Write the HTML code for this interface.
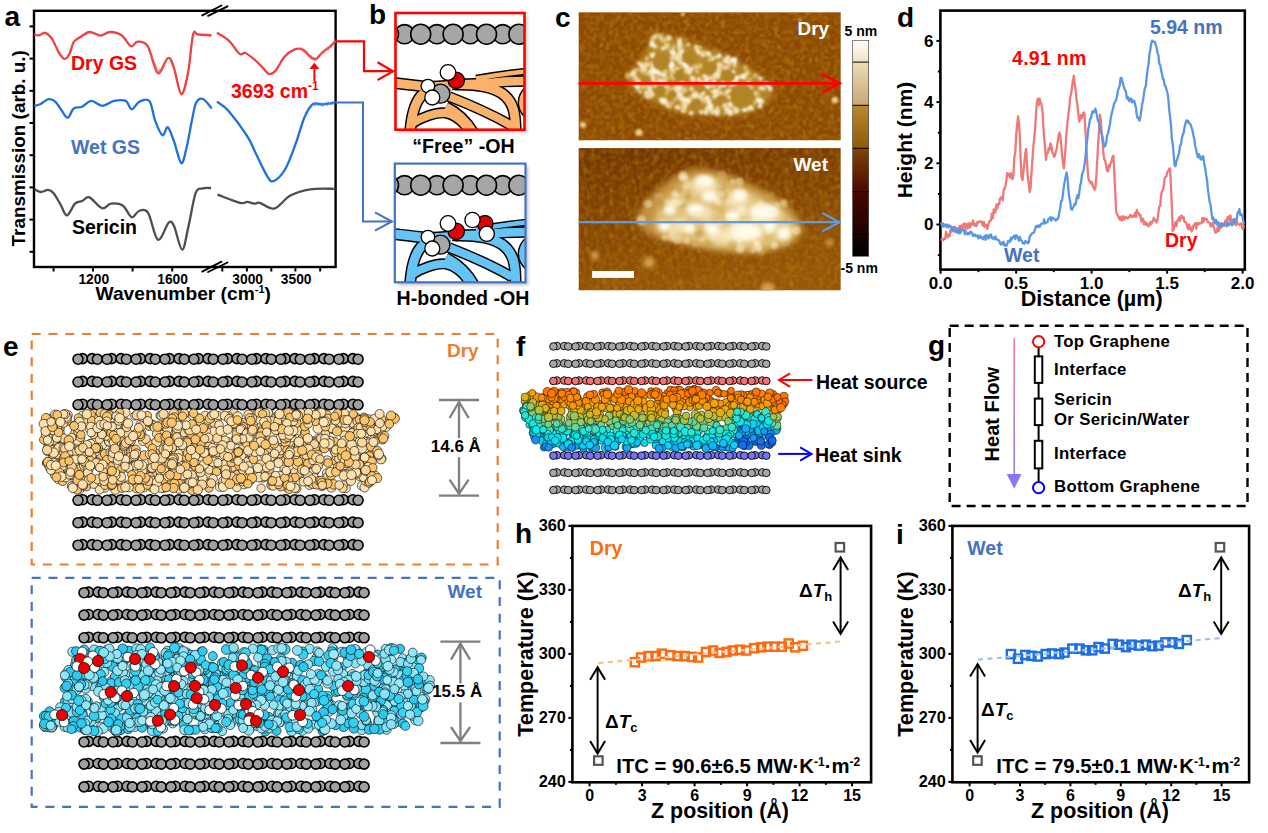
<!DOCTYPE html>
<html><head><meta charset="utf-8"><style>
html,body{margin:0;padding:0;background:#fff;}
svg{display:block;font-family:"Liberation Sans", sans-serif;}
</style></head><body>
<svg width="1268" height="833" viewBox="0 0 1268 833">
<rect width="1268" height="833" fill="#fff"/>
<rect x="34" y="10.8" width="301.6" height="256.2" fill="none" stroke="#000" stroke-width="2.4"/>
<line x1="29.5" y1="26.4" x2="34" y2="26.4" stroke="#000" stroke-width="2"/>
<line x1="29.5" y1="58.6" x2="34" y2="58.6" stroke="#000" stroke-width="2"/>
<line x1="29.5" y1="90.8" x2="34" y2="90.8" stroke="#000" stroke-width="2"/>
<line x1="29.5" y1="123" x2="34" y2="123" stroke="#000" stroke-width="2"/>
<line x1="29.5" y1="155.2" x2="34" y2="155.2" stroke="#000" stroke-width="2"/>
<line x1="29.5" y1="187.4" x2="34" y2="187.4" stroke="#000" stroke-width="2"/>
<line x1="29.5" y1="219.6" x2="34" y2="219.6" stroke="#000" stroke-width="2"/>
<line x1="29.5" y1="251.8" x2="34" y2="251.8" stroke="#000" stroke-width="2"/>
<line x1="53.6" y1="267" x2="53.6" y2="271.5" stroke="#000" stroke-width="2"/>
<line x1="93" y1="267" x2="93" y2="271.5" stroke="#000" stroke-width="2"/>
<line x1="132.6" y1="267" x2="132.6" y2="271.5" stroke="#000" stroke-width="2"/>
<line x1="172.2" y1="267" x2="172.2" y2="271.5" stroke="#000" stroke-width="2"/>
<line x1="222.3" y1="267" x2="222.3" y2="271.5" stroke="#000" stroke-width="2"/>
<line x1="246.9" y1="267" x2="246.9" y2="271.5" stroke="#000" stroke-width="2"/>
<line x1="271.3" y1="267" x2="271.3" y2="271.5" stroke="#000" stroke-width="2"/>
<line x1="295.4" y1="267" x2="295.4" y2="271.5" stroke="#000" stroke-width="2"/>
<line x1="320.2" y1="267" x2="320.2" y2="271.5" stroke="#000" stroke-width="2"/>
<line x1="202.2" y1="15.4" x2="221.5" y2="5.5" stroke="#000" stroke-width="1.9" stroke-linecap="round"/>
<line x1="208.1" y1="15.8" x2="227.5" y2="6.3" stroke="#000" stroke-width="1.9" stroke-linecap="round"/>
<line x1="202.2" y1="271.6" x2="221.5" y2="261.7" stroke="#000" stroke-width="1.9" stroke-linecap="round"/>
<line x1="208.1" y1="272" x2="227.5" y2="262.5" stroke="#000" stroke-width="1.9" stroke-linecap="round"/>
<text x="93.8" y="284" font-size="13.8" fill="#000" text-anchor="middle" font-weight="bold" >1200</text>
<text x="172.6" y="284" font-size="13.8" fill="#000" text-anchor="middle" font-weight="bold" >1600</text>
<text x="247.7" y="284" font-size="13.8" fill="#000" text-anchor="middle" font-weight="bold" >3000</text>
<text x="296.2" y="284" font-size="13.8" fill="#000" text-anchor="middle" font-weight="bold" >3500</text>
<text x="95.5" y="300.2" font-size="19.2" font-weight="bold" fill="#000">Wavenumber (cm<tspan font-size="11" dy="-7.5">-1</tspan><tspan dy="7.5">)</tspan></text>
<text transform="translate(24.8,148.3) rotate(-90)" x="0" y="0" font-size="18.9" font-weight="bold" text-anchor="middle" fill="#000">Transmission (arb. u.)</text>
<path d="M34.2,34.5C35,34.6 37.4,35.6 39.2,35.3C41,35 43,32.2 45.1,32.8C47.2,33.4 49.6,35.5 51.9,38.7C54.1,41.9 56.5,48.7 58.6,52.1C60.7,55.5 62.7,58.6 64.5,58.9C66.3,59.2 68,56.6 69.5,53.8C71,51 71.9,44.8 73.7,42C75.5,39.2 77.7,38.7 80.4,37C83.1,35.3 86.3,32.2 89.7,32C93.1,31.8 97.2,35.6 100.6,35.6C104,35.6 106.4,32 109.9,32C113.4,31.9 118.1,32.9 121.6,35.3C125.1,37.7 128.2,45.1 130.9,46.2C133.6,47.3 134.8,41.7 137.6,41.7C140.4,41.7 144.3,41 147.7,46.2C151.1,51.4 154.4,71.1 157.8,73.1C161.2,75.1 165.2,59 167.9,58C170.6,57 171.6,61.3 173.8,67.3C176,73.3 178.9,93.4 181.3,94.2C183.7,95 186.1,82.2 188.1,72.3C190.1,62.3 191.4,40.8 193.1,34.5C194.8,28.2 195,34.4 198.1,34.5C201.2,34.6 209.3,35.2 211.6,35.3" fill="none" stroke="#EE4040" stroke-width="2.3" stroke-linejoin="round"/>
<path d="M216.9,32.8C218.8,34.1 224.8,36.9 228.6,40.4C232.4,43.9 236.8,51.7 239.6,53.8C242.4,55.9 242.8,51.9 245.4,53C248.1,54.1 252.7,58.1 255.5,60.5C258.3,62.9 260.1,65 262.3,67.3C264.6,69.5 266.8,73.5 269,74C271.2,74.5 273.2,73.4 275.7,70.6C278.2,67.8 281,60.7 284.1,57.2C287.2,53.7 291.1,50.9 294.2,49.6C297.3,48.3 299.8,48.3 302.6,49.6C305.4,50.9 308.8,55.7 311,57.2C313.2,58.8 314.1,59.8 316.1,58.9C318.1,58 320.6,54.1 322.8,52.1C325,50.1 327.4,48.9 329.5,47.1C331.6,45.3 334.4,42.2 335.4,41.2" fill="none" stroke="#EE4040" stroke-width="2.3" stroke-linejoin="round"/>
<path d="M34.2,105.9C35.2,105.6 37.7,105.4 40.1,104.3C42.5,103.2 46,99.6 48.5,99.2C51,98.8 53,99.7 55.2,101.7C57.5,103.7 59.9,108.3 62,111C64.1,113.7 65.8,118.1 67.8,117.7C69.8,117.3 71.3,110.3 73.7,108.5C76.1,106.7 79.1,108.1 82.1,106.8C85,105.5 88,101.1 91.4,100.9C94.8,100.8 98.5,105.9 102.3,105.9C106.1,105.9 110.2,101.7 114.1,100.9C118,100.1 122.9,99.5 125.8,100.9C128.7,102.3 129.4,109.2 131.7,109.3C133.9,109.4 136.4,103.1 139.3,101.7C142.2,100.3 146.7,97.7 149.4,100.9C152.1,104.1 153.1,115.4 155.3,121.1C157.5,126.8 160.3,134.3 162.4,135.3C164.5,136.3 165.9,126.2 167.8,127.2C169.8,128.2 171.8,135.6 174.1,141.6C176.3,147.6 179.2,162.3 181.3,163.2C183.4,164.1 184.9,154.2 186.7,147C188.5,139.8 190.4,127.3 192,120C193.6,112.7 194.2,106.5 196,103C197.8,99.5 200.4,98.1 203,99C205.6,99.9 210.3,106.9 211.8,108.5" fill="none" stroke="#1E6FE0" stroke-width="2.3" stroke-linejoin="round"/>
<path d="M216.9,101.7C218.8,103.2 223.6,105.2 228.6,111C233.6,116.8 242.6,129 247.2,136.2C251.8,143.4 252.9,147.6 256.2,154.2C259.5,160.8 264.1,171.3 267,175.8C269.9,180.3 270.3,182.2 273.3,181.2C276.3,180.1 281.2,175.8 285,169.5C288.8,163.2 292.6,152 295.8,143.4C299,134.8 301.5,124.2 304.3,117.7C307.1,111.2 309.6,106.5 312.7,104.3C315.8,102.1 319,104.6 322.8,104.3C326.6,104 333.3,102.9 335.4,102.6" fill="none" stroke="#1E6FE0" stroke-width="2.3" stroke-linejoin="round"/>
<path d="M34.5,189.3C35.5,189.8 38.5,191.9 40.8,192C43,192.1 45.9,189.8 48,189.9C50.1,190.1 51.3,190.5 53.4,192.9C55.5,195.3 58.4,200.8 60.6,204.6C62.9,208.3 64.5,215.6 66.9,215.4C69.3,215.2 72.5,206.1 75,203.7C77.5,201.3 79.8,202.1 82.2,201C84.6,199.9 86.1,196.2 89.4,197.4C92.7,198.6 98.4,207.1 102,208.2C105.6,209.2 107.5,204.1 111,203.7C114.5,203.2 119.2,203.2 122.7,205.5C126.2,207.8 129,216.3 131.7,217.2C134.4,218.1 136.3,211.8 139,211C141.7,210.2 144.8,207.9 148,212.7C151.2,217.5 154.5,238.2 157.9,239.8C161.3,241.5 166,224.9 168.7,222.6C171.4,220.3 171.8,221.7 174.1,226.2C176.3,230.7 179.8,249.7 182.2,249.7C184.6,249.7 186.2,235.7 188.5,226.2C190.8,216.7 193.3,199.2 195.7,192.9C198.1,186.6 200.3,189.2 202.9,188.4C205.5,187.6 209.7,188.1 211,188" fill="none" stroke="#4D4D4D" stroke-width="2.3" stroke-linejoin="round"/>
<path d="M217.5,194.7C221.2,196 235.1,201.6 240,202.8C244.9,204 244.8,201.8 247.2,201.9C249.6,202.1 252.3,203.5 254.4,203.7C256.5,203.8 256.5,202 259.8,202.8C263.1,203.6 269.1,209.8 274.2,208.6C279.3,207.4 284.4,198.8 290.4,195.6C296.4,192.4 302.8,190.4 310.3,189.3C317.8,188.2 331.3,188.9 335.5,188.8" fill="none" stroke="#4D4D4D" stroke-width="2.3" stroke-linejoin="round"/>
<path d="M300,48.3 L300.5,49.8 M300.6,48.9 L301.1,50.1 M301.2,50.2 L301.7,47.4 M301.8,47.2 L302.3,51.3 M302.4,48.4 L302.9,48.3 M303,52.4 L303.5,49.8 M303.6,52.2 L304.1,50.3 M304.2,51.7 L304.7,49.3 M304.7,52.2 L305.2,53.4 M305.3,52.2 L305.8,53.3 M305.9,53.5 L306.4,50.4 M306.5,54.4 L307,53.6 M307.1,52.7 L307.6,51.3 M307.7,56.1 L308.2,54.1 M308.3,55.9 L308.8,56.7 M308.9,56.4 L309.4,57.4 M309.5,55.3 L310,57.3 M310.1,56.1 L310.6,58.5 M310.7,58.8 L311.2,54.9 M311.3,55.5 L311.8,55.9 M311.9,59.8 L312.4,57.2 M312.5,58.3 L313,56.7 M313.1,57.9 L313.6,57.3 M313.6,57.3 L314.1,58.5 M314.2,58.7 L314.7,60.3 M314.8,59.4 L315.3,60.6 M315.4,60.5 L315.9,61.1 M316,59.7 L316.5,57.2 M316.6,60.2 L317.1,60.7 M317.2,59.8 L317.7,58.1 M317.8,58.2 L318.3,55.7 M318.4,58.2 L318.9,56.9 M319,54.9 L319.5,53.8 M319.6,57.1 L320.1,57.8 M320.2,52.7 L320.7,56.3 M320.8,53.7 L321.3,52.4 M321.4,52.5 L321.9,54.9 M321.9,54.8 L322.4,50.7 M322.5,52.9 L323,50.1 M323.1,52.9 L323.6,51 M323.7,53.3 L324.2,53.8 M324.3,51 L324.8,53.5 M324.9,49.6 L325.4,48.4 M325.5,50.6 L326,47.7 M326.1,48.1 L326.6,49.2 M326.7,49.7 L327.2,47.5 M327.3,46.5 L327.8,50.6 M327.9,47.4 L328.4,50.6 M328.5,49.8 L329,47.3 M329.1,47.2 L329.6,47.5 M329.7,47.7 L330.2,47.4 M330.3,46.6 L330.8,46.9 M330.8,48 L331.3,45.8 M331.4,44.8 L331.9,46.3 M332,43.3 L332.5,43.6 M332.6,46.4 L333.1,44.1 M333.2,43.6 L333.7,40.9 M333.8,42.4 L334.3,43.2 M334.4,39.8 L334.9,42.8 M335,42.3 L335.5,39.4 " stroke="#EE6060" stroke-width="0.7" opacity="0.8"/>
<path d="M306,115.6 L306.5,114.8 M306.5,115.1 L307,113.5 M307,114.5 L307.5,114.6 M307.5,110.2 L308,110.4 M308,112.7 L308.5,114.2 M308.5,109.8 L309,110.8 M308.9,110.7 L309.4,109.4 M309.4,108.8 L309.9,108.6 M309.9,108.1 L310.4,109.2 M310.4,106.9 L310.9,107.3 M310.9,108.5 L311.4,104.8 M311.4,106.7 L311.9,107.5 M311.9,104.6 L312.4,104.2 M312.4,106.3 L312.9,103.5 M312.9,102.7 L313.4,104 M313.4,105.3 L313.9,102.3 M313.9,103.4 L314.4,103.5 M314.4,106 L314.9,104 M314.8,106.1 L315.3,102.6 M315.3,103.5 L315.8,105.1 M315.8,106.2 L316.3,104.1 M316.3,102.9 L316.8,102.4 M316.8,104.4 L317.3,102.8 M317.3,105.8 L317.8,106 M317.8,102.7 L318.3,103.2 M318.3,105.8 L318.8,105 M318.8,105.8 L319.3,103.5 M319.3,102.4 L319.8,103.3 M319.8,105.8 L320.3,103.2 M320.3,103.5 L320.8,103.9 M320.7,103.9 L321.2,103.8 M321.2,106.4 L321.7,102.6 M321.7,101.8 L322.2,106.5 M322.2,106.2 L322.7,106.7 M322.7,104 L323.2,106.6 M323.2,106.4 L323.7,102.9 M323.7,105.4 L324.2,105.9 M324.2,104.9 L324.7,104.2 M324.7,103 L325.2,103.3 M325.2,102.6 L325.7,101.8 M325.7,104.4 L326.2,102.8 M326.2,105.4 L326.7,101.6 M326.6,105.8 L327.1,104.7 M327.1,105.8 L327.6,105.7 M327.6,105.6 L328.1,104 M328.1,101.1 L328.6,104.8 M328.6,101.9 L329.1,102.5 M329.1,104.3 L329.6,103.6 M329.6,103 L330.1,105.6 M330.1,103.9 L330.6,102.5 M330.6,102 L331.1,105.1 M331.1,103.1 L331.6,104.6 M331.6,102.4 L332.1,101.6 M332.1,103.2 L332.6,104.6 M332.5,101.3 L333,104.4 M333,105 L333.5,104.4 M333.5,104.5 L334,100.4 M334,103.4 L334.5,104.6 M334.5,100.5 L335,101.6 M335,101.5 L335.5,102.8 " stroke="#4A8AE8" stroke-width="0.7" opacity="0.8"/>
<path d="M150,51.9 L150.5,52.2 M150.2,54.2 L150.7,50.3 M150.3,51 L150.8,51.4 M150.5,51.8 L151,51.5 M150.7,56.5 L151.2,55.9 M150.8,52.5 L151.3,54.6 M151,54.1 L151.5,54.1 M151.2,54.7 L151.7,56.2 M151.4,56.4 L151.9,55.2 M151.5,54.8 L152,55.5 M151.7,55 L152.2,57.1 M151.9,58.4 L152.4,56.7 M152,55.6 L152.5,56.1 M152.2,57.6 L152.7,58.7 M152.4,60.1 L152.9,58 M152.5,60.6 L153,59.7 M152.7,59.2 L153.2,58.9 M152.9,60 L153.4,61 M153.1,60.1 L153.6,61.4 M153.2,60.7 L153.7,59.6 M153.4,61.5 L153.9,62.3 M153.6,59.7 L154.1,61.4 M153.7,61.9 L154.2,64.2 M153.9,64.9 L154.4,62.1 M154.1,65.1 L154.6,64.6 M154.2,62.4 L154.7,63.4 M154.4,62.2 L154.9,65.6 M154.6,65.3 L155.1,66.5 M154.7,66.4 L155.2,65.8 M154.9,66.6 L155.4,65.7 M155.1,63.9 L155.6,66.3 M155.3,63.8 L155.8,64.5 M155.4,68.1 L155.9,64.5 M155.6,65.2 L156.1,65.2 M155.8,69.6 L156.3,66.1 M155.9,65.7 L156.4,69.8 M156.1,66.7 L156.6,70.3 M156.3,69.9 L156.8,70.7 M156.4,71.7 L156.9,69.9 M156.6,71.4 L157.1,67.6 M156.8,71.7 L157.3,70.4 M156.9,71.9 L157.4,68.9 M157.1,72.5 L157.6,73.5 M157.3,69.5 L157.8,70.9 M157.5,72.5 L158,73.8 M157.6,71.4 L158.1,71 M157.8,71.8 L158.3,73.7 M158,74.1 L158.5,72.3 M158.1,71.9 L158.6,72.1 M158.3,71.6 L158.8,71.9 M158.5,70 L159,72.1 M158.6,74.2 L159.1,71.4 M158.8,72.8 L159.3,69.9 M159,72.3 L159.5,72.6 M159.2,71.9 L159.7,71.2 M159.3,70.7 L159.8,71.5 M159.5,72.6 L160,68.8 M159.7,68.3 L160.2,71.6 M159.8,72.1 L160.3,70.2 M160,69.5 L160.5,70.9 " stroke="#EE6060" stroke-width="0.7" opacity="0.8"/>
<text x="71" y="69.8" font-size="19.5" fill="#FF0000" text-anchor="start" font-weight="bold" >Dry GS</text>
<text x="71" y="154.2" font-size="19.5" fill="#4472C4" text-anchor="start" font-weight="bold" >Wet GS</text>
<text x="72" y="234.4" font-size="19.5" fill="#000" text-anchor="start" font-weight="bold" >Sericin</text>
<text x="231" y="97.5" font-size="19.5" font-weight="bold" fill="#FF0000">3693 cm<tspan font-size="12" dy="-8">-1</tspan></text>
<line x1="314.4" y1="81" x2="314.4" y2="67" stroke="#FF0000" stroke-width="2"/>
<path d="M309.5,69 L314.4,62.5 L319.3,69 Z" fill="#FF0000"/>
<path d="M336,41.3 H364 V71.2 H393" fill="none" stroke="#FF0000" stroke-width="2.2"/>
<path d="M377.5,62.3 L393,71.2 L377.5,80.1" fill="none" stroke="#FF0000" stroke-width="2.2"/>
<path d="M336,102.6 H363 V221.5 H392" fill="none" stroke="#4472C4" stroke-width="2"/>
<path d="M375,212.3 L392,221.5 L375,230.7" fill="none" stroke="#4472C4" stroke-width="2"/>
<text x="4.5" y="26" font-size="28" fill="#000" text-anchor="start" font-weight="bold" >a</text>
<defs><filter id="blur2" x="-10%" y="-10%" width="120%" height="120%"><feGaussianBlur stdDeviation="1.5"/></filter></defs>
<defs><clipPath id="cbr"><rect x="395.5" y="13" width="129" height="116.7"/></clipPath></defs>
<rect x="398.5" y="16" width="129" height="116.7" fill="#999" opacity="0.55" filter="url(#blur2)"/>
<rect x="395.5" y="13" width="129" height="116.7" fill="#fff"/>
<g clip-path="url(#cbr)">
<circle cx="404.5" cy="34.2" r="9.6" fill="#A6A6A6" stroke="#000" stroke-width="1.6"/>
<circle cx="436.9" cy="34.2" r="9.6" fill="#A6A6A6" stroke="#000" stroke-width="1.6"/>
<circle cx="470.2" cy="34.2" r="9.6" fill="#A6A6A6" stroke="#000" stroke-width="1.6"/>
<circle cx="502.7" cy="34.2" r="9.6" fill="#A6A6A6" stroke="#000" stroke-width="1.6"/>
<circle cx="388.5" cy="34.2" r="10" fill="#A6A6A6" stroke="#000" stroke-width="1.6"/>
<circle cx="420.7" cy="34.2" r="10" fill="#A6A6A6" stroke="#000" stroke-width="1.6"/>
<circle cx="453.1" cy="34.2" r="10" fill="#A6A6A6" stroke="#000" stroke-width="1.6"/>
<circle cx="486.5" cy="34.2" r="10" fill="#A6A6A6" stroke="#000" stroke-width="1.6"/>
<circle cx="518.9" cy="34.2" r="10" fill="#A6A6A6" stroke="#000" stroke-width="1.6"/>
<path d="M390,82.5 C400,83.5 412,85 424,86.5 C432,87.5 440,86.5 450,85.5" transform="translate(0,0)" fill="none" stroke="#000" stroke-width="12" stroke-linecap="butt"/>
<path d="M476,78.5 C490,76 505,73.5 530,71" transform="translate(0,0)" fill="none" stroke="#000" stroke-width="7.5" stroke-linecap="butt"/>
<path d="M452,84.5 C470,84 488,83.5 500,82 C510,81 520,81 530,81" transform="translate(0,0)" fill="none" stroke="#000" stroke-width="11.5" stroke-linecap="butt"/>
<path d="M455,84.5 C475,84 493,87 503,94 C513,102 516,112 515.5,135" transform="translate(0,0)" fill="none" stroke="#000" stroke-width="12" stroke-linecap="butt"/>
<path d="M449,96.5 C468,104 490,113 512,126" transform="translate(0,0)" fill="none" stroke="#000" stroke-width="11" stroke-linecap="butt"/>
<path d="M446,106.5 C457,112 467,120 475,135" transform="translate(0,0)" fill="none" stroke="#000" stroke-width="11" stroke-linecap="butt"/>
<path d="M410,135 C411,118 414,104 421,96 C424,93 427,92 430,92" transform="translate(0,0)" fill="none" stroke="#000" stroke-width="12" stroke-linecap="butt"/>
<path d="M411,124 C422,117 436,112 446,113 C456,115 465,123 472,135" transform="translate(0,0)" fill="none" stroke="#000" stroke-width="11" stroke-linecap="butt"/>
<path d="M531,89 C521,96 520,108 531,116" transform="translate(0,0)" fill="none" stroke="#000" stroke-width="11" stroke-linecap="butt"/>
<path d="M390,82.5 C400,83.5 412,85 424,86.5 C432,87.5 440,86.5 450,85.5" transform="translate(0,0)" fill="none" stroke="#F9B26B" stroke-width="9.1" stroke-linecap="butt"/>
<path d="M476,78.5 C490,76 505,73.5 530,71" transform="translate(0,0)" fill="none" stroke="#F9B26B" stroke-width="4.6" stroke-linecap="butt"/>
<path d="M452,84.5 C470,84 488,83.5 500,82 C510,81 520,81 530,81" transform="translate(0,0)" fill="none" stroke="#F9B26B" stroke-width="8.6" stroke-linecap="butt"/>
<path d="M455,84.5 C475,84 493,87 503,94 C513,102 516,112 515.5,135" transform="translate(0,0)" fill="none" stroke="#F9B26B" stroke-width="9.1" stroke-linecap="butt"/>
<path d="M449,96.5 C468,104 490,113 512,126" transform="translate(0,0)" fill="none" stroke="#F9B26B" stroke-width="8.1" stroke-linecap="butt"/>
<path d="M446,106.5 C457,112 467,120 475,135" transform="translate(0,0)" fill="none" stroke="#F9B26B" stroke-width="8.1" stroke-linecap="butt"/>
<path d="M410,135 C411,118 414,104 421,96 C424,93 427,92 430,92" transform="translate(0,0)" fill="none" stroke="#F9B26B" stroke-width="9.1" stroke-linecap="butt"/>
<path d="M411,124 C422,117 436,112 446,113 C456,115 465,123 472,135" transform="translate(0,0)" fill="none" stroke="#F9B26B" stroke-width="8.1" stroke-linecap="butt"/>
<path d="M531,89 C521,96 520,108 531,116" transform="translate(0,0)" fill="none" stroke="#F9B26B" stroke-width="8.1" stroke-linecap="butt"/>
<circle cx="440.4" cy="93.7" r="9.5" fill="#A6A6A6" stroke="#000" stroke-width="1.3"/>
<circle cx="427.9" cy="86.1" r="6.8" fill="#fff" stroke="#000" stroke-width="1.3"/>
<circle cx="432.3" cy="97.5" r="7.5" fill="#fff" stroke="#000" stroke-width="1.3"/>
<circle cx="456.2" cy="80.3" r="8.2" fill="#E00000" stroke="#000" stroke-width="1.3"/>
<circle cx="448" cy="72.5" r="7.8" fill="#fff" stroke="#000" stroke-width="1.3"/>
</g>
<rect x="395.5" y="13" width="129" height="116.7" fill="none" stroke="#FF0000" stroke-width="2.6"/>
<defs><clipPath id="cbb"><rect x="394.8" y="163.6" width="130.7" height="118.7"/></clipPath></defs>
<rect x="397.8" y="166.6" width="130.7" height="118.7" fill="#999" opacity="0.55" filter="url(#blur2)"/>
<rect x="394.8" y="163.6" width="130.7" height="118.7" fill="#fff"/>
<g clip-path="url(#cbb)">
<circle cx="404.5" cy="185.2" r="9.6" fill="#A6A6A6" stroke="#000" stroke-width="1.6"/>
<circle cx="436.9" cy="185.2" r="9.6" fill="#A6A6A6" stroke="#000" stroke-width="1.6"/>
<circle cx="470.2" cy="185.2" r="9.6" fill="#A6A6A6" stroke="#000" stroke-width="1.6"/>
<circle cx="502.7" cy="185.2" r="9.6" fill="#A6A6A6" stroke="#000" stroke-width="1.6"/>
<circle cx="388.5" cy="185.2" r="10" fill="#A6A6A6" stroke="#000" stroke-width="1.6"/>
<circle cx="420.7" cy="185.2" r="10" fill="#A6A6A6" stroke="#000" stroke-width="1.6"/>
<circle cx="453.1" cy="185.2" r="10" fill="#A6A6A6" stroke="#000" stroke-width="1.6"/>
<circle cx="486.5" cy="185.2" r="10" fill="#A6A6A6" stroke="#000" stroke-width="1.6"/>
<circle cx="518.9" cy="185.2" r="10" fill="#A6A6A6" stroke="#000" stroke-width="1.6"/>
<path d="M390,82.5 C400,83.5 412,85 424,86.5 C432,87.5 440,86.5 450,85.5" transform="translate(0,151)" fill="none" stroke="#000" stroke-width="12" stroke-linecap="butt"/>
<path d="M476,78.5 C490,76 505,73.5 530,71" transform="translate(0,151)" fill="none" stroke="#000" stroke-width="7.5" stroke-linecap="butt"/>
<path d="M452,84.5 C470,84 488,83.5 500,82 C510,81 520,81 530,81" transform="translate(0,151)" fill="none" stroke="#000" stroke-width="11.5" stroke-linecap="butt"/>
<path d="M455,84.5 C475,84 493,87 503,94 C513,102 516,112 515.5,135" transform="translate(0,151)" fill="none" stroke="#000" stroke-width="12" stroke-linecap="butt"/>
<path d="M449,96.5 C468,104 490,113 512,126" transform="translate(0,151)" fill="none" stroke="#000" stroke-width="11" stroke-linecap="butt"/>
<path d="M446,106.5 C457,112 467,120 475,135" transform="translate(0,151)" fill="none" stroke="#000" stroke-width="11" stroke-linecap="butt"/>
<path d="M410,135 C411,118 414,104 421,96 C424,93 427,92 430,92" transform="translate(0,151)" fill="none" stroke="#000" stroke-width="12" stroke-linecap="butt"/>
<path d="M411,124 C422,117 436,112 446,113 C456,115 465,123 472,135" transform="translate(0,151)" fill="none" stroke="#000" stroke-width="11" stroke-linecap="butt"/>
<path d="M531,89 C521,96 520,108 531,116" transform="translate(0,151)" fill="none" stroke="#000" stroke-width="11" stroke-linecap="butt"/>
<path d="M390,82.5 C400,83.5 412,85 424,86.5 C432,87.5 440,86.5 450,85.5" transform="translate(0,151)" fill="none" stroke="#66C4F5" stroke-width="9.1" stroke-linecap="butt"/>
<path d="M476,78.5 C490,76 505,73.5 530,71" transform="translate(0,151)" fill="none" stroke="#66C4F5" stroke-width="4.6" stroke-linecap="butt"/>
<path d="M452,84.5 C470,84 488,83.5 500,82 C510,81 520,81 530,81" transform="translate(0,151)" fill="none" stroke="#66C4F5" stroke-width="8.6" stroke-linecap="butt"/>
<path d="M455,84.5 C475,84 493,87 503,94 C513,102 516,112 515.5,135" transform="translate(0,151)" fill="none" stroke="#66C4F5" stroke-width="9.1" stroke-linecap="butt"/>
<path d="M449,96.5 C468,104 490,113 512,126" transform="translate(0,151)" fill="none" stroke="#66C4F5" stroke-width="8.1" stroke-linecap="butt"/>
<path d="M446,106.5 C457,112 467,120 475,135" transform="translate(0,151)" fill="none" stroke="#66C4F5" stroke-width="8.1" stroke-linecap="butt"/>
<path d="M410,135 C411,118 414,104 421,96 C424,93 427,92 430,92" transform="translate(0,151)" fill="none" stroke="#66C4F5" stroke-width="9.1" stroke-linecap="butt"/>
<path d="M411,124 C422,117 436,112 446,113 C456,115 465,123 472,135" transform="translate(0,151)" fill="none" stroke="#66C4F5" stroke-width="8.1" stroke-linecap="butt"/>
<path d="M531,89 C521,96 520,108 531,116" transform="translate(0,151)" fill="none" stroke="#66C4F5" stroke-width="8.1" stroke-linecap="butt"/>
<circle cx="440.4" cy="244.7" r="9.5" fill="#A6A6A6" stroke="#000" stroke-width="1.3"/>
<circle cx="427.9" cy="237.1" r="6.8" fill="#fff" stroke="#000" stroke-width="1.3"/>
<circle cx="432.3" cy="248.5" r="7.5" fill="#fff" stroke="#000" stroke-width="1.3"/>
<circle cx="456.2" cy="231.3" r="8.2" fill="#E00000" stroke="#000" stroke-width="1.3"/>
<circle cx="448" cy="223.5" r="7.8" fill="#fff" stroke="#000" stroke-width="1.3"/>
<circle cx="485" cy="223.5" r="8" fill="#E00000" stroke="#000" stroke-width="1.3"/>
<circle cx="472.5" cy="220" r="7.6" fill="#fff" stroke="#000" stroke-width="1.3"/>
<circle cx="486.8" cy="233.8" r="7.6" fill="#fff" stroke="#000" stroke-width="1.3"/>
</g>
<rect x="394.8" y="163.6" width="130.7" height="118.7" fill="none" stroke="#4472C4" stroke-width="2.2"/>
<text x="463.4" y="153.3" font-size="19.6" fill="#000" text-anchor="middle" font-weight="bold" >“Free” -OH</text>
<text x="463" y="305.2" font-size="19.6" fill="#000" text-anchor="middle" font-weight="bold" >H-bonded -OH</text>
<text x="369" y="24.3" font-size="28" fill="#000" text-anchor="start" font-weight="bold" >b</text>
<defs>
<clipPath id="afm1"><rect x="578.5" y="12.2" width="262.3" height="128.2"/></clipPath>
<clipPath id="afm2"><rect x="578.5" y="148.1" width="262.3" height="142.3"/></clipPath>
<filter id="grain" x="0" y="0" width="100%" height="100%"><feTurbulence type="fractalNoise" baseFrequency="0.32" numOctaves="1" seed="4"/><feGaussianBlur stdDeviation="0.9"/><feColorMatrix type="matrix" values="0 0 0 0 0.66  0 0 0 0 0.40  0 0 0 0 0.04  4.0 0 0 0 -1.9"/></filter>
<filter id="grain2" x="0" y="0" width="100%" height="100%"><feTurbulence type="fractalNoise" baseFrequency="0.2" numOctaves="1" seed="9"/><feGaussianBlur stdDeviation="1.2"/><feColorMatrix type="matrix" values="0 0 0 0 0.40  0 0 0 0 0.17  0 0 0 0 0  4.0 0 0 0 -1.8"/></filter>
<filter id="streak" x="0" y="0" width="100%" height="100%"><feTurbulence type="fractalNoise" baseFrequency="0.3 0.012" numOctaves="1" seed="2"/><feGaussianBlur stdDeviation="0.6"/><feColorMatrix type="matrix" values="0 0 0 0 0.72  0 0 0 0 0.45  0 0 0 0 0.08  2.5 0 0 0 -1.2"/></filter>
<filter id="bl3" x="-30%" y="-30%" width="160%" height="160%"><feGaussianBlur stdDeviation="3"/></filter>
<filter id="bl15" x="-30%" y="-30%" width="160%" height="160%"><feGaussianBlur stdDeviation="1.3"/></filter>
<filter id="bl2" x="-30%" y="-30%" width="160%" height="160%"><feGaussianBlur stdDeviation="2.2"/></filter>
<filter id="bl1" x="-30%" y="-30%" width="160%" height="160%"><feGaussianBlur stdDeviation="0.8"/></filter>
<linearGradient id="wetbg" x1="0" y1="0" x2="0.3" y2="1"><stop offset="0" stop-color="#713300"/><stop offset="1" stop-color="#965408"/></linearGradient>
<linearGradient id="cbar" x1="0" y1="0" x2="0" y2="1">
<stop offset="0" stop-color="#FFFFFF"/><stop offset="0.1" stop-color="#EFE3C3"/>
<stop offset="0.1" stop-color="#EADCB8"/><stop offset="0.3" stop-color="#C8A870"/>
<stop offset="0.3" stop-color="#B8892E"/><stop offset="0.5" stop-color="#8E5A08"/>
<stop offset="0.5" stop-color="#804408"/><stop offset="0.7" stop-color="#4E0800"/>
<stop offset="0.7" stop-color="#480600"/><stop offset="0.9" stop-color="#1E0200"/>
<stop offset="0.9" stop-color="#1A0100"/><stop offset="1" stop-color="#000"/>
</linearGradient>
</defs>
<g clip-path="url(#afm1)">
<rect x="578.5" y="12.2" width="262.3" height="128.2" fill="#8E4A04"/>
<rect x="578.5" y="12.2" width="262.3" height="128.2" filter="url(#grain2)" opacity="0.55"/>
<rect x="578.5" y="12.2" width="262.3" height="128.2" filter="url(#grain)" opacity="0.4"/>
<path d="M652.6,33.5C656.6,34.3 669.6,36.6 676.7,38.5C683.8,40.4 688.3,42.4 695.2,44.8C702.1,47.2 710.8,50 717.9,52.7C725,55.4 730.9,57.4 737.8,61.2C744.7,65 753.2,70.7 759.1,75.4C765,80.1 772.6,84.6 773.3,89.6C774,94.6 769.2,101 763.3,105.2C757.4,109.5 746.8,113.4 737.8,115.1C728.8,116.8 718.9,115.6 709.4,115.1C699.9,114.6 690.5,114.7 681,112.3C671.5,109.9 660.2,104.5 652.6,100.9C645,97.4 639.9,95 635.6,91C631.3,87 626.5,81.5 627,76.8C627.5,72.1 634.6,67.8 638.4,62.6C642.2,57.4 647.4,50.5 649.8,45.6C652.2,40.8 648.1,34.7 652.6,33.5C657.1,32.3 669.6,36.6 676.7,38.5C683.8,40.4 692.1,43.8 695.2,44.8" fill="#B8882A" filter="url(#bl3)"/>
<clipPath id="dryclip"><path d="M652.6,33.5C656.6,34.3 669.6,36.6 676.7,38.5C683.8,40.4 688.3,42.4 695.2,44.8C702.1,47.2 710.8,50 717.9,52.7C725,55.4 730.9,57.4 737.8,61.2C744.7,65 753.2,70.7 759.1,75.4C765,80.1 772.6,84.6 773.3,89.6C774,94.6 769.2,101 763.3,105.2C757.4,109.5 746.8,113.4 737.8,115.1C728.8,116.8 718.9,115.6 709.4,115.1C699.9,114.6 690.5,114.7 681,112.3C671.5,109.9 660.2,104.5 652.6,100.9C645,97.4 639.9,95 635.6,91C631.3,87 626.5,81.5 627,76.8C627.5,72.1 634.6,67.8 638.4,62.6C642.2,57.4 647.4,50.5 649.8,45.6C652.2,40.8 648.1,34.7 652.6,33.5C657.1,32.3 669.6,36.6 676.7,38.5C683.8,40.4 692.1,43.8 695.2,44.8"/></clipPath>
<g filter="url(#bl15)">
<circle cx="692.9" cy="79.6" r="3" fill="#FFFFFF" opacity="0.7"/>
<circle cx="701.2" cy="81.9" r="2.2" fill="#FFF4D6" opacity="0.7"/>
<circle cx="652.7" cy="75.5" r="2.5" fill="#FFFBEA" opacity="0.7"/>
<circle cx="723.1" cy="84.3" r="3" fill="#FFFBEA" opacity="0.7"/>
<circle cx="672.3" cy="51.5" r="3" fill="#FFFFFF" opacity="0.7"/>
<circle cx="668.4" cy="38" r="2.7" fill="#FFF4D6" opacity="0.7"/>
<circle cx="636" cy="85.5" r="2.3" fill="#E8CC88" opacity="0.7"/>
<circle cx="653.6" cy="94.2" r="1.9" fill="#F2DCA0" opacity="0.7"/>
<circle cx="644.6" cy="86.7" r="2.8" fill="#E8CC88" opacity="0.7"/>
<circle cx="642.5" cy="67.8" r="2.2" fill="#FFFBEA" opacity="0.7"/>
<circle cx="670.6" cy="107.2" r="1.6" fill="#E8CC88" opacity="0.7"/>
<circle cx="669.4" cy="38.2" r="2.7" fill="#F2DCA0" opacity="0.7"/>
<circle cx="638.5" cy="81.5" r="2.5" fill="#FFFFFF" opacity="0.7"/>
<circle cx="661.5" cy="83.1" r="2.7" fill="#FFFBEA" opacity="0.7"/>
<circle cx="711.2" cy="105.7" r="2.2" fill="#FFF4D6" opacity="0.7"/>
<circle cx="652.4" cy="45.1" r="1.6" fill="#F2DCA0" opacity="0.7"/>
<circle cx="761.3" cy="101.5" r="2.9" fill="#FFFBEA" opacity="0.7"/>
<circle cx="662.4" cy="48.1" r="1.8" fill="#FFFFFF" opacity="0.7"/>
<circle cx="735.9" cy="111.9" r="2.4" fill="#E8CC88" opacity="0.7"/>
<circle cx="663.5" cy="102" r="3" fill="#FFFBEA" opacity="0.7"/>
<circle cx="714.5" cy="56.9" r="2" fill="#E8CC88" opacity="0.7"/>
<circle cx="651.3" cy="93.2" r="2.4" fill="#FFFBEA" opacity="0.7"/>
<circle cx="708.9" cy="104.5" r="2.4" fill="#FFF4D6" opacity="0.7"/>
<circle cx="651.4" cy="63.3" r="2.5" fill="#E8CC88" opacity="0.7"/>
<circle cx="679.3" cy="107.7" r="2.3" fill="#F2DCA0" opacity="0.7"/>
<circle cx="730.1" cy="113.8" r="2.1" fill="#FFF4D6" opacity="0.7"/>
<circle cx="697.3" cy="94.1" r="1.9" fill="#FFFFFF" opacity="0.7"/>
<circle cx="636.3" cy="78.4" r="2.3" fill="#FFF4D6" opacity="0.7"/>
<circle cx="735.6" cy="108.5" r="2.4" fill="#FFF4D6" opacity="0.7"/>
<circle cx="744" cy="109.8" r="2.4" fill="#FFFFFF" opacity="0.7"/>
<circle cx="677.8" cy="90.2" r="1.8" fill="#FFFBEA" opacity="0.7"/>
<circle cx="760.1" cy="106" r="2.7" fill="#E8CC88" opacity="0.7"/>
<circle cx="687.6" cy="99.2" r="1.8" fill="#E8CC88" opacity="0.7"/>
<circle cx="718.7" cy="64.5" r="2.3" fill="#FFFFFF" opacity="0.7"/>
<circle cx="712.4" cy="83.8" r="2.5" fill="#FFFBEA" opacity="0.7"/>
<circle cx="637" cy="86.3" r="2.2" fill="#FFFBEA" opacity="0.7"/>
<circle cx="734.2" cy="65" r="1.9" fill="#FFFBEA" opacity="0.7"/>
<circle cx="735.3" cy="81.4" r="2.6" fill="#FFFFFF" opacity="0.7"/>
<circle cx="697.1" cy="51.6" r="1.8" fill="#E8CC88" opacity="0.7"/>
<circle cx="717.2" cy="110.2" r="2.5" fill="#FFFFFF" opacity="0.7"/>
<circle cx="670.2" cy="89.6" r="1.8" fill="#F2DCA0" opacity="0.7"/>
<circle cx="655.4" cy="46.4" r="2.9" fill="#E8CC88" opacity="0.7"/>
<circle cx="760.9" cy="88.1" r="2.5" fill="#FFFBEA" opacity="0.7"/>
<circle cx="674" cy="88.6" r="2.1" fill="#F2DCA0" opacity="0.7"/>
<circle cx="654.8" cy="68.6" r="1.7" fill="#F2DCA0" opacity="0.7"/>
<circle cx="745.9" cy="109.7" r="2.4" fill="#FFFFFF" opacity="0.7"/>
<circle cx="712.5" cy="58.9" r="2.1" fill="#FFFFFF" opacity="0.7"/>
<circle cx="645.4" cy="74.2" r="1.9" fill="#E8CC88" opacity="0.7"/>
<circle cx="731.7" cy="112.8" r="2.9" fill="#E8CC88" opacity="0.7"/>
<circle cx="666.5" cy="46.4" r="3" fill="#FFFBEA" opacity="0.7"/>
<circle cx="718.9" cy="74" r="2.2" fill="#F2DCA0" opacity="0.7"/>
<circle cx="672.3" cy="103.3" r="2" fill="#E8CC88" opacity="0.7"/>
<circle cx="719.4" cy="70" r="2" fill="#F2DCA0" opacity="0.7"/>
<circle cx="719.5" cy="87.7" r="1.7" fill="#FFFFFF" opacity="0.7"/>
<circle cx="696.3" cy="47.2" r="2.1" fill="#FFFFFF" opacity="0.7"/>
<circle cx="684" cy="99.3" r="2.1" fill="#FFFBEA" opacity="0.7"/>
<circle cx="644.5" cy="70.6" r="1.7" fill="#E8CC88" opacity="0.7"/>
<circle cx="718.8" cy="109.3" r="1.7" fill="#E8CC88" opacity="0.7"/>
<circle cx="756.9" cy="99.7" r="2.1" fill="#F2DCA0" opacity="0.7"/>
<circle cx="721.2" cy="93" r="2.2" fill="#FFF4D6" opacity="0.7"/>
<circle cx="705.5" cy="99.2" r="2.5" fill="#F2DCA0" opacity="0.7"/>
<circle cx="637.4" cy="69.5" r="1.6" fill="#F2DCA0" opacity="0.7"/>
<circle cx="707.5" cy="97.3" r="2.3" fill="#FFF4D6" opacity="0.7"/>
<circle cx="675.3" cy="99" r="2.3" fill="#E8CC88" opacity="0.7"/>
<circle cx="702.5" cy="93.5" r="2.3" fill="#FFFBEA" opacity="0.7"/>
<circle cx="658.2" cy="76.8" r="2.1" fill="#E8CC88" opacity="0.7"/>
<circle cx="671.8" cy="64.4" r="3" fill="#FFFBEA" opacity="0.7"/>
<circle cx="751.8" cy="108.5" r="2.6" fill="#F2DCA0" opacity="0.7"/>
<circle cx="685.1" cy="100.1" r="2.9" fill="#F2DCA0" opacity="0.7"/>
<circle cx="665.4" cy="72.2" r="2.9" fill="#F2DCA0" opacity="0.7"/>
<circle cx="644" cy="68.9" r="2.8" fill="#FFF4D6" opacity="0.7"/>
<circle cx="747.4" cy="108.5" r="2.5" fill="#E8CC88" opacity="0.7"/>
<circle cx="653.7" cy="84.5" r="1.7" fill="#FFF4D6" opacity="0.7"/>
<circle cx="728.1" cy="59.4" r="2.3" fill="#E8CC88" opacity="0.7"/>
<circle cx="678.3" cy="84.7" r="2.7" fill="#F2DCA0" opacity="0.7"/>
<circle cx="662.6" cy="48.8" r="1.7" fill="#FFFBEA" opacity="0.7"/>
<circle cx="681.4" cy="67.1" r="1.9" fill="#E8CC88" opacity="0.7"/>
<circle cx="655.6" cy="85.7" r="2" fill="#FFFFFF" opacity="0.7"/>
<circle cx="663.9" cy="40.2" r="2.5" fill="#F2DCA0" opacity="0.7"/>
<circle cx="685.4" cy="90.2" r="2.2" fill="#F2DCA0" opacity="0.7"/>
<circle cx="727.4" cy="109.5" r="2.4" fill="#FFFBEA" opacity="0.7"/>
<circle cx="700.9" cy="96.4" r="1.7" fill="#FFF4D6" opacity="0.7"/>
<circle cx="653.4" cy="38" r="2.8" fill="#F2DCA0" opacity="0.7"/>
<circle cx="694.3" cy="97" r="1.6" fill="#FFF4D6" opacity="0.7"/>
<circle cx="674" cy="71.7" r="2.7" fill="#F2DCA0" opacity="0.7"/>
<circle cx="730.2" cy="103.8" r="2.5" fill="#FFFBEA" opacity="0.7"/>
<circle cx="652.2" cy="70.6" r="3" fill="#FFFFFF" opacity="0.7"/>
<circle cx="735.9" cy="66.5" r="1.7" fill="#E8CC88" opacity="0.7"/>
<circle cx="654.3" cy="46" r="1.7" fill="#FFF4D6" opacity="0.7"/>
<circle cx="759" cy="100.1" r="2.9" fill="#FFFBEA" opacity="0.7"/>
<circle cx="730.7" cy="105.2" r="2.5" fill="#FFF4D6" opacity="0.7"/>
<circle cx="719.4" cy="66.4" r="2.4" fill="#FFFBEA" opacity="0.7"/>
<circle cx="714.9" cy="74.9" r="2.8" fill="#FFFFFF" opacity="0.7"/>
<circle cx="729.2" cy="97.2" r="2.2" fill="#FFFBEA" opacity="0.7"/>
<circle cx="720.8" cy="85" r="1.8" fill="#FFFBEA" opacity="0.7"/>
<circle cx="724.9" cy="60.7" r="2.2" fill="#FFF4D6" opacity="0.7"/>
<circle cx="717.3" cy="94.8" r="2.1" fill="#FFFFFF" opacity="0.7"/>
<circle cx="714.6" cy="96.5" r="2.5" fill="#FFFBEA" opacity="0.7"/>
<circle cx="649" cy="72.1" r="2.2" fill="#FFFBEA" opacity="0.7"/>
<circle cx="650.4" cy="74.1" r="2.8" fill="#F2DCA0" opacity="0.7"/>
<circle cx="704" cy="82.8" r="2.5" fill="#E8CC88" opacity="0.7"/>
<circle cx="679.8" cy="56.3" r="2.6" fill="#FFFBEA" opacity="0.7"/>
<circle cx="661.8" cy="35.6" r="2.2" fill="#E8CC88" opacity="0.7"/>
<circle cx="648.5" cy="96.1" r="1.8" fill="#FFF4D6" opacity="0.7"/>
<circle cx="683.5" cy="108.3" r="1.7" fill="#F2DCA0" opacity="0.7"/>
<circle cx="689.4" cy="72.6" r="2.4" fill="#FFFBEA" opacity="0.7"/>
<circle cx="703.5" cy="111.7" r="1.8" fill="#F2DCA0" opacity="0.7"/>
<circle cx="733.4" cy="71.8" r="2.3" fill="#FFFBEA" opacity="0.7"/>
<circle cx="718.6" cy="70.7" r="2.9" fill="#FFFFFF" opacity="0.7"/>
<circle cx="655.5" cy="36.4" r="1.9" fill="#FFFFFF" opacity="0.7"/>
<circle cx="691.4" cy="88.8" r="2.3" fill="#FFFFFF" opacity="0.7"/>
<circle cx="741.7" cy="77.1" r="2.3" fill="#FFFFFF" opacity="0.7"/>
<circle cx="678.9" cy="55.1" r="1.7" fill="#FFF4D6" opacity="0.7"/>
<circle cx="713.8" cy="85.8" r="2.7" fill="#F2DCA0" opacity="0.7"/>
<circle cx="638" cy="89.5" r="1.9" fill="#F2DCA0" opacity="0.7"/>
<circle cx="707.6" cy="85.6" r="2.8" fill="#F2DCA0" opacity="0.7"/>
<circle cx="673.8" cy="78.6" r="2.1" fill="#E8CC88" opacity="0.7"/>
<circle cx="736.9" cy="110.3" r="2.6" fill="#FFFFFF" opacity="0.7"/>
<circle cx="727.8" cy="57.4" r="2.4" fill="#FFFFFF" opacity="0.7"/>
<circle cx="667.4" cy="44.1" r="2.1" fill="#E8CC88" opacity="0.7"/>
<circle cx="678.7" cy="93.7" r="1.8" fill="#FFFFFF" opacity="0.7"/>
<circle cx="680" cy="42" r="2.1" fill="#FFFFFF" opacity="0.7"/>
<circle cx="672.6" cy="66" r="1.9" fill="#F2DCA0" opacity="0.7"/>
<circle cx="679.8" cy="62.9" r="2.1" fill="#FFFFFF" opacity="0.7"/>
<circle cx="684.3" cy="64.9" r="2.4" fill="#F2DCA0" opacity="0.7"/>
<circle cx="654.2" cy="79.9" r="2.9" fill="#F2DCA0" opacity="0.7"/>
<circle cx="744.6" cy="77.9" r="2.1" fill="#FFF4D6" opacity="0.7"/>
<circle cx="750.5" cy="79.8" r="2.2" fill="#E8CC88" opacity="0.7"/>
<circle cx="651.5" cy="96.5" r="1.7" fill="#FFF4D6" opacity="0.7"/>
<circle cx="628.3" cy="75.8" r="3" fill="#E8CC88" opacity="0.7"/>
<circle cx="706.6" cy="80.2" r="2.2" fill="#FFFFFF" opacity="0.7"/>
<circle cx="770" cy="87.4" r="1.8" fill="#FFF4D6" opacity="0.7"/>
<circle cx="707" cy="99" r="2.7" fill="#FFFBEA" opacity="0.7"/>
<circle cx="735.6" cy="108.4" r="2.6" fill="#E8CC88" opacity="0.7"/>
<circle cx="637.7" cy="85.9" r="2.8" fill="#FFFBEA" opacity="0.7"/>
<circle cx="646.6" cy="95.4" r="3" fill="#F2DCA0" opacity="0.7"/>
<circle cx="703.2" cy="97" r="2.4" fill="#E8CC88" opacity="0.7"/>
<circle cx="770.2" cy="89.2" r="2.3" fill="#FFFFFF" opacity="0.7"/>
<circle cx="699" cy="77.7" r="1.8" fill="#F2DCA0" opacity="0.7"/>
<circle cx="750.1" cy="107.5" r="2.7" fill="#FFFBEA" opacity="0.7"/>
<circle cx="768.7" cy="86.4" r="1.9" fill="#FFF4D6" opacity="0.7"/>
<circle cx="703.6" cy="92.4" r="1.9" fill="#FFF4D6" opacity="0.7"/>
<circle cx="745.3" cy="67.8" r="2.8" fill="#E8CC88" opacity="0.7"/>
<circle cx="688.1" cy="44.4" r="2.1" fill="#FFF4D6" opacity="0.7"/>
<circle cx="681.3" cy="46.3" r="2.7" fill="#E8CC88" opacity="0.7"/>
<circle cx="642.2" cy="87.1" r="1.8" fill="#F2DCA0" opacity="0.7"/>
<circle cx="634.4" cy="71" r="2.6" fill="#F2DCA0" opacity="0.7"/>
<circle cx="712.6" cy="109.3" r="1.8" fill="#F2DCA0" opacity="0.7"/>
<circle cx="652.7" cy="55.9" r="2.5" fill="#F2DCA0" opacity="0.7"/>
<circle cx="650.9" cy="96.4" r="1.8" fill="#F2DCA0" opacity="0.7"/>
<circle cx="671.8" cy="78.6" r="1.6" fill="#E8CC88" opacity="0.7"/>
<circle cx="747.6" cy="72.8" r="2.8" fill="#F2DCA0" opacity="0.7"/>
<circle cx="707.1" cy="113.3" r="2" fill="#E8CC88" opacity="0.7"/>
<circle cx="697.4" cy="50.8" r="1.8" fill="#FFFFFF" opacity="0.7"/>
<circle cx="704.1" cy="75.8" r="1.7" fill="#FFFBEA" opacity="0.7"/>
<circle cx="680.7" cy="99.7" r="2" fill="#F2DCA0" opacity="0.7"/>
<circle cx="732" cy="83.5" r="2.9" fill="#FFF4D6" opacity="0.7"/>
<circle cx="673.3" cy="54.1" r="2.8" fill="#FFF4D6" opacity="0.7"/>
<circle cx="755.4" cy="75.9" r="2.8" fill="#E8CC88" opacity="0.7"/>
<circle cx="665" cy="77.4" r="2.8" fill="#E8CC88" opacity="0.7"/>
<circle cx="647.6" cy="97.5" r="1.7" fill="#FFF4D6" opacity="0.7"/>
<circle cx="697" cy="71.8" r="2.3" fill="#E8CC88" opacity="0.7"/>
<circle cx="706.5" cy="76.7" r="2.7" fill="#F2DCA0" opacity="0.7"/>
<circle cx="671.7" cy="58.4" r="2" fill="#FFFFFF" opacity="0.7"/>
<circle cx="695.1" cy="92.8" r="2.9" fill="#F2DCA0" opacity="0.7"/>
<circle cx="679" cy="90.4" r="2.5" fill="#E8CC88" opacity="0.7"/>
<circle cx="640.9" cy="65.5" r="1.9" fill="#FFFFFF" opacity="0.7"/>
<circle cx="717.4" cy="56.7" r="2.6" fill="#F2DCA0" opacity="0.7"/>
<circle cx="683.8" cy="88.7" r="2.6" fill="#E8CC88" opacity="0.7"/>
<circle cx="663.5" cy="49" r="2" fill="#F2DCA0" opacity="0.7"/>
<circle cx="734.7" cy="60" r="2.8" fill="#FFFBEA" opacity="0.7"/>
<circle cx="733.6" cy="60.2" r="2.9" fill="#FFFBEA" opacity="0.7"/>
<circle cx="726.7" cy="92.2" r="2.4" fill="#FFFBEA" opacity="0.7"/>
<circle cx="652" cy="66.2" r="2" fill="#FFFBEA" opacity="0.7"/>
<circle cx="685.1" cy="91.5" r="1.7" fill="#E8CC88" opacity="0.7"/>
<circle cx="724" cy="83.7" r="2.9" fill="#FFF4D6" opacity="0.7"/>
<circle cx="676.3" cy="87.3" r="3" fill="#F2DCA0" opacity="0.7"/>
<circle cx="640.9" cy="64.1" r="2.1" fill="#FFF4D6" opacity="0.7"/>
<circle cx="701.4" cy="99" r="1.7" fill="#FFFBEA" opacity="0.7"/>
<circle cx="748.8" cy="84" r="1.8" fill="#FFFFFF" opacity="0.7"/>
<circle cx="648.8" cy="97.2" r="2.4" fill="#E8CC88" opacity="0.7"/>
<circle cx="760.4" cy="78.6" r="2.4" fill="#FFFFFF" opacity="0.7"/>
<circle cx="646.3" cy="92.6" r="2.3" fill="#FFF4D6" opacity="0.7"/>
<circle cx="711.5" cy="91.3" r="1.7" fill="#F2DCA0" opacity="0.7"/>
<circle cx="706.5" cy="79.7" r="2.5" fill="#FFF4D6" opacity="0.7"/>
<circle cx="709.1" cy="54.5" r="2.8" fill="#FFFBEA" opacity="0.7"/>
<circle cx="747.6" cy="83.1" r="2.2" fill="#FFFFFF" opacity="0.7"/>
<circle cx="661.1" cy="80.8" r="1.9" fill="#FFFFFF" opacity="0.7"/>
<circle cx="723.8" cy="58.2" r="1.6" fill="#E8CC88" opacity="0.7"/>
<circle cx="725.7" cy="94.7" r="1.7" fill="#F2DCA0" opacity="0.7"/>
<circle cx="682.2" cy="82.3" r="2" fill="#FFF4D6" opacity="0.7"/>
<circle cx="654.9" cy="71.8" r="2.6" fill="#FFF4D6" opacity="0.7"/>
<circle cx="646.4" cy="64.8" r="3" fill="#FFF4D6" opacity="0.7"/>
<circle cx="703" cy="54.4" r="2.8" fill="#FFFBEA" opacity="0.7"/>
<circle cx="710.2" cy="60.2" r="2.5" fill="#E8CC88" opacity="0.7"/>
<circle cx="695.5" cy="67" r="3" fill="#E8CC88" opacity="0.7"/>
<circle cx="718.6" cy="90.6" r="2.5" fill="#E8CC88" opacity="0.7"/>
<circle cx="686.4" cy="68.9" r="2" fill="#FFF4D6" opacity="0.7"/>
<circle cx="709.9" cy="108.9" r="1.7" fill="#E8CC88" opacity="0.7"/>
<circle cx="703.9" cy="76.6" r="1.8" fill="#FFFBEA" opacity="0.7"/>
<circle cx="733.8" cy="108.5" r="1.8" fill="#F2DCA0" opacity="0.7"/>
<circle cx="734.8" cy="82.8" r="2.8" fill="#FFFBEA" opacity="0.7"/>
<circle cx="643.7" cy="70" r="2.2" fill="#FFF4D6" opacity="0.7"/>
<circle cx="700.4" cy="65.7" r="2.8" fill="#E8CC88" opacity="0.7"/>
<circle cx="703.9" cy="52.3" r="2.3" fill="#E8CC88" opacity="0.7"/>
<circle cx="670.9" cy="65.6" r="2.7" fill="#FFFBEA" opacity="0.7"/>
<circle cx="660.4" cy="37.8" r="1.6" fill="#FFFBEA" opacity="0.7"/>
<circle cx="724.9" cy="105.7" r="2.9" fill="#FFF4D6" opacity="0.7"/>
<circle cx="688.2" cy="100.4" r="3" fill="#FFF4D6" opacity="0.7"/>
<circle cx="710" cy="108.8" r="2.2" fill="#F2DCA0" opacity="0.7"/>
<circle cx="759.3" cy="101.3" r="1.9" fill="#FFFFFF" opacity="0.7"/>
<circle cx="671.2" cy="74.4" r="1.6" fill="#FFF4D6" opacity="0.7"/>
<circle cx="695.9" cy="49.6" r="2" fill="#E8CC88" opacity="0.7"/>
<circle cx="695.9" cy="46.6" r="2.1" fill="#F2DCA0" opacity="0.7"/>
<circle cx="655.3" cy="85.8" r="2.3" fill="#F2DCA0" opacity="0.7"/>
<circle cx="760" cy="105.9" r="2.2" fill="#FFF4D6" opacity="0.7"/>
<circle cx="729.4" cy="111.7" r="2.9" fill="#FFFFFF" opacity="0.7"/>
<circle cx="680.9" cy="88.3" r="1.8" fill="#FFF4D6" opacity="0.7"/>
<circle cx="764" cy="88.7" r="1.9" fill="#FFFFFF" opacity="0.7"/>
<circle cx="666.5" cy="86.4" r="2.3" fill="#F2DCA0" opacity="0.7"/>
<circle cx="691.1" cy="76.9" r="1.9" fill="#E8CC88" opacity="0.7"/>
<circle cx="662.6" cy="100.3" r="2" fill="#E8CC88" opacity="0.7"/>
<circle cx="666.9" cy="78.6" r="2.4" fill="#E8CC88" opacity="0.7"/>
<circle cx="694.2" cy="95.8" r="2.8" fill="#FFF4D6" opacity="0.7"/>
<circle cx="682.7" cy="111" r="2" fill="#FFFBEA" opacity="0.7"/>
<circle cx="700" cy="47.3" r="2" fill="#F2DCA0" opacity="0.7"/>
<circle cx="708.4" cy="86.8" r="2.6" fill="#FFF4D6" opacity="0.7"/>
<circle cx="678.9" cy="88" r="2.5" fill="#FFF4D6" opacity="0.7"/>
<circle cx="742.4" cy="75.9" r="2.4" fill="#FFFBEA" opacity="0.7"/>
<circle cx="691.1" cy="97.7" r="2.6" fill="#E8CC88" opacity="0.7"/>
<circle cx="660.4" cy="73.6" r="1.9" fill="#FFF4D6" opacity="0.7"/>
<circle cx="658.2" cy="81.3" r="1.7" fill="#E8CC88" opacity="0.7"/>
<circle cx="714.5" cy="92.8" r="3" fill="#F2DCA0" opacity="0.7"/>
<circle cx="710.9" cy="106.2" r="2.5" fill="#FFFBEA" opacity="0.7"/>
<circle cx="652" cy="44.9" r="2.9" fill="#FFFFFF" opacity="0.7"/>
<circle cx="690.2" cy="69.5" r="3" fill="#FFFFFF" opacity="0.7"/>
<circle cx="664.4" cy="99.9" r="2.7" fill="#FFF4D6" opacity="0.7"/>
<circle cx="710.3" cy="78.2" r="2.1" fill="#FFF4D6" opacity="0.7"/>
<circle cx="646.9" cy="58.4" r="2.1" fill="#F2DCA0" opacity="0.7"/>
<circle cx="718.2" cy="76.7" r="2.4" fill="#FFFBEA" opacity="0.7"/>
<circle cx="664.7" cy="82" r="2.3" fill="#FFFBEA" opacity="0.7"/>
<circle cx="649" cy="90.7" r="1.7" fill="#FFFBEA" opacity="0.7"/>
<circle cx="679.7" cy="50.4" r="2.1" fill="#FFFBEA" opacity="0.7"/>
<circle cx="698.4" cy="96.7" r="2.2" fill="#FFF4D6" opacity="0.7"/>
<circle cx="693.3" cy="95.3" r="1.8" fill="#FFF4D6" opacity="0.7"/>
<circle cx="707.8" cy="52.5" r="1.8" fill="#FFFFFF" opacity="0.7"/>
<circle cx="679.6" cy="60.6" r="2.9" fill="#F2DCA0" opacity="0.7"/>
<circle cx="676.5" cy="91" r="2.1" fill="#FFF4D6" opacity="0.7"/>
<circle cx="683.9" cy="103.7" r="1.8" fill="#F2DCA0" opacity="0.7"/>
<circle cx="682.2" cy="98.4" r="2.9" fill="#FFF4D6" opacity="0.7"/>
<circle cx="652.5" cy="78.7" r="1.9" fill="#FFF4D6" opacity="0.7"/>
<circle cx="657.2" cy="71.8" r="2.8" fill="#FFFFFF" opacity="0.7"/>
<circle cx="671.3" cy="70" r="2.1" fill="#FFFBEA" opacity="0.7"/>
<circle cx="728.7" cy="62.8" r="2.9" fill="#FFF4D6" opacity="0.7"/>
<circle cx="652.3" cy="54.3" r="2.9" fill="#FFFBEA" opacity="0.7"/>
<circle cx="683.9" cy="110.5" r="3" fill="#F2DCA0" opacity="0.7"/>
<circle cx="679.2" cy="45" r="2.5" fill="#FFFBEA" opacity="0.7"/>
<circle cx="673.3" cy="64.7" r="2" fill="#FFF4D6" opacity="0.7"/>
<circle cx="671.8" cy="68" r="2.4" fill="#F2DCA0" opacity="0.7"/>
<circle cx="667.1" cy="92.6" r="2.3" fill="#E8CC88" opacity="0.7"/>
<circle cx="685.8" cy="64.9" r="2.7" fill="#FFFFFF" opacity="0.7"/>
<circle cx="657.4" cy="35.5" r="2.7" fill="#E8CC88" opacity="0.7"/>
<circle cx="709.9" cy="100.7" r="2" fill="#FFFBEA" opacity="0.7"/>
<circle cx="725.6" cy="110.1" r="1.7" fill="#FFF4D6" opacity="0.7"/>
<circle cx="725" cy="113.2" r="1.6" fill="#F2DCA0" opacity="0.7"/>
<circle cx="667" cy="45.5" r="3" fill="#E8CC88" opacity="0.7"/>
<circle cx="685.4" cy="72.4" r="1.9" fill="#F2DCA0" opacity="0.7"/>
<circle cx="650" cy="88.5" r="2.5" fill="#FFFBEA" opacity="0.7"/>
<circle cx="661" cy="39.9" r="2" fill="#E8CC88" opacity="0.7"/>
<circle cx="676.3" cy="67.9" r="2.2" fill="#E8CC88" opacity="0.7"/>
<circle cx="633.2" cy="74.1" r="3" fill="#FFFFFF" opacity="0.7"/>
<circle cx="673.8" cy="53.5" r="2.3" fill="#FFF4D6" opacity="0.7"/>
<circle cx="652.9" cy="71.9" r="1.8" fill="#FFFFFF" opacity="0.7"/>
<circle cx="717.3" cy="113.1" r="3" fill="#FFFBEA" opacity="0.7"/>
<circle cx="719.1" cy="84.8" r="2.2" fill="#E8CC88" opacity="0.7"/>
<circle cx="686.6" cy="67.3" r="2.2" fill="#FFFBEA" opacity="0.7"/>
<circle cx="666.4" cy="102.5" r="2" fill="#FFFBEA" opacity="0.7"/>
<circle cx="671.3" cy="62.6" r="1.8" fill="#FFF4D6" opacity="0.7"/>
<circle cx="707.2" cy="85.1" r="2.9" fill="#FFFBEA" opacity="0.7"/>
<circle cx="709.1" cy="102.6" r="1.9" fill="#FFFFFF" opacity="0.7"/>
<circle cx="677" cy="107.3" r="2.5" fill="#FFFBEA" opacity="0.7"/>
<circle cx="729.3" cy="90.4" r="2.3" fill="#FFF4D6" opacity="0.7"/>
<circle cx="648.9" cy="84.8" r="2.1" fill="#FFF4D6" opacity="0.7"/>
<circle cx="698.6" cy="79.9" r="2" fill="#FFFBEA" opacity="0.7"/>
<circle cx="680.4" cy="56.3" r="2.1" fill="#E8CC88" opacity="0.7"/>
<circle cx="737.3" cy="77.4" r="2.4" fill="#FFFFFF" opacity="0.7"/>
<circle cx="673.7" cy="47.1" r="2" fill="#F2DCA0" opacity="0.7"/>
<circle cx="640.3" cy="91.9" r="1.8" fill="#FFF4D6" opacity="0.7"/>
<circle cx="641.9" cy="70.4" r="2.8" fill="#E8CC88" opacity="0.7"/>
<circle cx="663.1" cy="75.1" r="2.5" fill="#FFFFFF" opacity="0.7"/>
<circle cx="732.4" cy="59.8" r="2.4" fill="#FFFFFF" opacity="0.7"/>
<circle cx="731" cy="85" r="2" fill="#FFFFFF" opacity="0.7"/>
<circle cx="643.8" cy="64" r="1.9" fill="#E8CC88" opacity="0.7"/>
<circle cx="712.8" cy="112" r="2.8" fill="#FFF4D6" opacity="0.7"/>
<circle cx="728.1" cy="67.6" r="2.3" fill="#E8CC88" opacity="0.7"/>
<circle cx="719.7" cy="65.7" r="3" fill="#F2DCA0" opacity="0.7"/>
<circle cx="681" cy="58.3" r="2.7" fill="#F2DCA0" opacity="0.7"/>
<circle cx="651.3" cy="41.1" r="1.9" fill="#E8CC88" opacity="0.7"/>
<circle cx="718.8" cy="55.3" r="2.2" fill="#F2DCA0" opacity="0.7"/>
<circle cx="659.1" cy="73" r="2" fill="#FFFBEA" opacity="0.7"/>
<circle cx="679.9" cy="54.1" r="2.5" fill="#FFFBEA" opacity="0.7"/>
<circle cx="697.6" cy="67.2" r="2.1" fill="#E8CC88" opacity="0.7"/>
<circle cx="633.6" cy="78.8" r="1.8" fill="#E8CC88" opacity="0.7"/>
<circle cx="723.5" cy="85" r="2.5" fill="#FFFBEA" opacity="0.7"/>
<circle cx="678.8" cy="96.1" r="2.5" fill="#FFFFFF" opacity="0.7"/>
<circle cx="671.5" cy="75.7" r="2" fill="#E8CC88" opacity="0.7"/>
<circle cx="704.1" cy="100.9" r="2.8" fill="#E8CC88" opacity="0.7"/>
<circle cx="684.9" cy="100.3" r="2.2" fill="#FFFBEA" opacity="0.7"/>
<circle cx="683.3" cy="63.4" r="2" fill="#FFFFFF" opacity="0.7"/>
<circle cx="679.7" cy="86.2" r="1.7" fill="#FFF4D6" opacity="0.7"/>
<circle cx="678.1" cy="55.7" r="3" fill="#F2DCA0" opacity="0.7"/>
<circle cx="736.5" cy="78.4" r="2.4" fill="#FFFBEA" opacity="0.7"/>
<circle cx="677.6" cy="68.6" r="1.7" fill="#FFFBEA" opacity="0.7"/>
<circle cx="705.6" cy="112.9" r="1.9" fill="#FFFFFF" opacity="0.7"/>
<circle cx="720.2" cy="64.1" r="2.7" fill="#F2DCA0" opacity="0.7"/>
<circle cx="717.4" cy="107.4" r="1.9" fill="#E8CC88" opacity="0.7"/>
<circle cx="700.7" cy="80.3" r="1.7" fill="#F2DCA0" opacity="0.7"/>
<circle cx="724.8" cy="67.6" r="2.4" fill="#FFFBEA" opacity="0.7"/>
<circle cx="682.7" cy="51.6" r="2.3" fill="#FFFFFF" opacity="0.7"/>
<circle cx="715.1" cy="80.7" r="1.8" fill="#F2DCA0" opacity="0.7"/>
<circle cx="719.1" cy="70" r="2.8" fill="#E8CC88" opacity="0.7"/>
<circle cx="714" cy="82.5" r="2.3" fill="#FFF4D6" opacity="0.7"/>
<circle cx="685.3" cy="105.7" r="2.5" fill="#FFFFFF" opacity="0.7"/>
<circle cx="698.7" cy="51.9" r="2.7" fill="#FFF4D6" opacity="0.7"/>
<circle cx="751" cy="87.2" r="2.6" fill="#F2DCA0" opacity="0.7"/>
<circle cx="744.7" cy="75.5" r="2.7" fill="#FFF4D6" opacity="0.7"/>
<circle cx="755.5" cy="92.5" r="1.8" fill="#FFFFFF" opacity="0.7"/>
<circle cx="662.6" cy="100.6" r="2" fill="#FFF4D6" opacity="0.7"/>
<circle cx="693.1" cy="77.6" r="1.7" fill="#FFFBEA" opacity="0.7"/>
<circle cx="666.9" cy="86.7" r="2.9" fill="#F2DCA0" opacity="0.7"/>
<circle cx="636" cy="79.2" r="2.3" fill="#E8CC88" opacity="0.7"/>
<circle cx="661.3" cy="100" r="2.5" fill="#FFFFFF" opacity="0.7"/>
<circle cx="707.4" cy="109" r="2.9" fill="#FFFBEA" opacity="0.7"/>
<circle cx="679.9" cy="40.5" r="3" fill="#FFF4D6" opacity="0.7"/>
<circle cx="754.7" cy="102.9" r="1.8" fill="#F2DCA0" opacity="0.7"/>
<circle cx="683.3" cy="104.2" r="2.8" fill="#F2DCA0" opacity="0.7"/>
<circle cx="717.6" cy="108.7" r="2" fill="#E8CC88" opacity="0.7"/>
<circle cx="656" cy="85.5" r="2.6" fill="#F2DCA0" opacity="0.7"/>
<circle cx="756.5" cy="93.9" r="3" fill="#E8CC88" opacity="0.7"/>
<circle cx="675.9" cy="58.8" r="2.5" fill="#FFFBEA" opacity="0.7"/>
<circle cx="719.5" cy="55.7" r="2.2" fill="#FFFFFF" opacity="0.7"/>
<circle cx="715.5" cy="91.1" r="2.7" fill="#FFFBEA" opacity="0.7"/>
<circle cx="652.1" cy="42.9" r="2.4" fill="#FFFFFF" opacity="0.7"/>
<circle cx="766.2" cy="83.9" r="2.5" fill="#FFFFFF" opacity="0.7"/>
<circle cx="678.6" cy="48.7" r="1.9" fill="#F2DCA0" opacity="0.7"/>
<circle cx="735.4" cy="62.6" r="1.7" fill="#FFF4D6" opacity="0.7"/>
<circle cx="671.5" cy="66.7" r="2.3" fill="#FFF4D6" opacity="0.7"/>
<circle cx="646.9" cy="85.7" r="1.9" fill="#E8CC88" opacity="0.7"/>
<circle cx="688.7" cy="101.7" r="2.7" fill="#FFF4D6" opacity="0.7"/>
<circle cx="686.3" cy="70.8" r="2.3" fill="#F2DCA0" opacity="0.7"/>
<circle cx="701" cy="112" r="2.3" fill="#FFF4D6" opacity="0.7"/>
<circle cx="677" cy="91.8" r="1.6" fill="#F2DCA0" opacity="0.7"/>
<circle cx="660.3" cy="81.2" r="2.6" fill="#FFFBEA" opacity="0.7"/>
<circle cx="667.7" cy="106.2" r="2.1" fill="#FFFBEA" opacity="0.7"/>
<circle cx="668" cy="104.6" r="2.9" fill="#F2DCA0" opacity="0.7"/>
<circle cx="736.5" cy="83.1" r="2.3" fill="#E8CC88" opacity="0.7"/>
<circle cx="691.1" cy="113.1" r="2.5" fill="#FFFFFF" opacity="0.7"/>
<circle cx="713.6" cy="78.4" r="2.7" fill="#F2DCA0" opacity="0.7"/>
<circle cx="638.3" cy="62.9" r="1.8" fill="#FFF4D6" opacity="0.7"/>
<circle cx="681.2" cy="93.5" r="2.3" fill="#FFFFFF" opacity="0.7"/>
<circle cx="725.4" cy="61.2" r="1.7" fill="#FFFBEA" opacity="0.7"/>
</g>
<circle cx="661.1" cy="61.2" r="7.8" fill="#B08528" opacity="0.9" filter="url(#bl15)"/>
<circle cx="689.5" cy="56.9" r="7" fill="#B08528" opacity="0.9" filter="url(#bl15)"/>
<circle cx="709.4" cy="68.3" r="6.4" fill="#B08528" opacity="0.9" filter="url(#bl15)"/>
<circle cx="742" cy="96.7" r="11" fill="#B08528" opacity="0.9" filter="url(#bl15)"/>
<circle cx="727.8" cy="76.8" r="6" fill="#B08528" opacity="0.9" filter="url(#bl15)"/>
<circle cx="659.7" cy="91" r="5" fill="#B08528" opacity="0.9" filter="url(#bl15)"/>
<circle cx="679.6" cy="75.4" r="5" fill="#B08528" opacity="0.9" filter="url(#bl15)"/>
<circle cx="695.2" cy="105.2" r="5" fill="#B08528" opacity="0.9" filter="url(#bl15)"/>
<circle cx="645" cy="80" r="3.5" fill="#B08528" opacity="0.9" filter="url(#bl15)"/>
<circle cx="700" cy="88" r="4" fill="#B08528" opacity="0.9" filter="url(#bl15)"/>
<circle cx="720" cy="100" r="3.5" fill="#B08528" opacity="0.9" filter="url(#bl15)"/>
<circle cx="755" cy="82" r="3.5" fill="#B08528" opacity="0.9" filter="url(#bl15)"/>
<circle cx="672" cy="95" r="3.5" fill="#B08528" opacity="0.9" filter="url(#bl15)"/>
<circle cx="715" cy="52" r="3" fill="#B08528" opacity="0.9" filter="url(#bl15)"/>
<circle cx="740" cy="70" r="3.5" fill="#B08528" opacity="0.9" filter="url(#bl15)"/>
<circle cx="765" cy="95" r="3" fill="#B08528" opacity="0.9" filter="url(#bl15)"/>
<circle cx="685" cy="40" r="3" fill="#B08528" opacity="0.9" filter="url(#bl15)"/>
<circle cx="650" cy="50" r="3" fill="#B08528" opacity="0.9" filter="url(#bl15)"/>
<circle cx="638.8" cy="132.5" r="3.5" fill="#E8CC88" filter="url(#bl1)"/>
<circle cx="583" cy="124.9" r="3" fill="#E8CC88" filter="url(#bl1)"/>
<circle cx="834.7" cy="99.9" r="3.2" fill="#E8CC88" filter="url(#bl1)"/>
<circle cx="683" cy="14" r="2" fill="#E8CC88" filter="url(#bl1)"/>
<circle cx="800" cy="20" r="1.5" fill="#E8CC88" filter="url(#bl1)"/>
</g>
<g clip-path="url(#afm2)">
<rect x="578.5" y="148.1" width="262.3" height="142.3" fill="url(#wetbg)"/>
<rect x="578.5" y="148.1" width="262.3" height="142.3" filter="url(#grain2)" opacity="0.5"/>
<rect x="578.5" y="148.1" width="262.3" height="142.3" filter="url(#grain)" opacity="0.3"/>
<rect x="540" y="120" width="340" height="200" filter="url(#streak)" opacity="0.16" transform="rotate(-10 710 220)"/>
<path d="M637.2,218.9C640.2,214.4 646.8,199.8 655.3,191.7C663.8,183.5 677.4,173.3 688,170C698.6,166.7 708.2,169.4 718.8,171.8C729.4,174.2 740.9,179.7 751.5,184.5C762.1,189.3 773.8,193.9 782.3,200.8C790.8,207.8 800.8,218.9 802.3,226.2C803.8,233.4 799.3,239.8 791.4,244.3C783.5,248.8 767.2,252.2 755.1,253.4C743,254.6 730.9,253.1 718.8,251.6C706.7,250.1 693.8,247 682.6,244.3C671.4,241.6 659.3,239.5 651.7,235.3C644.1,231.1 636.6,226.2 637.2,218.9C637.8,211.6 646.8,199.8 655.3,191.7C663.8,183.5 682.5,173.6 688,170" fill="#C49140" filter="url(#bl3)"/>
<path d="M660,205C665,200.8 680,184.2 690,180C700,175.8 710,178 720,180C730,182 740,187.3 750,192C760,196.7 772.5,202 780,208C787.5,214 794.2,222.3 795,228C795.8,233.7 791.7,238.5 785,242C778.3,245.5 766.2,248.2 755,249C743.8,249.8 730,248.5 718,247C706,245.5 693.2,242.8 683,240C672.8,237.2 660.8,235.8 657,230C653.2,224.2 654.5,213.3 660,205C665.5,196.7 680,184.2 690,180C700,175.8 715,180 720,180" fill="#E0C27C" filter="url(#bl3)"/>
<circle cx="660.2" cy="227.8" r="2.7" fill="#D8B060" opacity="0.55" filter="url(#bl15)"/>
<circle cx="769.8" cy="211.5" r="3.5" fill="#F6E6B8" opacity="0.55" filter="url(#bl15)"/>
<circle cx="713.5" cy="207.2" r="3.7" fill="#D8B060" opacity="0.55" filter="url(#bl15)"/>
<circle cx="783.6" cy="203" r="3.7" fill="#F6E6B8" opacity="0.55" filter="url(#bl15)"/>
<circle cx="752.2" cy="212.7" r="3.7" fill="#C89A48" opacity="0.55" filter="url(#bl15)"/>
<circle cx="756.2" cy="224.4" r="2.7" fill="#F6E6B8" opacity="0.55" filter="url(#bl15)"/>
<circle cx="701.8" cy="238" r="2.8" fill="#F6E6B8" opacity="0.55" filter="url(#bl15)"/>
<circle cx="694.2" cy="226.7" r="3.7" fill="#D8B060" opacity="0.55" filter="url(#bl15)"/>
<circle cx="733" cy="181.7" r="2.7" fill="#F6E6B8" opacity="0.55" filter="url(#bl15)"/>
<circle cx="718.2" cy="185.9" r="4.9" fill="#C89A48" opacity="0.55" filter="url(#bl15)"/>
<circle cx="756.6" cy="242.2" r="3.2" fill="#FFF2D0" opacity="0.55" filter="url(#bl15)"/>
<circle cx="776.8" cy="204.9" r="2.9" fill="#F6E6B8" opacity="0.55" filter="url(#bl15)"/>
<circle cx="725.1" cy="195.7" r="3.4" fill="#C89A48" opacity="0.55" filter="url(#bl15)"/>
<circle cx="720.6" cy="186.2" r="2.9" fill="#FFF2D0" opacity="0.55" filter="url(#bl15)"/>
<circle cx="721.6" cy="175.9" r="4.8" fill="#D8B060" opacity="0.55" filter="url(#bl15)"/>
<circle cx="695.1" cy="244.4" r="3.2" fill="#D8B060" opacity="0.55" filter="url(#bl15)"/>
<circle cx="682.7" cy="204.7" r="3.4" fill="#C89A48" opacity="0.55" filter="url(#bl15)"/>
<circle cx="668" cy="202.5" r="2.9" fill="#F6E6B8" opacity="0.55" filter="url(#bl15)"/>
<circle cx="672.3" cy="232.9" r="3.3" fill="#F6E6B8" opacity="0.55" filter="url(#bl15)"/>
<circle cx="767.4" cy="201.2" r="4.6" fill="#C89A48" opacity="0.55" filter="url(#bl15)"/>
<circle cx="730.2" cy="203.4" r="2.7" fill="#F6E6B8" opacity="0.55" filter="url(#bl15)"/>
<circle cx="686.2" cy="177.8" r="2.7" fill="#F6E6B8" opacity="0.55" filter="url(#bl15)"/>
<circle cx="762.3" cy="213.2" r="2.9" fill="#C89A48" opacity="0.55" filter="url(#bl15)"/>
<circle cx="753.3" cy="250.4" r="2.7" fill="#F6E6B8" opacity="0.55" filter="url(#bl15)"/>
<circle cx="687.9" cy="196.7" r="3.4" fill="#C89A48" opacity="0.55" filter="url(#bl15)"/>
<circle cx="761.5" cy="251.2" r="4" fill="#D8B060" opacity="0.55" filter="url(#bl15)"/>
<circle cx="694" cy="205.3" r="2.8" fill="#D8B060" opacity="0.55" filter="url(#bl15)"/>
<circle cx="736.9" cy="210.8" r="3.7" fill="#D8B060" opacity="0.55" filter="url(#bl15)"/>
<circle cx="701" cy="178.9" r="4.3" fill="#D8B060" opacity="0.55" filter="url(#bl15)"/>
<circle cx="755.1" cy="212.2" r="2.7" fill="#C89A48" opacity="0.55" filter="url(#bl15)"/>
<circle cx="730.2" cy="236.9" r="3.6" fill="#F6E6B8" opacity="0.55" filter="url(#bl15)"/>
<circle cx="671.6" cy="206.6" r="2.8" fill="#F6E6B8" opacity="0.55" filter="url(#bl15)"/>
<circle cx="753.3" cy="220.1" r="2.6" fill="#FFF2D0" opacity="0.55" filter="url(#bl15)"/>
<circle cx="772.7" cy="213.3" r="4.9" fill="#D8B060" opacity="0.55" filter="url(#bl15)"/>
<circle cx="720.2" cy="196.6" r="3.5" fill="#D8B060" opacity="0.55" filter="url(#bl15)"/>
<circle cx="641.1" cy="220.3" r="4.8" fill="#FFF2D0" opacity="0.55" filter="url(#bl15)"/>
<circle cx="675.8" cy="194.3" r="3.9" fill="#FFF2D0" opacity="0.55" filter="url(#bl15)"/>
<circle cx="769.1" cy="230.7" r="3.3" fill="#FFF2D0" opacity="0.55" filter="url(#bl15)"/>
<circle cx="740" cy="248.5" r="4.5" fill="#FFF2D0" opacity="0.55" filter="url(#bl15)"/>
<circle cx="717.6" cy="201" r="4" fill="#FFF2D0" opacity="0.55" filter="url(#bl15)"/>
<circle cx="672.8" cy="202.6" r="3.5" fill="#FFF2D0" opacity="0.55" filter="url(#bl15)"/>
<circle cx="771.3" cy="219.6" r="3.4" fill="#C89A48" opacity="0.55" filter="url(#bl15)"/>
<circle cx="671.3" cy="237.5" r="3.8" fill="#F6E6B8" opacity="0.55" filter="url(#bl15)"/>
<circle cx="683" cy="175.6" r="4.3" fill="#FFF2D0" opacity="0.55" filter="url(#bl15)"/>
<circle cx="739.9" cy="237.6" r="5" fill="#FFF2D0" opacity="0.55" filter="url(#bl15)"/>
<circle cx="768.7" cy="211.3" r="3.2" fill="#C89A48" opacity="0.55" filter="url(#bl15)"/>
<circle cx="679.1" cy="190.2" r="3.1" fill="#C89A48" opacity="0.55" filter="url(#bl15)"/>
<circle cx="680" cy="236.7" r="4" fill="#D8B060" opacity="0.55" filter="url(#bl15)"/>
<circle cx="698.9" cy="234" r="4.5" fill="#C89A48" opacity="0.55" filter="url(#bl15)"/>
<circle cx="730.7" cy="205.1" r="2.6" fill="#D8B060" opacity="0.55" filter="url(#bl15)"/>
<circle cx="682.3" cy="177.8" r="3.6" fill="#FFF2D0" opacity="0.55" filter="url(#bl15)"/>
<circle cx="737.1" cy="240.9" r="4.1" fill="#FFF2D0" opacity="0.55" filter="url(#bl15)"/>
<circle cx="766.5" cy="238.5" r="2.7" fill="#D8B060" opacity="0.55" filter="url(#bl15)"/>
<circle cx="744.6" cy="200" r="4.6" fill="#D8B060" opacity="0.55" filter="url(#bl15)"/>
<circle cx="756" cy="219.2" r="3.3" fill="#FFF2D0" opacity="0.55" filter="url(#bl15)"/>
<circle cx="759" cy="249.3" r="2.7" fill="#F6E6B8" opacity="0.55" filter="url(#bl15)"/>
<circle cx="786.6" cy="220" r="3.6" fill="#D8B060" opacity="0.55" filter="url(#bl15)"/>
<circle cx="680.8" cy="201.9" r="3.6" fill="#F6E6B8" opacity="0.55" filter="url(#bl15)"/>
<circle cx="686.9" cy="184.5" r="4.4" fill="#F6E6B8" opacity="0.55" filter="url(#bl15)"/>
<circle cx="667.3" cy="222.4" r="3.2" fill="#D8B060" opacity="0.55" filter="url(#bl15)"/>
<circle cx="757.8" cy="209.3" r="3.9" fill="#F6E6B8" opacity="0.55" filter="url(#bl15)"/>
<circle cx="661.2" cy="196.8" r="3.5" fill="#D8B060" opacity="0.55" filter="url(#bl15)"/>
<circle cx="661.6" cy="206.1" r="4.2" fill="#C89A48" opacity="0.55" filter="url(#bl15)"/>
<circle cx="733.7" cy="220.3" r="3.5" fill="#C89A48" opacity="0.55" filter="url(#bl15)"/>
<circle cx="732.5" cy="243.5" r="4.8" fill="#C89A48" opacity="0.55" filter="url(#bl15)"/>
<circle cx="779" cy="230.2" r="4.4" fill="#D8B060" opacity="0.55" filter="url(#bl15)"/>
<circle cx="689.4" cy="225.8" r="3.7" fill="#D8B060" opacity="0.55" filter="url(#bl15)"/>
<circle cx="741.6" cy="211.5" r="4.5" fill="#FFF2D0" opacity="0.55" filter="url(#bl15)"/>
<circle cx="769.1" cy="216.6" r="3.5" fill="#D8B060" opacity="0.55" filter="url(#bl15)"/>
<circle cx="772" cy="223.1" r="2.8" fill="#C89A48" opacity="0.55" filter="url(#bl15)"/>
<circle cx="721.1" cy="194.3" r="3.4" fill="#F6E6B8" opacity="0.55" filter="url(#bl15)"/>
<circle cx="739.4" cy="181.7" r="4.2" fill="#F6E6B8" opacity="0.55" filter="url(#bl15)"/>
<circle cx="772.4" cy="206.8" r="4.9" fill="#C89A48" opacity="0.55" filter="url(#bl15)"/>
<circle cx="730.3" cy="217.5" r="4.7" fill="#FFF2D0" opacity="0.55" filter="url(#bl15)"/>
<circle cx="736.2" cy="223.8" r="5" fill="#FFF2D0" opacity="0.55" filter="url(#bl15)"/>
<circle cx="657" cy="196.2" r="2.8" fill="#D8B060" opacity="0.55" filter="url(#bl15)"/>
<circle cx="743.4" cy="209.1" r="3.9" fill="#FFF2D0" opacity="0.55" filter="url(#bl15)"/>
<circle cx="760.5" cy="205.2" r="4.4" fill="#F6E6B8" opacity="0.55" filter="url(#bl15)"/>
<circle cx="757.5" cy="246.2" r="4.2" fill="#FFF2D0" opacity="0.55" filter="url(#bl15)"/>
<circle cx="721.6" cy="209.7" r="3.7" fill="#D8B060" opacity="0.55" filter="url(#bl15)"/>
<circle cx="688.3" cy="223.1" r="4.5" fill="#C89A48" opacity="0.55" filter="url(#bl15)"/>
<circle cx="758.6" cy="217.9" r="3.2" fill="#FFF2D0" opacity="0.55" filter="url(#bl15)"/>
<circle cx="686.3" cy="240.5" r="3.6" fill="#F6E6B8" opacity="0.55" filter="url(#bl15)"/>
<circle cx="719.9" cy="223.6" r="3.4" fill="#F6E6B8" opacity="0.55" filter="url(#bl15)"/>
<circle cx="697.8" cy="219.2" r="3.6" fill="#C89A48" opacity="0.55" filter="url(#bl15)"/>
<circle cx="731.7" cy="186.7" r="3.8" fill="#D8B060" opacity="0.55" filter="url(#bl15)"/>
<circle cx="765.1" cy="211.3" r="2.6" fill="#FFF2D0" opacity="0.55" filter="url(#bl15)"/>
<circle cx="674.8" cy="222.2" r="3.1" fill="#D8B060" opacity="0.55" filter="url(#bl15)"/>
<circle cx="710.9" cy="238" r="3.3" fill="#F6E6B8" opacity="0.55" filter="url(#bl15)"/>
<circle cx="796.3" cy="230.4" r="4.3" fill="#FFF2D0" opacity="0.55" filter="url(#bl15)"/>
<circle cx="770" cy="197" r="4.6" fill="#C89A48" opacity="0.55" filter="url(#bl15)"/>
<circle cx="677.5" cy="239.4" r="4.7" fill="#F6E6B8" opacity="0.55" filter="url(#bl15)"/>
<circle cx="722.6" cy="186.6" r="4.8" fill="#C89A48" opacity="0.55" filter="url(#bl15)"/>
<circle cx="784.9" cy="204.9" r="2.9" fill="#D8B060" opacity="0.55" filter="url(#bl15)"/>
<circle cx="745.3" cy="233.8" r="4.5" fill="#FFF2D0" opacity="0.55" filter="url(#bl15)"/>
<circle cx="648" cy="203.6" r="4.2" fill="#F6E6B8" opacity="0.55" filter="url(#bl15)"/>
<circle cx="685.6" cy="233.1" r="3.3" fill="#D8B060" opacity="0.55" filter="url(#bl15)"/>
<circle cx="676.1" cy="202.5" r="4.2" fill="#FFF2D0" opacity="0.55" filter="url(#bl15)"/>
<circle cx="689.2" cy="192.7" r="2.6" fill="#D8B060" opacity="0.55" filter="url(#bl15)"/>
<circle cx="752.5" cy="227" r="3" fill="#F6E6B8" opacity="0.55" filter="url(#bl15)"/>
<circle cx="769.2" cy="223.7" r="4.7" fill="#C89A48" opacity="0.55" filter="url(#bl15)"/>
<circle cx="664.9" cy="237.6" r="3.1" fill="#F6E6B8" opacity="0.55" filter="url(#bl15)"/>
<circle cx="709.6" cy="243.2" r="4.6" fill="#C89A48" opacity="0.55" filter="url(#bl15)"/>
<circle cx="785.4" cy="241.3" r="4.9" fill="#D8B060" opacity="0.55" filter="url(#bl15)"/>
<circle cx="738.7" cy="208.4" r="3.1" fill="#FFF2D0" opacity="0.55" filter="url(#bl15)"/>
<circle cx="737.7" cy="183.3" r="3.1" fill="#D8B060" opacity="0.55" filter="url(#bl15)"/>
<circle cx="708.1" cy="225.4" r="4.8" fill="#FFF2D0" opacity="0.55" filter="url(#bl15)"/>
<circle cx="750" cy="216.2" r="3.2" fill="#C89A48" opacity="0.55" filter="url(#bl15)"/>
<circle cx="691.7" cy="216.9" r="4.2" fill="#C89A48" opacity="0.55" filter="url(#bl15)"/>
<circle cx="774.4" cy="245.6" r="3.5" fill="#FFF2D0" opacity="0.55" filter="url(#bl15)"/>
<circle cx="659" cy="201.7" r="4.6" fill="#C89A48" opacity="0.55" filter="url(#bl15)"/>
<circle cx="694.1" cy="228.7" r="4.7" fill="#D8B060" opacity="0.55" filter="url(#bl15)"/>
<circle cx="752.7" cy="226.4" r="3.3" fill="#C89A48" opacity="0.55" filter="url(#bl15)"/>
<ellipse cx="705" cy="186" rx="14" ry="9" fill="#FAEBC4" opacity="0.8" filter="url(#bl3)"/>
<ellipse cx="738" cy="200" rx="12" ry="8" fill="#FAEBC4" opacity="0.8" filter="url(#bl3)"/>
<ellipse cx="762" cy="214" rx="18" ry="10" fill="#FAEBC4" opacity="0.8" filter="url(#bl3)"/>
<ellipse cx="745" cy="232" rx="20" ry="10" fill="#FAEBC4" opacity="0.8" filter="url(#bl3)"/>
<ellipse cx="700" cy="213" rx="13" ry="8" fill="#FAEBC4" opacity="0.8" filter="url(#bl3)"/>
<ellipse cx="680" cy="226" rx="11" ry="8" fill="#FAEBC4" opacity="0.8" filter="url(#bl3)"/>
<ellipse cx="722" cy="236" rx="13" ry="8" fill="#FAEBC4" opacity="0.8" filter="url(#bl3)"/>
<ellipse cx="783" cy="232" rx="9" ry="7" fill="#FAEBC4" opacity="0.8" filter="url(#bl3)"/>
<ellipse cx="704.3" cy="180.8" rx="9" ry="5.5" fill="#FFFBEA" filter="url(#bl2)"/>
<ellipse cx="709.8" cy="196.3" rx="8" ry="5.5" fill="#FFFBEA" filter="url(#bl2)"/>
<ellipse cx="739.7" cy="195.3" rx="7" ry="6" fill="#FFFBEA" filter="url(#bl2)"/>
<ellipse cx="695.3" cy="209" rx="8" ry="5" fill="#FFFBEA" filter="url(#bl2)"/>
<ellipse cx="764.2" cy="211.7" rx="14" ry="7" fill="#FFFBEA" filter="url(#bl2)"/>
<ellipse cx="746" cy="231.6" rx="15" ry="8" fill="#FFFBEA" filter="url(#bl2)"/>
<ellipse cx="712.5" cy="228.9" rx="7" ry="6" fill="#FFFBEA" filter="url(#bl2)"/>
<ellipse cx="733.3" cy="215.3" rx="7" ry="6" fill="#FFFBEA" filter="url(#bl2)"/>
<ellipse cx="784" cy="233.4" rx="6" ry="6" fill="#FFFBEA" filter="url(#bl2)"/>
<ellipse cx="669.9" cy="209.9" rx="6" ry="5" fill="#FFFBEA" filter="url(#bl2)"/>
<ellipse cx="664.4" cy="226.2" rx="6" ry="5" fill="#FFFBEA" filter="url(#bl2)"/>
<ellipse cx="690" cy="228" rx="6" ry="5" fill="#FFFBEA" filter="url(#bl2)"/>
<ellipse cx="770" cy="226" rx="7" ry="6" fill="#FFFBEA" filter="url(#bl2)"/>
<circle cx="649" cy="262.5" r="5.5" fill="#D0A050" filter="url(#bl2)"/>
<circle cx="767.8" cy="289" r="7" fill="#D0A050" filter="url(#bl2)"/>
<circle cx="829.5" cy="242.5" r="3.5" fill="#D0A050" filter="url(#bl2)"/>
<circle cx="594.6" cy="255.5" r="4" fill="#D0A050" filter="url(#bl2)"/>
</g>
<line x1="578.5" y1="83.3" x2="838" y2="83.3" stroke="#FF0000" stroke-width="2.8"/>
<path d="M822.4,74.2 L839.5,83.3 L822.4,92.5" fill="none" stroke="#FF0000" stroke-width="2.8"/>
<line x1="578.5" y1="222.2" x2="838" y2="222.2" stroke="#5B9BE5" stroke-width="2.2"/>
<path d="M822.4,213 L839.5,222.2 L822.4,231.3" fill="none" stroke="#5B9BE5" stroke-width="2.2"/>
<text x="797.5" y="35.1" font-size="19" fill="#fff" text-anchor="start" font-weight="bold" >Dry</text>
<text x="793.5" y="171.1" font-size="19" fill="#fff" text-anchor="start" font-weight="bold" >Wet</text>
<rect x="592.1" y="271" width="41.9" height="6.9" fill="#fff"/>
<rect x="852.7" y="40.5" width="16" height="215.7" fill="url(#cbar)" stroke="#333" stroke-width="0.6"/>
<line x1="852.7" y1="62.1" x2="868.7" y2="62.1" stroke="#000" stroke-width="1"/>
<line x1="852.7" y1="105.3" x2="868.7" y2="105.3" stroke="#000" stroke-width="1"/>
<line x1="852.7" y1="148.3" x2="868.7" y2="148.3" stroke="#000" stroke-width="1"/>
<line x1="852.7" y1="191.5" x2="868.7" y2="191.5" stroke="#000" stroke-width="1"/>
<line x1="852.7" y1="234.1" x2="868.7" y2="234.1" stroke="#000" stroke-width="1"/>
<text x="844.5" y="36" font-size="14" fill="#000" text-anchor="start" font-weight="bold" >5 nm</text>
<text x="840.5" y="273" font-size="14" fill="#000" text-anchor="start" font-weight="bold" >-5 nm</text>
<text x="555" y="26.6" font-size="28" fill="#000" text-anchor="start" font-weight="bold" >c</text>
<rect x="940.4" y="10.6" width="304.4" height="259" fill="none" stroke="#000" stroke-width="2.6"/>
<line x1="937.9" y1="255.1" x2="940.4" y2="255.1" stroke="#000" stroke-width="2"/>
<line x1="936.4" y1="224.5" x2="940.4" y2="224.5" stroke="#000" stroke-width="2"/>
<text x="933.4" y="230.4" font-size="17" fill="#000" text-anchor="end" font-weight="bold" >0</text>
<line x1="937.9" y1="193.9" x2="940.4" y2="193.9" stroke="#000" stroke-width="2"/>
<line x1="936.4" y1="163.3" x2="940.4" y2="163.3" stroke="#000" stroke-width="2"/>
<text x="933.4" y="169.2" font-size="17" fill="#000" text-anchor="end" font-weight="bold" >2</text>
<line x1="937.9" y1="132.7" x2="940.4" y2="132.7" stroke="#000" stroke-width="2"/>
<line x1="936.4" y1="102.1" x2="940.4" y2="102.1" stroke="#000" stroke-width="2"/>
<text x="933.4" y="108" font-size="17" fill="#000" text-anchor="end" font-weight="bold" >4</text>
<line x1="937.9" y1="71.5" x2="940.4" y2="71.5" stroke="#000" stroke-width="2"/>
<line x1="936.4" y1="40.9" x2="940.4" y2="40.9" stroke="#000" stroke-width="2"/>
<text x="933.4" y="46.8" font-size="17" fill="#000" text-anchor="end" font-weight="bold" >6</text>
<line x1="940.6" y1="269.6" x2="940.6" y2="273.6" stroke="#000" stroke-width="2"/>
<text x="940.6" y="289.1" font-size="17" fill="#000" text-anchor="middle" font-weight="bold" >0.0</text>
<line x1="978.4" y1="269.6" x2="978.4" y2="272.1" stroke="#000" stroke-width="2"/>
<line x1="1016.1" y1="269.6" x2="1016.1" y2="273.6" stroke="#000" stroke-width="2"/>
<text x="1016.1" y="289.1" font-size="17" fill="#000" text-anchor="middle" font-weight="bold" >0.5</text>
<line x1="1053.8" y1="269.6" x2="1053.8" y2="272.1" stroke="#000" stroke-width="2"/>
<line x1="1091.6" y1="269.6" x2="1091.6" y2="273.6" stroke="#000" stroke-width="2"/>
<text x="1091.6" y="289.1" font-size="17" fill="#000" text-anchor="middle" font-weight="bold" >1.0</text>
<line x1="1129.3" y1="269.6" x2="1129.3" y2="272.1" stroke="#000" stroke-width="2"/>
<line x1="1167.1" y1="269.6" x2="1167.1" y2="273.6" stroke="#000" stroke-width="2"/>
<text x="1167.1" y="289.1" font-size="17" fill="#000" text-anchor="middle" font-weight="bold" >1.5</text>
<line x1="1204.8" y1="269.6" x2="1204.8" y2="272.1" stroke="#000" stroke-width="2"/>
<line x1="1242.6" y1="269.6" x2="1242.6" y2="273.6" stroke="#000" stroke-width="2"/>
<text x="1242.6" y="289.1" font-size="17" fill="#000" text-anchor="middle" font-weight="bold" >2.0</text>
<text x="1091.7" y="305.6" font-size="21.6" fill="#000" text-anchor="middle" font-weight="bold" >Distance (µm)</text>
<text transform="translate(911.5,140) rotate(-90)" font-size="21" font-weight="bold" text-anchor="middle" fill="#000">Height (nm)</text>
<path d="M940.6,239.4 L941.5,239.7 L942.4,239.5 L943.3,240.1 L944.2,238.1 L945.1,238.8 L946,231.9 L946.9,234.5 L947.8,237.4 L948.7,234.7 L949.6,236 L950.5,229.8 L951.4,231.8 L952.3,229.7 L953.2,231.3 L954.1,231.2 L955,226.8 L955.9,228 L956.8,228.1 L957.7,232.3 L958.6,230.9 L959.5,226.2 L960.4,230.5 L961.3,225.4 L962.2,228.5 L963.1,224.6 L964,223.4 L964.9,229.3 L965.8,224.1 L966.7,223.7 L967.6,228.8 L968.5,227.5 L969.4,222.9 L970.3,227.3 L971.2,223.8 L972.1,224.3 L973,220.5 L973.9,225.3 L974.8,223.7 L975.7,226 L976.6,225.8 L977.5,221.8 L978.4,222.6 L979.3,221.5 L980.2,221.6 L981.1,221.3 L982,223.3 L982.9,225.8 L983.8,221.8 L984.7,226.9 L985.6,224.8 L986.5,224.9 L987.4,228.9 L988.3,224.7 L989.2,221.5 L990.1,220.7 L991,220.4 L991.9,213.7 L992.8,218.4 L993.7,209.5 L994.6,212.8 L995.5,211.8 L996.4,204.4 L997.3,208.5 L998.2,204 L999.1,204.1 L1000,198.6 L1000.9,197.4 L1001.8,196.9 L1002.7,200.3 L1003.6,190 L1004.5,189.3 L1005.4,185.7 L1006.3,181 L1007.2,173.1 L1008.1,173.6 L1009,175.3 L1009.9,177.5 L1010.8,173.2 L1011.7,178.2 L1012.6,179 L1013.5,173.6 L1014.4,156.6 L1015.3,152.1 L1016.2,134.9 L1017.1,125.6 L1018,116.5 L1018.9,121.4 L1019.8,136.9 L1020.7,160.7 L1021.6,177.7 L1022.5,180.2 L1023.4,172.2 L1024.3,163.1 L1025.2,154.3 L1026.1,148.9 L1027,164.4 L1027.9,178.2 L1028.8,183.8 L1029.7,192.1 L1030.6,187.3 L1031.5,172.6 L1032.4,160.1 L1033.3,147.4 L1034.2,138.5 L1035.1,128.6 L1036,114.5 L1036.9,102.7 L1037.8,98.8 L1038.7,105 L1039.6,98.6 L1040.5,102 L1041.4,104.4 L1042.3,108.4 L1043.2,124.4 L1044.1,137.7 L1045,147.1 L1045.9,159.9 L1046.8,153.7 L1047.7,153.1 L1048.6,148.1 L1049.5,150.2 L1050.4,143.3 L1051.3,145.7 L1052.2,152.1 L1053.1,153.5 L1054,156.8 L1054.9,155.5 L1055.8,151.8 L1056.7,148.9 L1057.6,142.4 L1058.5,136.3 L1059.4,132.5 L1060.3,135.3 L1061.2,144.3 L1062.1,156.1 L1063,163.2 L1063.9,168.2 L1064.8,157.9 L1065.7,145.3 L1066.6,132.1 L1067.5,121.9 L1068.4,114.2 L1069.3,107.3 L1070.2,97.3 L1071.1,94 L1072,87.5 L1072.9,80.6 L1073.8,75.6 L1074.7,84.1 L1075.6,89.2 L1076.5,99.5 L1077.4,104.4 L1078.3,113.8 L1079.2,121.6 L1080.1,119.5 L1081,115.1 L1081.9,118.2 L1082.8,114.5 L1083.7,112.4 L1084.6,114.3 L1085.5,133.4 L1086.4,146.5 L1087.3,164.8 L1088.2,177 L1089.1,181 L1090,181.2 L1090.9,183.7 L1091.8,182 L1092.7,185.5 L1093.6,187.7 L1094.5,189.8 L1095.4,187.8 L1096.3,177.3 L1097.2,161.6 L1098.1,144.4 L1099,130.6 L1099.9,114.6 L1100.8,120.4 L1101.7,132.7 L1102.6,142.2 L1103.5,154.8 L1104.4,159.7 L1105.3,160.6 L1106.2,166.3 L1107.1,170.7 L1108,171.3 L1108.9,164.8 L1109.8,166.7 L1110.7,162.8 L1111.6,160.9 L1112.5,156.7 L1113.4,155.7 L1114.3,173.3 L1115.2,191.2 L1116.1,210.7 L1117,214.2 L1117.9,215.5 L1118.8,217.7 L1119.7,219.5 L1120.6,216.6 L1121.5,220.3 L1122.4,220.1 L1123.3,216.1 L1124.2,219.5 L1125.1,218 L1126,217 L1126.9,217.8 L1127.8,218.6 L1128.7,217 L1129.6,216.4 L1130.5,214.7 L1131.4,217.1 L1132.3,215.9 L1133.2,216.9 L1134.1,216.1 L1135,212.9 L1135.9,217 L1136.8,209.9 L1137.7,212.6 L1138.6,213.2 L1139.5,215.6 L1140.4,214.9 L1141.3,221.5 L1142.2,219.6 L1143.1,218.6 L1144,224.2 L1144.9,221.9 L1145.8,224.9 L1146.7,223 L1147.6,224.3 L1148.5,226.5 L1149.4,225.1 L1150.3,221.8 L1151.2,224.2 L1152.1,222.5 L1153,220.1 L1153.9,218 L1154.8,220.8 L1155.7,220.1 L1156.6,222.5 L1157.5,219.9 L1158.4,212.8 L1159.3,206.4 L1160.2,205.8 L1161.1,194.9 L1162,191.2 L1162.9,190 L1163.8,185.8 L1164.7,177.9 L1165.6,176.9 L1166.5,176.3 L1167.4,171.7 L1168.3,171.2 L1169.2,168.8 L1170.1,168.4 L1171,186.8 L1171.9,207.6 L1172.8,231 L1173.7,229.4 L1174.6,225.8 L1175.5,222.1 L1176.4,226 L1177.3,221.3 L1178.2,219.4 L1179.1,217.4 L1180,220.9 L1180.9,216.1 L1181.8,215.7 L1182.7,218.4 L1183.6,217.2 L1184.5,222.1 L1185.4,222.2 L1186.3,222.5 L1187.2,227.3 L1188.1,229 L1189,224.5 L1189.9,229.6 L1190.8,227.3 L1191.7,231.4 L1192.6,229.7 L1193.5,225.2 L1194.4,224.7 L1195.3,223.3 L1196.2,228.7 L1197.1,223 L1198,224.7 L1198.9,223.1 L1199.8,223.7 L1200.7,222.8 L1201.6,223.1 L1202.5,218 L1203.4,222 L1204.3,218.1 L1205.2,219.4 L1206.1,218.9 L1207,219.5 L1207.9,222.1 L1208.8,222.5 L1209.7,222.7 L1210.6,226.4 L1211.5,226.2 L1212.4,223.1 L1213.3,225.5 L1214.2,227.9 L1215.1,232.1 L1216,232.8 L1216.9,231.2 L1217.8,226.6 L1218.7,231.1 L1219.6,227.6 L1220.5,227.6 L1221.4,227.5 L1222.3,226 L1223.2,223.9 L1224.1,226 L1225,221.2 L1225.9,220.2 L1226.8,222.5 L1227.7,216.8 L1228.6,216.5 L1229.5,220.2 L1230.4,215.4 L1231.3,221.5 L1232.2,221.1 L1233.1,219.9 L1234,219.5 L1234.9,223.7 L1235.8,225.2 L1236.7,220.3 L1237.6,223.4 L1238.5,224.5 L1239.4,224.8 L1240.3,224.2 L1241.2,223.5 L1242.1,227.3 L1243,229.5 L1243.9,224.8" fill="none" stroke="#F07878" stroke-width="2.3" stroke-linejoin="round"/>
<path d="M940.6,224.2 L941.5,223.5 L942.4,226.6 L943.3,223.6 L944.2,226.5 L945.1,225.8 L946,224.4 L946.9,227.2 L947.8,224.8 L948.7,227.3 L949.6,225.6 L950.5,226 L951.4,228.1 L952.3,230.6 L953.2,227 L954.1,227.8 L955,230.3 L955.9,232.4 L956.8,230.6 L957.7,229.8 L958.6,233.3 L959.5,228.4 L960.4,233.2 L961.3,230.3 L962.2,229.8 L963.1,229.9 L964,231.2 L964.9,234.3 L965.8,231.1 L966.7,233.6 L967.6,234.2 L968.5,232.9 L969.4,234.2 L970.3,231.7 L971.2,232 L972.1,233.1 L973,236 L973.9,234.9 L974.8,234.5 L975.7,236.3 L976.6,235.8 L977.5,235.2 L978.4,238.3 L979.3,238 L980.2,235.7 L981.1,237.5 L982,237.2 L982.9,239.2 L983.8,238.4 L984.7,235.9 L985.6,239.8 L986.5,235 L987.4,236.6 L988.3,238.5 L989.2,235.2 L990.1,237 L991,234.5 L991.9,238 L992.8,238.6 L993.7,237.5 L994.6,239.2 L995.5,236.5 L996.4,239.4 L997.3,239.5 L998.2,240.2 L999.1,240.3 L1000,243.2 L1000.9,244.5 L1001.8,242.6 L1002.7,244.4 L1003.6,241.8 L1004.5,245.4 L1005.4,244.5 L1006.3,245.9 L1007.2,244.4 L1008.1,240.8 L1009,240.8 L1009.9,241.9 L1010.8,237.7 L1011.7,239.6 L1012.6,237.4 L1013.5,236.5 L1014.4,235.6 L1015.3,239 L1016.2,235.1 L1017.1,236.3 L1018,237.6 L1018.9,240.8 L1019.8,236.9 L1020.7,239.5 L1021.6,240.5 L1022.5,242.9 L1023.4,243.1 L1024.3,243.8 L1025.2,241.1 L1026.1,242.3 L1027,241.7 L1027.9,243.3 L1028.8,242.4 L1029.7,236.5 L1030.6,235.3 L1031.5,234.2 L1032.4,232.9 L1033.3,233 L1034.2,232.2 L1035.1,229 L1036,226.2 L1036.9,227.2 L1037.8,225.6 L1038.7,225.4 L1039.6,227.1 L1040.5,225.1 L1041.4,223.6 L1042.3,223.6 L1043.2,223.4 L1044.1,219.4 L1045,223.6 L1045.9,222.5 L1046.8,222.5 L1047.7,221.5 L1048.6,218.7 L1049.5,218.7 L1050.4,217.3 L1051.3,220.6 L1052.2,217.7 L1053.1,218 L1054,219.1 L1054.9,219.2 L1055.8,220.5 L1056.7,219.2 L1057.6,219.2 L1058.5,217.2 L1059.4,211.7 L1060.3,207.9 L1061.2,200.8 L1062.1,200.3 L1063,193.6 L1063.9,185.8 L1064.8,181.1 L1065.7,176.4 L1066.6,172.6 L1067.5,178.4 L1068.4,189.6 L1069.3,197.6 L1070.2,201.8 L1071.1,209 L1072,209.7 L1072.9,207.5 L1073.8,206.5 L1074.7,203.7 L1075.6,204.5 L1076.5,198.5 L1077.4,195.3 L1078.3,198.2 L1079.2,193.2 L1080.1,185.9 L1081,182.9 L1081.9,174.9 L1082.8,172.5 L1083.7,169.8 L1084.6,164 L1085.5,156.6 L1086.4,146.2 L1087.3,138.8 L1088.2,129.7 L1089.1,125.1 L1090,119.1 L1090.9,118.4 L1091.8,113.9 L1092.7,111.2 L1093.6,112.5 L1094.5,111.5 L1095.4,108.7 L1096.3,112.2 L1097.2,116.8 L1098.1,120.8 L1099,122.5 L1099.9,128.6 L1100.8,131.7 L1101.7,133.7 L1102.6,137.6 L1103.5,142.9 L1104.4,146.7 L1105.3,145.6 L1106.2,142.6 L1107.1,135.2 L1108,133.4 L1108.9,129.2 L1109.8,125.3 L1110.7,118.4 L1111.6,114 L1112.5,110.5 L1113.4,106.7 L1114.3,103.1 L1115.2,101.9 L1116.1,100 L1117,96.2 L1117.9,90.7 L1118.8,88.2 L1119.7,85.5 L1120.6,78 L1121.5,77.8 L1122.4,81.9 L1123.3,84.7 L1124.2,88 L1125.1,90 L1126,91.8 L1126.9,98.7 L1127.8,96.9 L1128.7,100 L1129.6,101.3 L1130.5,98.5 L1131.4,98.9 L1132.3,102.4 L1133.2,101.6 L1134.1,100.6 L1135,103.9 L1135.9,107.5 L1136.8,115.2 L1137.7,118.2 L1138.6,118 L1139.5,120.7 L1140.4,116.8 L1141.3,110.3 L1142.2,103.9 L1143.1,100.2 L1144,93.2 L1144.9,87.8 L1145.8,86.2 L1146.7,77.2 L1147.6,69.3 L1148.5,64.4 L1149.4,54.4 L1150.3,49.7 L1151.2,43.9 L1152.1,40.7 L1153,41.3 L1153.9,41.8 L1154.8,41.8 L1155.7,44.9 L1156.6,47.4 L1157.5,52.5 L1158.4,55.2 L1159.3,63.8 L1160.2,65 L1161.1,69.9 L1162,74.2 L1162.9,79.2 L1163.8,79.6 L1164.7,85.5 L1165.6,86.4 L1166.5,89.7 L1167.4,92.8 L1168.3,98.3 L1169.2,109.7 L1170.1,117.2 L1171,125.2 L1171.9,138.7 L1172.8,144.2 L1173.7,154.9 L1174.6,165.3 L1175.5,166.3 L1176.4,161.4 L1177.3,158.9 L1178.2,155.5 L1179.1,153.2 L1180,145.8 L1180.9,144.7 L1181.8,138.8 L1182.7,134.7 L1183.6,133.2 L1184.5,127.5 L1185.4,123.6 L1186.3,120.4 L1187.2,122 L1188.1,120.7 L1189,123 L1189.9,123.7 L1190.8,125 L1191.7,128 L1192.6,131 L1193.5,135.7 L1194.4,139.7 L1195.3,146.5 L1196.2,149.4 L1197.1,154.7 L1198,157.4 L1198.9,154.2 L1199.8,156.6 L1200.7,159.4 L1201.6,159.5 L1202.5,156.2 L1203.4,156.8 L1204.3,164 L1205.2,167.9 L1206.1,174.9 L1207,179.9 L1207.9,189.3 L1208.8,195.9 L1209.7,202.6 L1210.6,204.4 L1211.5,213.5 L1212.4,219.2 L1213.3,217.5 L1214.2,222.3 L1215.1,223.4 L1216,219.8 L1216.9,224.5 L1217.8,222 L1218.7,223.1 L1219.6,226.5 L1220.5,226.2 L1221.4,223 L1222.3,224.6 L1223.2,225.1 L1224.1,224.1 L1225,223.3 L1225.9,224 L1226.8,226.2 L1227.7,222.3 L1228.6,225.3 L1229.5,224.7 L1230.4,222.3 L1231.3,224.1 L1232.2,225.3 L1233.1,223.1 L1234,219 L1234.9,222.5 L1235.8,219.8 L1236.7,219.2 L1237.6,212.7 L1238.5,212 L1239.4,209.1 L1240.3,214.9 L1241.2,214.2 L1242.1,215.5 L1243,219.2 L1243.9,224.1" fill="none" stroke="#5A96E6" stroke-width="2.3" stroke-linejoin="round"/>
<text x="1012" y="65.2" font-size="19.5" fill="#FF0000" text-anchor="start" font-weight="bold" letter-spacing="0.3">4.91 nm</text>
<text x="1150" y="34.2" font-size="19.5" fill="#4472C4" text-anchor="start" font-weight="bold" >5.94 nm</text>
<text x="1004" y="262.2" font-size="19.5" fill="#4472C4" text-anchor="start" font-weight="bold" >Wet</text>
<text x="1165" y="246.6" font-size="19.5" fill="#FF0000" text-anchor="start" font-weight="bold" >Dry</text>
<text x="897" y="26.9" font-size="28" fill="#000" text-anchor="start" font-weight="bold" >d</text>
<rect x="31.7" y="334" width="466" height="230.5" fill="none" stroke="#ED7D31" stroke-width="2.2" stroke-dasharray="9 7.8"/>
<rect x="31.7" y="577.8" width="468" height="229" fill="none" stroke="#4472C4" stroke-width="2.2" stroke-dasharray="9 7.8"/>
<g fill="#A0A0A0" stroke="#000" stroke-width="1.6"><circle cx="82.6" cy="358.6" r="5"/><circle cx="92.1" cy="358.6" r="5"/><circle cx="111.6" cy="358.6" r="5"/><circle cx="121.1" cy="358.6" r="5"/><circle cx="140.6" cy="358.6" r="5"/><circle cx="150.1" cy="358.6" r="5"/><circle cx="169.5" cy="358.6" r="5"/><circle cx="179" cy="358.6" r="5"/><circle cx="198.5" cy="358.6" r="5"/><circle cx="208" cy="358.6" r="5"/><circle cx="227.5" cy="358.6" r="5"/><circle cx="237" cy="358.6" r="5"/><circle cx="256.4" cy="358.6" r="5"/><circle cx="265.9" cy="358.6" r="5"/><circle cx="285.4" cy="358.6" r="5"/><circle cx="294.9" cy="358.6" r="5"/><circle cx="314.4" cy="358.6" r="5"/><circle cx="323.9" cy="358.6" r="5"/><circle cx="343.4" cy="358.6" r="5"/><circle cx="352.9" cy="358.6" r="5"/><circle cx="78" cy="359.2" r="5"/><circle cx="97.4" cy="359.2" r="5"/><circle cx="107" cy="359.2" r="5"/><circle cx="126.4" cy="359.2" r="5"/><circle cx="136" cy="359.2" r="5"/><circle cx="155.3" cy="359.2" r="5"/><circle cx="164.9" cy="359.2" r="5"/><circle cx="184.3" cy="359.2" r="5"/><circle cx="193.9" cy="359.2" r="5"/><circle cx="213.3" cy="359.2" r="5"/><circle cx="222.9" cy="359.2" r="5"/><circle cx="242.2" cy="359.2" r="5"/><circle cx="251.8" cy="359.2" r="5"/><circle cx="271.2" cy="359.2" r="5"/><circle cx="280.8" cy="359.2" r="5"/><circle cx="300.2" cy="359.2" r="5"/><circle cx="309.8" cy="359.2" r="5"/><circle cx="329.2" cy="359.2" r="5"/><circle cx="338.8" cy="359.2" r="5"/><circle cx="358.1" cy="359.2" r="5"/></g>
<g fill="#A0A0A0" stroke="#000" stroke-width="1.6"><circle cx="82.6" cy="381.4" r="5"/><circle cx="92.1" cy="381.4" r="5"/><circle cx="111.6" cy="381.4" r="5"/><circle cx="121.1" cy="381.4" r="5"/><circle cx="140.6" cy="381.4" r="5"/><circle cx="150.1" cy="381.4" r="5"/><circle cx="169.5" cy="381.4" r="5"/><circle cx="179" cy="381.4" r="5"/><circle cx="198.5" cy="381.4" r="5"/><circle cx="208" cy="381.4" r="5"/><circle cx="227.5" cy="381.4" r="5"/><circle cx="237" cy="381.4" r="5"/><circle cx="256.4" cy="381.4" r="5"/><circle cx="265.9" cy="381.4" r="5"/><circle cx="285.4" cy="381.4" r="5"/><circle cx="294.9" cy="381.4" r="5"/><circle cx="314.4" cy="381.4" r="5"/><circle cx="323.9" cy="381.4" r="5"/><circle cx="343.4" cy="381.4" r="5"/><circle cx="352.9" cy="381.4" r="5"/><circle cx="78" cy="382" r="5"/><circle cx="97.4" cy="382" r="5"/><circle cx="107" cy="382" r="5"/><circle cx="126.4" cy="382" r="5"/><circle cx="136" cy="382" r="5"/><circle cx="155.3" cy="382" r="5"/><circle cx="164.9" cy="382" r="5"/><circle cx="184.3" cy="382" r="5"/><circle cx="193.9" cy="382" r="5"/><circle cx="213.3" cy="382" r="5"/><circle cx="222.9" cy="382" r="5"/><circle cx="242.2" cy="382" r="5"/><circle cx="251.8" cy="382" r="5"/><circle cx="271.2" cy="382" r="5"/><circle cx="280.8" cy="382" r="5"/><circle cx="300.2" cy="382" r="5"/><circle cx="309.8" cy="382" r="5"/><circle cx="329.2" cy="382" r="5"/><circle cx="338.8" cy="382" r="5"/><circle cx="358.1" cy="382" r="5"/></g>
<g fill="#A0A0A0" stroke="#000" stroke-width="1.6"><circle cx="82.6" cy="404.2" r="5"/><circle cx="92.1" cy="404.2" r="5"/><circle cx="111.6" cy="404.2" r="5"/><circle cx="121.1" cy="404.2" r="5"/><circle cx="140.6" cy="404.2" r="5"/><circle cx="150.1" cy="404.2" r="5"/><circle cx="169.5" cy="404.2" r="5"/><circle cx="179" cy="404.2" r="5"/><circle cx="198.5" cy="404.2" r="5"/><circle cx="208" cy="404.2" r="5"/><circle cx="227.5" cy="404.2" r="5"/><circle cx="237" cy="404.2" r="5"/><circle cx="256.4" cy="404.2" r="5"/><circle cx="265.9" cy="404.2" r="5"/><circle cx="285.4" cy="404.2" r="5"/><circle cx="294.9" cy="404.2" r="5"/><circle cx="314.4" cy="404.2" r="5"/><circle cx="323.9" cy="404.2" r="5"/><circle cx="343.4" cy="404.2" r="5"/><circle cx="352.9" cy="404.2" r="5"/><circle cx="78" cy="404.8" r="5"/><circle cx="97.4" cy="404.8" r="5"/><circle cx="107" cy="404.8" r="5"/><circle cx="126.4" cy="404.8" r="5"/><circle cx="136" cy="404.8" r="5"/><circle cx="155.3" cy="404.8" r="5"/><circle cx="164.9" cy="404.8" r="5"/><circle cx="184.3" cy="404.8" r="5"/><circle cx="193.9" cy="404.8" r="5"/><circle cx="213.3" cy="404.8" r="5"/><circle cx="222.9" cy="404.8" r="5"/><circle cx="242.2" cy="404.8" r="5"/><circle cx="251.8" cy="404.8" r="5"/><circle cx="271.2" cy="404.8" r="5"/><circle cx="280.8" cy="404.8" r="5"/><circle cx="300.2" cy="404.8" r="5"/><circle cx="309.8" cy="404.8" r="5"/><circle cx="329.2" cy="404.8" r="5"/><circle cx="338.8" cy="404.8" r="5"/><circle cx="358.1" cy="404.8" r="5"/></g>
<g fill="#A0A0A0" stroke="#000" stroke-width="1.6"><circle cx="82.6" cy="499.7" r="5"/><circle cx="92.1" cy="499.7" r="5"/><circle cx="111.6" cy="499.7" r="5"/><circle cx="121.1" cy="499.7" r="5"/><circle cx="140.6" cy="499.7" r="5"/><circle cx="150.1" cy="499.7" r="5"/><circle cx="169.5" cy="499.7" r="5"/><circle cx="179" cy="499.7" r="5"/><circle cx="198.5" cy="499.7" r="5"/><circle cx="208" cy="499.7" r="5"/><circle cx="227.5" cy="499.7" r="5"/><circle cx="237" cy="499.7" r="5"/><circle cx="256.4" cy="499.7" r="5"/><circle cx="265.9" cy="499.7" r="5"/><circle cx="285.4" cy="499.7" r="5"/><circle cx="294.9" cy="499.7" r="5"/><circle cx="314.4" cy="499.7" r="5"/><circle cx="323.9" cy="499.7" r="5"/><circle cx="343.4" cy="499.7" r="5"/><circle cx="352.9" cy="499.7" r="5"/><circle cx="78" cy="500.3" r="5"/><circle cx="97.4" cy="500.3" r="5"/><circle cx="107" cy="500.3" r="5"/><circle cx="126.4" cy="500.3" r="5"/><circle cx="136" cy="500.3" r="5"/><circle cx="155.3" cy="500.3" r="5"/><circle cx="164.9" cy="500.3" r="5"/><circle cx="184.3" cy="500.3" r="5"/><circle cx="193.9" cy="500.3" r="5"/><circle cx="213.3" cy="500.3" r="5"/><circle cx="222.9" cy="500.3" r="5"/><circle cx="242.2" cy="500.3" r="5"/><circle cx="251.8" cy="500.3" r="5"/><circle cx="271.2" cy="500.3" r="5"/><circle cx="280.8" cy="500.3" r="5"/><circle cx="300.2" cy="500.3" r="5"/><circle cx="309.8" cy="500.3" r="5"/><circle cx="329.2" cy="500.3" r="5"/><circle cx="338.8" cy="500.3" r="5"/><circle cx="358.1" cy="500.3" r="5"/></g>
<g fill="#A0A0A0" stroke="#000" stroke-width="1.6"><circle cx="82.6" cy="522.1" r="5"/><circle cx="92.1" cy="522.1" r="5"/><circle cx="111.6" cy="522.1" r="5"/><circle cx="121.1" cy="522.1" r="5"/><circle cx="140.6" cy="522.1" r="5"/><circle cx="150.1" cy="522.1" r="5"/><circle cx="169.5" cy="522.1" r="5"/><circle cx="179" cy="522.1" r="5"/><circle cx="198.5" cy="522.1" r="5"/><circle cx="208" cy="522.1" r="5"/><circle cx="227.5" cy="522.1" r="5"/><circle cx="237" cy="522.1" r="5"/><circle cx="256.4" cy="522.1" r="5"/><circle cx="265.9" cy="522.1" r="5"/><circle cx="285.4" cy="522.1" r="5"/><circle cx="294.9" cy="522.1" r="5"/><circle cx="314.4" cy="522.1" r="5"/><circle cx="323.9" cy="522.1" r="5"/><circle cx="343.4" cy="522.1" r="5"/><circle cx="352.9" cy="522.1" r="5"/><circle cx="78" cy="522.7" r="5"/><circle cx="97.4" cy="522.7" r="5"/><circle cx="107" cy="522.7" r="5"/><circle cx="126.4" cy="522.7" r="5"/><circle cx="136" cy="522.7" r="5"/><circle cx="155.3" cy="522.7" r="5"/><circle cx="164.9" cy="522.7" r="5"/><circle cx="184.3" cy="522.7" r="5"/><circle cx="193.9" cy="522.7" r="5"/><circle cx="213.3" cy="522.7" r="5"/><circle cx="222.9" cy="522.7" r="5"/><circle cx="242.2" cy="522.7" r="5"/><circle cx="251.8" cy="522.7" r="5"/><circle cx="271.2" cy="522.7" r="5"/><circle cx="280.8" cy="522.7" r="5"/><circle cx="300.2" cy="522.7" r="5"/><circle cx="309.8" cy="522.7" r="5"/><circle cx="329.2" cy="522.7" r="5"/><circle cx="338.8" cy="522.7" r="5"/><circle cx="358.1" cy="522.7" r="5"/></g>
<g fill="#A0A0A0" stroke="#000" stroke-width="1.6"><circle cx="82.6" cy="544.6" r="5"/><circle cx="92.1" cy="544.6" r="5"/><circle cx="111.6" cy="544.6" r="5"/><circle cx="121.1" cy="544.6" r="5"/><circle cx="140.6" cy="544.6" r="5"/><circle cx="150.1" cy="544.6" r="5"/><circle cx="169.5" cy="544.6" r="5"/><circle cx="179" cy="544.6" r="5"/><circle cx="198.5" cy="544.6" r="5"/><circle cx="208" cy="544.6" r="5"/><circle cx="227.5" cy="544.6" r="5"/><circle cx="237" cy="544.6" r="5"/><circle cx="256.4" cy="544.6" r="5"/><circle cx="265.9" cy="544.6" r="5"/><circle cx="285.4" cy="544.6" r="5"/><circle cx="294.9" cy="544.6" r="5"/><circle cx="314.4" cy="544.6" r="5"/><circle cx="323.9" cy="544.6" r="5"/><circle cx="343.4" cy="544.6" r="5"/><circle cx="352.9" cy="544.6" r="5"/><circle cx="78" cy="545.2" r="5"/><circle cx="97.4" cy="545.2" r="5"/><circle cx="107" cy="545.2" r="5"/><circle cx="126.4" cy="545.2" r="5"/><circle cx="136" cy="545.2" r="5"/><circle cx="155.3" cy="545.2" r="5"/><circle cx="164.9" cy="545.2" r="5"/><circle cx="184.3" cy="545.2" r="5"/><circle cx="193.9" cy="545.2" r="5"/><circle cx="213.3" cy="545.2" r="5"/><circle cx="222.9" cy="545.2" r="5"/><circle cx="242.2" cy="545.2" r="5"/><circle cx="251.8" cy="545.2" r="5"/><circle cx="271.2" cy="545.2" r="5"/><circle cx="280.8" cy="545.2" r="5"/><circle cx="300.2" cy="545.2" r="5"/><circle cx="309.8" cy="545.2" r="5"/><circle cx="329.2" cy="545.2" r="5"/><circle cx="338.8" cy="545.2" r="5"/><circle cx="358.1" cy="545.2" r="5"/></g>
<g fill="#A0A0A0" stroke="#000" stroke-width="1.6"><circle cx="88.6" cy="592.1" r="5"/><circle cx="98.1" cy="592.1" r="5"/><circle cx="117.6" cy="592.1" r="5"/><circle cx="127.1" cy="592.1" r="5"/><circle cx="146.6" cy="592.1" r="5"/><circle cx="156.1" cy="592.1" r="5"/><circle cx="175.5" cy="592.1" r="5"/><circle cx="185" cy="592.1" r="5"/><circle cx="204.5" cy="592.1" r="5"/><circle cx="214" cy="592.1" r="5"/><circle cx="233.5" cy="592.1" r="5"/><circle cx="243" cy="592.1" r="5"/><circle cx="262.4" cy="592.1" r="5"/><circle cx="271.9" cy="592.1" r="5"/><circle cx="291.4" cy="592.1" r="5"/><circle cx="300.9" cy="592.1" r="5"/><circle cx="320.4" cy="592.1" r="5"/><circle cx="329.9" cy="592.1" r="5"/><circle cx="349.4" cy="592.1" r="5"/><circle cx="358.9" cy="592.1" r="5"/><circle cx="84" cy="592.7" r="5"/><circle cx="103.4" cy="592.7" r="5"/><circle cx="113" cy="592.7" r="5"/><circle cx="132.4" cy="592.7" r="5"/><circle cx="142" cy="592.7" r="5"/><circle cx="161.3" cy="592.7" r="5"/><circle cx="170.9" cy="592.7" r="5"/><circle cx="190.3" cy="592.7" r="5"/><circle cx="199.9" cy="592.7" r="5"/><circle cx="219.3" cy="592.7" r="5"/><circle cx="228.9" cy="592.7" r="5"/><circle cx="248.2" cy="592.7" r="5"/><circle cx="257.9" cy="592.7" r="5"/><circle cx="277.2" cy="592.7" r="5"/><circle cx="286.8" cy="592.7" r="5"/><circle cx="306.2" cy="592.7" r="5"/><circle cx="315.8" cy="592.7" r="5"/><circle cx="335.2" cy="592.7" r="5"/><circle cx="344.8" cy="592.7" r="5"/><circle cx="364.1" cy="592.7" r="5"/></g>
<g fill="#A0A0A0" stroke="#000" stroke-width="1.6"><circle cx="88.6" cy="614.5" r="5"/><circle cx="98.1" cy="614.5" r="5"/><circle cx="117.6" cy="614.5" r="5"/><circle cx="127.1" cy="614.5" r="5"/><circle cx="146.6" cy="614.5" r="5"/><circle cx="156.1" cy="614.5" r="5"/><circle cx="175.5" cy="614.5" r="5"/><circle cx="185" cy="614.5" r="5"/><circle cx="204.5" cy="614.5" r="5"/><circle cx="214" cy="614.5" r="5"/><circle cx="233.5" cy="614.5" r="5"/><circle cx="243" cy="614.5" r="5"/><circle cx="262.4" cy="614.5" r="5"/><circle cx="271.9" cy="614.5" r="5"/><circle cx="291.4" cy="614.5" r="5"/><circle cx="300.9" cy="614.5" r="5"/><circle cx="320.4" cy="614.5" r="5"/><circle cx="329.9" cy="614.5" r="5"/><circle cx="349.4" cy="614.5" r="5"/><circle cx="358.9" cy="614.5" r="5"/><circle cx="84" cy="615.1" r="5"/><circle cx="103.4" cy="615.1" r="5"/><circle cx="113" cy="615.1" r="5"/><circle cx="132.4" cy="615.1" r="5"/><circle cx="142" cy="615.1" r="5"/><circle cx="161.3" cy="615.1" r="5"/><circle cx="170.9" cy="615.1" r="5"/><circle cx="190.3" cy="615.1" r="5"/><circle cx="199.9" cy="615.1" r="5"/><circle cx="219.3" cy="615.1" r="5"/><circle cx="228.9" cy="615.1" r="5"/><circle cx="248.2" cy="615.1" r="5"/><circle cx="257.9" cy="615.1" r="5"/><circle cx="277.2" cy="615.1" r="5"/><circle cx="286.8" cy="615.1" r="5"/><circle cx="306.2" cy="615.1" r="5"/><circle cx="315.8" cy="615.1" r="5"/><circle cx="335.2" cy="615.1" r="5"/><circle cx="344.8" cy="615.1" r="5"/><circle cx="364.1" cy="615.1" r="5"/></g>
<g fill="#A0A0A0" stroke="#000" stroke-width="1.6"><circle cx="88.6" cy="637.2" r="5"/><circle cx="98.1" cy="637.2" r="5"/><circle cx="117.6" cy="637.2" r="5"/><circle cx="127.1" cy="637.2" r="5"/><circle cx="146.6" cy="637.2" r="5"/><circle cx="156.1" cy="637.2" r="5"/><circle cx="175.5" cy="637.2" r="5"/><circle cx="185" cy="637.2" r="5"/><circle cx="204.5" cy="637.2" r="5"/><circle cx="214" cy="637.2" r="5"/><circle cx="233.5" cy="637.2" r="5"/><circle cx="243" cy="637.2" r="5"/><circle cx="262.4" cy="637.2" r="5"/><circle cx="271.9" cy="637.2" r="5"/><circle cx="291.4" cy="637.2" r="5"/><circle cx="300.9" cy="637.2" r="5"/><circle cx="320.4" cy="637.2" r="5"/><circle cx="329.9" cy="637.2" r="5"/><circle cx="349.4" cy="637.2" r="5"/><circle cx="358.9" cy="637.2" r="5"/><circle cx="84" cy="637.8" r="5"/><circle cx="103.4" cy="637.8" r="5"/><circle cx="113" cy="637.8" r="5"/><circle cx="132.4" cy="637.8" r="5"/><circle cx="142" cy="637.8" r="5"/><circle cx="161.3" cy="637.8" r="5"/><circle cx="170.9" cy="637.8" r="5"/><circle cx="190.3" cy="637.8" r="5"/><circle cx="199.9" cy="637.8" r="5"/><circle cx="219.3" cy="637.8" r="5"/><circle cx="228.9" cy="637.8" r="5"/><circle cx="248.2" cy="637.8" r="5"/><circle cx="257.9" cy="637.8" r="5"/><circle cx="277.2" cy="637.8" r="5"/><circle cx="286.8" cy="637.8" r="5"/><circle cx="306.2" cy="637.8" r="5"/><circle cx="315.8" cy="637.8" r="5"/><circle cx="335.2" cy="637.8" r="5"/><circle cx="344.8" cy="637.8" r="5"/><circle cx="364.1" cy="637.8" r="5"/></g>
<g fill="#A0A0A0" stroke="#000" stroke-width="1.6"><circle cx="88.6" cy="741.4" r="5"/><circle cx="98.1" cy="741.4" r="5"/><circle cx="117.6" cy="741.4" r="5"/><circle cx="127.1" cy="741.4" r="5"/><circle cx="146.6" cy="741.4" r="5"/><circle cx="156.1" cy="741.4" r="5"/><circle cx="175.5" cy="741.4" r="5"/><circle cx="185" cy="741.4" r="5"/><circle cx="204.5" cy="741.4" r="5"/><circle cx="214" cy="741.4" r="5"/><circle cx="233.5" cy="741.4" r="5"/><circle cx="243" cy="741.4" r="5"/><circle cx="262.4" cy="741.4" r="5"/><circle cx="271.9" cy="741.4" r="5"/><circle cx="291.4" cy="741.4" r="5"/><circle cx="300.9" cy="741.4" r="5"/><circle cx="320.4" cy="741.4" r="5"/><circle cx="329.9" cy="741.4" r="5"/><circle cx="349.4" cy="741.4" r="5"/><circle cx="358.9" cy="741.4" r="5"/><circle cx="84" cy="742" r="5"/><circle cx="103.4" cy="742" r="5"/><circle cx="113" cy="742" r="5"/><circle cx="132.4" cy="742" r="5"/><circle cx="142" cy="742" r="5"/><circle cx="161.3" cy="742" r="5"/><circle cx="170.9" cy="742" r="5"/><circle cx="190.3" cy="742" r="5"/><circle cx="199.9" cy="742" r="5"/><circle cx="219.3" cy="742" r="5"/><circle cx="228.9" cy="742" r="5"/><circle cx="248.2" cy="742" r="5"/><circle cx="257.9" cy="742" r="5"/><circle cx="277.2" cy="742" r="5"/><circle cx="286.8" cy="742" r="5"/><circle cx="306.2" cy="742" r="5"/><circle cx="315.8" cy="742" r="5"/><circle cx="335.2" cy="742" r="5"/><circle cx="344.8" cy="742" r="5"/><circle cx="364.1" cy="742" r="5"/></g>
<g fill="#A0A0A0" stroke="#000" stroke-width="1.6"><circle cx="88.6" cy="763.5" r="5"/><circle cx="98.1" cy="763.5" r="5"/><circle cx="117.6" cy="763.5" r="5"/><circle cx="127.1" cy="763.5" r="5"/><circle cx="146.6" cy="763.5" r="5"/><circle cx="156.1" cy="763.5" r="5"/><circle cx="175.5" cy="763.5" r="5"/><circle cx="185" cy="763.5" r="5"/><circle cx="204.5" cy="763.5" r="5"/><circle cx="214" cy="763.5" r="5"/><circle cx="233.5" cy="763.5" r="5"/><circle cx="243" cy="763.5" r="5"/><circle cx="262.4" cy="763.5" r="5"/><circle cx="271.9" cy="763.5" r="5"/><circle cx="291.4" cy="763.5" r="5"/><circle cx="300.9" cy="763.5" r="5"/><circle cx="320.4" cy="763.5" r="5"/><circle cx="329.9" cy="763.5" r="5"/><circle cx="349.4" cy="763.5" r="5"/><circle cx="358.9" cy="763.5" r="5"/><circle cx="84" cy="764.1" r="5"/><circle cx="103.4" cy="764.1" r="5"/><circle cx="113" cy="764.1" r="5"/><circle cx="132.4" cy="764.1" r="5"/><circle cx="142" cy="764.1" r="5"/><circle cx="161.3" cy="764.1" r="5"/><circle cx="170.9" cy="764.1" r="5"/><circle cx="190.3" cy="764.1" r="5"/><circle cx="199.9" cy="764.1" r="5"/><circle cx="219.3" cy="764.1" r="5"/><circle cx="228.9" cy="764.1" r="5"/><circle cx="248.2" cy="764.1" r="5"/><circle cx="257.9" cy="764.1" r="5"/><circle cx="277.2" cy="764.1" r="5"/><circle cx="286.8" cy="764.1" r="5"/><circle cx="306.2" cy="764.1" r="5"/><circle cx="315.8" cy="764.1" r="5"/><circle cx="335.2" cy="764.1" r="5"/><circle cx="344.8" cy="764.1" r="5"/><circle cx="364.1" cy="764.1" r="5"/></g>
<g fill="#A0A0A0" stroke="#000" stroke-width="1.6"><circle cx="88.6" cy="786.3" r="5"/><circle cx="98.1" cy="786.3" r="5"/><circle cx="117.6" cy="786.3" r="5"/><circle cx="127.1" cy="786.3" r="5"/><circle cx="146.6" cy="786.3" r="5"/><circle cx="156.1" cy="786.3" r="5"/><circle cx="175.5" cy="786.3" r="5"/><circle cx="185" cy="786.3" r="5"/><circle cx="204.5" cy="786.3" r="5"/><circle cx="214" cy="786.3" r="5"/><circle cx="233.5" cy="786.3" r="5"/><circle cx="243" cy="786.3" r="5"/><circle cx="262.4" cy="786.3" r="5"/><circle cx="271.9" cy="786.3" r="5"/><circle cx="291.4" cy="786.3" r="5"/><circle cx="300.9" cy="786.3" r="5"/><circle cx="320.4" cy="786.3" r="5"/><circle cx="329.9" cy="786.3" r="5"/><circle cx="349.4" cy="786.3" r="5"/><circle cx="358.9" cy="786.3" r="5"/><circle cx="84" cy="786.9" r="5"/><circle cx="103.4" cy="786.9" r="5"/><circle cx="113" cy="786.9" r="5"/><circle cx="132.4" cy="786.9" r="5"/><circle cx="142" cy="786.9" r="5"/><circle cx="161.3" cy="786.9" r="5"/><circle cx="170.9" cy="786.9" r="5"/><circle cx="190.3" cy="786.9" r="5"/><circle cx="199.9" cy="786.9" r="5"/><circle cx="219.3" cy="786.9" r="5"/><circle cx="228.9" cy="786.9" r="5"/><circle cx="248.2" cy="786.9" r="5"/><circle cx="257.9" cy="786.9" r="5"/><circle cx="277.2" cy="786.9" r="5"/><circle cx="286.8" cy="786.9" r="5"/><circle cx="306.2" cy="786.9" r="5"/><circle cx="315.8" cy="786.9" r="5"/><circle cx="335.2" cy="786.9" r="5"/><circle cx="344.8" cy="786.9" r="5"/><circle cx="364.1" cy="786.9" r="5"/></g>
<g stroke="#000" stroke-width="0.6"><circle cx="104.1" cy="427.7" r="4.3" fill="#FEDFAA"/><circle cx="101.3" cy="486" r="4.2" fill="#FEE3B4"/><circle cx="199.7" cy="449.6" r="4.6" fill="#FEDFAA"/><circle cx="322" cy="484.4" r="4.8" fill="#FDD596"/><circle cx="190.8" cy="454.3" r="4.3" fill="#FDD596"/><circle cx="330.4" cy="423" r="4.8" fill="#FDD596"/><circle cx="178.3" cy="487.3" r="4.4" fill="#FBC46A"/><circle cx="321.7" cy="486.4" r="4.2" fill="#FDD596"/><circle cx="204.7" cy="438" r="4.5" fill="#FBC46A"/><circle cx="188.9" cy="458.3" r="4.3" fill="#FEE3B4"/><circle cx="283.6" cy="414.1" r="4.5" fill="#FDD596"/><circle cx="126.9" cy="434.9" r="4.8" fill="#FEDFAA"/><circle cx="259.9" cy="446.5" r="4.2" fill="#FEDFAA"/><circle cx="86.2" cy="471.4" r="4.8" fill="#FEDFAA"/><circle cx="141" cy="432.7" r="4.7" fill="#FEDFAA"/><circle cx="46.8" cy="427.7" r="4.5" fill="#FDD596"/><circle cx="364.3" cy="456.1" r="4.2" fill="#FBC36A"/><circle cx="64.8" cy="421.3" r="4.4" fill="#FEE3B4"/><circle cx="48" cy="443" r="4.3" fill="#FEDFAA"/><circle cx="370.6" cy="436.4" r="4.3" fill="#FEDFAA"/><circle cx="252.5" cy="453.3" r="4.3" fill="#FEE3B4"/><circle cx="377.4" cy="454.9" r="4.4" fill="#FEDFAA"/><circle cx="160.3" cy="415.3" r="4.4" fill="#FEDFAA"/><circle cx="76" cy="471.1" r="4.7" fill="#FEDFAA"/><circle cx="375.3" cy="475.5" r="4.4" fill="#FEDFAA"/><circle cx="380.4" cy="437.9" r="4.5" fill="#FBC36A"/><circle cx="161.2" cy="415.8" r="4.3" fill="#FEE3B4"/><circle cx="120.5" cy="480.9" r="4.7" fill="#FEDFAA"/><circle cx="140" cy="424.6" r="4.1" fill="#FEE3B4"/><circle cx="345.1" cy="473.8" r="4.4" fill="#FEE3B4"/><circle cx="287.2" cy="487.6" r="4.3" fill="#FDD596"/><circle cx="111.2" cy="472.9" r="4.2" fill="#FEDFAA"/><circle cx="166" cy="464.7" r="4.5" fill="#FBC46A"/><circle cx="198.1" cy="420.1" r="4.3" fill="#FEDFAA"/><circle cx="175.9" cy="470.3" r="4.5" fill="#FBC36A"/><circle cx="65.7" cy="467" r="4.3" fill="#FBC46A"/><circle cx="334.5" cy="442.1" r="4.8" fill="#FBC36A"/><circle cx="319.2" cy="442" r="4.4" fill="#FEDFAA"/><circle cx="205.1" cy="415.3" r="4.2" fill="#FEDFAA"/><circle cx="204.1" cy="466.7" r="4.6" fill="#FEDFAA"/><circle cx="216.2" cy="465.8" r="4.6" fill="#FEDFAA"/><circle cx="282.5" cy="424.5" r="4.2" fill="#FBC46A"/><circle cx="230.7" cy="450.8" r="4.6" fill="#FEE3B4"/><circle cx="260.1" cy="470.7" r="4.2" fill="#FEDFAA"/><circle cx="60.1" cy="417.4" r="4.4" fill="#FBC46A"/><circle cx="176.9" cy="433.5" r="4.2" fill="#FEDFAA"/><circle cx="204.6" cy="484.3" r="4.4" fill="#FBC46A"/><circle cx="110.6" cy="414.8" r="4.2" fill="#FDD596"/><circle cx="129.5" cy="451.8" r="4.2" fill="#FEDFAA"/><circle cx="291.5" cy="437.4" r="4.6" fill="#FEDFAA"/><circle cx="279.2" cy="453.7" r="4.5" fill="#FBC36A"/><circle cx="296.1" cy="446.6" r="4.1" fill="#FBC46A"/><circle cx="93.1" cy="458.6" r="4.6" fill="#FDD596"/><circle cx="242.2" cy="483" r="4.1" fill="#FEE3B4"/><circle cx="243.2" cy="423.1" r="4.5" fill="#FEDFAA"/><circle cx="149.1" cy="426.2" r="4.3" fill="#FBC36A"/><circle cx="194.2" cy="465.6" r="4.4" fill="#FBC36A"/><circle cx="163.4" cy="488.1" r="4.3" fill="#FDD596"/><circle cx="381.5" cy="458.7" r="4.6" fill="#FEDFAA"/><circle cx="334" cy="424.2" r="4.4" fill="#FEDFAA"/><circle cx="278.2" cy="448.1" r="4.2" fill="#FEDFAA"/><circle cx="369.5" cy="420.5" r="4.7" fill="#FEDFAA"/><circle cx="295.2" cy="472.1" r="4.7" fill="#FDD596"/><circle cx="162.1" cy="442.3" r="4.1" fill="#FBC36A"/><circle cx="232.6" cy="460.9" r="4.4" fill="#FEDFAA"/><circle cx="150.4" cy="476.9" r="4.2" fill="#FEE3B4"/><circle cx="116.1" cy="465.4" r="4.5" fill="#FEE3B4"/><circle cx="272.1" cy="436.6" r="4.3" fill="#FEE3B4"/><circle cx="359.8" cy="476.2" r="4.6" fill="#FDD596"/><circle cx="173.2" cy="480.4" r="4.4" fill="#FEE3B4"/><circle cx="307.5" cy="441.6" r="4.3" fill="#FBC46A"/><circle cx="241.9" cy="449.1" r="4.2" fill="#FEDFAA"/><circle cx="304.4" cy="457.3" r="4.7" fill="#FDD596"/><circle cx="164.5" cy="438.3" r="4.1" fill="#FEDFAA"/><circle cx="53.4" cy="468.9" r="4.1" fill="#FEE3B4"/><circle cx="162.9" cy="431.2" r="4.4" fill="#FBC36A"/><circle cx="223.3" cy="451.2" r="4.4" fill="#FBC46A"/><circle cx="304.4" cy="462.6" r="4.1" fill="#FBC36A"/><circle cx="100.9" cy="457.9" r="4.3" fill="#FBC36A"/><circle cx="308.7" cy="472.3" r="4.5" fill="#FEE3B4"/><circle cx="155.3" cy="452.8" r="4.3" fill="#FBC36A"/><circle cx="59.9" cy="429.2" r="4.3" fill="#FBC46A"/><circle cx="341.8" cy="419.4" r="4.4" fill="#FEDFAA"/><circle cx="179.8" cy="414.5" r="4.6" fill="#FBC46A"/><circle cx="47.6" cy="451.2" r="4.5" fill="#FEDFAA"/><circle cx="128.5" cy="443.2" r="4.7" fill="#FEE3B4"/><circle cx="338.8" cy="462.8" r="4.8" fill="#FEDFAA"/><circle cx="80.3" cy="438.6" r="4.2" fill="#FBC46A"/><circle cx="131.5" cy="451.5" r="4.8" fill="#FDD596"/><circle cx="321.6" cy="484.1" r="4.6" fill="#FBC46A"/><circle cx="384.4" cy="423.6" r="4.3" fill="#FBC36A"/><circle cx="171.6" cy="448.2" r="4.8" fill="#FBC46A"/><circle cx="309.3" cy="485.2" r="4.3" fill="#FEE3B4"/><circle cx="140.4" cy="483" r="4.5" fill="#FBC46A"/><circle cx="72.2" cy="472.3" r="4.6" fill="#FDD596"/><circle cx="310.1" cy="482.1" r="4.7" fill="#FBC36A"/><circle cx="75.2" cy="452" r="4.2" fill="#FDD596"/><circle cx="104.9" cy="487.9" r="4.4" fill="#FDD596"/><circle cx="47.2" cy="418.8" r="4.7" fill="#FEDFAA"/><circle cx="214.6" cy="460.2" r="4.4" fill="#FEDFAA"/><circle cx="315.8" cy="483.3" r="4.6" fill="#FDD596"/><circle cx="303" cy="438.9" r="4.5" fill="#FDD596"/><circle cx="149.2" cy="444" r="4.5" fill="#FBC36A"/><circle cx="136.6" cy="434.6" r="4.7" fill="#FBC46A"/><circle cx="255.8" cy="414.5" r="4.2" fill="#FBC36A"/><circle cx="367.8" cy="433.3" r="4.4" fill="#FEDFAA"/><circle cx="219.6" cy="448.8" r="4.7" fill="#FEE3B4"/><circle cx="133.3" cy="437.1" r="4.2" fill="#FEDFAA"/><circle cx="290.6" cy="487.3" r="4.6" fill="#FEDFAA"/><circle cx="47.1" cy="462.8" r="4.4" fill="#FEDFAA"/><circle cx="345.8" cy="488.2" r="4.5" fill="#FEDFAA"/><circle cx="79.1" cy="437.6" r="4.1" fill="#FBC36A"/><circle cx="253.4" cy="453.3" r="4.5" fill="#FDD596"/><circle cx="67.1" cy="421.4" r="4.1" fill="#FBC36A"/><circle cx="366.8" cy="419.3" r="4.3" fill="#FBC46A"/><circle cx="250.8" cy="480.3" r="4.2" fill="#FEE3B4"/><circle cx="257.4" cy="471.6" r="4.4" fill="#FEDFAA"/><circle cx="318.3" cy="446.2" r="4.3" fill="#FEDFAA"/><circle cx="178.3" cy="483.5" r="4.7" fill="#FBC36A"/><circle cx="309" cy="462" r="4.3" fill="#FEE3B4"/><circle cx="193" cy="452.5" r="4.6" fill="#FDD596"/><circle cx="380.9" cy="459.2" r="4.7" fill="#FEDFAA"/><circle cx="217.9" cy="448.5" r="4.4" fill="#FEE3B4"/><circle cx="382.4" cy="439.7" r="4.4" fill="#FBC46A"/><circle cx="279.5" cy="447.8" r="4.5" fill="#FBC36A"/><circle cx="301.1" cy="413.2" r="4.6" fill="#FDD596"/><circle cx="241" cy="424.6" r="4.1" fill="#FDD596"/><circle cx="212.3" cy="416.9" r="4.3" fill="#FBC46A"/><circle cx="325.4" cy="433.8" r="4.3" fill="#FDD596"/><circle cx="299.8" cy="430.9" r="4.6" fill="#FEDFAA"/><circle cx="191.8" cy="490.2" r="4.4" fill="#FBC36A"/><circle cx="362" cy="485.7" r="4.7" fill="#FEDFAA"/><circle cx="326.7" cy="473.1" r="4.4" fill="#FDD596"/><circle cx="152" cy="424.2" r="4.1" fill="#FBC36A"/><circle cx="194.3" cy="427.3" r="4.7" fill="#FEDFAA"/><circle cx="80.5" cy="468.1" r="4.5" fill="#FBC36A"/><circle cx="339.9" cy="423.8" r="4.7" fill="#FEDFAA"/><circle cx="306.3" cy="455.3" r="4.2" fill="#FEDFAA"/><circle cx="122" cy="451.5" r="4.8" fill="#FEDFAA"/><circle cx="213.2" cy="464.5" r="4.2" fill="#FDD596"/><circle cx="201.4" cy="443.6" r="4.3" fill="#FBC36A"/><circle cx="209" cy="488.1" r="4.2" fill="#FBC36A"/><circle cx="323.8" cy="445.4" r="4.1" fill="#FBC46A"/><circle cx="185.5" cy="421" r="4.5" fill="#FEDFAA"/><circle cx="206.8" cy="475.5" r="4.4" fill="#FEE3B4"/><circle cx="66" cy="446.4" r="4.7" fill="#FEE3B4"/><circle cx="56.5" cy="443.9" r="4.7" fill="#FBC46A"/><circle cx="184.7" cy="433" r="4.5" fill="#FEDFAA"/><circle cx="349.3" cy="471.8" r="4.2" fill="#FBC46A"/><circle cx="49.6" cy="419.4" r="4.6" fill="#FBC46A"/><circle cx="215.8" cy="429.3" r="4.2" fill="#FEDFAA"/><circle cx="222.8" cy="432.8" r="4.2" fill="#FEDFAA"/><circle cx="89" cy="428.6" r="4.2" fill="#FEDFAA"/><circle cx="167.8" cy="450.7" r="4.2" fill="#FDD596"/><circle cx="134.7" cy="464.6" r="4.5" fill="#FBC46A"/><circle cx="76" cy="467.7" r="4.6" fill="#FDD596"/><circle cx="225.5" cy="469" r="4.1" fill="#FEDFAA"/><circle cx="170.4" cy="429.2" r="4.5" fill="#FBC36A"/><circle cx="266.8" cy="448.3" r="4.2" fill="#FEE3B4"/><circle cx="190.2" cy="455.5" r="4.3" fill="#FBC36A"/><circle cx="354.4" cy="416.4" r="4.5" fill="#FEDFAA"/><circle cx="317.6" cy="421.1" r="4.5" fill="#FEDFAA"/><circle cx="163.5" cy="449.5" r="4.6" fill="#FDD596"/><circle cx="388.9" cy="423.4" r="4.3" fill="#FBC36A"/><circle cx="320" cy="421.4" r="4.3" fill="#FDD596"/><circle cx="119.1" cy="446.3" r="4.3" fill="#FBC36A"/><circle cx="321" cy="461" r="4.6" fill="#FEE3B4"/><circle cx="224" cy="471.1" r="4.2" fill="#FEE3B4"/><circle cx="354" cy="424" r="4.5" fill="#FEDFAA"/><circle cx="335" cy="460.6" r="4.4" fill="#FBC46A"/><circle cx="298.8" cy="442.3" r="4.7" fill="#FDD596"/><circle cx="74.9" cy="432.9" r="4.1" fill="#FDD596"/><circle cx="208.2" cy="454" r="4.2" fill="#FBC36A"/><circle cx="63.2" cy="423" r="4.8" fill="#FDD596"/><circle cx="160.2" cy="474.4" r="4.4" fill="#FEE3B4"/><circle cx="193" cy="447" r="4.3" fill="#FBC36A"/><circle cx="249.9" cy="473.1" r="4.6" fill="#FBC46A"/><circle cx="300.6" cy="474.6" r="4.3" fill="#FEE3B4"/><circle cx="165.5" cy="461.9" r="4.7" fill="#FDD596"/><circle cx="128.9" cy="439.2" r="4.1" fill="#FEDFAA"/><circle cx="84.9" cy="418.9" r="4.6" fill="#FEDFAA"/><circle cx="112.5" cy="426.2" r="4.5" fill="#FEDFAA"/><circle cx="208.1" cy="433.8" r="4.1" fill="#FDD596"/><circle cx="57.7" cy="437.9" r="4.4" fill="#FBC46A"/><circle cx="236.2" cy="438.1" r="4.5" fill="#FBC36A"/><circle cx="133.8" cy="476.1" r="4.6" fill="#FEE3B4"/><circle cx="126.2" cy="428.2" r="4.2" fill="#FEDFAA"/><circle cx="284" cy="469.2" r="4.1" fill="#FEDFAA"/><circle cx="53.2" cy="456.4" r="4.5" fill="#FDD596"/><circle cx="119.1" cy="416" r="4.3" fill="#FBC46A"/><circle cx="149.4" cy="468.3" r="4.2" fill="#FBC36A"/><circle cx="120.9" cy="470" r="4.7" fill="#FBC46A"/><circle cx="182.3" cy="420.4" r="4.5" fill="#FEDFAA"/><circle cx="117.3" cy="424.4" r="4.4" fill="#FEE3B4"/><circle cx="211.9" cy="415.8" r="4.7" fill="#FBC36A"/><circle cx="153.8" cy="425.7" r="4.8" fill="#FEE3B4"/><circle cx="292" cy="433" r="4.4" fill="#FDD596"/><circle cx="266.3" cy="451.1" r="4.4" fill="#FBC36A"/><circle cx="140.6" cy="465" r="4.3" fill="#FDD596"/><circle cx="207.5" cy="477.4" r="4.6" fill="#FEE3B4"/><circle cx="253.1" cy="423.3" r="4.6" fill="#FEDFAA"/><circle cx="261" cy="433.2" r="4.2" fill="#FEE3B4"/><circle cx="95.3" cy="417.5" r="4.4" fill="#FEDFAA"/><circle cx="134" cy="458.6" r="4.2" fill="#FEE3B4"/><circle cx="260" cy="419.5" r="4.6" fill="#FEE3B4"/><circle cx="58.4" cy="479.5" r="4.3" fill="#FEE3B4"/><circle cx="354.1" cy="454.5" r="4.2" fill="#FBC36A"/><circle cx="44" cy="439.8" r="4.5" fill="#FBC36A"/><circle cx="160.7" cy="429.5" r="4.3" fill="#FEE3B4"/><circle cx="373.3" cy="431.4" r="4.5" fill="#FBC46A"/><circle cx="195.3" cy="466.1" r="4.3" fill="#FBC36A"/><circle cx="220.6" cy="464.9" r="4.5" fill="#FBC46A"/><circle cx="304.4" cy="479.2" r="4.3" fill="#FBC36A"/><circle cx="214.5" cy="425" r="4.7" fill="#FDD596"/><circle cx="284.4" cy="438.5" r="4.6" fill="#FDD596"/><circle cx="226.1" cy="474.4" r="4.8" fill="#FDD596"/><circle cx="186.5" cy="462.9" r="4.1" fill="#FEE3B4"/><circle cx="102.8" cy="416.6" r="4.2" fill="#FBC36A"/><circle cx="201.2" cy="478.5" r="4.2" fill="#FBC46A"/><circle cx="244.4" cy="456.2" r="4.3" fill="#FEE3B4"/><circle cx="353.9" cy="431.5" r="4.4" fill="#FEDFAA"/><circle cx="46" cy="418.2" r="4.7" fill="#FBC46A"/><circle cx="118.6" cy="448.2" r="4.8" fill="#FBC46A"/><circle cx="289.1" cy="489.5" r="4.2" fill="#FBC46A"/><circle cx="314.9" cy="419.9" r="4.7" fill="#FEDFAA"/><circle cx="99.6" cy="489.6" r="4.5" fill="#FEE3B4"/><circle cx="236.8" cy="474.7" r="4.2" fill="#FBC36A"/><circle cx="175.7" cy="453.4" r="4.1" fill="#FDD596"/><circle cx="253.2" cy="459.2" r="4.6" fill="#FBC36A"/><circle cx="247.2" cy="466.4" r="4.4" fill="#FBC46A"/><circle cx="60" cy="432.9" r="4.3" fill="#FDD596"/><circle cx="210.5" cy="431.3" r="4.6" fill="#FEDFAA"/><circle cx="245.9" cy="441.3" r="4.7" fill="#FEDFAA"/><circle cx="312.3" cy="440.9" r="4.2" fill="#FDD596"/><circle cx="197.7" cy="422.1" r="4.5" fill="#FEE3B4"/><circle cx="78.1" cy="431.5" r="4.3" fill="#FEDFAA"/><circle cx="245.3" cy="462" r="4.7" fill="#FEDFAA"/><circle cx="135.9" cy="463.6" r="4.4" fill="#FBC36A"/><circle cx="306.4" cy="442.1" r="4.3" fill="#FEDFAA"/><circle cx="313.3" cy="451.9" r="4.5" fill="#FBC36A"/><circle cx="314.7" cy="451.2" r="4.2" fill="#FEE3B4"/><circle cx="173.1" cy="434.7" r="4.5" fill="#FBC36A"/><circle cx="172.1" cy="458.2" r="4.1" fill="#FEDFAA"/><circle cx="55.4" cy="449.7" r="4.2" fill="#FEE3B4"/><circle cx="246.5" cy="443.5" r="4.4" fill="#FBC46A"/><circle cx="331.4" cy="488" r="4.1" fill="#FEDFAA"/><circle cx="131" cy="441.3" r="4.3" fill="#FBC46A"/><circle cx="343.2" cy="485.2" r="4.3" fill="#FEDFAA"/><circle cx="200.7" cy="464.6" r="4.7" fill="#FEE3B4"/><circle cx="79.3" cy="447.7" r="4.7" fill="#FBC46A"/><circle cx="268.6" cy="427.1" r="4.2" fill="#FBC36A"/><circle cx="151.4" cy="478.4" r="4.3" fill="#FDD596"/><circle cx="97.3" cy="464.3" r="4.5" fill="#FBC46A"/><circle cx="369" cy="443.1" r="4.3" fill="#FEDFAA"/><circle cx="103.5" cy="430.7" r="4.2" fill="#FEDFAA"/><circle cx="345.3" cy="427.9" r="4.6" fill="#FEDFAA"/><circle cx="217.7" cy="418.3" r="4.3" fill="#FEDFAA"/><circle cx="192.2" cy="425.2" r="4.2" fill="#FEDFAA"/><circle cx="334.3" cy="450.5" r="4.5" fill="#FEDFAA"/><circle cx="206.4" cy="480.6" r="4.5" fill="#FBC46A"/><circle cx="303.4" cy="481.7" r="4.4" fill="#FEDFAA"/><circle cx="82.7" cy="415.1" r="4.1" fill="#FEE3B4"/><circle cx="334.6" cy="424.5" r="4.3" fill="#FEDFAA"/><circle cx="102.5" cy="444.6" r="4.4" fill="#FEE3B4"/><circle cx="127.1" cy="424.3" r="4.6" fill="#FDD596"/><circle cx="108.8" cy="441.9" r="4.3" fill="#FBC36A"/><circle cx="113.2" cy="486.7" r="4.4" fill="#FEDFAA"/><circle cx="366.8" cy="424.4" r="4.7" fill="#FBC36A"/><circle cx="167.1" cy="438.3" r="4.2" fill="#FEDFAA"/><circle cx="357.1" cy="418.1" r="4.3" fill="#FEE3B4"/><circle cx="93.9" cy="418.4" r="4.4" fill="#FEDFAA"/><circle cx="151.5" cy="487.2" r="4.4" fill="#FEDFAA"/><circle cx="364.6" cy="487.4" r="4.6" fill="#FEE3B4"/><circle cx="371.4" cy="454.4" r="4.7" fill="#FEDFAA"/><circle cx="198.7" cy="435.2" r="4.5" fill="#FDD596"/><circle cx="188.1" cy="429.9" r="4.3" fill="#FEDFAA"/><circle cx="314.4" cy="471.4" r="4.6" fill="#FDD596"/><circle cx="286.3" cy="483.1" r="4.2" fill="#FEDFAA"/><circle cx="165.6" cy="481.2" r="4.6" fill="#FBC46A"/><circle cx="181.7" cy="456.8" r="4.7" fill="#FEDFAA"/><circle cx="183.7" cy="470.2" r="4.3" fill="#FBC36A"/><circle cx="363.8" cy="417.7" r="4.7" fill="#FEDFAA"/><circle cx="228.1" cy="441.7" r="4.3" fill="#FBC36A"/><circle cx="136.4" cy="476.9" r="4.8" fill="#FEDFAA"/><circle cx="302.4" cy="438.1" r="4.2" fill="#FEDFAA"/><circle cx="342.7" cy="488.2" r="4.3" fill="#FDD596"/><circle cx="185.5" cy="456.4" r="4.7" fill="#FBC36A"/><circle cx="150.2" cy="482.1" r="4.4" fill="#FEE3B4"/><circle cx="207.6" cy="428.6" r="4.2" fill="#FBC36A"/><circle cx="307.9" cy="470.5" r="4.2" fill="#FEE3B4"/><circle cx="45.8" cy="430.2" r="4.7" fill="#FEDFAA"/><circle cx="124.9" cy="428.5" r="4.1" fill="#FBC46A"/><circle cx="200.9" cy="436.1" r="4.5" fill="#FBC46A"/><circle cx="101.5" cy="482" r="4.4" fill="#FEE3B4"/><circle cx="232.6" cy="465.8" r="4.7" fill="#FEDFAA"/><circle cx="166.3" cy="487.1" r="4.4" fill="#FBC46A"/><circle cx="99.4" cy="439.3" r="4.2" fill="#FEDFAA"/><circle cx="51.8" cy="468.6" r="4.4" fill="#FBC36A"/><circle cx="317.8" cy="438.7" r="4.2" fill="#FEE3B4"/><circle cx="289.9" cy="412.7" r="4.3" fill="#FEDFAA"/><circle cx="204.9" cy="483.7" r="4.7" fill="#FDD596"/><circle cx="354.2" cy="431.3" r="4.5" fill="#FBC36A"/><circle cx="173.7" cy="413.5" r="4.7" fill="#FDD596"/><circle cx="366.1" cy="481.3" r="4.6" fill="#FEDFAA"/><circle cx="171.4" cy="467.1" r="4.4" fill="#FBC36A"/><circle cx="268.8" cy="413.7" r="4.4" fill="#FBC46A"/><circle cx="330.1" cy="440.6" r="4.2" fill="#FEDFAA"/><circle cx="197.9" cy="451.5" r="4.2" fill="#FEDFAA"/><circle cx="218.2" cy="415.6" r="4.2" fill="#FDD596"/><circle cx="168.4" cy="431.2" r="4.4" fill="#FDD596"/><circle cx="320.8" cy="446.6" r="4.2" fill="#FBC46A"/><circle cx="79.4" cy="443.7" r="4.7" fill="#FBC36A"/><circle cx="190.8" cy="437.6" r="4.3" fill="#FBC36A"/><circle cx="248.6" cy="471.1" r="4.7" fill="#FEE3B4"/><circle cx="290.6" cy="433" r="4.8" fill="#FEE3B4"/><circle cx="340.1" cy="448" r="4.4" fill="#FBC46A"/><circle cx="170.6" cy="441.3" r="4.7" fill="#FEDFAA"/><circle cx="178.6" cy="475.3" r="4.1" fill="#FDD596"/><circle cx="232.3" cy="466.8" r="4.6" fill="#FDD596"/><circle cx="261.1" cy="488.1" r="4.2" fill="#FEDFAA"/><circle cx="289.8" cy="423.1" r="4.6" fill="#FEDFAA"/><circle cx="374.6" cy="453.9" r="4.7" fill="#FDD596"/><circle cx="319.7" cy="440.9" r="4.7" fill="#FBC46A"/><circle cx="104.8" cy="485.2" r="4.2" fill="#FDD596"/><circle cx="347.4" cy="474.2" r="4.4" fill="#FDD596"/><circle cx="154.5" cy="427.6" r="4.2" fill="#FEDFAA"/><circle cx="82.4" cy="456.1" r="4.5" fill="#FDD596"/><circle cx="186.2" cy="477.3" r="4.4" fill="#FDD596"/><circle cx="100.6" cy="412.9" r="4.6" fill="#FBC36A"/><circle cx="178.9" cy="424.2" r="4.2" fill="#FEDFAA"/><circle cx="121.1" cy="441.4" r="4.7" fill="#FBC36A"/><circle cx="93.5" cy="483.8" r="4.6" fill="#FEDFAA"/><circle cx="304.5" cy="433.5" r="4.1" fill="#FEDFAA"/><circle cx="305.6" cy="469.6" r="4.3" fill="#FDD596"/><circle cx="105.6" cy="477.3" r="4.3" fill="#FBC46A"/><circle cx="361.2" cy="442.1" r="4.8" fill="#FEDFAA"/><circle cx="160.7" cy="488.3" r="4.1" fill="#FEE3B4"/><circle cx="104.7" cy="414.2" r="4.6" fill="#FDD596"/><circle cx="67.9" cy="415" r="4.4" fill="#FEE3B4"/><circle cx="197.9" cy="418.3" r="4.5" fill="#FEDFAA"/><circle cx="273" cy="454.3" r="4.3" fill="#FBC46A"/><circle cx="363.6" cy="477.1" r="4.6" fill="#FEE3B4"/><circle cx="165.7" cy="472.3" r="4.3" fill="#FEE3B4"/><circle cx="312.8" cy="484.1" r="4.5" fill="#FBC36A"/><circle cx="174.9" cy="486.3" r="4.4" fill="#FBC46A"/><circle cx="97.7" cy="479.2" r="4.7" fill="#FDD596"/><circle cx="230.1" cy="451.4" r="4.6" fill="#FBC46A"/><circle cx="280.7" cy="486.4" r="4.6" fill="#FBC36A"/><circle cx="51.5" cy="430.4" r="4.4" fill="#FDD596"/><circle cx="178.8" cy="453.6" r="4.2" fill="#FEDFAA"/><circle cx="381.1" cy="432.1" r="4.3" fill="#FEDFAA"/><circle cx="160.6" cy="434.5" r="4.6" fill="#FEE3B4"/><circle cx="196.5" cy="484.6" r="4.7" fill="#FEE3B4"/><circle cx="105" cy="454" r="4.6" fill="#FBC36A"/><circle cx="248.7" cy="452.2" r="4.4" fill="#FEE3B4"/><circle cx="109.9" cy="479.8" r="4.5" fill="#FDD596"/><circle cx="84.8" cy="479.7" r="4.3" fill="#FEDFAA"/><circle cx="286.3" cy="459.3" r="4.6" fill="#FEE3B4"/><circle cx="168.2" cy="472.4" r="4.4" fill="#FBC36A"/><circle cx="322.8" cy="424.8" r="4.8" fill="#FEDFAA"/><circle cx="357" cy="473.6" r="4.5" fill="#FBC36A"/><circle cx="156" cy="474.6" r="4.3" fill="#FEE3B4"/><circle cx="327.1" cy="460.5" r="4.7" fill="#FEE3B4"/><circle cx="90.7" cy="414.6" r="4.6" fill="#FBC36A"/><circle cx="209.8" cy="443.4" r="4.7" fill="#FEDFAA"/><circle cx="375.2" cy="441.4" r="4.3" fill="#FEDFAA"/><circle cx="87" cy="459.2" r="4.2" fill="#FEDFAA"/><circle cx="109.1" cy="441.5" r="4.6" fill="#FEDFAA"/><circle cx="199.1" cy="423.1" r="4.7" fill="#FEE3B4"/><circle cx="370.9" cy="446.6" r="4.5" fill="#FBC46A"/><circle cx="178.7" cy="468.1" r="4.6" fill="#FDD596"/><circle cx="71.7" cy="486.1" r="4.2" fill="#FEDFAA"/><circle cx="248.1" cy="465.7" r="4.2" fill="#FEDFAA"/><circle cx="54.4" cy="456.1" r="4.7" fill="#FEE3B4"/><circle cx="316.8" cy="442" r="4.3" fill="#FEDFAA"/><circle cx="319.1" cy="413.4" r="4.6" fill="#FEE3B4"/><circle cx="58.2" cy="454.2" r="4.7" fill="#FBC36A"/><circle cx="187.9" cy="453.1" r="4.7" fill="#FBC46A"/><circle cx="215" cy="436.3" r="4.7" fill="#FEDFAA"/><circle cx="278.6" cy="414.7" r="4.4" fill="#FBC46A"/><circle cx="317.8" cy="460.9" r="4.7" fill="#FEDFAA"/><circle cx="127.5" cy="433" r="4.6" fill="#FDD596"/><circle cx="62.6" cy="481.4" r="4.1" fill="#FBC46A"/><circle cx="243.3" cy="427.1" r="4.5" fill="#FBC46A"/><circle cx="227.1" cy="469.6" r="4.1" fill="#FEDFAA"/><circle cx="369.2" cy="482.7" r="4.6" fill="#FDD596"/><circle cx="135.5" cy="484.3" r="4.5" fill="#FDD596"/><circle cx="115.8" cy="442.3" r="4.4" fill="#FEDFAA"/><circle cx="296.3" cy="459.2" r="4.1" fill="#FEDFAA"/><circle cx="174.2" cy="417.4" r="4.7" fill="#FBC36A"/><circle cx="285.9" cy="448.8" r="4.2" fill="#FEDFAA"/><circle cx="173.1" cy="425.6" r="4.7" fill="#FBC46A"/><circle cx="143.9" cy="487.4" r="4.5" fill="#FDD596"/><circle cx="352.1" cy="433.1" r="4.5" fill="#FEE3B4"/><circle cx="289.8" cy="478" r="4.8" fill="#FDD596"/><circle cx="78.3" cy="418" r="4.2" fill="#FBC46A"/><circle cx="243.3" cy="453.8" r="4.2" fill="#FEE3B4"/><circle cx="47.8" cy="448.1" r="4.5" fill="#FDD596"/><circle cx="359.9" cy="439.9" r="4.6" fill="#FEDFAA"/><circle cx="332.3" cy="423.9" r="4.7" fill="#FEE3B4"/><circle cx="83.9" cy="481.6" r="4.6" fill="#FEDFAA"/><circle cx="101.9" cy="424.1" r="4.7" fill="#FDD596"/><circle cx="295.3" cy="460" r="4.2" fill="#FEDFAA"/><circle cx="323.9" cy="484.7" r="4.7" fill="#FBC46A"/><circle cx="144.9" cy="475.3" r="4.7" fill="#FBC46A"/><circle cx="305.3" cy="431.9" r="4.2" fill="#FBC36A"/><circle cx="326" cy="442.8" r="4.5" fill="#FEE3B4"/><circle cx="326.8" cy="415.4" r="4.8" fill="#FBC36A"/><circle cx="213.4" cy="431.5" r="4.4" fill="#FEE3B4"/><circle cx="84.2" cy="465.3" r="4.8" fill="#FEE3B4"/><circle cx="267.8" cy="412.7" r="4.7" fill="#FEE3B4"/><circle cx="360.5" cy="419.8" r="4.1" fill="#FEDFAA"/><circle cx="207.1" cy="474.4" r="4.8" fill="#FDD596"/><circle cx="253.9" cy="442.3" r="4.6" fill="#FEDFAA"/><circle cx="364.1" cy="458.6" r="4.3" fill="#FBC36A"/><circle cx="355" cy="436.1" r="4.5" fill="#FDD596"/><circle cx="59.8" cy="446.5" r="4.1" fill="#FDD596"/><circle cx="112.3" cy="438.5" r="4.2" fill="#FDD596"/><circle cx="178.9" cy="489" r="4.4" fill="#FEE3B4"/><circle cx="366.4" cy="463.4" r="4.2" fill="#FDD596"/><circle cx="316.6" cy="441.6" r="4.6" fill="#FEE3B4"/><circle cx="316.2" cy="442.6" r="4.2" fill="#FEDFAA"/><circle cx="197.6" cy="422.6" r="4.2" fill="#FEDFAA"/><circle cx="349.2" cy="438.6" r="4.6" fill="#FEDFAA"/><circle cx="134.5" cy="486" r="4.3" fill="#FEDFAA"/><circle cx="266.9" cy="447.6" r="4.7" fill="#FDD596"/><circle cx="130.5" cy="457.1" r="4.6" fill="#FDD596"/><circle cx="178.2" cy="458.1" r="4.6" fill="#FEDFAA"/><circle cx="384" cy="422.6" r="4.4" fill="#FEDFAA"/><circle cx="110.2" cy="466.8" r="4.7" fill="#FBC36A"/><circle cx="206" cy="430.9" r="4.5" fill="#FEDFAA"/><circle cx="62.7" cy="475.5" r="4.7" fill="#FDD596"/><circle cx="185.6" cy="440.5" r="4.2" fill="#FBC36A"/><circle cx="62.8" cy="460.6" r="4.3" fill="#FBC36A"/><circle cx="293.3" cy="424.1" r="4.6" fill="#FBC36A"/><circle cx="148.1" cy="421.7" r="4.5" fill="#FBC36A"/><circle cx="263.8" cy="414.7" r="4.2" fill="#FEE3B4"/><circle cx="133.1" cy="480" r="4.1" fill="#FBC46A"/><circle cx="172.3" cy="447.7" r="4.1" fill="#FDD596"/><circle cx="167.4" cy="429.4" r="4.7" fill="#FEDFAA"/><circle cx="271.1" cy="485.4" r="4.3" fill="#FBC36A"/><circle cx="233.8" cy="413.2" r="4.5" fill="#FDD596"/><circle cx="253.7" cy="447.2" r="4.2" fill="#FBC46A"/><circle cx="118.8" cy="479.9" r="4.1" fill="#FEDFAA"/><circle cx="120.6" cy="452.7" r="4.3" fill="#FBC46A"/><circle cx="327" cy="477.1" r="4.1" fill="#FDD596"/><circle cx="51.7" cy="450.3" r="4.8" fill="#FBC46A"/><circle cx="333.5" cy="484.4" r="4.8" fill="#FBC36A"/><circle cx="382.1" cy="436.5" r="4.4" fill="#FBC46A"/><circle cx="280.7" cy="450.1" r="4.7" fill="#FEE3B4"/><circle cx="71.5" cy="475.9" r="4.1" fill="#FEDFAA"/><circle cx="282.7" cy="432.6" r="4.8" fill="#FDD596"/><circle cx="192.6" cy="452.6" r="4.4" fill="#FBC36A"/><circle cx="136.7" cy="488.3" r="4.6" fill="#FBC36A"/><circle cx="316.7" cy="484.5" r="4.6" fill="#FBC36A"/><circle cx="64.1" cy="452.4" r="4.6" fill="#FEDFAA"/><circle cx="79.7" cy="450.2" r="4.7" fill="#FDD596"/><circle cx="189.6" cy="430.1" r="4.7" fill="#FDD596"/><circle cx="225" cy="464" r="4.3" fill="#FEDFAA"/><circle cx="312.7" cy="472.6" r="4.7" fill="#FEE3B4"/><circle cx="160.3" cy="433.3" r="4.3" fill="#FDD596"/><circle cx="91.8" cy="455.7" r="4.2" fill="#FDD596"/><circle cx="239.9" cy="461.8" r="4.5" fill="#FEDFAA"/><circle cx="184.8" cy="414.8" r="4.4" fill="#FBC46A"/><circle cx="229.3" cy="428.1" r="4.2" fill="#FBC36A"/><circle cx="224.8" cy="440.5" r="4.5" fill="#FEDFAA"/><circle cx="204.2" cy="427.2" r="4.4" fill="#FEE3B4"/><circle cx="386.3" cy="427" r="4.4" fill="#FEDFAA"/><circle cx="350.9" cy="480.8" r="4.7" fill="#FEDFAA"/><circle cx="185.4" cy="466.6" r="4.6" fill="#FBC36A"/><circle cx="219" cy="424.9" r="4.3" fill="#FEDFAA"/><circle cx="332.7" cy="429.6" r="4.2" fill="#FBC36A"/><circle cx="292.6" cy="480.2" r="4.1" fill="#FDD596"/><circle cx="186.3" cy="420.9" r="4.5" fill="#FEE3B4"/><circle cx="344.2" cy="435.2" r="4.3" fill="#FEDFAA"/><circle cx="317.8" cy="428.5" r="4.8" fill="#FEE3B4"/><circle cx="152.3" cy="460.7" r="4.6" fill="#FBC36A"/><circle cx="227.8" cy="477.1" r="4.5" fill="#FEE3B4"/><circle cx="299.4" cy="446.1" r="4.1" fill="#FDD596"/><circle cx="274.7" cy="477.6" r="4.7" fill="#FDD596"/><circle cx="110.7" cy="438.1" r="4.1" fill="#FBC36A"/><circle cx="369.4" cy="455.9" r="4.2" fill="#FBC36A"/><circle cx="68.3" cy="453.3" r="4.7" fill="#FEE3B4"/><circle cx="71" cy="459.8" r="4.7" fill="#FEDFAA"/><circle cx="97.9" cy="448" r="4.7" fill="#FBC36A"/><circle cx="119.5" cy="475.4" r="4.5" fill="#FDD596"/><circle cx="201.8" cy="456.9" r="4.7" fill="#FEDFAA"/><circle cx="248.5" cy="414.6" r="4.7" fill="#FDD596"/><circle cx="219.8" cy="486.8" r="4.6" fill="#FEE3B4"/><circle cx="202.8" cy="478.1" r="4.4" fill="#FEE3B4"/><circle cx="324.3" cy="483.5" r="4.7" fill="#FDD596"/><circle cx="150.2" cy="476.7" r="4.3" fill="#FBC36A"/><circle cx="108.9" cy="415.3" r="4.6" fill="#FBC46A"/><circle cx="328.1" cy="462.9" r="4.3" fill="#FBC36A"/><circle cx="202" cy="484.8" r="4.8" fill="#FDD596"/><circle cx="371.6" cy="476.2" r="4.8" fill="#FBC36A"/><circle cx="314.2" cy="477.3" r="4.3" fill="#FDD596"/><circle cx="183.7" cy="488.1" r="4.3" fill="#FEE3B4"/><circle cx="168.2" cy="439.8" r="4.2" fill="#FBC36A"/><circle cx="144" cy="455.4" r="4.7" fill="#FBC46A"/><circle cx="304.7" cy="426.5" r="4.4" fill="#FBC46A"/><circle cx="90.5" cy="443.4" r="4.2" fill="#FEE3B4"/><circle cx="89.2" cy="463" r="4.6" fill="#FBC46A"/><circle cx="288.1" cy="457" r="4.1" fill="#FEDFAA"/><circle cx="167.3" cy="474" r="4.1" fill="#FBC46A"/><circle cx="237.7" cy="454.9" r="4.5" fill="#FBC36A"/><circle cx="231.5" cy="462.1" r="4.7" fill="#FBC46A"/><circle cx="134.1" cy="456.4" r="4.5" fill="#FBC36A"/><circle cx="130" cy="467" r="4.3" fill="#FEDFAA"/><circle cx="106.4" cy="435.6" r="4.6" fill="#FEDFAA"/><circle cx="140.8" cy="469.9" r="4.3" fill="#FEE3B4"/><circle cx="266" cy="443.2" r="4.5" fill="#FEDFAA"/><circle cx="232.8" cy="458.2" r="4.2" fill="#FDD596"/><circle cx="225.5" cy="469.4" r="4.3" fill="#FEDFAA"/><circle cx="200.1" cy="421.3" r="4.2" fill="#FEDFAA"/><circle cx="308.3" cy="476" r="4.6" fill="#FEE3B4"/><circle cx="209.2" cy="446.2" r="4.4" fill="#FDD596"/><circle cx="394.4" cy="417.6" r="4.3" fill="#FDD596"/><circle cx="377.3" cy="451" r="4.6" fill="#FBC46A"/><circle cx="285" cy="437.2" r="4.4" fill="#FBC46A"/><circle cx="58.2" cy="447.6" r="4.2" fill="#FEDFAA"/><circle cx="159.5" cy="439.1" r="4.4" fill="#FDD596"/><circle cx="260.9" cy="464.4" r="4.6" fill="#FDD596"/><circle cx="278.4" cy="462.9" r="4.7" fill="#FEDFAA"/><circle cx="318.1" cy="447.5" r="4.1" fill="#FEDFAA"/><circle cx="54.4" cy="439.8" r="4.5" fill="#FEE3B4"/><circle cx="382.4" cy="426.5" r="4.5" fill="#FEE3B4"/><circle cx="192" cy="475" r="4.4" fill="#FDD596"/><circle cx="364.5" cy="462.7" r="4.7" fill="#FBC46A"/><circle cx="259.4" cy="412.7" r="4.6" fill="#FDD596"/><circle cx="128" cy="467.6" r="4.7" fill="#FEE3B4"/><circle cx="394.6" cy="418.6" r="4.8" fill="#FBC46A"/><circle cx="90.1" cy="460.7" r="4.6" fill="#FBC36A"/><circle cx="161.9" cy="458.2" r="4.8" fill="#FDD596"/><circle cx="63.4" cy="447.9" r="4.4" fill="#FEDFAA"/><circle cx="217.1" cy="438.2" r="4.7" fill="#FDD596"/><circle cx="327.4" cy="483.6" r="4.6" fill="#FBC46A"/><circle cx="78.1" cy="427.8" r="4.8" fill="#FEDFAA"/><circle cx="236.9" cy="487.2" r="4.5" fill="#FEDFAA"/><circle cx="124.4" cy="446" r="4.4" fill="#FEE3B4"/><circle cx="286.5" cy="435.6" r="4.8" fill="#FBC46A"/><circle cx="183.2" cy="443.3" r="4.4" fill="#FEE3B4"/><circle cx="74.7" cy="425.3" r="4.4" fill="#FBC46A"/><circle cx="142.9" cy="441.3" r="4.4" fill="#FDD596"/><circle cx="127.4" cy="485.3" r="4.4" fill="#FBC46A"/><circle cx="121.1" cy="476.9" r="4.6" fill="#FEDFAA"/><circle cx="202.7" cy="452.6" r="4.3" fill="#FEDFAA"/><circle cx="285.8" cy="472.3" r="4.4" fill="#FDD596"/><circle cx="345.8" cy="463.4" r="4.2" fill="#FDD596"/><circle cx="231.1" cy="456.1" r="4.7" fill="#FDD596"/><circle cx="360.9" cy="465.2" r="4.1" fill="#FBC46A"/><circle cx="77.2" cy="440.9" r="4.2" fill="#FEDFAA"/><circle cx="209.1" cy="469.7" r="4.3" fill="#FEDFAA"/><circle cx="298.6" cy="449" r="4.2" fill="#FDD596"/><circle cx="285.7" cy="442.4" r="4.7" fill="#FBC36A"/><circle cx="336.3" cy="456.3" r="4.3" fill="#FEDFAA"/><circle cx="269.9" cy="424.4" r="4.7" fill="#FEDFAA"/><circle cx="332" cy="428.3" r="4.4" fill="#FEE3B4"/><circle cx="218.3" cy="452" r="4.8" fill="#FBC36A"/><circle cx="86" cy="464.1" r="4.8" fill="#FDD596"/><circle cx="91.5" cy="420.6" r="4.1" fill="#FBC46A"/><circle cx="293.1" cy="420.1" r="4.2" fill="#FBC46A"/><circle cx="115.4" cy="489.8" r="4.6" fill="#FEDFAA"/><circle cx="296.9" cy="414.2" r="4.5" fill="#FDD596"/><circle cx="245.3" cy="476.6" r="4.5" fill="#FEE3B4"/><circle cx="315.3" cy="448.8" r="4.2" fill="#FBC36A"/><circle cx="339.2" cy="414.8" r="4.6" fill="#FBC46A"/><circle cx="295.1" cy="477.5" r="4.2" fill="#FBC36A"/><circle cx="365.6" cy="432.9" r="4.2" fill="#FEE3B4"/><circle cx="287.4" cy="450.3" r="4.7" fill="#FBC36A"/><circle cx="314.4" cy="444.1" r="4.4" fill="#FDD596"/><circle cx="90.9" cy="426.6" r="4.4" fill="#FEE3B4"/><circle cx="201.3" cy="467.6" r="4.4" fill="#FEDFAA"/><circle cx="187.4" cy="441.3" r="4.5" fill="#FDD596"/><circle cx="125.5" cy="412.6" r="4.5" fill="#FEDFAA"/><circle cx="228.6" cy="445.9" r="4.2" fill="#FBC36A"/><circle cx="54.6" cy="474.9" r="4.1" fill="#FDD596"/><circle cx="263.1" cy="428.9" r="4.7" fill="#FEDFAA"/><circle cx="161.6" cy="435" r="4.7" fill="#FEE3B4"/><circle cx="88.6" cy="469.1" r="4.7" fill="#FEE3B4"/><circle cx="110.9" cy="432.9" r="4.1" fill="#FBC36A"/><circle cx="56" cy="421.3" r="4.5" fill="#FEDFAA"/><circle cx="110.4" cy="452.1" r="4.5" fill="#FEDFAA"/><circle cx="69.2" cy="461.8" r="4.8" fill="#FEE3B4"/><circle cx="156.7" cy="433.9" r="4.3" fill="#FDD596"/><circle cx="343.8" cy="475.6" r="4.8" fill="#FEDFAA"/><circle cx="45.6" cy="424.3" r="4.5" fill="#FEDFAA"/><circle cx="90.8" cy="443.7" r="4.4" fill="#FEE3B4"/><circle cx="269.6" cy="439.2" r="4.6" fill="#FDD596"/><circle cx="319.1" cy="480.8" r="4.4" fill="#FDD596"/><circle cx="197.6" cy="452.9" r="4.4" fill="#FBC46A"/><circle cx="43.8" cy="423.9" r="4.7" fill="#FEDFAA"/><circle cx="160.6" cy="473.9" r="4.4" fill="#FBC46A"/><circle cx="208.4" cy="437.7" r="4.6" fill="#FEDFAA"/><circle cx="353.2" cy="414" r="4.2" fill="#FBC46A"/><circle cx="368.6" cy="419.2" r="4.4" fill="#FDD596"/><circle cx="222.7" cy="484.2" r="4.5" fill="#FBC46A"/><circle cx="135.2" cy="473.5" r="4.6" fill="#FEE3B4"/><circle cx="74.6" cy="462.3" r="4.1" fill="#FEE3B4"/><circle cx="112.7" cy="451.8" r="4.7" fill="#FBC36A"/><circle cx="70.6" cy="475.1" r="4.4" fill="#FEE3B4"/><circle cx="307.9" cy="463.6" r="4.5" fill="#FBC36A"/><circle cx="177.3" cy="428.4" r="4.7" fill="#FEDFAA"/><circle cx="140" cy="488.6" r="4.6" fill="#FDD596"/><circle cx="166.2" cy="449.3" r="4.4" fill="#FEDFAA"/><circle cx="371.5" cy="427" r="4.7" fill="#FBC36A"/><circle cx="265" cy="413.5" r="4.6" fill="#FEE3B4"/><circle cx="360.2" cy="440.9" r="4.2" fill="#FDD596"/><circle cx="57.2" cy="425.9" r="4.7" fill="#FDD596"/><circle cx="71.7" cy="437.6" r="4.3" fill="#FEDFAA"/><circle cx="189.6" cy="457" r="4.3" fill="#FBC46A"/><circle cx="65.9" cy="477.1" r="4.8" fill="#FEDFAA"/><circle cx="106.7" cy="459.7" r="4.3" fill="#FBC36A"/><circle cx="184.3" cy="413.6" r="4.4" fill="#FDD596"/><circle cx="145.7" cy="439" r="4.5" fill="#FDD596"/><circle cx="79.6" cy="489.9" r="4.2" fill="#FEE3B4"/><circle cx="147.5" cy="485.2" r="4.2" fill="#FBC46A"/><circle cx="328.1" cy="445.9" r="4.2" fill="#FEDFAA"/><circle cx="133.3" cy="450" r="4.4" fill="#FDD596"/><circle cx="66.7" cy="418.3" r="4.7" fill="#FEE3B4"/><circle cx="45.6" cy="434.5" r="4.1" fill="#FEDFAA"/><circle cx="268.9" cy="448.1" r="4.4" fill="#FEDFAA"/><circle cx="357.4" cy="421.5" r="4.5" fill="#FDD596"/><circle cx="206.3" cy="451.1" r="4.7" fill="#FBC46A"/><circle cx="277.8" cy="479.9" r="4.6" fill="#FEE3B4"/><circle cx="341.2" cy="454.3" r="4.2" fill="#FBC36A"/><circle cx="173.7" cy="458.2" r="4.7" fill="#FBC36A"/><circle cx="244" cy="484.6" r="4.2" fill="#FEE3B4"/><circle cx="213.3" cy="461.9" r="4.8" fill="#FEDFAA"/><circle cx="359.4" cy="464.4" r="4.3" fill="#FDD596"/><circle cx="151.7" cy="480.3" r="4.2" fill="#FDD596"/><circle cx="331.1" cy="475.4" r="4.4" fill="#FBC36A"/><circle cx="296.7" cy="465.2" r="4.2" fill="#FEDFAA"/><circle cx="136" cy="465.5" r="4.7" fill="#FEDFAA"/><circle cx="71.8" cy="485.7" r="4.2" fill="#FEDFAA"/><circle cx="172.5" cy="481.2" r="4.8" fill="#FDD596"/><circle cx="205.7" cy="452.4" r="4.1" fill="#FBC46A"/><circle cx="296.4" cy="422.8" r="4.7" fill="#FBC46A"/><circle cx="125.4" cy="421.8" r="4.1" fill="#FBC46A"/><circle cx="360" cy="426.3" r="4.4" fill="#FEDFAA"/><circle cx="62.8" cy="466.4" r="4.2" fill="#FEE3B4"/><circle cx="379.6" cy="421.6" r="4.7" fill="#FEE3B4"/><circle cx="191.9" cy="424.2" r="4.5" fill="#FBC36A"/><circle cx="204" cy="464.6" r="4.6" fill="#FEE3B4"/><circle cx="234.1" cy="424.5" r="4.1" fill="#FBC36A"/><circle cx="195.5" cy="456" r="4.3" fill="#FEE3B4"/><circle cx="96.3" cy="448.4" r="4.7" fill="#FBC36A"/><circle cx="107" cy="416.7" r="4.7" fill="#FBC36A"/><circle cx="279.8" cy="475.7" r="4.4" fill="#FEDFAA"/><circle cx="242.2" cy="481.5" r="4.3" fill="#FEDFAA"/><circle cx="147.3" cy="415.6" r="4.3" fill="#FBC46A"/><circle cx="126.6" cy="427.3" r="4.4" fill="#FDD596"/><circle cx="160.1" cy="425" r="4.1" fill="#FEE3B4"/><circle cx="348" cy="454.6" r="4.6" fill="#FDD596"/><circle cx="174.5" cy="483.7" r="4.6" fill="#FBC36A"/><circle cx="350.7" cy="452.9" r="4.1" fill="#FBC46A"/><circle cx="344" cy="441" r="4.7" fill="#FEDFAA"/><circle cx="170.3" cy="438.7" r="4.2" fill="#FBC46A"/><circle cx="271.8" cy="420.8" r="4.1" fill="#FEDFAA"/><circle cx="101.3" cy="433.4" r="4.2" fill="#FEDFAA"/><circle cx="175.9" cy="422.4" r="4.4" fill="#FEDFAA"/><circle cx="148.4" cy="480.8" r="4.7" fill="#FEDFAA"/><circle cx="190.3" cy="447.7" r="4.2" fill="#FBC36A"/><circle cx="330.5" cy="472.2" r="4.7" fill="#FEDFAA"/><circle cx="391" cy="415.7" r="4.7" fill="#FBC36A"/><circle cx="243.3" cy="476.7" r="4.5" fill="#FDD596"/><circle cx="313" cy="460.5" r="4.1" fill="#FEDFAA"/><circle cx="53.3" cy="425.7" r="4.4" fill="#FBC36A"/><circle cx="139.1" cy="432.4" r="4.8" fill="#FDD596"/><circle cx="142.4" cy="471.3" r="4.6" fill="#FEE3B4"/><circle cx="66.3" cy="416.5" r="4.8" fill="#FEDFAA"/><circle cx="253.8" cy="428.4" r="4.6" fill="#FBC36A"/><circle cx="156.9" cy="482.4" r="4.7" fill="#FEDFAA"/><circle cx="361" cy="419.9" r="4.1" fill="#FBC36A"/><circle cx="113.6" cy="442.5" r="4.3" fill="#FEDFAA"/><circle cx="188.1" cy="484.7" r="4.8" fill="#FEDFAA"/><circle cx="152" cy="468.6" r="4.3" fill="#FBC46A"/><circle cx="378.5" cy="455.8" r="4.3" fill="#FEDFAA"/><circle cx="267.6" cy="467.9" r="4.4" fill="#FDD596"/><circle cx="225.8" cy="477.3" r="4.2" fill="#FEDFAA"/><circle cx="376.6" cy="429.5" r="4.2" fill="#FEDFAA"/><circle cx="243.1" cy="470" r="4.6" fill="#FDD596"/><circle cx="172.6" cy="459.6" r="4.6" fill="#FEE3B4"/><circle cx="252.2" cy="418.5" r="4.6" fill="#FDD596"/><circle cx="288.1" cy="412.8" r="4.8" fill="#FBC46A"/><circle cx="284.9" cy="438.3" r="4.7" fill="#FBC46A"/><circle cx="241.7" cy="455.7" r="4.3" fill="#FEE3B4"/><circle cx="339.1" cy="458.8" r="4.5" fill="#FEDFAA"/><circle cx="71.2" cy="466.3" r="4.7" fill="#FEE3B4"/><circle cx="125.4" cy="459.4" r="4.3" fill="#FEE3B4"/><circle cx="274.8" cy="483.6" r="4.1" fill="#FBC46A"/><circle cx="277.7" cy="421.3" r="4.1" fill="#FDD596"/><circle cx="266" cy="427.9" r="4.8" fill="#FBC46A"/><circle cx="118.2" cy="453.4" r="4.6" fill="#FBC36A"/><circle cx="257.5" cy="442.1" r="4.6" fill="#FEDFAA"/><circle cx="359.4" cy="419.7" r="4.2" fill="#FBC36A"/><circle cx="209.9" cy="418.6" r="4.6" fill="#FBC46A"/><circle cx="86.3" cy="486.9" r="4.1" fill="#FBC36A"/><circle cx="181.8" cy="444.9" r="4.3" fill="#FEE3B4"/><circle cx="334.8" cy="452.4" r="4.2" fill="#FBC36A"/><circle cx="230.7" cy="455.7" r="4.4" fill="#FBC46A"/><circle cx="360.1" cy="441.3" r="4.8" fill="#FEDFAA"/><circle cx="93.4" cy="434.5" r="4.3" fill="#FBC36A"/><circle cx="267.8" cy="452.9" r="4.7" fill="#FDD596"/><circle cx="128.1" cy="423.4" r="4.7" fill="#FEDFAA"/><circle cx="175.3" cy="438.2" r="4.2" fill="#FBC36A"/><circle cx="183" cy="475.6" r="4.3" fill="#FEDFAA"/><circle cx="293.5" cy="421.4" r="4.3" fill="#FEDFAA"/><circle cx="135.6" cy="434.6" r="4.7" fill="#FBC46A"/><circle cx="111.6" cy="484.9" r="4.7" fill="#FBC46A"/><circle cx="48.9" cy="441.7" r="4.6" fill="#FEDFAA"/><circle cx="236.8" cy="480.5" r="4.7" fill="#FEDFAA"/><circle cx="102.3" cy="434.5" r="4.3" fill="#FDD596"/><circle cx="69.3" cy="474.5" r="4.5" fill="#FDD596"/><circle cx="226.2" cy="482.7" r="4.5" fill="#FEDFAA"/><circle cx="167.9" cy="447.7" r="4.8" fill="#FEDFAA"/><circle cx="344.7" cy="413.4" r="4.2" fill="#FEDFAA"/><circle cx="118.2" cy="456.9" r="4.3" fill="#FBC46A"/><circle cx="325.4" cy="426.6" r="4.4" fill="#FBC36A"/><circle cx="104.3" cy="481" r="4.6" fill="#FDD596"/><circle cx="203" cy="428.2" r="4.6" fill="#FBC46A"/><circle cx="106.5" cy="424" r="4.5" fill="#FEDFAA"/><circle cx="249.6" cy="418" r="4.3" fill="#FDD596"/><circle cx="87.7" cy="472.9" r="4.4" fill="#FEDFAA"/><circle cx="263.8" cy="453.9" r="4.8" fill="#FBC36A"/><circle cx="53.2" cy="462.7" r="4.6" fill="#FDD596"/><circle cx="384.6" cy="435.9" r="4.3" fill="#FDD596"/><circle cx="321.5" cy="412.6" r="4.4" fill="#FEDFAA"/><circle cx="172.2" cy="418.4" r="4.3" fill="#FBC46A"/><circle cx="315.3" cy="421.4" r="4.3" fill="#FBC46A"/><circle cx="303.2" cy="442.8" r="4.2" fill="#FEE3B4"/><circle cx="233" cy="478.3" r="4.3" fill="#FBC36A"/><circle cx="337" cy="431.5" r="4.6" fill="#FBC36A"/><circle cx="275.6" cy="475.7" r="4.3" fill="#FEE3B4"/><circle cx="358.3" cy="430" r="4.1" fill="#FEDFAA"/><circle cx="310.1" cy="418.5" r="4.6" fill="#FEDFAA"/><circle cx="321.2" cy="480.9" r="4.7" fill="#FBC46A"/><circle cx="241.8" cy="428.5" r="4.3" fill="#FEDFAA"/><circle cx="59.2" cy="472.5" r="4.7" fill="#FBC36A"/><circle cx="303.5" cy="470.6" r="4.2" fill="#FBC36A"/><circle cx="46.6" cy="463.2" r="4.2" fill="#FDD596"/><circle cx="317.6" cy="454.8" r="4.4" fill="#FDD596"/><circle cx="287.8" cy="455.1" r="4.6" fill="#FEDFAA"/><circle cx="356" cy="472.2" r="4.7" fill="#FEE3B4"/><circle cx="70.5" cy="468.3" r="4.4" fill="#FEE3B4"/><circle cx="318.1" cy="466.2" r="4.4" fill="#FEDFAA"/><circle cx="77.8" cy="488.8" r="4.3" fill="#FDD596"/><circle cx="269.5" cy="469.1" r="4.4" fill="#FBC36A"/><circle cx="228.8" cy="449.9" r="4.3" fill="#FEDFAA"/><circle cx="338.1" cy="467" r="4.7" fill="#FBC36A"/><circle cx="347.9" cy="449.8" r="4.3" fill="#FBC36A"/><circle cx="212.5" cy="447.5" r="4.2" fill="#FEE3B4"/><circle cx="204.7" cy="438.7" r="4.2" fill="#FDD596"/><circle cx="241.1" cy="439.2" r="4.4" fill="#FEE3B4"/><circle cx="64" cy="458.7" r="4.6" fill="#FBC36A"/><circle cx="288.7" cy="479.9" r="4.2" fill="#FBC46A"/><circle cx="76.3" cy="484.7" r="4.7" fill="#FEE3B4"/><circle cx="163.5" cy="414.1" r="4.7" fill="#FDD596"/><circle cx="101.9" cy="434.4" r="4.3" fill="#FEDFAA"/><circle cx="104.9" cy="466.8" r="4.1" fill="#FBC46A"/><circle cx="276.8" cy="449.1" r="4.7" fill="#FEDFAA"/><circle cx="63.8" cy="438.4" r="4.6" fill="#FDD596"/><circle cx="186" cy="425.2" r="4.3" fill="#FEE3B4"/><circle cx="257.9" cy="468" r="4.7" fill="#FEE3B4"/><circle cx="91.2" cy="432.6" r="4.1" fill="#FEE3B4"/><circle cx="367.2" cy="459.8" r="4.7" fill="#FBC36A"/><circle cx="246" cy="432.1" r="4.1" fill="#FBC36A"/><circle cx="338.1" cy="448.2" r="4.7" fill="#FBC46A"/><circle cx="135.8" cy="449.4" r="4.5" fill="#FBC36A"/><circle cx="230.8" cy="445.6" r="4.3" fill="#FEE3B4"/><circle cx="228.5" cy="415.9" r="4.2" fill="#FBC46A"/><circle cx="142.2" cy="465.4" r="4.6" fill="#FEDFAA"/><circle cx="351.6" cy="444.5" r="4.8" fill="#FEDFAA"/><circle cx="165.8" cy="423.9" r="4.4" fill="#FBC36A"/><circle cx="366.8" cy="422.8" r="4.8" fill="#FDD596"/><circle cx="177.9" cy="425.6" r="4.6" fill="#FEDFAA"/><circle cx="292.1" cy="450.8" r="4.2" fill="#FBC46A"/><circle cx="47.4" cy="462.1" r="4.2" fill="#FBC36A"/><circle cx="140.2" cy="436" r="4.8" fill="#FBC46A"/><circle cx="216.5" cy="471.7" r="4.1" fill="#FBC36A"/><circle cx="369.4" cy="481.8" r="4.1" fill="#FBC36A"/><circle cx="369.6" cy="430.2" r="4.1" fill="#FEDFAA"/><circle cx="152.2" cy="467.8" r="4.6" fill="#FEDFAA"/><circle cx="328.2" cy="418.4" r="4.2" fill="#FDD596"/><circle cx="321.7" cy="482.8" r="4.4" fill="#FBC36A"/><circle cx="128.5" cy="467.9" r="4.4" fill="#FEE3B4"/><circle cx="227.2" cy="456.3" r="4.1" fill="#FDD596"/><circle cx="381.5" cy="419.1" r="4.4" fill="#FBC36A"/><circle cx="49.8" cy="467.1" r="4.8" fill="#FBC46A"/><circle cx="308.2" cy="423.8" r="4.3" fill="#FEDFAA"/><circle cx="211.9" cy="415.5" r="4.3" fill="#FEE3B4"/><circle cx="335.7" cy="449.8" r="4.2" fill="#FEDFAA"/><circle cx="247.9" cy="475.7" r="4.6" fill="#FEDFAA"/><circle cx="213.3" cy="451.2" r="4.5" fill="#FEDFAA"/><circle cx="273.1" cy="486" r="4.2" fill="#FEDFAA"/><circle cx="328.4" cy="442.9" r="4.3" fill="#FDD596"/><circle cx="77.2" cy="489.8" r="4.4" fill="#FBC36A"/><circle cx="160.1" cy="470.1" r="4.7" fill="#FEDFAA"/><circle cx="112.8" cy="457.2" r="4.8" fill="#FDD596"/><circle cx="70.9" cy="460.8" r="4.8" fill="#FEE3B4"/><circle cx="167.5" cy="422.5" r="4.6" fill="#FBC46A"/><circle cx="75.1" cy="459.5" r="4.5" fill="#FEE3B4"/><circle cx="263" cy="477.9" r="4.3" fill="#FBC36A"/><circle cx="72.8" cy="487.9" r="4.7" fill="#FEE3B4"/><circle cx="364.5" cy="418.7" r="4.6" fill="#FBC46A"/><circle cx="165.2" cy="467.1" r="4.4" fill="#FEDFAA"/><circle cx="305.5" cy="449.8" r="4.3" fill="#FEE3B4"/><circle cx="120.4" cy="432.8" r="4.4" fill="#FEDFAA"/><circle cx="53.4" cy="430.2" r="4.7" fill="#FEDFAA"/><circle cx="356" cy="456.4" r="4.4" fill="#FEDFAA"/><circle cx="98.7" cy="466.5" r="4.5" fill="#FBC46A"/><circle cx="235.4" cy="422.5" r="4.8" fill="#FEE3B4"/><circle cx="324.5" cy="448.1" r="4.7" fill="#FBC46A"/><circle cx="125.1" cy="466.3" r="4.1" fill="#FEDFAA"/><circle cx="84.2" cy="461.4" r="4.6" fill="#FBC46A"/><circle cx="258.8" cy="477.2" r="4.8" fill="#FEDFAA"/><circle cx="282.7" cy="432" r="4.8" fill="#FEDFAA"/><circle cx="56.8" cy="437.9" r="4.4" fill="#FEDFAA"/><circle cx="239.3" cy="465.4" r="4.6" fill="#FBC36A"/><circle cx="341.8" cy="456.5" r="4.1" fill="#FBC36A"/><circle cx="238.7" cy="451.9" r="4.5" fill="#FEDFAA"/><circle cx="83.4" cy="485.6" r="4.4" fill="#FBC36A"/><circle cx="47.9" cy="462" r="4.7" fill="#FBC36A"/><circle cx="362.1" cy="448.5" r="4.8" fill="#FEDFAA"/><circle cx="302.8" cy="446.7" r="4.1" fill="#FBC36A"/><circle cx="73.7" cy="469.2" r="4.3" fill="#FBC46A"/><circle cx="308.4" cy="449.1" r="4.8" fill="#FEDFAA"/><circle cx="378.7" cy="454" r="4.8" fill="#FEE3B4"/><circle cx="174.6" cy="471.1" r="4.2" fill="#FEDFAA"/><circle cx="79.5" cy="421.9" r="4.7" fill="#FEDFAA"/><circle cx="164.2" cy="470.5" r="4.5" fill="#FEE3B4"/><circle cx="311.8" cy="454.5" r="4.5" fill="#FBC46A"/><circle cx="236.3" cy="434.1" r="4.2" fill="#FBC36A"/><circle cx="195.4" cy="439.4" r="4.5" fill="#FBC36A"/><circle cx="362.1" cy="442.4" r="4.7" fill="#FDD596"/><circle cx="65" cy="414" r="4.6" fill="#FEDFAA"/><circle cx="377.2" cy="478.1" r="4.6" fill="#FBC36A"/><circle cx="115.9" cy="475.5" r="4.2" fill="#FEE3B4"/><circle cx="88.9" cy="479.7" r="4.6" fill="#FEDFAA"/><circle cx="348.3" cy="458.6" r="4.5" fill="#FEE3B4"/><circle cx="234" cy="423.9" r="4.1" fill="#FBC46A"/><circle cx="232" cy="476.4" r="4.2" fill="#FDD596"/><circle cx="277.3" cy="427.9" r="4.2" fill="#FEE3B4"/><circle cx="335.9" cy="471.9" r="4.4" fill="#FBC36A"/><circle cx="322.2" cy="440.6" r="4.3" fill="#FBC36A"/><circle cx="311.8" cy="412.5" r="4.3" fill="#FEDFAA"/><circle cx="241.4" cy="479.4" r="4.3" fill="#FEE3B4"/><circle cx="320.9" cy="438.6" r="4.4" fill="#FDD596"/><circle cx="138.6" cy="464.7" r="4.6" fill="#FEDFAA"/><circle cx="374.3" cy="419.1" r="4.7" fill="#FEE3B4"/><circle cx="214.2" cy="414.3" r="4.5" fill="#FEDFAA"/><circle cx="97.6" cy="462.4" r="4.4" fill="#FBC46A"/><circle cx="188.8" cy="482.5" r="4.6" fill="#FDD596"/><circle cx="287.6" cy="437.4" r="4.2" fill="#FBC46A"/><circle cx="265.3" cy="444.4" r="4.2" fill="#FEDFAA"/><circle cx="373.4" cy="442" r="4.5" fill="#FEDFAA"/><circle cx="223.5" cy="480.8" r="4.7" fill="#FEDFAA"/><circle cx="262.7" cy="414.1" r="4.2" fill="#FBC46A"/><circle cx="187.2" cy="442.4" r="4.4" fill="#FBC46A"/><circle cx="249.5" cy="471" r="4.1" fill="#FEE3B4"/><circle cx="282.9" cy="435.4" r="4.3" fill="#FEDFAA"/><circle cx="272.7" cy="456.1" r="4.6" fill="#FBC46A"/><circle cx="165.4" cy="453.9" r="4.2" fill="#FEDFAA"/><circle cx="128.9" cy="487.5" r="4.4" fill="#FEE3B4"/><circle cx="82" cy="459.2" r="4.3" fill="#FEE3B4"/><circle cx="299.2" cy="446.8" r="4.5" fill="#FBC36A"/><circle cx="298" cy="461.6" r="4.7" fill="#FBC46A"/><circle cx="63.6" cy="414.2" r="4.2" fill="#FEDFAA"/><circle cx="87.1" cy="445" r="4.5" fill="#FEDFAA"/><circle cx="371.6" cy="461.7" r="4.7" fill="#FBC46A"/><circle cx="103" cy="471.2" r="4.2" fill="#FDD596"/><circle cx="325.7" cy="421.7" r="4.8" fill="#FEE3B4"/><circle cx="266.7" cy="467.5" r="4.4" fill="#FEE3B4"/><circle cx="115.1" cy="472.7" r="4.5" fill="#FEDFAA"/><circle cx="355.1" cy="456.7" r="4.4" fill="#FEDFAA"/><circle cx="341.2" cy="422.7" r="4.3" fill="#FEE3B4"/><circle cx="190.2" cy="482.6" r="4.7" fill="#FDD596"/><circle cx="191.1" cy="450" r="4.6" fill="#FEDFAA"/><circle cx="64.7" cy="448.6" r="4.1" fill="#FDD596"/><circle cx="224.9" cy="415.8" r="4.6" fill="#FEDFAA"/><circle cx="55" cy="414.3" r="4.3" fill="#FEE3B4"/><circle cx="97.6" cy="428" r="4.7" fill="#FEE3B4"/><circle cx="278.5" cy="482.3" r="4.6" fill="#FDD596"/><circle cx="222.4" cy="445.4" r="4.7" fill="#FEDFAA"/><circle cx="335.5" cy="420.7" r="4.2" fill="#FDD596"/><circle cx="295.5" cy="417" r="4.3" fill="#FEDFAA"/><circle cx="99.1" cy="420.8" r="4.4" fill="#FEDFAA"/><circle cx="162.4" cy="439.1" r="4.2" fill="#FEDFAA"/><circle cx="266.7" cy="420.8" r="4.5" fill="#FDD596"/><circle cx="173.4" cy="488" r="4.7" fill="#FBC36A"/><circle cx="255" cy="451.9" r="4.6" fill="#FEDFAA"/><circle cx="125.2" cy="444.3" r="4.8" fill="#FEDFAA"/><circle cx="58.6" cy="432.4" r="4.3" fill="#FBC46A"/><circle cx="65.2" cy="456.2" r="4.5" fill="#FBC46A"/><circle cx="119.5" cy="412.7" r="4.3" fill="#FBC36A"/><circle cx="223.2" cy="486.7" r="4.8" fill="#FEE3B4"/><circle cx="155.2" cy="465.9" r="4.1" fill="#FDD596"/><circle cx="173.1" cy="465.5" r="4.7" fill="#FBC36A"/><circle cx="68.8" cy="440.3" r="4.7" fill="#FBC46A"/><circle cx="217.9" cy="462.8" r="4.1" fill="#FEE3B4"/><circle cx="261.4" cy="432" r="4.3" fill="#FBC36A"/><circle cx="237.6" cy="440.2" r="4.6" fill="#FBC46A"/><circle cx="225.5" cy="479.9" r="4.2" fill="#FDD596"/><circle cx="325" cy="438.6" r="4.4" fill="#FEE3B4"/><circle cx="100.7" cy="424.8" r="4.5" fill="#FEE3B4"/><circle cx="136.4" cy="453.1" r="4.2" fill="#FDD596"/><circle cx="144.8" cy="479.4" r="4.6" fill="#FDD596"/><circle cx="271.2" cy="457.1" r="4.1" fill="#FEDFAA"/><circle cx="279.5" cy="414.1" r="4.7" fill="#FEDFAA"/><circle cx="187.4" cy="474.3" r="4.4" fill="#FEDFAA"/><circle cx="156.6" cy="442" r="4.8" fill="#FEDFAA"/><circle cx="116.3" cy="416.3" r="4.4" fill="#FEDFAA"/><circle cx="253.7" cy="431.9" r="4.2" fill="#FEDFAA"/><circle cx="112.8" cy="453.2" r="4.3" fill="#FEDFAA"/><circle cx="358.6" cy="427.7" r="4.8" fill="#FBC36A"/><circle cx="329.3" cy="443.6" r="4.8" fill="#FEE3B4"/><circle cx="263.8" cy="421.7" r="4.2" fill="#FEE3B4"/><circle cx="265" cy="476.5" r="4.3" fill="#FEDFAA"/><circle cx="237.3" cy="479.1" r="4.7" fill="#FBC36A"/><circle cx="270.2" cy="437.4" r="4.3" fill="#FBC46A"/><circle cx="360.8" cy="427.6" r="4.6" fill="#FEDFAA"/><circle cx="365.4" cy="470.7" r="4.7" fill="#FEE3B4"/><circle cx="272.8" cy="433.9" r="4.5" fill="#FEDFAA"/><circle cx="197.8" cy="489.7" r="4.7" fill="#FDD596"/><circle cx="289.5" cy="434.9" r="4.5" fill="#FEE3B4"/><circle cx="192.6" cy="482.4" r="4.4" fill="#FEE3B4"/><circle cx="366.6" cy="425.8" r="4.6" fill="#FBC46A"/><circle cx="168.3" cy="476.2" r="4.7" fill="#FEDFAA"/><circle cx="238.1" cy="461.2" r="4.2" fill="#FEDFAA"/><circle cx="126" cy="442.9" r="4.6" fill="#FDD596"/><circle cx="106.6" cy="421.3" r="4.4" fill="#FEE3B4"/><circle cx="113.4" cy="435.1" r="4.2" fill="#FBC36A"/><circle cx="247.6" cy="478.4" r="4.4" fill="#FBC46A"/><circle cx="248.2" cy="450.5" r="4.7" fill="#FEDFAA"/><circle cx="177.1" cy="475.7" r="4.1" fill="#FBC46A"/><circle cx="240.3" cy="429.5" r="4.1" fill="#FEE3B4"/><circle cx="260.1" cy="436.2" r="4.3" fill="#FBC46A"/><circle cx="63.6" cy="462.5" r="4.4" fill="#FBC46A"/><circle cx="260.3" cy="451.3" r="4.3" fill="#FEE3B4"/><circle cx="167" cy="438.7" r="4.4" fill="#FBC46A"/><circle cx="145.6" cy="477.8" r="4.4" fill="#FBC46A"/><circle cx="240.9" cy="478.3" r="4.7" fill="#FBC46A"/><circle cx="290" cy="417.2" r="4.1" fill="#FBC36A"/><circle cx="316.3" cy="457.3" r="4.6" fill="#FEDFAA"/><circle cx="166.2" cy="487.3" r="4.4" fill="#FBC46A"/><circle cx="246.7" cy="433.3" r="4.5" fill="#FEDFAA"/><circle cx="86.9" cy="414.2" r="4.7" fill="#FEDFAA"/><circle cx="273" cy="441" r="4.7" fill="#FEE3B4"/><circle cx="51" cy="470.2" r="4.3" fill="#FEE3B4"/><circle cx="302.2" cy="469.7" r="4.8" fill="#FBC46A"/><circle cx="368.1" cy="466.8" r="4.4" fill="#FEE3B4"/><circle cx="141.4" cy="426.2" r="4.4" fill="#FEE3B4"/><circle cx="182.1" cy="444.9" r="4.7" fill="#FEE3B4"/><circle cx="57.2" cy="414.9" r="4.4" fill="#FBC46A"/><circle cx="306.9" cy="419.7" r="4.3" fill="#FDD596"/><circle cx="315.8" cy="414.7" r="4.4" fill="#FEDFAA"/><circle cx="199.5" cy="418.4" r="4.4" fill="#FBC46A"/><circle cx="116" cy="438.7" r="4.4" fill="#FBC36A"/><circle cx="357.6" cy="433.6" r="4.1" fill="#FDD596"/><circle cx="298.3" cy="415.7" r="4.5" fill="#FBC36A"/><circle cx="271.6" cy="481.1" r="4.5" fill="#FBC36A"/><circle cx="260.7" cy="441.7" r="4.6" fill="#FEDFAA"/><circle cx="308.5" cy="412.6" r="4.2" fill="#FEDFAA"/><circle cx="364.7" cy="457.5" r="4.4" fill="#FEE3B4"/><circle cx="207.7" cy="459.9" r="4.7" fill="#FBC46A"/><circle cx="290.8" cy="450.5" r="4.5" fill="#FBC36A"/><circle cx="200.6" cy="472.5" r="4.4" fill="#FEDFAA"/><circle cx="96" cy="462.8" r="4.5" fill="#FDD596"/><circle cx="298.5" cy="447.4" r="4.2" fill="#FEDFAA"/><circle cx="370.2" cy="425.5" r="4.2" fill="#FBC46A"/><circle cx="117.6" cy="460.1" r="4.4" fill="#FEE3B4"/><circle cx="204.2" cy="452.7" r="4.7" fill="#FEE3B4"/><circle cx="226.1" cy="474.3" r="4.6" fill="#FDD596"/><circle cx="152.7" cy="454.7" r="4.8" fill="#FBC46A"/><circle cx="345.5" cy="423.3" r="4.5" fill="#FEE3B4"/><circle cx="224" cy="455.3" r="4.3" fill="#FEDFAA"/><circle cx="307.8" cy="438.3" r="4.7" fill="#FEDFAA"/><circle cx="95.7" cy="448.1" r="4.6" fill="#FBC46A"/><circle cx="344.8" cy="461.1" r="4.7" fill="#FEDFAA"/><circle cx="340.1" cy="466.1" r="4.1" fill="#FBC36A"/><circle cx="80.5" cy="437.2" r="4.3" fill="#FEDFAA"/><circle cx="131.8" cy="474.7" r="4.2" fill="#FBC36A"/><circle cx="344.6" cy="420" r="4.5" fill="#FBC36A"/><circle cx="111.9" cy="471" r="4.5" fill="#FBC46A"/><circle cx="182.5" cy="416.2" r="4.3" fill="#FBC36A"/><circle cx="102.6" cy="464.5" r="4.6" fill="#FEE3B4"/><circle cx="213.2" cy="478.7" r="4.3" fill="#FEE3B4"/><circle cx="274.6" cy="453.6" r="4.3" fill="#FEDFAA"/><circle cx="140" cy="434.3" r="4.4" fill="#FBC36A"/><circle cx="118.7" cy="420.8" r="4.5" fill="#FEDFAA"/><circle cx="161.2" cy="468.7" r="4.1" fill="#FBC46A"/><circle cx="311.4" cy="479.1" r="4.3" fill="#FEDFAA"/><circle cx="158.9" cy="437.8" r="4.3" fill="#FBC36A"/><circle cx="293.3" cy="430.6" r="4.7" fill="#FEE3B4"/><circle cx="220.5" cy="449" r="4.4" fill="#FDD596"/><circle cx="229.8" cy="483.8" r="4.8" fill="#FBC46A"/><circle cx="295.8" cy="454.3" r="4.4" fill="#FEE3B4"/><circle cx="121.7" cy="488.2" r="4.3" fill="#FBC36A"/><circle cx="80.9" cy="434.7" r="4.2" fill="#FBC46A"/><circle cx="165.1" cy="436.9" r="4.3" fill="#FBC36A"/><circle cx="169.3" cy="463.5" r="4.5" fill="#FBC36A"/><circle cx="134.5" cy="454.5" r="4.4" fill="#FEDFAA"/><circle cx="114.8" cy="448.7" r="4.6" fill="#FDD596"/><circle cx="278.6" cy="484.5" r="4.2" fill="#FBC46A"/><circle cx="354.4" cy="450.8" r="4.4" fill="#FEDFAA"/><circle cx="134.9" cy="415.9" r="4.2" fill="#FEDFAA"/><circle cx="365" cy="422" r="4.6" fill="#FBC46A"/><circle cx="47.6" cy="440.1" r="4.3" fill="#FEE3B4"/><circle cx="91.2" cy="477.9" r="4.4" fill="#FBC36A"/><circle cx="71.8" cy="466.5" r="4.5" fill="#FDD596"/><circle cx="200.1" cy="449.6" r="4.7" fill="#FBC46A"/><circle cx="77.7" cy="480.2" r="4.7" fill="#FBC46A"/><circle cx="248.9" cy="437.6" r="4.3" fill="#FEE3B4"/><circle cx="372.8" cy="467.7" r="4.1" fill="#FBC36A"/><circle cx="370.1" cy="421.9" r="4.3" fill="#FBC36A"/><circle cx="371" cy="431.4" r="4.2" fill="#FEDFAA"/><circle cx="379.8" cy="423.2" r="4.4" fill="#FEDFAA"/><circle cx="69" cy="461" r="4.1" fill="#FBC36A"/><circle cx="149.6" cy="454.2" r="4.3" fill="#FEE3B4"/><circle cx="60.4" cy="421.9" r="4.6" fill="#FEE3B4"/><circle cx="278.5" cy="481.5" r="4.6" fill="#FEDFAA"/><circle cx="136.4" cy="433.5" r="4.6" fill="#FBC46A"/><circle cx="252" cy="431.2" r="4.7" fill="#FEE3B4"/><circle cx="229.3" cy="419.1" r="4.7" fill="#FDD596"/><circle cx="341.9" cy="450" r="4.7" fill="#FBC36A"/><circle cx="266.6" cy="425.7" r="4.6" fill="#FBC46A"/><circle cx="291.2" cy="453.5" r="4.1" fill="#FEDFAA"/><circle cx="323.7" cy="422.1" r="4.7" fill="#FEE3B4"/><circle cx="82.9" cy="447.7" r="4.4" fill="#FDD596"/><circle cx="119.6" cy="418.1" r="4.8" fill="#FEE3B4"/><circle cx="231.3" cy="421.2" r="4.5" fill="#FEDFAA"/><circle cx="341.7" cy="443.3" r="4.5" fill="#FEDFAA"/><circle cx="132.8" cy="479.5" r="4.7" fill="#FBC46A"/><circle cx="112.2" cy="426.6" r="4.1" fill="#FEE3B4"/><circle cx="238.2" cy="452.2" r="4.3" fill="#FBC36A"/><circle cx="82.6" cy="484.5" r="4.7" fill="#FEDFAA"/><circle cx="51" cy="465" r="4.6" fill="#FEDFAA"/><circle cx="237.8" cy="416.5" r="4.7" fill="#FEE3B4"/><circle cx="129.2" cy="440.3" r="4.4" fill="#FDD596"/><circle cx="184.4" cy="487.7" r="4.7" fill="#FEDFAA"/><circle cx="297" cy="451.7" r="4.8" fill="#FDD596"/><circle cx="112" cy="484.7" r="4.4" fill="#FBC36A"/><circle cx="308" cy="481.1" r="4.4" fill="#FEE3B4"/><circle cx="157.5" cy="426.7" r="4.7" fill="#FBC46A"/><circle cx="147.8" cy="421.1" r="4.6" fill="#FEDFAA"/><circle cx="365.6" cy="470.1" r="4.7" fill="#FDD596"/><circle cx="274.1" cy="443.6" r="4.6" fill="#FBC36A"/><circle cx="237.4" cy="420" r="4.3" fill="#FBC46A"/><circle cx="252.6" cy="429.8" r="4.5" fill="#FDD596"/><circle cx="242.7" cy="438.8" r="4.1" fill="#FEDFAA"/><circle cx="351.4" cy="474.8" r="4.8" fill="#FEDFAA"/><circle cx="138.8" cy="427.8" r="4.4" fill="#FDD596"/><circle cx="361.2" cy="433.7" r="4.5" fill="#FEDFAA"/><circle cx="118.9" cy="456.3" r="4.6" fill="#FEDFAA"/><circle cx="372" cy="480.1" r="4.5" fill="#FEE3B4"/><circle cx="171.7" cy="422.7" r="4.7" fill="#FBC46A"/><circle cx="159.3" cy="478.3" r="4.3" fill="#FEDFAA"/><circle cx="199.5" cy="468.8" r="4.1" fill="#FDD596"/><circle cx="133.2" cy="436.1" r="4.7" fill="#FEDFAA"/><circle cx="220.5" cy="430.8" r="4.6" fill="#FEE3B4"/><circle cx="302.2" cy="450.4" r="4.7" fill="#FBC46A"/><circle cx="296.5" cy="488.5" r="4.5" fill="#FBC36A"/><circle cx="170" cy="475" r="4.4" fill="#FBC36A"/><circle cx="296.2" cy="414.8" r="4.3" fill="#FEDFAA"/><circle cx="250.7" cy="420.8" r="4.5" fill="#FBC46A"/><circle cx="166.6" cy="435.1" r="4.1" fill="#FBC46A"/><circle cx="154.5" cy="489.2" r="4.5" fill="#FEE3B4"/><circle cx="125.4" cy="487.2" r="4.6" fill="#FEDFAA"/><circle cx="112.7" cy="479.9" r="4.4" fill="#FDD596"/><circle cx="137" cy="414.9" r="4.8" fill="#FDD596"/><circle cx="288.7" cy="462" r="4.7" fill="#FBC36A"/><circle cx="355.7" cy="464.5" r="4.5" fill="#FDD596"/><circle cx="286.9" cy="423.3" r="4.3" fill="#FEDFAA"/><circle cx="265.6" cy="444.5" r="4.7" fill="#FBC46A"/><circle cx="211.3" cy="483.2" r="4.4" fill="#FDD596"/><circle cx="389.3" cy="423.9" r="4.3" fill="#FBC46A"/><circle cx="284.8" cy="477.9" r="4.3" fill="#FBC46A"/><circle cx="289.8" cy="452.6" r="4.8" fill="#FEE3B4"/><circle cx="266.6" cy="432.1" r="4.2" fill="#FEDFAA"/><circle cx="348.9" cy="462.3" r="4.5" fill="#FBC36A"/><circle cx="337.6" cy="413.1" r="4.1" fill="#FBC46A"/><circle cx="103.2" cy="476.7" r="4.3" fill="#FDD596"/><circle cx="104.3" cy="424.2" r="4.5" fill="#FEDFAA"/><circle cx="193.5" cy="413.2" r="4.3" fill="#FBC46A"/><circle cx="228" cy="456.9" r="4.5" fill="#FDD596"/><circle cx="289.1" cy="454.6" r="4.2" fill="#FEDFAA"/><circle cx="70.5" cy="472.1" r="4.2" fill="#FEE3B4"/><circle cx="53.6" cy="452.7" r="4.8" fill="#FEDFAA"/><circle cx="169" cy="441.6" r="4.3" fill="#FBC46A"/><circle cx="107.3" cy="425.8" r="4.1" fill="#FEDFAA"/><circle cx="81.4" cy="426.4" r="4.5" fill="#FEDFAA"/><circle cx="334.7" cy="416.3" r="4.2" fill="#FBC36A"/><circle cx="141.4" cy="415.1" r="4.4" fill="#FEE3B4"/><circle cx="339.2" cy="485.1" r="4.3" fill="#FEDFAA"/><circle cx="252" cy="478.1" r="4.8" fill="#FBC36A"/><circle cx="61.2" cy="476.6" r="4.8" fill="#FEE3B4"/><circle cx="319.9" cy="459" r="4.2" fill="#FDD596"/><circle cx="254.1" cy="445.7" r="4.5" fill="#FBC46A"/><circle cx="99.7" cy="467.5" r="4.1" fill="#FEDFAA"/><circle cx="227.7" cy="429.4" r="4.6" fill="#FEDFAA"/><circle cx="349.8" cy="436.2" r="4.7" fill="#FBC36A"/><circle cx="247.8" cy="483.8" r="4.1" fill="#FBC46A"/><circle cx="196.1" cy="429.4" r="4.4" fill="#FEDFAA"/><circle cx="294.9" cy="488" r="4.5" fill="#FEE3B4"/><circle cx="287.4" cy="485" r="4.2" fill="#FBC36A"/><circle cx="304.7" cy="470.6" r="4.5" fill="#FEE3B4"/><circle cx="286.3" cy="470.6" r="4.2" fill="#FEE3B4"/><circle cx="180.3" cy="469.4" r="4.3" fill="#FEDFAA"/><circle cx="272.4" cy="480.9" r="4.3" fill="#FBC46A"/><circle cx="345.9" cy="455.5" r="4.8" fill="#FBC46A"/><circle cx="324.4" cy="443.4" r="4.7" fill="#FEDFAA"/><circle cx="316.3" cy="468.9" r="4.5" fill="#FEDFAA"/><circle cx="383.3" cy="438.4" r="4.6" fill="#FBC36A"/><circle cx="79.3" cy="474.9" r="4.5" fill="#FBC36A"/><circle cx="194" cy="462.4" r="4.2" fill="#FBC36A"/><circle cx="47.1" cy="450" r="4.7" fill="#FDD596"/><circle cx="275.9" cy="429.8" r="4.7" fill="#FEE3B4"/><circle cx="45.7" cy="431.3" r="4.7" fill="#FEDFAA"/><circle cx="236.5" cy="439.1" r="4.4" fill="#FEDFAA"/><circle cx="152.4" cy="448.2" r="4.2" fill="#FBC46A"/><circle cx="176.9" cy="436.9" r="4.2" fill="#FDD596"/><circle cx="178.8" cy="442.4" r="4.4" fill="#FEDFAA"/><circle cx="290.5" cy="486.3" r="4.5" fill="#FEE3B4"/><circle cx="364.5" cy="420.3" r="4.6" fill="#FBC36A"/><circle cx="140.5" cy="476" r="4.6" fill="#FBC46A"/><circle cx="281.9" cy="429.2" r="4.6" fill="#FBC36A"/><circle cx="74.1" cy="426" r="4.4" fill="#FBC46A"/><circle cx="266.6" cy="458.8" r="4.6" fill="#FEDFAA"/><circle cx="322.3" cy="485.3" r="4.2" fill="#FDD596"/><circle cx="298.9" cy="441.8" r="4.8" fill="#FEDFAA"/><circle cx="56.5" cy="477.2" r="4.4" fill="#FBC36A"/><circle cx="273.3" cy="440.3" r="4.5" fill="#FEE3B4"/><circle cx="152.3" cy="453.9" r="4.3" fill="#FBC46A"/><circle cx="274.5" cy="426.7" r="4.3" fill="#FDD596"/><circle cx="90.1" cy="465.6" r="4.6" fill="#FEDFAA"/><circle cx="55.8" cy="465.6" r="4.6" fill="#FEE3B4"/><circle cx="173.1" cy="462.3" r="4.5" fill="#FDD596"/><circle cx="52.4" cy="427" r="4.6" fill="#FBC36A"/><circle cx="89.3" cy="452" r="4.1" fill="#FEDFAA"/><circle cx="138.4" cy="479.5" r="4.2" fill="#FDD596"/><circle cx="347.5" cy="420.2" r="4.6" fill="#FEDFAA"/><circle cx="379.6" cy="413.9" r="4.5" fill="#FEE3B4"/><circle cx="288.7" cy="430.6" r="4.7" fill="#FEDFAA"/><circle cx="243.8" cy="466.6" r="4.5" fill="#FEDFAA"/><circle cx="69.3" cy="446.3" r="4.7" fill="#FEE3B4"/><circle cx="307.5" cy="418.7" r="4.7" fill="#FBC46A"/><circle cx="172" cy="464.2" r="4.7" fill="#FDD596"/><circle cx="51.1" cy="421.8" r="4.2" fill="#FEDFAA"/><circle cx="154.5" cy="457.8" r="4.7" fill="#FEE3B4"/><circle cx="270.1" cy="465.4" r="4.5" fill="#FEDFAA"/></g>
<g stroke="#000" stroke-width="0.6"><circle cx="238.1" cy="661.6" r="4.7" fill="#2CC8EE"/><circle cx="99.8" cy="668.9" r="4.5" fill="#8FE6FA"/><circle cx="238.9" cy="697.3" r="4.9" fill="#8FE6FA"/><circle cx="82.5" cy="712.9" r="4.5" fill="#2CC8EE"/><circle cx="269.4" cy="687" r="4.7" fill="#86E2F8"/><circle cx="376.7" cy="655.9" r="4.8" fill="#36D3F5"/><circle cx="121" cy="677.4" r="4.9" fill="#8FE6FA"/><circle cx="44.3" cy="716.1" r="4.9" fill="#36D3F5"/><circle cx="169.2" cy="654.5" r="4.9" fill="#86E2F8"/><circle cx="96.8" cy="717.9" r="4.7" fill="#33D0F3"/><circle cx="252.6" cy="669.4" r="4.6" fill="#33D0F3"/><circle cx="381.8" cy="675.9" r="4.6" fill="#36D3F5"/><circle cx="211.1" cy="704.9" r="4.9" fill="#86E2F8"/><circle cx="73.2" cy="721.3" r="5" fill="#36D3F5"/><circle cx="362.4" cy="676.3" r="4.7" fill="#33D0F3"/><circle cx="328.5" cy="701.5" r="4.4" fill="#86E2F8"/><circle cx="169" cy="689.6" r="4.6" fill="#2CC8EE"/><circle cx="247" cy="719.3" r="4.5" fill="#9AEAFB"/><circle cx="416.8" cy="703.9" r="4.8" fill="#8FE6FA"/><circle cx="317.7" cy="700.8" r="4.9" fill="#36D3F5"/><circle cx="258.6" cy="688.8" r="5" fill="#2CC8EE"/><circle cx="123.9" cy="660" r="4.5" fill="#8FE6FA"/><circle cx="232.7" cy="651" r="4.8" fill="#86E2F8"/><circle cx="403.6" cy="702.9" r="4.6" fill="#8FE6FA"/><circle cx="395.4" cy="669.4" r="4.5" fill="#8FE6FA"/><circle cx="389.8" cy="708.9" r="5" fill="#8FE6FA"/><circle cx="128.7" cy="650.7" r="4.6" fill="#2CC8EE"/><circle cx="257.8" cy="715.3" r="4.6" fill="#9AEAFB"/><circle cx="180.2" cy="676.1" r="4.4" fill="#86E2F8"/><circle cx="166" cy="656.5" r="4.5" fill="#2CC8EE"/><circle cx="366.8" cy="723.4" r="4.7" fill="#8FE6FA"/><circle cx="173" cy="713.6" r="4.7" fill="#2CC8EE"/><circle cx="343.6" cy="726.6" r="5" fill="#2CC8EE"/><circle cx="245.1" cy="679" r="4.9" fill="#2CC8EE"/><circle cx="262.3" cy="700.7" r="4.9" fill="#9AEAFB"/><circle cx="125.4" cy="687.3" r="4.5" fill="#8FE6FA"/><circle cx="176.3" cy="713.8" r="5" fill="#86E2F8"/><circle cx="173.8" cy="689.3" r="4.6" fill="#36D3F5"/><circle cx="258.3" cy="688.5" r="4.5" fill="#33D0F3"/><circle cx="180.6" cy="711.4" r="4.7" fill="#8FE6FA"/><circle cx="387.7" cy="687.1" r="4.8" fill="#8FE6FA"/><circle cx="209" cy="711.1" r="4.6" fill="#9AEAFB"/><circle cx="278.4" cy="713.7" r="4.9" fill="#36D3F5"/><circle cx="208.5" cy="697.3" r="4.7" fill="#8FE6FA"/><circle cx="272.5" cy="677.7" r="4.5" fill="#9AEAFB"/><circle cx="129.3" cy="699.9" r="4.5" fill="#8FE6FA"/><circle cx="75.3" cy="664.9" r="4.9" fill="#2CC8EE"/><circle cx="120.5" cy="730" r="4.8" fill="#2CC8EE"/><circle cx="279.5" cy="699.2" r="4.6" fill="#33D0F3"/><circle cx="353.5" cy="684.7" r="4.6" fill="#8FE6FA"/><circle cx="348.7" cy="659.8" r="4.9" fill="#2CC8EE"/><circle cx="278.5" cy="670.4" r="4.6" fill="#8FE6FA"/><circle cx="225.5" cy="690.2" r="4.5" fill="#86E2F8"/><circle cx="379.7" cy="694.8" r="4.6" fill="#86E2F8"/><circle cx="415.4" cy="695.2" r="4.4" fill="#8FE6FA"/><circle cx="413.5" cy="674.9" r="4.9" fill="#8FE6FA"/><circle cx="100.3" cy="676.1" r="4.6" fill="#8FE6FA"/><circle cx="387.8" cy="656.9" r="4.6" fill="#2CC8EE"/><circle cx="264.6" cy="689" r="5" fill="#9AEAFB"/><circle cx="111.6" cy="726.6" r="4.9" fill="#86E2F8"/><circle cx="87.6" cy="701.2" r="4.6" fill="#33D0F3"/><circle cx="150" cy="723.2" r="4.8" fill="#33D0F3"/><circle cx="397.9" cy="713.2" r="4.6" fill="#36D3F5"/><circle cx="116.8" cy="730.1" r="4.7" fill="#8FE6FA"/><circle cx="111.5" cy="681" r="4.6" fill="#86E2F8"/><circle cx="381.5" cy="683.2" r="4.5" fill="#36D3F5"/><circle cx="173.8" cy="687" r="4.4" fill="#36D3F5"/><circle cx="252.1" cy="726.1" r="4.8" fill="#9AEAFB"/><circle cx="215.4" cy="674.3" r="4.7" fill="#8FE6FA"/><circle cx="113.8" cy="659" r="4.6" fill="#33D0F3"/><circle cx="318.8" cy="723.8" r="4.7" fill="#2CC8EE"/><circle cx="225.2" cy="708.5" r="4.5" fill="#9AEAFB"/><circle cx="279.5" cy="713.4" r="4.4" fill="#8FE6FA"/><circle cx="344.2" cy="717.8" r="4.8" fill="#8FE6FA"/><circle cx="268.8" cy="717.2" r="4.8" fill="#33D0F3"/><circle cx="139.1" cy="661.7" r="4.7" fill="#8FE6FA"/><circle cx="359.2" cy="681.2" r="4.8" fill="#86E2F8"/><circle cx="340" cy="708.6" r="4.5" fill="#8FE6FA"/><circle cx="427.2" cy="689.3" r="4.9" fill="#36D3F5"/><circle cx="302.4" cy="730.7" r="4.6" fill="#8FE6FA"/><circle cx="74.2" cy="727.7" r="4.8" fill="#8FE6FA"/><circle cx="118.3" cy="662.7" r="4.8" fill="#9AEAFB"/><circle cx="117.7" cy="653.7" r="4.5" fill="#36D3F5"/><circle cx="389.6" cy="684" r="4.8" fill="#86E2F8"/><circle cx="289.5" cy="709.5" r="4.4" fill="#36D3F5"/><circle cx="295.6" cy="691.3" r="4.8" fill="#8FE6FA"/><circle cx="239.6" cy="674.2" r="4.6" fill="#33D0F3"/><circle cx="374" cy="688.5" r="4.6" fill="#33D0F3"/><circle cx="292.1" cy="662.6" r="4.5" fill="#2CC8EE"/><circle cx="365.4" cy="700.1" r="4.7" fill="#33D0F3"/><circle cx="373.1" cy="687.8" r="5" fill="#8FE6FA"/><circle cx="104.7" cy="664.5" r="4.7" fill="#8FE6FA"/><circle cx="50.6" cy="724.1" r="4.8" fill="#8FE6FA"/><circle cx="112.9" cy="666.6" r="5" fill="#2CC8EE"/><circle cx="85.5" cy="700.7" r="4.7" fill="#2CC8EE"/><circle cx="83.7" cy="725.1" r="4.9" fill="#9AEAFB"/><circle cx="317" cy="657.5" r="4.8" fill="#86E2F8"/><circle cx="314.3" cy="660.9" r="4.7" fill="#36D3F5"/><circle cx="100.3" cy="729.3" r="4.6" fill="#33D0F3"/><circle cx="75.7" cy="679.9" r="4.9" fill="#9AEAFB"/><circle cx="230.9" cy="715.4" r="4.6" fill="#8FE6FA"/><circle cx="207.1" cy="673.2" r="4.6" fill="#86E2F8"/><circle cx="171.7" cy="678.8" r="4.7" fill="#86E2F8"/><circle cx="364.2" cy="681.2" r="4.9" fill="#9AEAFB"/><circle cx="391.4" cy="712.3" r="4.6" fill="#86E2F8"/><circle cx="156.5" cy="673.3" r="4.6" fill="#2CC8EE"/><circle cx="179" cy="648" r="4.5" fill="#9AEAFB"/><circle cx="352.9" cy="676.2" r="4.5" fill="#8FE6FA"/><circle cx="364.9" cy="705.9" r="4.8" fill="#36D3F5"/><circle cx="347.8" cy="694.5" r="4.7" fill="#33D0F3"/><circle cx="131.5" cy="698.7" r="4.5" fill="#86E2F8"/><circle cx="128.2" cy="728.7" r="4.9" fill="#2CC8EE"/><circle cx="269.5" cy="676.3" r="4.8" fill="#86E2F8"/><circle cx="104.2" cy="671.9" r="4.6" fill="#9AEAFB"/><circle cx="80.4" cy="727.4" r="4.6" fill="#36D3F5"/><circle cx="140.4" cy="690.6" r="4.9" fill="#8FE6FA"/><circle cx="361.7" cy="729.7" r="4.9" fill="#8FE6FA"/><circle cx="293.2" cy="677.3" r="4.5" fill="#86E2F8"/><circle cx="282.4" cy="717.3" r="4.6" fill="#33D0F3"/><circle cx="394.5" cy="688.1" r="4.9" fill="#36D3F5"/><circle cx="332.2" cy="705.8" r="4.8" fill="#8FE6FA"/><circle cx="345.1" cy="713.6" r="4.9" fill="#2CC8EE"/><circle cx="188.6" cy="687.5" r="4.5" fill="#86E2F8"/><circle cx="71.5" cy="711.2" r="4.9" fill="#8FE6FA"/><circle cx="364.2" cy="657.8" r="4.5" fill="#2CC8EE"/><circle cx="328.7" cy="704" r="4.6" fill="#9AEAFB"/><circle cx="295.5" cy="720.8" r="4.6" fill="#33D0F3"/><circle cx="119.4" cy="674.6" r="4.7" fill="#33D0F3"/><circle cx="207.6" cy="666.5" r="4.4" fill="#86E2F8"/><circle cx="136.5" cy="664" r="4.4" fill="#9AEAFB"/><circle cx="205.2" cy="669.8" r="4.9" fill="#2CC8EE"/><circle cx="265.3" cy="731.4" r="4.6" fill="#33D0F3"/><circle cx="348.1" cy="686.5" r="4.7" fill="#9AEAFB"/><circle cx="280.5" cy="722.3" r="4.4" fill="#33D0F3"/><circle cx="222.1" cy="663.1" r="4.9" fill="#8FE6FA"/><circle cx="397.1" cy="679" r="4.4" fill="#9AEAFB"/><circle cx="246.7" cy="679.5" r="4.8" fill="#2CC8EE"/><circle cx="426" cy="687" r="4.5" fill="#86E2F8"/><circle cx="49.3" cy="727.4" r="4.5" fill="#86E2F8"/><circle cx="393.6" cy="683.8" r="4.7" fill="#9AEAFB"/><circle cx="204.3" cy="711.2" r="5" fill="#2CC8EE"/><circle cx="162.2" cy="712.1" r="4.9" fill="#36D3F5"/><circle cx="165.4" cy="684" r="4.6" fill="#8FE6FA"/><circle cx="415.6" cy="659.6" r="4.5" fill="#36D3F5"/><circle cx="165.8" cy="662.1" r="4.9" fill="#36D3F5"/><circle cx="161.3" cy="672.8" r="4.8" fill="#8FE6FA"/><circle cx="178.5" cy="657.2" r="5" fill="#2CC8EE"/><circle cx="355.4" cy="678.1" r="4.5" fill="#33D0F3"/><circle cx="360.1" cy="713.7" r="4.4" fill="#8FE6FA"/><circle cx="182.7" cy="710.3" r="4.4" fill="#8FE6FA"/><circle cx="65.2" cy="701.5" r="4.8" fill="#33D0F3"/><circle cx="154" cy="690.8" r="4.8" fill="#86E2F8"/><circle cx="405.2" cy="686.9" r="4.6" fill="#8FE6FA"/><circle cx="411.8" cy="668.5" r="4.4" fill="#36D3F5"/><circle cx="322.6" cy="731" r="4.6" fill="#33D0F3"/><circle cx="280.1" cy="705.5" r="4.7" fill="#9AEAFB"/><circle cx="204.8" cy="729.3" r="4.5" fill="#9AEAFB"/><circle cx="91.9" cy="729.7" r="4.5" fill="#36D3F5"/><circle cx="409.4" cy="680.2" r="4.8" fill="#86E2F8"/><circle cx="365.8" cy="689.2" r="5" fill="#36D3F5"/><circle cx="244.5" cy="691.2" r="4.7" fill="#2CC8EE"/><circle cx="179.6" cy="703.1" r="4.5" fill="#36D3F5"/><circle cx="282.6" cy="678.4" r="4.6" fill="#86E2F8"/><circle cx="415.8" cy="703.3" r="4.6" fill="#8FE6FA"/><circle cx="281.3" cy="691.3" r="4.6" fill="#8FE6FA"/><circle cx="106.9" cy="715.8" r="4.6" fill="#9AEAFB"/><circle cx="82.7" cy="715.2" r="4.8" fill="#36D3F5"/><circle cx="285.8" cy="702.1" r="4.8" fill="#33D0F3"/><circle cx="333.2" cy="657.5" r="4.6" fill="#8FE6FA"/><circle cx="385.6" cy="719" r="4.8" fill="#86E2F8"/><circle cx="215.3" cy="716.8" r="4.6" fill="#36D3F5"/><circle cx="223.2" cy="706.8" r="4.7" fill="#33D0F3"/><circle cx="333.6" cy="649.9" r="4.8" fill="#8FE6FA"/><circle cx="196.5" cy="714.4" r="4.9" fill="#33D0F3"/><circle cx="291.8" cy="728.3" r="4.6" fill="#2CC8EE"/><circle cx="73.6" cy="674.4" r="4.6" fill="#33D0F3"/><circle cx="394.8" cy="710.8" r="4.9" fill="#36D3F5"/><circle cx="378.4" cy="721.1" r="4.7" fill="#33D0F3"/><circle cx="227.9" cy="705.7" r="4.9" fill="#33D0F3"/><circle cx="308.4" cy="682.6" r="4.5" fill="#9AEAFB"/><circle cx="237.2" cy="655.6" r="4.8" fill="#86E2F8"/><circle cx="191.2" cy="694.8" r="4.6" fill="#86E2F8"/><circle cx="332.4" cy="648.2" r="4.5" fill="#8FE6FA"/><circle cx="304.5" cy="704.2" r="5" fill="#9AEAFB"/><circle cx="172.9" cy="662.1" r="4.5" fill="#8FE6FA"/><circle cx="306.7" cy="695.5" r="4.7" fill="#33D0F3"/><circle cx="181.9" cy="650.5" r="4.6" fill="#8FE6FA"/><circle cx="213.9" cy="721.1" r="4.8" fill="#8FE6FA"/><circle cx="140.1" cy="725.1" r="4.9" fill="#2CC8EE"/><circle cx="368.3" cy="665.6" r="4.8" fill="#86E2F8"/><circle cx="288.6" cy="702" r="5" fill="#8FE6FA"/><circle cx="206.5" cy="681.7" r="4.7" fill="#36D3F5"/><circle cx="184.1" cy="716.7" r="4.8" fill="#9AEAFB"/><circle cx="404.3" cy="694.5" r="4.7" fill="#8FE6FA"/><circle cx="167.8" cy="689.4" r="4.9" fill="#8FE6FA"/><circle cx="191.2" cy="655.7" r="4.6" fill="#8FE6FA"/><circle cx="393.9" cy="675.4" r="4.9" fill="#8FE6FA"/><circle cx="328.2" cy="709.4" r="4.5" fill="#33D0F3"/><circle cx="167.3" cy="651" r="4.7" fill="#86E2F8"/><circle cx="356.4" cy="686.4" r="4.8" fill="#86E2F8"/><circle cx="327.5" cy="696.2" r="4.9" fill="#86E2F8"/><circle cx="361.9" cy="654.8" r="4.8" fill="#8FE6FA"/><circle cx="170.4" cy="668.5" r="4.7" fill="#9AEAFB"/><circle cx="187.1" cy="719.4" r="4.8" fill="#8FE6FA"/><circle cx="300.6" cy="665" r="4.8" fill="#2CC8EE"/><circle cx="313.7" cy="702.7" r="4.9" fill="#8FE6FA"/><circle cx="45.1" cy="727.1" r="4.6" fill="#36D3F5"/><circle cx="318.2" cy="688.9" r="4.4" fill="#36D3F5"/><circle cx="71.9" cy="702" r="4.6" fill="#9AEAFB"/><circle cx="362" cy="725" r="4.8" fill="#86E2F8"/><circle cx="196.8" cy="670.2" r="4.8" fill="#8FE6FA"/><circle cx="93" cy="707.6" r="4.5" fill="#9AEAFB"/><circle cx="184.4" cy="698.1" r="4.6" fill="#33D0F3"/><circle cx="93.1" cy="686" r="4.8" fill="#86E2F8"/><circle cx="395.3" cy="701.7" r="4.4" fill="#33D0F3"/><circle cx="271.7" cy="720.7" r="5" fill="#8FE6FA"/><circle cx="287.6" cy="669.5" r="4.7" fill="#36D3F5"/><circle cx="224.7" cy="673.6" r="4.9" fill="#2CC8EE"/><circle cx="60.3" cy="707.4" r="4.7" fill="#9AEAFB"/><circle cx="421.4" cy="657.8" r="4.8" fill="#2CC8EE"/><circle cx="208.5" cy="689.6" r="4.6" fill="#33D0F3"/><circle cx="288.1" cy="676.3" r="4.5" fill="#86E2F8"/><circle cx="166.9" cy="680.2" r="4.9" fill="#8FE6FA"/><circle cx="396.4" cy="721.7" r="4.9" fill="#8FE6FA"/><circle cx="415.4" cy="720" r="4.8" fill="#9AEAFB"/><circle cx="281.2" cy="658.7" r="4.9" fill="#36D3F5"/><circle cx="379.7" cy="718.7" r="4.5" fill="#9AEAFB"/><circle cx="323" cy="677.1" r="4.7" fill="#2CC8EE"/><circle cx="263.3" cy="716" r="4.6" fill="#33D0F3"/><circle cx="364.4" cy="654.6" r="4.9" fill="#8FE6FA"/><circle cx="269.1" cy="661.3" r="4.7" fill="#2CC8EE"/><circle cx="366.3" cy="721.2" r="4.5" fill="#2CC8EE"/><circle cx="377.9" cy="654.9" r="4.9" fill="#36D3F5"/><circle cx="177.1" cy="658.9" r="4.6" fill="#86E2F8"/><circle cx="309.6" cy="648.9" r="4.7" fill="#8FE6FA"/><circle cx="348" cy="717.7" r="4.4" fill="#2CC8EE"/><circle cx="366.1" cy="681.4" r="4.6" fill="#9AEAFB"/><circle cx="200" cy="706.4" r="5" fill="#9AEAFB"/><circle cx="269.9" cy="661.6" r="4.9" fill="#2CC8EE"/><circle cx="260.3" cy="649.1" r="4.7" fill="#36D3F5"/><circle cx="228.1" cy="719" r="4.9" fill="#9AEAFB"/><circle cx="44.1" cy="725.6" r="4.8" fill="#8FE6FA"/><circle cx="264.9" cy="728.5" r="4.6" fill="#8FE6FA"/><circle cx="85.8" cy="699.1" r="4.8" fill="#8FE6FA"/><circle cx="233.8" cy="691.9" r="4.5" fill="#33D0F3"/><circle cx="405.1" cy="697.7" r="4.8" fill="#2CC8EE"/><circle cx="192" cy="669.7" r="5" fill="#8FE6FA"/><circle cx="386.2" cy="678.5" r="4.7" fill="#8FE6FA"/><circle cx="190.2" cy="711.5" r="4.6" fill="#9AEAFB"/><circle cx="87.6" cy="681.4" r="4.7" fill="#2CC8EE"/><circle cx="127" cy="684.7" r="4.4" fill="#33D0F3"/><circle cx="214.8" cy="683.9" r="4.6" fill="#8FE6FA"/><circle cx="124.5" cy="659.3" r="4.9" fill="#2CC8EE"/><circle cx="132.2" cy="698" r="4.6" fill="#8FE6FA"/><circle cx="206.8" cy="724.5" r="4.8" fill="#2CC8EE"/><circle cx="356.6" cy="688.8" r="4.7" fill="#8FE6FA"/><circle cx="335.6" cy="725.2" r="4.5" fill="#2CC8EE"/><circle cx="270.5" cy="725.3" r="4.4" fill="#9AEAFB"/><circle cx="221.3" cy="711.7" r="4.7" fill="#9AEAFB"/><circle cx="184" cy="724.9" r="4.8" fill="#2CC8EE"/><circle cx="144.6" cy="702" r="5" fill="#36D3F5"/><circle cx="172.7" cy="723.4" r="4.5" fill="#9AEAFB"/><circle cx="135" cy="727" r="4.4" fill="#8FE6FA"/><circle cx="52.8" cy="725.2" r="4.9" fill="#8FE6FA"/><circle cx="402.6" cy="658.4" r="4.6" fill="#8FE6FA"/><circle cx="148.5" cy="655.8" r="4.8" fill="#36D3F5"/><circle cx="148.2" cy="706.3" r="4.6" fill="#8FE6FA"/><circle cx="378.8" cy="719.3" r="4.5" fill="#2CC8EE"/><circle cx="326.9" cy="698.3" r="4.5" fill="#2CC8EE"/><circle cx="366.8" cy="652.4" r="5" fill="#9AEAFB"/><circle cx="399" cy="670.6" r="4.6" fill="#8FE6FA"/><circle cx="123.1" cy="661.8" r="4.9" fill="#36D3F5"/><circle cx="235.4" cy="713.7" r="4.6" fill="#36D3F5"/><circle cx="312.2" cy="709.3" r="4.5" fill="#86E2F8"/><circle cx="412.6" cy="687.1" r="4.7" fill="#8FE6FA"/><circle cx="363.3" cy="697.5" r="4.4" fill="#2CC8EE"/><circle cx="263.6" cy="649.8" r="4.5" fill="#2CC8EE"/><circle cx="245.9" cy="687.5" r="4.6" fill="#33D0F3"/><circle cx="257.3" cy="696.9" r="4.4" fill="#33D0F3"/><circle cx="320.7" cy="726.2" r="5" fill="#33D0F3"/><circle cx="272.5" cy="650.1" r="4.6" fill="#8FE6FA"/><circle cx="241.7" cy="723.4" r="4.8" fill="#2CC8EE"/><circle cx="264.5" cy="715.1" r="4.6" fill="#2CC8EE"/><circle cx="393.7" cy="723.7" r="4.8" fill="#86E2F8"/><circle cx="287.7" cy="708.5" r="4.9" fill="#2CC8EE"/><circle cx="246.1" cy="726.5" r="4.8" fill="#9AEAFB"/><circle cx="326.6" cy="708.8" r="5" fill="#8FE6FA"/><circle cx="412.7" cy="684.2" r="5" fill="#36D3F5"/><circle cx="361.6" cy="703.1" r="4.9" fill="#2CC8EE"/><circle cx="362.3" cy="700.4" r="4.4" fill="#36D3F5"/><circle cx="78.2" cy="656.2" r="4.8" fill="#2CC8EE"/><circle cx="386.8" cy="705" r="4.9" fill="#9AEAFB"/><circle cx="258.4" cy="689.4" r="5" fill="#2CC8EE"/><circle cx="186.6" cy="652.5" r="4.7" fill="#8FE6FA"/><circle cx="220.6" cy="682" r="4.7" fill="#9AEAFB"/><circle cx="168.4" cy="688.4" r="4.5" fill="#2CC8EE"/><circle cx="100.9" cy="726.6" r="4.4" fill="#9AEAFB"/><circle cx="94.2" cy="708" r="4.6" fill="#9AEAFB"/><circle cx="103.8" cy="697.7" r="4.4" fill="#36D3F5"/><circle cx="404.6" cy="663.4" r="4.8" fill="#36D3F5"/><circle cx="69.3" cy="681.4" r="4.9" fill="#86E2F8"/><circle cx="348.8" cy="657.9" r="5" fill="#8FE6FA"/><circle cx="175.5" cy="672.9" r="4.6" fill="#33D0F3"/><circle cx="222.2" cy="687.6" r="4.6" fill="#86E2F8"/><circle cx="126.5" cy="657.9" r="4.9" fill="#2CC8EE"/><circle cx="391.4" cy="697.9" r="4.5" fill="#36D3F5"/><circle cx="341.6" cy="667.5" r="4.8" fill="#36D3F5"/><circle cx="65.7" cy="674" r="4.6" fill="#8FE6FA"/><circle cx="212" cy="688.7" r="4.9" fill="#33D0F3"/><circle cx="170.9" cy="682" r="4.5" fill="#9AEAFB"/><circle cx="331.9" cy="651.6" r="4.9" fill="#2CC8EE"/><circle cx="409.7" cy="701" r="4.6" fill="#9AEAFB"/><circle cx="84" cy="669" r="4.8" fill="#8FE6FA"/><circle cx="115.2" cy="676.5" r="4.8" fill="#33D0F3"/><circle cx="345.4" cy="714.3" r="4.5" fill="#8FE6FA"/><circle cx="91" cy="721.2" r="4.9" fill="#8FE6FA"/><circle cx="48" cy="718" r="4.5" fill="#86E2F8"/><circle cx="400.4" cy="662" r="4.6" fill="#86E2F8"/><circle cx="234.3" cy="656.1" r="4.4" fill="#9AEAFB"/><circle cx="319.5" cy="678.2" r="4.9" fill="#2CC8EE"/><circle cx="116.6" cy="731.9" r="4.7" fill="#33D0F3"/><circle cx="120" cy="705.8" r="4.9" fill="#8FE6FA"/><circle cx="406.4" cy="675.5" r="5" fill="#8FE6FA"/><circle cx="296.8" cy="672.2" r="4.6" fill="#8FE6FA"/><circle cx="339.2" cy="705.6" r="4.9" fill="#8FE6FA"/><circle cx="121.6" cy="725.3" r="4.7" fill="#2CC8EE"/><circle cx="286" cy="674.2" r="4.8" fill="#9AEAFB"/><circle cx="401.7" cy="714.1" r="5" fill="#8FE6FA"/><circle cx="182.7" cy="684.5" r="4.6" fill="#2CC8EE"/><circle cx="356.5" cy="650.1" r="4.5" fill="#8FE6FA"/><circle cx="197.8" cy="708.1" r="4.7" fill="#86E2F8"/><circle cx="264.3" cy="725.2" r="4.4" fill="#2CC8EE"/><circle cx="388.9" cy="716.6" r="4.6" fill="#33D0F3"/><circle cx="262.6" cy="663.5" r="5" fill="#86E2F8"/><circle cx="88.1" cy="660.4" r="5" fill="#8FE6FA"/><circle cx="386" cy="689.5" r="4.7" fill="#8FE6FA"/><circle cx="328.9" cy="711.8" r="4.5" fill="#8FE6FA"/><circle cx="385.3" cy="728.7" r="4.9" fill="#36D3F5"/><circle cx="184.5" cy="729.9" r="4.8" fill="#8FE6FA"/><circle cx="142.8" cy="716" r="4.9" fill="#33D0F3"/><circle cx="263.1" cy="652.2" r="4.6" fill="#9AEAFB"/><circle cx="103.2" cy="728.4" r="4.9" fill="#9AEAFB"/><circle cx="79" cy="680.4" r="4.6" fill="#36D3F5"/><circle cx="326.3" cy="666.4" r="5" fill="#8FE6FA"/><circle cx="393.7" cy="698.7" r="5" fill="#9AEAFB"/><circle cx="118.4" cy="658.8" r="4.5" fill="#36D3F5"/><circle cx="296.8" cy="676.3" r="4.5" fill="#8FE6FA"/><circle cx="216.7" cy="688.4" r="4.6" fill="#86E2F8"/><circle cx="333.8" cy="655.3" r="4.5" fill="#9AEAFB"/><circle cx="338.9" cy="684" r="4.7" fill="#33D0F3"/><circle cx="53.7" cy="719.9" r="4.5" fill="#33D0F3"/><circle cx="101.8" cy="715.1" r="4.6" fill="#9AEAFB"/><circle cx="177.7" cy="670.7" r="4.6" fill="#8FE6FA"/><circle cx="237.1" cy="657.2" r="4.5" fill="#36D3F5"/><circle cx="376.2" cy="726.6" r="4.5" fill="#8FE6FA"/><circle cx="372" cy="698.6" r="5" fill="#9AEAFB"/><circle cx="152.2" cy="726.7" r="5" fill="#2CC8EE"/><circle cx="128.1" cy="687" r="4.7" fill="#8FE6FA"/><circle cx="155.9" cy="675.7" r="4.5" fill="#8FE6FA"/><circle cx="183.8" cy="685.7" r="4.4" fill="#8FE6FA"/><circle cx="348.7" cy="676.6" r="4.5" fill="#8FE6FA"/><circle cx="346.3" cy="707.8" r="4.9" fill="#36D3F5"/><circle cx="327.7" cy="704.9" r="4.6" fill="#36D3F5"/><circle cx="178.2" cy="715.8" r="4.7" fill="#36D3F5"/><circle cx="50.8" cy="716.5" r="4.6" fill="#33D0F3"/><circle cx="354.1" cy="690.8" r="4.6" fill="#33D0F3"/><circle cx="187.3" cy="656.8" r="4.7" fill="#36D3F5"/><circle cx="257.6" cy="725.7" r="4.9" fill="#8FE6FA"/><circle cx="335.9" cy="691.8" r="4.8" fill="#33D0F3"/><circle cx="211.7" cy="666.6" r="4.7" fill="#2CC8EE"/><circle cx="63.4" cy="716.7" r="4.4" fill="#8FE6FA"/><circle cx="135.5" cy="676.9" r="4.9" fill="#8FE6FA"/><circle cx="74.6" cy="680.4" r="4.8" fill="#2CC8EE"/><circle cx="278.6" cy="648.5" r="4.8" fill="#8FE6FA"/><circle cx="391.5" cy="659.7" r="4.4" fill="#9AEAFB"/><circle cx="243" cy="681" r="5" fill="#2CC8EE"/><circle cx="69.7" cy="686.7" r="4.9" fill="#2CC8EE"/><circle cx="317.3" cy="681" r="4.8" fill="#8FE6FA"/><circle cx="302.4" cy="651.4" r="4.5" fill="#2CC8EE"/><circle cx="255.8" cy="681.6" r="4.8" fill="#86E2F8"/><circle cx="254.3" cy="706.4" r="4.5" fill="#36D3F5"/><circle cx="305.5" cy="686.8" r="4.7" fill="#2CC8EE"/><circle cx="101.2" cy="707.3" r="4.8" fill="#8FE6FA"/><circle cx="352.5" cy="674.4" r="4.9" fill="#9AEAFB"/><circle cx="267" cy="665.5" r="4.4" fill="#86E2F8"/><circle cx="264.7" cy="705.1" r="4.7" fill="#9AEAFB"/><circle cx="267" cy="658.6" r="4.8" fill="#2CC8EE"/><circle cx="254.8" cy="670.5" r="4.7" fill="#33D0F3"/><circle cx="136.5" cy="648.5" r="4.7" fill="#86E2F8"/><circle cx="118.1" cy="705.1" r="4.9" fill="#36D3F5"/><circle cx="190.1" cy="654.6" r="4.5" fill="#33D0F3"/><circle cx="394.9" cy="701.2" r="4.8" fill="#8FE6FA"/><circle cx="381.9" cy="716.6" r="4.9" fill="#33D0F3"/><circle cx="67.6" cy="700" r="4.5" fill="#8FE6FA"/><circle cx="410.5" cy="706.3" r="5" fill="#86E2F8"/><circle cx="342.9" cy="708.9" r="5" fill="#9AEAFB"/><circle cx="347.1" cy="652.7" r="4.8" fill="#9AEAFB"/><circle cx="88.4" cy="667.6" r="4.8" fill="#86E2F8"/><circle cx="87.5" cy="720.5" r="4.4" fill="#8FE6FA"/><circle cx="261" cy="692.2" r="4.8" fill="#33D0F3"/><circle cx="85.6" cy="688.6" r="4.7" fill="#8FE6FA"/><circle cx="308.2" cy="664.3" r="4.5" fill="#8FE6FA"/><circle cx="299.3" cy="721.9" r="4.7" fill="#36D3F5"/><circle cx="265" cy="663.9" r="4.7" fill="#33D0F3"/><circle cx="212.5" cy="717.9" r="5" fill="#86E2F8"/><circle cx="367.4" cy="704.1" r="4.6" fill="#9AEAFB"/><circle cx="328.6" cy="655.5" r="4.8" fill="#33D0F3"/><circle cx="342.3" cy="706.5" r="4.5" fill="#8FE6FA"/><circle cx="73.8" cy="721" r="4.9" fill="#2CC8EE"/><circle cx="402.6" cy="704.1" r="4.9" fill="#36D3F5"/><circle cx="268.7" cy="690.5" r="4.9" fill="#33D0F3"/><circle cx="194.5" cy="656" r="4.6" fill="#2CC8EE"/><circle cx="394.1" cy="694" r="4.5" fill="#9AEAFB"/><circle cx="273.2" cy="670.2" r="4.7" fill="#86E2F8"/><circle cx="181.2" cy="707.1" r="4.7" fill="#2CC8EE"/><circle cx="226.4" cy="670.9" r="4.5" fill="#36D3F5"/><circle cx="144.4" cy="676.3" r="5" fill="#8FE6FA"/><circle cx="238.8" cy="685.8" r="4.9" fill="#36D3F5"/><circle cx="187.6" cy="696.2" r="4.4" fill="#8FE6FA"/><circle cx="246.4" cy="706.3" r="4.7" fill="#2CC8EE"/><circle cx="129.5" cy="725.1" r="5" fill="#86E2F8"/><circle cx="402.5" cy="672.4" r="4.9" fill="#33D0F3"/><circle cx="49.6" cy="711.6" r="4.8" fill="#2CC8EE"/><circle cx="312.5" cy="724.6" r="4.5" fill="#86E2F8"/><circle cx="369.1" cy="729.5" r="4.8" fill="#2CC8EE"/><circle cx="243.8" cy="691" r="4.5" fill="#9AEAFB"/><circle cx="156.2" cy="676.1" r="4.7" fill="#8FE6FA"/><circle cx="383.1" cy="709.9" r="4.6" fill="#2CC8EE"/><circle cx="273" cy="673.1" r="4.9" fill="#8FE6FA"/><circle cx="241.9" cy="694.4" r="4.6" fill="#8FE6FA"/><circle cx="239.6" cy="719.3" r="4.6" fill="#36D3F5"/><circle cx="222.8" cy="667.4" r="4.6" fill="#86E2F8"/><circle cx="129.9" cy="703.6" r="4.6" fill="#86E2F8"/><circle cx="193.2" cy="677.9" r="4.6" fill="#36D3F5"/><circle cx="305.6" cy="687.2" r="4.7" fill="#36D3F5"/><circle cx="192.8" cy="693.8" r="4.6" fill="#2CC8EE"/><circle cx="261.4" cy="650" r="4.8" fill="#33D0F3"/><circle cx="347.5" cy="653.7" r="4.5" fill="#36D3F5"/><circle cx="377.4" cy="712.3" r="4.8" fill="#8FE6FA"/><circle cx="222.1" cy="731.2" r="4.5" fill="#8FE6FA"/><circle cx="232" cy="671.3" r="4.5" fill="#2CC8EE"/><circle cx="84.1" cy="649.6" r="4.6" fill="#36D3F5"/><circle cx="217.4" cy="728.1" r="4.8" fill="#2CC8EE"/><circle cx="120.2" cy="658.9" r="4.6" fill="#33D0F3"/><circle cx="281.4" cy="674.8" r="4.5" fill="#9AEAFB"/><circle cx="319" cy="661.4" r="4.8" fill="#33D0F3"/><circle cx="402.6" cy="679.8" r="4.8" fill="#8FE6FA"/><circle cx="94.4" cy="649.8" r="4.9" fill="#86E2F8"/><circle cx="148.9" cy="659.2" r="4.6" fill="#33D0F3"/><circle cx="403" cy="701.8" r="4.8" fill="#8FE6FA"/><circle cx="383.6" cy="721.3" r="4.6" fill="#33D0F3"/><circle cx="113.5" cy="709.6" r="4.9" fill="#8FE6FA"/><circle cx="384.9" cy="692.3" r="4.5" fill="#9AEAFB"/><circle cx="190.5" cy="666" r="4.8" fill="#2CC8EE"/><circle cx="83.6" cy="660.8" r="4.5" fill="#33D0F3"/><circle cx="243.3" cy="687.1" r="4.9" fill="#36D3F5"/><circle cx="273.7" cy="705" r="4.4" fill="#8FE6FA"/><circle cx="303.1" cy="654.4" r="4.8" fill="#36D3F5"/><circle cx="132.3" cy="672.6" r="4.8" fill="#9AEAFB"/><circle cx="374" cy="656.2" r="4.8" fill="#8FE6FA"/><circle cx="269.9" cy="728.5" r="4.5" fill="#8FE6FA"/><circle cx="52" cy="727.4" r="4.6" fill="#2CC8EE"/><circle cx="97.6" cy="731.5" r="4.8" fill="#8FE6FA"/><circle cx="402.7" cy="723.5" r="4.5" fill="#2CC8EE"/><circle cx="286.1" cy="662" r="4.7" fill="#9AEAFB"/><circle cx="169.9" cy="720.4" r="4.7" fill="#36D3F5"/><circle cx="113.9" cy="706.8" r="4.5" fill="#36D3F5"/><circle cx="157.2" cy="701.8" r="4.6" fill="#8FE6FA"/><circle cx="134.4" cy="680.7" r="4.7" fill="#33D0F3"/><circle cx="114.8" cy="730.1" r="4.8" fill="#2CC8EE"/><circle cx="289.5" cy="702.8" r="5" fill="#36D3F5"/><circle cx="284.7" cy="700.7" r="4.9" fill="#2CC8EE"/><circle cx="117.6" cy="708.5" r="4.4" fill="#86E2F8"/><circle cx="248.7" cy="690.9" r="4.6" fill="#8FE6FA"/><circle cx="151.1" cy="694.1" r="4.9" fill="#8FE6FA"/><circle cx="355.5" cy="663.3" r="4.7" fill="#86E2F8"/><circle cx="198.5" cy="667.1" r="4.6" fill="#33D0F3"/><circle cx="383.2" cy="663.7" r="4.8" fill="#33D0F3"/><circle cx="108.2" cy="691" r="4.8" fill="#8FE6FA"/><circle cx="68.6" cy="669.9" r="4.6" fill="#86E2F8"/><circle cx="155.6" cy="655.8" r="4.4" fill="#36D3F5"/><circle cx="191.2" cy="729.8" r="4.7" fill="#9AEAFB"/><circle cx="45.9" cy="715.9" r="4.6" fill="#33D0F3"/><circle cx="183.3" cy="681.2" r="4.8" fill="#8FE6FA"/><circle cx="336.5" cy="671.1" r="5" fill="#9AEAFB"/><circle cx="343.8" cy="686" r="4.8" fill="#33D0F3"/><circle cx="147.5" cy="708.4" r="4.5" fill="#8FE6FA"/><circle cx="169.3" cy="701.9" r="4.6" fill="#2CC8EE"/><circle cx="297.6" cy="705.8" r="4.5" fill="#36D3F5"/><circle cx="226.4" cy="649.5" r="4.9" fill="#36D3F5"/><circle cx="81.6" cy="705.4" r="4.6" fill="#86E2F8"/><circle cx="243.6" cy="652.4" r="4.7" fill="#8FE6FA"/><circle cx="137.3" cy="672.9" r="4.9" fill="#9AEAFB"/><circle cx="127.3" cy="715.5" r="4.5" fill="#86E2F8"/><circle cx="215.3" cy="698.1" r="4.9" fill="#9AEAFB"/><circle cx="189.9" cy="661.4" r="4.9" fill="#8FE6FA"/><circle cx="204" cy="667.2" r="4.8" fill="#8FE6FA"/><circle cx="223.7" cy="662.1" r="4.7" fill="#2CC8EE"/><circle cx="422.3" cy="679.6" r="4.7" fill="#2CC8EE"/><circle cx="182.5" cy="707.9" r="4.8" fill="#36D3F5"/><circle cx="115" cy="713.2" r="4.8" fill="#86E2F8"/><circle cx="118.7" cy="685.5" r="4.7" fill="#9AEAFB"/><circle cx="347.2" cy="696.4" r="4.6" fill="#8FE6FA"/><circle cx="385.6" cy="648.7" r="4.4" fill="#8FE6FA"/><circle cx="64.7" cy="687.9" r="4.6" fill="#2CC8EE"/><circle cx="147.5" cy="699.1" r="4.4" fill="#86E2F8"/><circle cx="374.7" cy="685.8" r="4.9" fill="#36D3F5"/><circle cx="81.2" cy="707.6" r="4.6" fill="#2CC8EE"/><circle cx="195.1" cy="695" r="4.9" fill="#9AEAFB"/><circle cx="311.6" cy="702.8" r="4.6" fill="#8FE6FA"/><circle cx="173.7" cy="667.6" r="4.6" fill="#33D0F3"/><circle cx="110.5" cy="709.6" r="4.5" fill="#36D3F5"/><circle cx="181.2" cy="684.1" r="4.6" fill="#9AEAFB"/><circle cx="146.6" cy="700.1" r="4.5" fill="#33D0F3"/><circle cx="69.9" cy="675" r="4.8" fill="#9AEAFB"/><circle cx="151.3" cy="696" r="4.8" fill="#8FE6FA"/><circle cx="372.5" cy="671" r="4.9" fill="#8FE6FA"/><circle cx="152.2" cy="730.8" r="4.8" fill="#86E2F8"/><circle cx="332.6" cy="709.3" r="4.6" fill="#2CC8EE"/><circle cx="317.4" cy="651.3" r="4.5" fill="#86E2F8"/><circle cx="260.7" cy="684.7" r="4.4" fill="#86E2F8"/><circle cx="159.4" cy="672.8" r="4.8" fill="#9AEAFB"/><circle cx="353.6" cy="676.8" r="5" fill="#36D3F5"/><circle cx="89.2" cy="674.5" r="4.8" fill="#36D3F5"/><circle cx="208.1" cy="698.3" r="4.5" fill="#86E2F8"/><circle cx="410.9" cy="658.1" r="4.8" fill="#8FE6FA"/><circle cx="288.7" cy="720" r="4.7" fill="#8FE6FA"/><circle cx="139.2" cy="711.6" r="4.4" fill="#8FE6FA"/><circle cx="105.6" cy="703.5" r="4.4" fill="#36D3F5"/><circle cx="341.5" cy="715.2" r="4.6" fill="#8FE6FA"/><circle cx="318.8" cy="725.1" r="4.4" fill="#8FE6FA"/><circle cx="309.4" cy="711.2" r="5" fill="#9AEAFB"/><circle cx="152.4" cy="724.4" r="4.5" fill="#8FE6FA"/><circle cx="291.8" cy="730.9" r="5" fill="#8FE6FA"/><circle cx="412.7" cy="667.3" r="4.8" fill="#9AEAFB"/><circle cx="322.7" cy="695.9" r="4.8" fill="#33D0F3"/><circle cx="361.3" cy="704.2" r="4.9" fill="#2CC8EE"/><circle cx="304.9" cy="687.3" r="4.6" fill="#36D3F5"/><circle cx="341.7" cy="652.1" r="4.9" fill="#8FE6FA"/><circle cx="302.3" cy="704.6" r="4.9" fill="#8FE6FA"/><circle cx="383.2" cy="666.7" r="4.5" fill="#2CC8EE"/><circle cx="264.9" cy="666.9" r="4.8" fill="#2CC8EE"/><circle cx="400.2" cy="674.1" r="4.8" fill="#86E2F8"/><circle cx="343.1" cy="673.9" r="4.5" fill="#8FE6FA"/><circle cx="258.6" cy="675.3" r="4.7" fill="#33D0F3"/><circle cx="175.8" cy="679.1" r="4.7" fill="#33D0F3"/><circle cx="347.2" cy="694.7" r="4.9" fill="#33D0F3"/><circle cx="355" cy="649.4" r="4.9" fill="#8FE6FA"/><circle cx="225.8" cy="679.5" r="4.4" fill="#86E2F8"/><circle cx="181.2" cy="696.1" r="4.6" fill="#8FE6FA"/><circle cx="285.5" cy="714.6" r="4.8" fill="#9AEAFB"/><circle cx="271.3" cy="689.3" r="4.7" fill="#2CC8EE"/><circle cx="366.1" cy="673.9" r="4.7" fill="#2CC8EE"/><circle cx="202.9" cy="724.3" r="4.9" fill="#9AEAFB"/><circle cx="382.5" cy="711.7" r="4.7" fill="#9AEAFB"/><circle cx="149.7" cy="702" r="4.8" fill="#36D3F5"/><circle cx="252.9" cy="718" r="4.5" fill="#33D0F3"/><circle cx="97.3" cy="662.5" r="4.5" fill="#2CC8EE"/><circle cx="420.5" cy="696.8" r="4.8" fill="#9AEAFB"/><circle cx="111.2" cy="683" r="4.4" fill="#36D3F5"/><circle cx="301.5" cy="690.3" r="4.6" fill="#2CC8EE"/><circle cx="363.5" cy="681.7" r="4.9" fill="#86E2F8"/><circle cx="391.1" cy="648.1" r="4.7" fill="#2CC8EE"/><circle cx="248.8" cy="693.6" r="4.8" fill="#33D0F3"/><circle cx="149.2" cy="709.1" r="4.9" fill="#33D0F3"/><circle cx="201.2" cy="674.2" r="4.7" fill="#8FE6FA"/><circle cx="421.1" cy="660" r="4.4" fill="#8FE6FA"/><circle cx="201.5" cy="696.1" r="4.9" fill="#8FE6FA"/><circle cx="348.5" cy="723.5" r="4.4" fill="#33D0F3"/><circle cx="428" cy="685.6" r="4.6" fill="#36D3F5"/><circle cx="351.5" cy="706" r="4.8" fill="#33D0F3"/><circle cx="298.2" cy="670.5" r="4.8" fill="#8FE6FA"/><circle cx="214.6" cy="717.3" r="4.6" fill="#8FE6FA"/><circle cx="228.3" cy="713.9" r="4.5" fill="#86E2F8"/><circle cx="395" cy="670.1" r="5" fill="#36D3F5"/><circle cx="89" cy="667.1" r="4.9" fill="#36D3F5"/><circle cx="401.6" cy="705.7" r="4.8" fill="#36D3F5"/><circle cx="396.8" cy="680.7" r="4.8" fill="#33D0F3"/><circle cx="356.4" cy="695.5" r="4.7" fill="#86E2F8"/><circle cx="71" cy="712.4" r="4.6" fill="#86E2F8"/><circle cx="133.3" cy="666.5" r="4.5" fill="#36D3F5"/><circle cx="184.3" cy="702.7" r="4.6" fill="#2CC8EE"/><circle cx="387.8" cy="674.4" r="4.5" fill="#33D0F3"/><circle cx="137.2" cy="668.1" r="4.4" fill="#33D0F3"/><circle cx="84.9" cy="723.9" r="5" fill="#86E2F8"/><circle cx="331.4" cy="723.6" r="4.9" fill="#86E2F8"/><circle cx="413.1" cy="715.5" r="4.8" fill="#86E2F8"/><circle cx="333.6" cy="654.3" r="4.9" fill="#9AEAFB"/><circle cx="419" cy="668.3" r="4.7" fill="#33D0F3"/><circle cx="247.4" cy="680.3" r="4.6" fill="#2CC8EE"/><circle cx="144.4" cy="700.6" r="4.7" fill="#9AEAFB"/><circle cx="318.5" cy="674.5" r="5" fill="#86E2F8"/><circle cx="206.4" cy="719.6" r="4.7" fill="#9AEAFB"/><circle cx="233.7" cy="647.7" r="4.7" fill="#86E2F8"/><circle cx="209.2" cy="722.4" r="4.6" fill="#9AEAFB"/><circle cx="226.8" cy="669.3" r="4.9" fill="#36D3F5"/><circle cx="297.6" cy="707.7" r="4.4" fill="#36D3F5"/><circle cx="165.8" cy="656.5" r="4.8" fill="#33D0F3"/><circle cx="124.9" cy="656.7" r="4.6" fill="#8FE6FA"/><circle cx="402.9" cy="712.6" r="4.7" fill="#36D3F5"/><circle cx="246.8" cy="720.2" r="4.8" fill="#36D3F5"/><circle cx="302.5" cy="680.3" r="4.7" fill="#33D0F3"/><circle cx="184.3" cy="657.1" r="4.6" fill="#8FE6FA"/><circle cx="98.5" cy="658.3" r="4.9" fill="#2CC8EE"/><circle cx="131.9" cy="703.9" r="4.5" fill="#8FE6FA"/><circle cx="158.7" cy="664.2" r="4.7" fill="#36D3F5"/><circle cx="102.2" cy="685.1" r="4.8" fill="#86E2F8"/><circle cx="100.4" cy="686.5" r="4.7" fill="#33D0F3"/><circle cx="77.1" cy="711.8" r="4.9" fill="#36D3F5"/><circle cx="338.2" cy="691.1" r="4.7" fill="#2CC8EE"/><circle cx="389.7" cy="695.6" r="4.9" fill="#36D3F5"/><circle cx="266.4" cy="680.6" r="4.9" fill="#33D0F3"/><circle cx="198.9" cy="676.6" r="4.9" fill="#33D0F3"/><circle cx="214.9" cy="717" r="4.5" fill="#36D3F5"/><circle cx="344.8" cy="652.6" r="4.9" fill="#2CC8EE"/><circle cx="193.6" cy="667.1" r="4.5" fill="#8FE6FA"/><circle cx="269.2" cy="685.8" r="4.9" fill="#33D0F3"/><circle cx="408" cy="705.9" r="4.6" fill="#9AEAFB"/><circle cx="383.4" cy="696.1" r="5" fill="#2CC8EE"/><circle cx="234.5" cy="703.3" r="4.7" fill="#36D3F5"/><circle cx="232.7" cy="657.6" r="4.4" fill="#86E2F8"/><circle cx="110.9" cy="719" r="4.9" fill="#33D0F3"/><circle cx="285.1" cy="649.3" r="5" fill="#36D3F5"/><circle cx="116.8" cy="698" r="4.6" fill="#2CC8EE"/><circle cx="384.3" cy="678" r="4.8" fill="#33D0F3"/><circle cx="324.4" cy="730" r="4.6" fill="#2CC8EE"/><circle cx="230.8" cy="723.6" r="4.6" fill="#8FE6FA"/><circle cx="230.2" cy="725.1" r="4.5" fill="#8FE6FA"/><circle cx="426.3" cy="679.9" r="4.9" fill="#33D0F3"/><circle cx="323.5" cy="712.5" r="5" fill="#2CC8EE"/><circle cx="415.4" cy="688.4" r="4.5" fill="#86E2F8"/><circle cx="425.1" cy="699.3" r="4.8" fill="#8FE6FA"/><circle cx="214.8" cy="701.9" r="4.7" fill="#36D3F5"/><circle cx="183.5" cy="651.4" r="4.8" fill="#8FE6FA"/><circle cx="165.5" cy="653.1" r="4.6" fill="#86E2F8"/><circle cx="48.8" cy="716.5" r="4.8" fill="#36D3F5"/><circle cx="295.2" cy="685.9" r="4.7" fill="#9AEAFB"/><circle cx="213.3" cy="686.7" r="4.5" fill="#8FE6FA"/><circle cx="122.9" cy="704.5" r="4.7" fill="#8FE6FA"/><circle cx="333.3" cy="685.6" r="4.7" fill="#36D3F5"/><circle cx="175.6" cy="702.8" r="4.5" fill="#8FE6FA"/><circle cx="169.2" cy="654.6" r="4.9" fill="#8FE6FA"/><circle cx="129.3" cy="714" r="4.8" fill="#8FE6FA"/><circle cx="381" cy="679.9" r="4.5" fill="#2CC8EE"/><circle cx="299.9" cy="703.6" r="4.9" fill="#86E2F8"/><circle cx="288.2" cy="689.2" r="4.8" fill="#9AEAFB"/><circle cx="338.2" cy="678.4" r="4.5" fill="#86E2F8"/><circle cx="364.8" cy="675.3" r="4.9" fill="#86E2F8"/><circle cx="290.2" cy="706.9" r="4.6" fill="#8FE6FA"/><circle cx="245.7" cy="669.8" r="4.7" fill="#33D0F3"/><circle cx="377.6" cy="663.9" r="4.8" fill="#8FE6FA"/><circle cx="371.3" cy="702.3" r="4.8" fill="#86E2F8"/><circle cx="197" cy="711.7" r="4.4" fill="#33D0F3"/><circle cx="84.8" cy="653.3" r="4.4" fill="#36D3F5"/><circle cx="368.9" cy="679" r="4.6" fill="#86E2F8"/><circle cx="296" cy="722" r="4.9" fill="#8FE6FA"/><circle cx="201.6" cy="651.6" r="4.7" fill="#2CC8EE"/><circle cx="291.9" cy="683.8" r="4.9" fill="#8FE6FA"/><circle cx="298.5" cy="728.9" r="4.7" fill="#36D3F5"/><circle cx="327.7" cy="683.2" r="4.9" fill="#9AEAFB"/><circle cx="337.7" cy="668" r="4.8" fill="#8FE6FA"/><circle cx="143.9" cy="717.2" r="4.7" fill="#86E2F8"/><circle cx="122.7" cy="648.7" r="4.8" fill="#2CC8EE"/><circle cx="262.2" cy="724.9" r="4.7" fill="#2CC8EE"/><circle cx="307.3" cy="723.4" r="4.6" fill="#86E2F8"/><circle cx="186.8" cy="694" r="4.5" fill="#8FE6FA"/><circle cx="84.6" cy="729.7" r="4.5" fill="#33D0F3"/><circle cx="242.4" cy="705.5" r="4.7" fill="#36D3F5"/><circle cx="386.6" cy="729.7" r="4.6" fill="#9AEAFB"/><circle cx="107.3" cy="649.9" r="4.9" fill="#8FE6FA"/><circle cx="369.6" cy="701.7" r="4.8" fill="#33D0F3"/><circle cx="73.4" cy="726" r="4.5" fill="#2CC8EE"/><circle cx="140.7" cy="649.4" r="4.9" fill="#8FE6FA"/><circle cx="178.7" cy="672.3" r="4.6" fill="#36D3F5"/><circle cx="400.2" cy="675.2" r="4.6" fill="#8FE6FA"/><circle cx="101.9" cy="683.4" r="4.8" fill="#36D3F5"/><circle cx="59.5" cy="721.5" r="4.7" fill="#9AEAFB"/><circle cx="373.8" cy="669.7" r="5" fill="#8FE6FA"/><circle cx="233.9" cy="667.9" r="4.9" fill="#33D0F3"/><circle cx="391.2" cy="715.4" r="4.7" fill="#9AEAFB"/><circle cx="121.4" cy="718.4" r="4.7" fill="#36D3F5"/><circle cx="348.1" cy="680.3" r="5" fill="#8FE6FA"/><circle cx="242.4" cy="689.8" r="4.8" fill="#36D3F5"/><circle cx="124.9" cy="674.1" r="4.8" fill="#8FE6FA"/><circle cx="64.7" cy="727.1" r="4.4" fill="#8FE6FA"/><circle cx="215.6" cy="709.7" r="4.6" fill="#9AEAFB"/><circle cx="195.5" cy="729.7" r="4.6" fill="#33D0F3"/><circle cx="326.1" cy="719.7" r="4.5" fill="#8FE6FA"/><circle cx="157.5" cy="721" r="4.7" fill="#33D0F3"/><circle cx="308.2" cy="728.5" r="4.6" fill="#86E2F8"/><circle cx="413.8" cy="699.7" r="4.4" fill="#2CC8EE"/><circle cx="408" cy="663.6" r="4.5" fill="#86E2F8"/><circle cx="242.8" cy="662.3" r="4.5" fill="#86E2F8"/><circle cx="200.6" cy="659.5" r="4.9" fill="#36D3F5"/><circle cx="429.5" cy="680.3" r="4.8" fill="#8FE6FA"/><circle cx="411" cy="658.6" r="4.9" fill="#86E2F8"/><circle cx="355.5" cy="696.5" r="4.6" fill="#86E2F8"/><circle cx="248.1" cy="680.3" r="4.9" fill="#2CC8EE"/><circle cx="188.9" cy="703.3" r="5" fill="#8FE6FA"/><circle cx="379.1" cy="720.6" r="4.9" fill="#86E2F8"/><circle cx="142" cy="727.7" r="4.5" fill="#36D3F5"/><circle cx="113.8" cy="699.8" r="4.7" fill="#36D3F5"/><circle cx="188.8" cy="730.3" r="4.7" fill="#36D3F5"/><circle cx="109.4" cy="699.8" r="4.4" fill="#33D0F3"/><circle cx="169.5" cy="699.1" r="4.7" fill="#8FE6FA"/><circle cx="65.9" cy="677.3" r="4.9" fill="#36D3F5"/><circle cx="353.8" cy="728.6" r="4.6" fill="#2CC8EE"/><circle cx="255.8" cy="714.3" r="4.7" fill="#33D0F3"/><circle cx="175.1" cy="687.4" r="5" fill="#2CC8EE"/><circle cx="303.5" cy="666.9" r="4.7" fill="#2CC8EE"/><circle cx="249.7" cy="696.2" r="5" fill="#33D0F3"/><circle cx="230.5" cy="702.7" r="4.5" fill="#2CC8EE"/><circle cx="218.2" cy="694.9" r="4.7" fill="#2CC8EE"/><circle cx="379.5" cy="729.3" r="4.9" fill="#2CC8EE"/><circle cx="110.7" cy="702.4" r="4.8" fill="#36D3F5"/><circle cx="155.9" cy="711" r="4.8" fill="#8FE6FA"/><circle cx="344.1" cy="681.9" r="4.6" fill="#8FE6FA"/><circle cx="160.1" cy="697.3" r="4.4" fill="#36D3F5"/><circle cx="289.9" cy="727.1" r="4.8" fill="#36D3F5"/><circle cx="218.1" cy="698.8" r="4.7" fill="#33D0F3"/><circle cx="206.7" cy="723.7" r="4.8" fill="#9AEAFB"/><circle cx="192" cy="668.8" r="4.6" fill="#9AEAFB"/><circle cx="94" cy="730.9" r="4.9" fill="#33D0F3"/><circle cx="194.1" cy="713.5" r="4.7" fill="#8FE6FA"/><circle cx="203.2" cy="680.4" r="4.5" fill="#9AEAFB"/><circle cx="158.6" cy="724.3" r="4.5" fill="#36D3F5"/><circle cx="380.9" cy="701" r="4.5" fill="#2CC8EE"/><circle cx="366.1" cy="720.2" r="4.4" fill="#86E2F8"/><circle cx="149.1" cy="692.3" r="4.6" fill="#9AEAFB"/><circle cx="191.4" cy="665.3" r="4.7" fill="#8FE6FA"/><circle cx="295.5" cy="697.4" r="4.9" fill="#33D0F3"/><circle cx="261.5" cy="728.5" r="4.6" fill="#8FE6FA"/><circle cx="143.1" cy="675.3" r="4.7" fill="#86E2F8"/><circle cx="85.3" cy="729.9" r="4.5" fill="#9AEAFB"/><circle cx="146.4" cy="663.9" r="4.7" fill="#8FE6FA"/><circle cx="310" cy="680.2" r="4.8" fill="#36D3F5"/><circle cx="76.8" cy="706.7" r="4.6" fill="#9AEAFB"/><circle cx="126.8" cy="717.6" r="4.5" fill="#86E2F8"/><circle cx="114.2" cy="694.7" r="4.4" fill="#33D0F3"/><circle cx="246.8" cy="719.4" r="4.4" fill="#33D0F3"/><circle cx="361" cy="699.8" r="4.5" fill="#8FE6FA"/><circle cx="356.6" cy="681.2" r="4.5" fill="#86E2F8"/><circle cx="79.6" cy="657.1" r="4.6" fill="#8FE6FA"/><circle cx="347.5" cy="662.7" r="4.7" fill="#86E2F8"/><circle cx="285.4" cy="680.2" r="4.8" fill="#2CC8EE"/><circle cx="187.4" cy="718.9" r="4.7" fill="#8FE6FA"/><circle cx="137.7" cy="704.1" r="4.8" fill="#33D0F3"/><circle cx="105.8" cy="688.1" r="5" fill="#86E2F8"/><circle cx="86.6" cy="729.9" r="4.9" fill="#86E2F8"/><circle cx="183.5" cy="656.4" r="4.6" fill="#8FE6FA"/><circle cx="286.5" cy="717.5" r="4.7" fill="#33D0F3"/><circle cx="161.3" cy="716.1" r="4.5" fill="#8FE6FA"/><circle cx="173.3" cy="700.3" r="4.8" fill="#9AEAFB"/><circle cx="71.9" cy="698.9" r="4.6" fill="#8FE6FA"/><circle cx="170.3" cy="668.5" r="4.6" fill="#2CC8EE"/><circle cx="82.5" cy="660.3" r="4.7" fill="#33D0F3"/><circle cx="377.6" cy="662.8" r="4.7" fill="#8FE6FA"/><circle cx="227.3" cy="692.2" r="4.9" fill="#36D3F5"/><circle cx="159.7" cy="692.9" r="4.7" fill="#9AEAFB"/><circle cx="376.7" cy="706.1" r="4.5" fill="#36D3F5"/><circle cx="279.4" cy="681.5" r="4.6" fill="#2CC8EE"/><circle cx="393.5" cy="719.8" r="4.5" fill="#33D0F3"/><circle cx="372.7" cy="695.2" r="4.6" fill="#8FE6FA"/><circle cx="77.1" cy="689.6" r="4.9" fill="#86E2F8"/><circle cx="137" cy="718" r="4.6" fill="#36D3F5"/><circle cx="66" cy="707.7" r="4.5" fill="#36D3F5"/><circle cx="253.1" cy="693.9" r="4.5" fill="#36D3F5"/><circle cx="171.4" cy="720.2" r="4.6" fill="#33D0F3"/><circle cx="273.6" cy="683.9" r="4.6" fill="#2CC8EE"/><circle cx="70.3" cy="672.1" r="4.7" fill="#2CC8EE"/><circle cx="333.3" cy="671.4" r="4.8" fill="#8FE6FA"/><circle cx="248.8" cy="730.2" r="5" fill="#8FE6FA"/><circle cx="253" cy="711.4" r="4.7" fill="#33D0F3"/><circle cx="100.7" cy="674.3" r="4.6" fill="#36D3F5"/><circle cx="96.2" cy="706.1" r="4.4" fill="#8FE6FA"/><circle cx="228.7" cy="667.5" r="4.6" fill="#9AEAFB"/><circle cx="420.9" cy="706.9" r="5" fill="#33D0F3"/><circle cx="375.8" cy="706.8" r="4.9" fill="#86E2F8"/><circle cx="212.8" cy="682.6" r="4.5" fill="#2CC8EE"/><circle cx="157.9" cy="662.1" r="4.8" fill="#9AEAFB"/><circle cx="248.1" cy="677.6" r="4.9" fill="#33D0F3"/><circle cx="71.7" cy="695" r="4.8" fill="#2CC8EE"/><circle cx="372.2" cy="706.1" r="4.9" fill="#86E2F8"/><circle cx="247.3" cy="663.8" r="4.5" fill="#86E2F8"/><circle cx="133.4" cy="686.2" r="4.7" fill="#8FE6FA"/><circle cx="68.1" cy="683.7" r="4.6" fill="#8FE6FA"/><circle cx="304.9" cy="684.9" r="4.7" fill="#9AEAFB"/><circle cx="275.8" cy="681.5" r="5" fill="#86E2F8"/><circle cx="418.3" cy="720.8" r="4.8" fill="#86E2F8"/><circle cx="163.1" cy="722.5" r="5" fill="#8FE6FA"/><circle cx="393.2" cy="682.2" r="4.9" fill="#8FE6FA"/><circle cx="66.6" cy="685.9" r="4.8" fill="#2CC8EE"/><circle cx="200.3" cy="716.4" r="4.8" fill="#36D3F5"/><circle cx="408.9" cy="678.9" r="4.6" fill="#36D3F5"/><circle cx="109.6" cy="651.2" r="4.6" fill="#8FE6FA"/><circle cx="130.2" cy="710" r="5" fill="#2CC8EE"/><circle cx="393.7" cy="672" r="4.5" fill="#8FE6FA"/><circle cx="167.4" cy="663.1" r="4.6" fill="#9AEAFB"/><circle cx="261" cy="700.3" r="4.9" fill="#9AEAFB"/><circle cx="76.1" cy="660" r="4.6" fill="#36D3F5"/><circle cx="252.9" cy="648.7" r="4.7" fill="#8FE6FA"/><circle cx="150.1" cy="647.4" r="4.5" fill="#36D3F5"/><circle cx="239.8" cy="670.7" r="4.7" fill="#86E2F8"/><circle cx="250.9" cy="719.6" r="4.7" fill="#36D3F5"/><circle cx="272" cy="686.8" r="4.7" fill="#8FE6FA"/><circle cx="301.9" cy="705.8" r="4.5" fill="#9AEAFB"/><circle cx="240.8" cy="714.1" r="4.6" fill="#2CC8EE"/><circle cx="386.2" cy="727.2" r="4.5" fill="#86E2F8"/><circle cx="51.5" cy="727" r="4.9" fill="#8FE6FA"/><circle cx="200.2" cy="675.5" r="4.7" fill="#36D3F5"/><circle cx="268.2" cy="692.1" r="4.6" fill="#2CC8EE"/><circle cx="151" cy="705.6" r="4.6" fill="#9AEAFB"/><circle cx="91.6" cy="656" r="4.6" fill="#9AEAFB"/><circle cx="404.1" cy="679.7" r="4.7" fill="#33D0F3"/><circle cx="358.1" cy="703.3" r="4.6" fill="#36D3F5"/><circle cx="200.5" cy="716" r="4.5" fill="#86E2F8"/><circle cx="340.1" cy="684" r="4.8" fill="#9AEAFB"/><circle cx="361.6" cy="660.7" r="4.6" fill="#9AEAFB"/><circle cx="407" cy="675.8" r="5" fill="#2CC8EE"/><circle cx="359" cy="653.9" r="4.6" fill="#36D3F5"/><circle cx="119.3" cy="689.2" r="4.9" fill="#9AEAFB"/><circle cx="179.8" cy="703.7" r="4.5" fill="#36D3F5"/><circle cx="157.2" cy="680.5" r="4.5" fill="#8FE6FA"/><circle cx="265.2" cy="726.5" r="4.6" fill="#8FE6FA"/><circle cx="271" cy="680.6" r="4.7" fill="#8FE6FA"/><circle cx="423.8" cy="701.3" r="4.7" fill="#33D0F3"/><circle cx="135.2" cy="722.5" r="4.4" fill="#9AEAFB"/><circle cx="297" cy="700.1" r="4.9" fill="#9AEAFB"/><circle cx="376.3" cy="682.4" r="4.6" fill="#9AEAFB"/><circle cx="297" cy="726.7" r="4.9" fill="#86E2F8"/><circle cx="108.1" cy="700.4" r="4.5" fill="#9AEAFB"/><circle cx="122.8" cy="679" r="4.8" fill="#9AEAFB"/><circle cx="413.7" cy="673" r="4.7" fill="#8FE6FA"/><circle cx="201.1" cy="676.8" r="4.4" fill="#2CC8EE"/><circle cx="147.9" cy="689" r="4.9" fill="#8FE6FA"/><circle cx="109.2" cy="648.8" r="4.8" fill="#8FE6FA"/><circle cx="191" cy="694.6" r="4.9" fill="#33D0F3"/><circle cx="165.1" cy="713.4" r="4.4" fill="#36D3F5"/><circle cx="136.5" cy="655.3" r="4.8" fill="#86E2F8"/><circle cx="72.3" cy="651.7" r="4.6" fill="#9AEAFB"/><circle cx="87.4" cy="684" r="4.5" fill="#9AEAFB"/><circle cx="92.7" cy="678.9" r="4.5" fill="#8FE6FA"/><circle cx="233.5" cy="675" r="4.9" fill="#33D0F3"/><circle cx="138.1" cy="686.4" r="5" fill="#36D3F5"/><circle cx="93.5" cy="677.4" r="5" fill="#8FE6FA"/><circle cx="287.2" cy="703.5" r="4.5" fill="#9AEAFB"/><circle cx="241.1" cy="668.5" r="5" fill="#8FE6FA"/><circle cx="262" cy="689.5" r="4.8" fill="#33D0F3"/><circle cx="180.5" cy="671.4" r="4.5" fill="#86E2F8"/><circle cx="429.9" cy="685.8" r="4.7" fill="#8FE6FA"/><circle cx="417.1" cy="712" r="4.8" fill="#36D3F5"/><circle cx="383.4" cy="714.4" r="4.7" fill="#2CC8EE"/><circle cx="353" cy="693.3" r="4.7" fill="#33D0F3"/><circle cx="302.5" cy="696.3" r="4.5" fill="#33D0F3"/><circle cx="381.3" cy="663.7" r="4.7" fill="#8FE6FA"/><circle cx="412.7" cy="652.6" r="4.5" fill="#8FE6FA"/><circle cx="353.9" cy="708.3" r="4.5" fill="#8FE6FA"/><circle cx="399.2" cy="683.3" r="4.6" fill="#9AEAFB"/><circle cx="407.8" cy="693.8" r="4.6" fill="#86E2F8"/><circle cx="394.5" cy="689.1" r="4.6" fill="#86E2F8"/><circle cx="283.3" cy="666.8" r="4.9" fill="#8FE6FA"/><circle cx="67.2" cy="696.2" r="4.6" fill="#86E2F8"/><circle cx="178.6" cy="664.9" r="4.9" fill="#8FE6FA"/><circle cx="368.7" cy="675.2" r="4.7" fill="#36D3F5"/><circle cx="178.4" cy="692.6" r="4.5" fill="#36D3F5"/><circle cx="106.8" cy="662.6" r="5" fill="#86E2F8"/><circle cx="245.2" cy="660" r="4.6" fill="#8FE6FA"/><circle cx="191.9" cy="659.4" r="4.7" fill="#33D0F3"/><circle cx="307.5" cy="681.5" r="4.5" fill="#86E2F8"/><circle cx="203.3" cy="679.8" r="4.9" fill="#2CC8EE"/><circle cx="353" cy="704" r="4.9" fill="#36D3F5"/><circle cx="343.5" cy="716.2" r="4.5" fill="#8FE6FA"/><circle cx="147.9" cy="692.8" r="4.9" fill="#8FE6FA"/><circle cx="212.8" cy="656.1" r="4.5" fill="#36D3F5"/><circle cx="407.9" cy="682.1" r="4.9" fill="#2CC8EE"/><circle cx="117.4" cy="658" r="5" fill="#86E2F8"/><circle cx="79.8" cy="710.3" r="4.5" fill="#33D0F3"/><circle cx="353.5" cy="722.7" r="4.9" fill="#33D0F3"/><circle cx="216.1" cy="674.2" r="4.4" fill="#8FE6FA"/><circle cx="381.5" cy="658.5" r="4.6" fill="#86E2F8"/><circle cx="227.9" cy="718.8" r="4.4" fill="#8FE6FA"/><circle cx="270" cy="669.2" r="4.6" fill="#36D3F5"/><circle cx="276.5" cy="730.9" r="4.5" fill="#2CC8EE"/><circle cx="99.9" cy="651" r="4.9" fill="#2CC8EE"/><circle cx="84.3" cy="685" r="4.7" fill="#8FE6FA"/><circle cx="104.7" cy="659" r="4.8" fill="#36D3F5"/><circle cx="143.8" cy="696.6" r="4.7" fill="#8FE6FA"/><circle cx="223" cy="680" r="4.7" fill="#9AEAFB"/><circle cx="385.8" cy="663.9" r="4.9" fill="#8FE6FA"/><circle cx="309.8" cy="689.1" r="4.9" fill="#8FE6FA"/><circle cx="294.7" cy="712.8" r="4.5" fill="#8FE6FA"/><circle cx="125.4" cy="705.2" r="4.4" fill="#8FE6FA"/><circle cx="350.5" cy="656.2" r="4.5" fill="#33D0F3"/><circle cx="135.1" cy="708.5" r="4.5" fill="#8FE6FA"/><circle cx="350.9" cy="649.8" r="4.8" fill="#2CC8EE"/><circle cx="256.9" cy="723.2" r="4.6" fill="#33D0F3"/><circle cx="256.5" cy="704.9" r="4.5" fill="#8FE6FA"/><circle cx="184.4" cy="666.1" r="4.8" fill="#33D0F3"/><circle cx="250.9" cy="706.4" r="4.8" fill="#8FE6FA"/><circle cx="166.1" cy="692.2" r="4.6" fill="#86E2F8"/><circle cx="314.6" cy="679.6" r="4.7" fill="#9AEAFB"/><circle cx="149.9" cy="681.2" r="4.9" fill="#2CC8EE"/><circle cx="217" cy="715.6" r="5" fill="#9AEAFB"/><circle cx="213.7" cy="728" r="4.8" fill="#8FE6FA"/><circle cx="198.8" cy="670.2" r="5" fill="#9AEAFB"/><circle cx="324" cy="700.4" r="5" fill="#33D0F3"/><circle cx="349.1" cy="693.6" r="4.6" fill="#33D0F3"/><circle cx="176.3" cy="665.4" r="4.6" fill="#36D3F5"/><circle cx="226.2" cy="721.8" r="4.7" fill="#36D3F5"/><circle cx="150.7" cy="717.1" r="4.7" fill="#9AEAFB"/><circle cx="400" cy="648.8" r="4.6" fill="#2CC8EE"/><circle cx="156.3" cy="684.7" r="5" fill="#9AEAFB"/><circle cx="67.6" cy="727.6" r="4.5" fill="#86E2F8"/><circle cx="160.7" cy="669.6" r="4.6" fill="#9AEAFB"/><circle cx="252.6" cy="690.3" r="4.5" fill="#36D3F5"/><circle cx="269.9" cy="685.6" r="4.9" fill="#86E2F8"/><circle cx="168.2" cy="656.1" r="4.8" fill="#2CC8EE"/><circle cx="211.1" cy="728" r="4.5" fill="#33D0F3"/><circle cx="130" cy="726.6" r="5" fill="#86E2F8"/><circle cx="342.6" cy="710.7" r="4.6" fill="#2CC8EE"/><circle cx="58.8" cy="712" r="4.7" fill="#9AEAFB"/><circle cx="123.1" cy="672.6" r="4.4" fill="#9AEAFB"/><circle cx="226.4" cy="682.6" r="4.6" fill="#8FE6FA"/><circle cx="143.3" cy="711.8" r="4.6" fill="#86E2F8"/><circle cx="195.2" cy="655.2" r="4.9" fill="#86E2F8"/><circle cx="118.2" cy="724" r="4.5" fill="#2CC8EE"/><circle cx="138.4" cy="707.9" r="4.5" fill="#86E2F8"/><circle cx="168.4" cy="681.6" r="4.6" fill="#2CC8EE"/><circle cx="44.6" cy="723.8" r="4.9" fill="#2CC8EE"/><circle cx="209.7" cy="723.9" r="4.8" fill="#8FE6FA"/><circle cx="81.2" cy="700.4" r="4.8" fill="#8FE6FA"/><circle cx="64.8" cy="675.3" r="4.5" fill="#8FE6FA"/><circle cx="373.5" cy="671.9" r="5" fill="#2CC8EE"/><circle cx="275.5" cy="676.5" r="4.7" fill="#8FE6FA"/><circle cx="242.6" cy="720.3" r="4.4" fill="#86E2F8"/><circle cx="193.5" cy="712.1" r="4.4" fill="#9AEAFB"/><circle cx="217.2" cy="686.7" r="4.5" fill="#36D3F5"/><circle cx="259.4" cy="722.7" r="4.6" fill="#2CC8EE"/><circle cx="119" cy="682.4" r="4.6" fill="#33D0F3"/><circle cx="116.9" cy="654" r="4.5" fill="#8FE6FA"/><circle cx="324.9" cy="729.3" r="5" fill="#9AEAFB"/><circle cx="135.4" cy="671.3" r="4.8" fill="#36D3F5"/><circle cx="190.1" cy="659.3" r="4.6" fill="#33D0F3"/><circle cx="50.7" cy="725.4" r="4.5" fill="#8FE6FA"/><circle cx="244.1" cy="674.1" r="4.8" fill="#33D0F3"/><circle cx="351.7" cy="713" r="4.9" fill="#8FE6FA"/><circle cx="193.7" cy="709.1" r="4.8" fill="#36D3F5"/><circle cx="244.7" cy="664.4" r="4.6" fill="#8FE6FA"/><circle cx="79.3" cy="687.1" r="4.6" fill="#8FE6FA"/><circle cx="379.2" cy="691.8" r="4.6" fill="#2CC8EE"/><circle cx="214.6" cy="708.6" r="4.8" fill="#33D0F3"/><circle cx="258.1" cy="657.5" r="4.5" fill="#8FE6FA"/><circle cx="205.6" cy="708.1" r="5" fill="#8FE6FA"/><circle cx="423.1" cy="706" r="5" fill="#36D3F5"/><circle cx="81.2" cy="684.2" r="4.5" fill="#2CC8EE"/><circle cx="124.9" cy="680.3" r="4.6" fill="#8FE6FA"/><circle cx="393.7" cy="648.6" r="4.5" fill="#9AEAFB"/><circle cx="135.6" cy="680.5" r="4.7" fill="#33D0F3"/><circle cx="281.6" cy="661" r="4.6" fill="#8FE6FA"/><circle cx="321.2" cy="675.2" r="4.6" fill="#2CC8EE"/><circle cx="330.8" cy="663.1" r="4.8" fill="#33D0F3"/><circle cx="160.9" cy="687.1" r="4.8" fill="#8FE6FA"/><circle cx="139.9" cy="721.5" r="5" fill="#86E2F8"/><circle cx="245.5" cy="652.6" r="4.8" fill="#36D3F5"/><circle cx="279.4" cy="722.7" r="4.4" fill="#9AEAFB"/><circle cx="389.6" cy="669.7" r="4.6" fill="#8FE6FA"/><circle cx="362.5" cy="702.3" r="4.9" fill="#36D3F5"/><circle cx="428.5" cy="687.9" r="4.9" fill="#9AEAFB"/><circle cx="240.6" cy="681.7" r="4.7" fill="#8FE6FA"/><circle cx="164.6" cy="690.6" r="4.9" fill="#8FE6FA"/><circle cx="109.6" cy="656.4" r="4.7" fill="#8FE6FA"/><circle cx="385.4" cy="659.5" r="4.9" fill="#86E2F8"/><circle cx="163.1" cy="728.7" r="4.4" fill="#86E2F8"/><circle cx="245.1" cy="668.5" r="4.8" fill="#36D3F5"/><circle cx="117.7" cy="670.5" r="5" fill="#8FE6FA"/><circle cx="170.1" cy="708.5" r="5" fill="#9AEAFB"/><circle cx="292.9" cy="692.4" r="4.9" fill="#8FE6FA"/><circle cx="98.6" cy="691.4" r="5" fill="#8FE6FA"/><circle cx="214.9" cy="677.5" r="4.9" fill="#2CC8EE"/><circle cx="422.4" cy="699.4" r="4.7" fill="#9AEAFB"/><circle cx="252.3" cy="675.4" r="5" fill="#86E2F8"/><circle cx="153.1" cy="689.4" r="4.5" fill="#8FE6FA"/><circle cx="384.4" cy="653.9" r="4.4" fill="#86E2F8"/><circle cx="170.1" cy="668.2" r="4.8" fill="#2CC8EE"/><circle cx="367.4" cy="703.7" r="4.4" fill="#36D3F5"/><circle cx="291.4" cy="694.2" r="5" fill="#33D0F3"/><circle cx="389.3" cy="650" r="4.8" fill="#8FE6FA"/><circle cx="142.1" cy="720.6" r="4.5" fill="#9AEAFB"/><circle cx="387.3" cy="680.1" r="4.4" fill="#9AEAFB"/><circle cx="172.4" cy="661.8" r="4.6" fill="#8FE6FA"/><circle cx="237.7" cy="679.7" r="4.9" fill="#8FE6FA"/><circle cx="110.6" cy="694.5" r="5" fill="#36D3F5"/><circle cx="145.4" cy="680.2" r="4.7" fill="#36D3F5"/><circle cx="316.4" cy="716.2" r="4.6" fill="#2CC8EE"/><circle cx="296.1" cy="709.5" r="4.7" fill="#2CC8EE"/><circle cx="367.8" cy="706.3" r="4.6" fill="#9AEAFB"/><circle cx="144.5" cy="694.7" r="5" fill="#8FE6FA"/><circle cx="278.5" cy="689.8" r="4.7" fill="#9AEAFB"/><circle cx="311" cy="674.2" r="4.6" fill="#9AEAFB"/><circle cx="400.3" cy="697.1" r="4.7" fill="#9AEAFB"/><circle cx="211.7" cy="689.8" r="4.8" fill="#8FE6FA"/><circle cx="288.2" cy="689.5" r="4.7" fill="#2CC8EE"/><circle cx="338" cy="670" r="4.7" fill="#8FE6FA"/><circle cx="203.3" cy="726.9" r="4.5" fill="#8FE6FA"/><circle cx="140" cy="708.7" r="4.8" fill="#33D0F3"/><circle cx="158" cy="731.2" r="4.6" fill="#36D3F5"/><circle cx="228.8" cy="664.9" r="4.9" fill="#33D0F3"/><circle cx="295.7" cy="704" r="4.6" fill="#9AEAFB"/><circle cx="202.6" cy="651.3" r="4.6" fill="#2CC8EE"/><circle cx="148.3" cy="670.8" r="5" fill="#86E2F8"/><circle cx="167.5" cy="663.5" r="4.6" fill="#8FE6FA"/><circle cx="407.2" cy="671.3" r="4.6" fill="#33D0F3"/><circle cx="374.3" cy="728.9" r="4.8" fill="#2CC8EE"/><circle cx="254.2" cy="682.3" r="4.5" fill="#2CC8EE"/><circle cx="84.9" cy="674.4" r="4.7" fill="#36D3F5"/><circle cx="391.1" cy="717.9" r="4.8" fill="#9AEAFB"/><circle cx="243.1" cy="728" r="4.5" fill="#8FE6FA"/><circle cx="327.5" cy="680.5" r="4.7" fill="#8FE6FA"/><circle cx="129.6" cy="723.1" r="4.7" fill="#8FE6FA"/><circle cx="374.7" cy="680.7" r="4.8" fill="#8FE6FA"/><circle cx="297.3" cy="650.4" r="4.9" fill="#86E2F8"/><circle cx="259.4" cy="676.9" r="4.5" fill="#8FE6FA"/><circle cx="277.1" cy="721.3" r="4.6" fill="#9AEAFB"/><circle cx="108.6" cy="722" r="4.9" fill="#2CC8EE"/><circle cx="180.5" cy="660.7" r="4.7" fill="#9AEAFB"/><circle cx="242.9" cy="714.7" r="4.5" fill="#2CC8EE"/><circle cx="377.6" cy="663.3" r="4.6" fill="#33D0F3"/><circle cx="416.5" cy="691.1" r="4.5" fill="#8FE6FA"/><circle cx="393.9" cy="650.6" r="4.6" fill="#36D3F5"/><circle cx="410" cy="714.5" r="4.6" fill="#8FE6FA"/><circle cx="141.8" cy="654.2" r="4.8" fill="#8FE6FA"/><circle cx="356.2" cy="676.3" r="4.9" fill="#8FE6FA"/><circle cx="282.7" cy="671.3" r="4.8" fill="#2CC8EE"/><circle cx="200.9" cy="699" r="4.8" fill="#36D3F5"/><circle cx="215.5" cy="728.1" r="4.5" fill="#33D0F3"/><circle cx="174.5" cy="647.7" r="4.9" fill="#36D3F5"/><circle cx="418.8" cy="684.5" r="4.5" fill="#2CC8EE"/><circle cx="356.2" cy="708.9" r="4.5" fill="#9AEAFB"/><circle cx="423.4" cy="676.4" r="4.5" fill="#8FE6FA"/><circle cx="342.3" cy="706" r="4.5" fill="#9AEAFB"/><circle cx="272.5" cy="725.2" r="4.8" fill="#86E2F8"/><circle cx="78.7" cy="700.6" r="5" fill="#33D0F3"/><circle cx="209.4" cy="703.5" r="4.7" fill="#8FE6FA"/><circle cx="205.6" cy="665" r="4.4" fill="#36D3F5"/><circle cx="214.4" cy="679.6" r="4.6" fill="#33D0F3"/><circle cx="162.3" cy="720.4" r="4.5" fill="#8FE6FA"/><circle cx="213.2" cy="667.6" r="4.7" fill="#36D3F5"/><circle cx="274.7" cy="661.8" r="4.4" fill="#2CC8EE"/><circle cx="336.4" cy="665.7" r="4.7" fill="#8FE6FA"/><circle cx="163.8" cy="705.4" r="4.7" fill="#9AEAFB"/><circle cx="319.1" cy="652.8" r="4.4" fill="#8FE6FA"/><circle cx="405.4" cy="725.9" r="4.5" fill="#36D3F5"/><circle cx="79.1" cy="686.7" r="4.6" fill="#8FE6FA"/><circle cx="284.2" cy="680.6" r="4.8" fill="#8FE6FA"/><circle cx="222.3" cy="703.2" r="4.4" fill="#36D3F5"/><circle cx="86.1" cy="705.2" r="4.5" fill="#8FE6FA"/><circle cx="340.7" cy="719.9" r="4.9" fill="#8FE6FA"/><circle cx="177.3" cy="667.5" r="4.5" fill="#8FE6FA"/><circle cx="223.2" cy="693.5" r="5" fill="#8FE6FA"/><circle cx="126.2" cy="683.6" r="4.7" fill="#33D0F3"/><circle cx="192.8" cy="673.6" r="4.8" fill="#2CC8EE"/><circle cx="122.6" cy="666.1" r="4.6" fill="#9AEAFB"/><circle cx="155.2" cy="702.5" r="4.8" fill="#86E2F8"/><circle cx="281.7" cy="648.3" r="4.8" fill="#8FE6FA"/><circle cx="94.1" cy="715.9" r="4.9" fill="#33D0F3"/><circle cx="208.8" cy="696.9" r="4.8" fill="#86E2F8"/><circle cx="154.4" cy="657.6" r="4.9" fill="#33D0F3"/><circle cx="391.2" cy="724.4" r="4.8" fill="#86E2F8"/><circle cx="233.2" cy="710.1" r="4.4" fill="#8FE6FA"/><circle cx="174.9" cy="721" r="4.9" fill="#8FE6FA"/><circle cx="157.4" cy="699.6" r="4.4" fill="#36D3F5"/><circle cx="94.5" cy="708" r="4.5" fill="#8FE6FA"/><circle cx="76.1" cy="651.2" r="4.6" fill="#2CC8EE"/><circle cx="359.7" cy="701.5" r="4.6" fill="#9AEAFB"/><circle cx="322.1" cy="722.8" r="4.6" fill="#36D3F5"/><circle cx="270.2" cy="696.5" r="4.4" fill="#33D0F3"/><circle cx="307.6" cy="723.7" r="4.6" fill="#36D3F5"/><circle cx="314.2" cy="694.1" r="4.6" fill="#36D3F5"/><circle cx="364.1" cy="716.4" r="4.9" fill="#2CC8EE"/><circle cx="169" cy="679.3" r="4.6" fill="#36D3F5"/><circle cx="247.3" cy="664" r="4.8" fill="#2CC8EE"/><circle cx="387.9" cy="666.2" r="4.9" fill="#9AEAFB"/><circle cx="398.6" cy="699" r="4.6" fill="#36D3F5"/><circle cx="203.4" cy="690.1" r="4.9" fill="#9AEAFB"/><circle cx="377.1" cy="676" r="5" fill="#33D0F3"/><circle cx="268.8" cy="724.3" r="4.5" fill="#2CC8EE"/><circle cx="77.1" cy="675.3" r="4.9" fill="#2CC8EE"/><circle cx="103.7" cy="652.5" r="4.9" fill="#86E2F8"/><circle cx="283" cy="682" r="4.9" fill="#8FE6FA"/><circle cx="417.9" cy="679.3" r="4.8" fill="#2CC8EE"/><circle cx="170.4" cy="698.2" r="4.8" fill="#8FE6FA"/><circle cx="384.6" cy="694" r="5" fill="#86E2F8"/><circle cx="81.4" cy="723.4" r="4.8" fill="#2CC8EE"/><circle cx="71.5" cy="729.2" r="4.4" fill="#33D0F3"/><circle cx="116.2" cy="730" r="4.9" fill="#86E2F8"/><circle cx="197.3" cy="683" r="4.9" fill="#36D3F5"/><circle cx="363.9" cy="701.4" r="4.8" fill="#36D3F5"/><circle cx="377.6" cy="673.2" r="4.5" fill="#8FE6FA"/><circle cx="89.2" cy="675" r="5" fill="#8FE6FA"/><circle cx="102.7" cy="681.1" r="4.4" fill="#2CC8EE"/></g>
<g stroke="#000" stroke-width="0.7"><circle cx="82.2" cy="651.9" r="4.8" fill="#fff"/><circle cx="86" cy="663.4" r="4.8" fill="#fff"/><circle cx="80" cy="659" r="5.6" fill="#EE0000"/><circle cx="94.6" cy="667.6" r="4.8" fill="#fff"/><circle cx="92.9" cy="655.7" r="4.8" fill="#fff"/><circle cx="98" cy="661" r="5.6" fill="#EE0000"/><circle cx="135.4" cy="666.4" r="4.8" fill="#fff"/><circle cx="127.9" cy="657" r="4.8" fill="#fff"/><circle cx="135" cy="659" r="5.6" fill="#EE0000"/><circle cx="153.2" cy="652.3" r="4.8" fill="#fff"/><circle cx="155.2" cy="664.2" r="4.8" fill="#fff"/><circle cx="150" cy="659" r="5.6" fill="#EE0000"/><circle cx="196.2" cy="672.4" r="4.8" fill="#fff"/><circle cx="184.2" cy="671.2" r="4.8" fill="#fff"/><circle cx="190.6" cy="667.5" r="5.6" fill="#EE0000"/><circle cx="234.7" cy="666.5" r="4.8" fill="#fff"/><circle cx="243.3" cy="658.1" r="4.8" fill="#fff"/><circle cx="242" cy="665.4" r="5.6" fill="#EE0000"/><circle cx="251.1" cy="675.1" r="4.8" fill="#fff"/><circle cx="262.7" cy="672" r="4.8" fill="#fff"/><circle cx="258" cy="677.7" r="5.6" fill="#EE0000"/><circle cx="277.3" cy="666.8" r="4.8" fill="#fff"/><circle cx="289.3" cy="667.8" r="4.8" fill="#fff"/><circle cx="283" cy="671.6" r="5.6" fill="#EE0000"/><circle cx="115.2" cy="697.9" r="4.8" fill="#fff"/><circle cx="103.7" cy="694.4" r="4.8" fill="#fff"/><circle cx="110.7" cy="692" r="5.6" fill="#EE0000"/><circle cx="121.9" cy="690.6" r="4.8" fill="#fff"/><circle cx="133.7" cy="693" r="4.8" fill="#fff"/><circle cx="127" cy="696" r="5.6" fill="#EE0000"/><circle cx="166.6" cy="686" r="4.8" fill="#fff"/><circle cx="176.4" cy="679" r="4.8" fill="#fff"/><circle cx="174" cy="686" r="5.6" fill="#EE0000"/><circle cx="199.4" cy="680" r="4.8" fill="#fff"/><circle cx="199.2" cy="692.1" r="4.8" fill="#fff"/><circle cx="195" cy="686" r="5.6" fill="#EE0000"/><circle cx="204" cy="699.3" r="4.8" fill="#fff"/><circle cx="193.1" cy="704.5" r="4.8" fill="#fff"/><circle cx="196.7" cy="698" r="5.6" fill="#EE0000"/><circle cx="242.8" cy="686" r="4.8" fill="#fff"/><circle cx="235.3" cy="695.4" r="4.8" fill="#fff"/><circle cx="235.7" cy="688" r="5.6" fill="#EE0000"/><circle cx="249.5" cy="710.5" r="4.8" fill="#fff"/><circle cx="238.7" cy="705.2" r="4.8" fill="#fff"/><circle cx="246" cy="704" r="5.6" fill="#EE0000"/><circle cx="252.9" cy="711.2" r="4.8" fill="#fff"/><circle cx="255.5" cy="722.9" r="4.8" fill="#fff"/><circle cx="250" cy="718" r="5.6" fill="#EE0000"/><circle cx="248.6" cy="720.7" r="4.8" fill="#fff"/><circle cx="258.7" cy="714.1" r="4.8" fill="#fff"/><circle cx="256" cy="721" r="5.6" fill="#EE0000"/><circle cx="173.8" cy="708.2" r="4.8" fill="#fff"/><circle cx="174.8" cy="720.2" r="4.8" fill="#fff"/><circle cx="170" cy="714.6" r="5.6" fill="#EE0000"/><circle cx="160.8" cy="727.4" r="4.8" fill="#fff"/><circle cx="150.4" cy="721.4" r="4.8" fill="#fff"/><circle cx="157.8" cy="720.7" r="5.6" fill="#EE0000"/><circle cx="295.8" cy="696.7" r="4.8" fill="#fff"/><circle cx="293.7" cy="684.8" r="4.8" fill="#fff"/><circle cx="299" cy="690" r="5.6" fill="#EE0000"/><circle cx="354.3" cy="689.9" r="4.8" fill="#fff"/><circle cx="342.3" cy="690.7" r="4.8" fill="#fff"/><circle cx="348" cy="686" r="5.6" fill="#EE0000"/><circle cx="370.3" cy="649.7" r="4.8" fill="#fff"/><circle cx="375.5" cy="660.6" r="4.8" fill="#fff"/><circle cx="369" cy="657" r="5.6" fill="#EE0000"/><circle cx="76.8" cy="666.4" r="4.8" fill="#fff"/><circle cx="87.8" cy="661.7" r="4.8" fill="#fff"/><circle cx="84" cy="668" r="5.6" fill="#EE0000"/><circle cx="64.1" cy="722.1" r="4.8" fill="#fff"/><circle cx="54.6" cy="714.7" r="4.8" fill="#fff"/><circle cx="62" cy="715" r="5.6" fill="#EE0000"/><circle cx="302.7" cy="721.9" r="4.8" fill="#fff"/><circle cx="292.6" cy="715.3" r="4.8" fill="#fff"/><circle cx="300" cy="715" r="5.6" fill="#EE0000"/><circle cx="221.5" cy="708.6" r="4.8" fill="#fff"/><circle cx="209.5" cy="710" r="4.8" fill="#fff"/><circle cx="215" cy="705" r="5.6" fill="#EE0000"/></g>
<g stroke="#7F7F7F" stroke-width="2.3" fill="none">
<line x1="439" y1="400" x2="479" y2="400"/>
<line x1="439" y1="495.7" x2="479" y2="495.7"/>
<line x1="459" y1="401.5" x2="459" y2="438.2"/>
<line x1="459" y1="457.2" x2="459" y2="494.2"/>
<path d="M449.6,418 L459,402 L468.7,418"/>
<path d="M449.6,479.7 L459,493.7 L468.7,479.7"/>
</g>
<text x="455.8" y="451.7" font-size="17" fill="#000" text-anchor="middle" font-weight="bold" >14.6 Å</text>
<g stroke="#7F7F7F" stroke-width="2.3" fill="none">
<line x1="440.4" y1="641.7" x2="480.4" y2="641.7"/>
<line x1="440.4" y1="743" x2="480.4" y2="743"/>
<line x1="460.4" y1="643.2" x2="460.4" y2="683.4"/>
<line x1="460.4" y1="702.4" x2="460.4" y2="741.5"/>
<path d="M451,659.7 L460.4,643.7 L470.1,659.7"/>
<path d="M451,727 L460.4,741 L470.1,727"/>
</g>
<text x="457.2" y="696.9" font-size="17" fill="#000" text-anchor="middle" font-weight="bold" >15.5 Å</text>
<text x="447" y="357.4" font-size="19" fill="#ED7D31" text-anchor="start" font-weight="bold" >Dry</text>
<text x="447.5" y="598.4" font-size="19" fill="#4472C4" text-anchor="start" font-weight="bold" >Wet</text>
<text x="3" y="355.5" font-size="28" fill="#000" text-anchor="start" font-weight="bold" >e</text>
<g fill="#A6A6A6" stroke="#000" stroke-width="0.9"><circle cx="556.9" cy="346" r="3.8"/><circle cx="564.2" cy="346" r="3.8"/><circle cx="579" cy="346" r="3.8"/><circle cx="586.2" cy="346" r="3.8"/><circle cx="601" cy="346" r="3.8"/><circle cx="608.2" cy="346" r="3.8"/><circle cx="623" cy="346" r="3.8"/><circle cx="630.2" cy="346" r="3.8"/><circle cx="645" cy="346" r="3.8"/><circle cx="652.2" cy="346" r="3.8"/><circle cx="667" cy="346" r="3.8"/><circle cx="674.2" cy="346" r="3.8"/><circle cx="689" cy="346" r="3.8"/><circle cx="696.3" cy="346" r="3.8"/><circle cx="711.1" cy="346" r="3.8"/><circle cx="718.3" cy="346" r="3.8"/><circle cx="733.1" cy="346" r="3.8"/><circle cx="740.3" cy="346" r="3.8"/><circle cx="755.1" cy="346" r="3.8"/><circle cx="762.3" cy="346" r="3.8"/><circle cx="553.4" cy="346.5" r="3.8"/><circle cx="568.2" cy="346.5" r="3.8"/><circle cx="575.5" cy="346.5" r="3.8"/><circle cx="590.2" cy="346.5" r="3.8"/><circle cx="597.5" cy="346.5" r="3.8"/><circle cx="612.2" cy="346.5" r="3.8"/><circle cx="619.5" cy="346.5" r="3.8"/><circle cx="634.2" cy="346.5" r="3.8"/><circle cx="641.5" cy="346.5" r="3.8"/><circle cx="656.2" cy="346.5" r="3.8"/><circle cx="663.5" cy="346.5" r="3.8"/><circle cx="678.3" cy="346.5" r="3.8"/><circle cx="685.6" cy="346.5" r="3.8"/><circle cx="700.3" cy="346.5" r="3.8"/><circle cx="707.6" cy="346.5" r="3.8"/><circle cx="722.3" cy="346.5" r="3.8"/><circle cx="729.6" cy="346.5" r="3.8"/><circle cx="744.3" cy="346.5" r="3.8"/><circle cx="751.6" cy="346.5" r="3.8"/><circle cx="766.3" cy="346.5" r="3.8"/></g>
<g fill="#A6A6A6" stroke="#000" stroke-width="0.9"><circle cx="556.9" cy="363.3" r="3.8"/><circle cx="564.2" cy="363.3" r="3.8"/><circle cx="579" cy="363.3" r="3.8"/><circle cx="586.2" cy="363.3" r="3.8"/><circle cx="601" cy="363.3" r="3.8"/><circle cx="608.2" cy="363.3" r="3.8"/><circle cx="623" cy="363.3" r="3.8"/><circle cx="630.2" cy="363.3" r="3.8"/><circle cx="645" cy="363.3" r="3.8"/><circle cx="652.2" cy="363.3" r="3.8"/><circle cx="667" cy="363.3" r="3.8"/><circle cx="674.2" cy="363.3" r="3.8"/><circle cx="689" cy="363.3" r="3.8"/><circle cx="696.3" cy="363.3" r="3.8"/><circle cx="711.1" cy="363.3" r="3.8"/><circle cx="718.3" cy="363.3" r="3.8"/><circle cx="733.1" cy="363.3" r="3.8"/><circle cx="740.3" cy="363.3" r="3.8"/><circle cx="755.1" cy="363.3" r="3.8"/><circle cx="762.3" cy="363.3" r="3.8"/><circle cx="553.4" cy="363.8" r="3.8"/><circle cx="568.2" cy="363.8" r="3.8"/><circle cx="575.5" cy="363.8" r="3.8"/><circle cx="590.2" cy="363.8" r="3.8"/><circle cx="597.5" cy="363.8" r="3.8"/><circle cx="612.2" cy="363.8" r="3.8"/><circle cx="619.5" cy="363.8" r="3.8"/><circle cx="634.2" cy="363.8" r="3.8"/><circle cx="641.5" cy="363.8" r="3.8"/><circle cx="656.2" cy="363.8" r="3.8"/><circle cx="663.5" cy="363.8" r="3.8"/><circle cx="678.3" cy="363.8" r="3.8"/><circle cx="685.6" cy="363.8" r="3.8"/><circle cx="700.3" cy="363.8" r="3.8"/><circle cx="707.6" cy="363.8" r="3.8"/><circle cx="722.3" cy="363.8" r="3.8"/><circle cx="729.6" cy="363.8" r="3.8"/><circle cx="744.3" cy="363.8" r="3.8"/><circle cx="751.6" cy="363.8" r="3.8"/><circle cx="766.3" cy="363.8" r="3.8"/></g>
<g fill="#F07272" stroke="#000" stroke-width="0.9"><circle cx="556.9" cy="380.5" r="3.8"/><circle cx="564.2" cy="380.5" r="3.8"/><circle cx="579" cy="380.5" r="3.8"/><circle cx="586.2" cy="380.5" r="3.8"/><circle cx="601" cy="380.5" r="3.8"/><circle cx="608.2" cy="380.5" r="3.8"/><circle cx="623" cy="380.5" r="3.8"/><circle cx="630.2" cy="380.5" r="3.8"/><circle cx="645" cy="380.5" r="3.8"/><circle cx="652.2" cy="380.5" r="3.8"/><circle cx="667" cy="380.5" r="3.8"/><circle cx="674.2" cy="380.5" r="3.8"/><circle cx="689" cy="380.5" r="3.8"/><circle cx="696.3" cy="380.5" r="3.8"/><circle cx="711.1" cy="380.5" r="3.8"/><circle cx="718.3" cy="380.5" r="3.8"/><circle cx="733.1" cy="380.5" r="3.8"/><circle cx="740.3" cy="380.5" r="3.8"/><circle cx="755.1" cy="380.5" r="3.8"/><circle cx="762.3" cy="380.5" r="3.8"/><circle cx="553.4" cy="381" r="3.8"/><circle cx="568.2" cy="381" r="3.8"/><circle cx="575.5" cy="381" r="3.8"/><circle cx="590.2" cy="381" r="3.8"/><circle cx="597.5" cy="381" r="3.8"/><circle cx="612.2" cy="381" r="3.8"/><circle cx="619.5" cy="381" r="3.8"/><circle cx="634.2" cy="381" r="3.8"/><circle cx="641.5" cy="381" r="3.8"/><circle cx="656.2" cy="381" r="3.8"/><circle cx="663.5" cy="381" r="3.8"/><circle cx="678.3" cy="381" r="3.8"/><circle cx="685.6" cy="381" r="3.8"/><circle cx="700.3" cy="381" r="3.8"/><circle cx="707.6" cy="381" r="3.8"/><circle cx="722.3" cy="381" r="3.8"/><circle cx="729.6" cy="381" r="3.8"/><circle cx="744.3" cy="381" r="3.8"/><circle cx="751.6" cy="381" r="3.8"/><circle cx="766.3" cy="381" r="3.8"/></g>
<g fill="#7474F2" stroke="#000" stroke-width="0.9"><circle cx="556.9" cy="455.2" r="3.8"/><circle cx="564.2" cy="455.2" r="3.8"/><circle cx="579" cy="455.2" r="3.8"/><circle cx="586.2" cy="455.2" r="3.8"/><circle cx="601" cy="455.2" r="3.8"/><circle cx="608.2" cy="455.2" r="3.8"/><circle cx="623" cy="455.2" r="3.8"/><circle cx="630.2" cy="455.2" r="3.8"/><circle cx="645" cy="455.2" r="3.8"/><circle cx="652.2" cy="455.2" r="3.8"/><circle cx="667" cy="455.2" r="3.8"/><circle cx="674.2" cy="455.2" r="3.8"/><circle cx="689" cy="455.2" r="3.8"/><circle cx="696.3" cy="455.2" r="3.8"/><circle cx="711.1" cy="455.2" r="3.8"/><circle cx="718.3" cy="455.2" r="3.8"/><circle cx="733.1" cy="455.2" r="3.8"/><circle cx="740.3" cy="455.2" r="3.8"/><circle cx="755.1" cy="455.2" r="3.8"/><circle cx="762.3" cy="455.2" r="3.8"/><circle cx="553.4" cy="455.7" r="3.8"/><circle cx="568.2" cy="455.7" r="3.8"/><circle cx="575.5" cy="455.7" r="3.8"/><circle cx="590.2" cy="455.7" r="3.8"/><circle cx="597.5" cy="455.7" r="3.8"/><circle cx="612.2" cy="455.7" r="3.8"/><circle cx="619.5" cy="455.7" r="3.8"/><circle cx="634.2" cy="455.7" r="3.8"/><circle cx="641.5" cy="455.7" r="3.8"/><circle cx="656.2" cy="455.7" r="3.8"/><circle cx="663.5" cy="455.7" r="3.8"/><circle cx="678.3" cy="455.7" r="3.8"/><circle cx="685.6" cy="455.7" r="3.8"/><circle cx="700.3" cy="455.7" r="3.8"/><circle cx="707.6" cy="455.7" r="3.8"/><circle cx="722.3" cy="455.7" r="3.8"/><circle cx="729.6" cy="455.7" r="3.8"/><circle cx="744.3" cy="455.7" r="3.8"/><circle cx="751.6" cy="455.7" r="3.8"/><circle cx="766.3" cy="455.7" r="3.8"/></g>
<g fill="#A6A6A6" stroke="#000" stroke-width="0.9"><circle cx="556.9" cy="472.4" r="3.8"/><circle cx="564.2" cy="472.4" r="3.8"/><circle cx="579" cy="472.4" r="3.8"/><circle cx="586.2" cy="472.4" r="3.8"/><circle cx="601" cy="472.4" r="3.8"/><circle cx="608.2" cy="472.4" r="3.8"/><circle cx="623" cy="472.4" r="3.8"/><circle cx="630.2" cy="472.4" r="3.8"/><circle cx="645" cy="472.4" r="3.8"/><circle cx="652.2" cy="472.4" r="3.8"/><circle cx="667" cy="472.4" r="3.8"/><circle cx="674.2" cy="472.4" r="3.8"/><circle cx="689" cy="472.4" r="3.8"/><circle cx="696.3" cy="472.4" r="3.8"/><circle cx="711.1" cy="472.4" r="3.8"/><circle cx="718.3" cy="472.4" r="3.8"/><circle cx="733.1" cy="472.4" r="3.8"/><circle cx="740.3" cy="472.4" r="3.8"/><circle cx="755.1" cy="472.4" r="3.8"/><circle cx="762.3" cy="472.4" r="3.8"/><circle cx="553.4" cy="472.9" r="3.8"/><circle cx="568.2" cy="472.9" r="3.8"/><circle cx="575.5" cy="472.9" r="3.8"/><circle cx="590.2" cy="472.9" r="3.8"/><circle cx="597.5" cy="472.9" r="3.8"/><circle cx="612.2" cy="472.9" r="3.8"/><circle cx="619.5" cy="472.9" r="3.8"/><circle cx="634.2" cy="472.9" r="3.8"/><circle cx="641.5" cy="472.9" r="3.8"/><circle cx="656.2" cy="472.9" r="3.8"/><circle cx="663.5" cy="472.9" r="3.8"/><circle cx="678.3" cy="472.9" r="3.8"/><circle cx="685.6" cy="472.9" r="3.8"/><circle cx="700.3" cy="472.9" r="3.8"/><circle cx="707.6" cy="472.9" r="3.8"/><circle cx="722.3" cy="472.9" r="3.8"/><circle cx="729.6" cy="472.9" r="3.8"/><circle cx="744.3" cy="472.9" r="3.8"/><circle cx="751.6" cy="472.9" r="3.8"/><circle cx="766.3" cy="472.9" r="3.8"/></g>
<g fill="#A6A6A6" stroke="#000" stroke-width="0.9"><circle cx="556.9" cy="489.6" r="3.8"/><circle cx="564.2" cy="489.6" r="3.8"/><circle cx="579" cy="489.6" r="3.8"/><circle cx="586.2" cy="489.6" r="3.8"/><circle cx="601" cy="489.6" r="3.8"/><circle cx="608.2" cy="489.6" r="3.8"/><circle cx="623" cy="489.6" r="3.8"/><circle cx="630.2" cy="489.6" r="3.8"/><circle cx="645" cy="489.6" r="3.8"/><circle cx="652.2" cy="489.6" r="3.8"/><circle cx="667" cy="489.6" r="3.8"/><circle cx="674.2" cy="489.6" r="3.8"/><circle cx="689" cy="489.6" r="3.8"/><circle cx="696.3" cy="489.6" r="3.8"/><circle cx="711.1" cy="489.6" r="3.8"/><circle cx="718.3" cy="489.6" r="3.8"/><circle cx="733.1" cy="489.6" r="3.8"/><circle cx="740.3" cy="489.6" r="3.8"/><circle cx="755.1" cy="489.6" r="3.8"/><circle cx="762.3" cy="489.6" r="3.8"/><circle cx="553.4" cy="490.1" r="3.8"/><circle cx="568.2" cy="490.1" r="3.8"/><circle cx="575.5" cy="490.1" r="3.8"/><circle cx="590.2" cy="490.1" r="3.8"/><circle cx="597.5" cy="490.1" r="3.8"/><circle cx="612.2" cy="490.1" r="3.8"/><circle cx="619.5" cy="490.1" r="3.8"/><circle cx="634.2" cy="490.1" r="3.8"/><circle cx="641.5" cy="490.1" r="3.8"/><circle cx="656.2" cy="490.1" r="3.8"/><circle cx="663.5" cy="490.1" r="3.8"/><circle cx="678.3" cy="490.1" r="3.8"/><circle cx="685.6" cy="490.1" r="3.8"/><circle cx="700.3" cy="490.1" r="3.8"/><circle cx="707.6" cy="490.1" r="3.8"/><circle cx="722.3" cy="490.1" r="3.8"/><circle cx="729.6" cy="490.1" r="3.8"/><circle cx="744.3" cy="490.1" r="3.8"/><circle cx="751.6" cy="490.1" r="3.8"/><circle cx="766.3" cy="490.1" r="3.8"/></g>
<g stroke="#000" stroke-width="0.5"><circle cx="539.5" cy="403.7" r="4.2" fill="#D8B21A"/><circle cx="544.4" cy="435" r="4" fill="#01EEEF"/><circle cx="667.5" cy="393.3" r="3.9" fill="#FF7300"/><circle cx="618.4" cy="401.2" r="3.8" fill="#F99C00"/><circle cx="639.6" cy="430.9" r="4.1" fill="#14EAE1"/><circle cx="611.7" cy="410" r="3.8" fill="#DEAF14"/><circle cx="534.6" cy="436.5" r="4.2" fill="#0FB1F6"/><circle cx="615.8" cy="424.9" r="3.5" fill="#72D388"/><circle cx="640.3" cy="394.8" r="3.4" fill="#FF8B00"/><circle cx="776.7" cy="423.3" r="3.5" fill="#93C963"/><circle cx="770.4" cy="415.3" r="3.5" fill="#AEC146"/><circle cx="610.2" cy="423.3" r="3.7" fill="#73D387"/><circle cx="635.8" cy="407.1" r="3.6" fill="#E8AB0B"/><circle cx="664.4" cy="412.9" r="3.6" fill="#CCB724"/><circle cx="614.1" cy="418.6" r="3.8" fill="#BDBC34"/><circle cx="772.7" cy="417.9" r="3.9" fill="#9FC656"/><circle cx="569.2" cy="395.7" r="3.8" fill="#FF8200"/><circle cx="746.1" cy="396" r="4.2" fill="#FF8300"/><circle cx="575" cy="409.3" r="3.8" fill="#F5A500"/><circle cx="670.7" cy="390.1" r="4" fill="#FF7300"/><circle cx="592" cy="448.2" r="3.9" fill="#0FAAF6"/><circle cx="635.5" cy="441.6" r="3.6" fill="#0AD8F5"/><circle cx="672.2" cy="446.7" r="4.2" fill="#0FC9F8"/><circle cx="681.6" cy="396.1" r="3.8" fill="#FF8100"/><circle cx="570.1" cy="417.1" r="4" fill="#92CA65"/><circle cx="579.2" cy="413.1" r="4" fill="#CBB825"/><circle cx="549.8" cy="429.9" r="3.4" fill="#29E5D1"/><circle cx="656.3" cy="395.2" r="3.9" fill="#FF8100"/><circle cx="761.2" cy="443.2" r="3.8" fill="#146EEB"/><circle cx="558.3" cy="393.1" r="3.7" fill="#FF8200"/><circle cx="683.8" cy="437" r="3.7" fill="#04E4F2"/><circle cx="665.9" cy="429.8" r="4" fill="#37E2C7"/><circle cx="685.6" cy="398.3" r="3.7" fill="#FF8300"/><circle cx="658.1" cy="398.2" r="3.5" fill="#FF8400"/><circle cx="654.2" cy="421.1" r="4.3" fill="#A3C451"/><circle cx="550.3" cy="427.9" r="4.3" fill="#2AE5D1"/><circle cx="745.8" cy="433.8" r="3.7" fill="#0FA9F6"/><circle cx="565.6" cy="427.6" r="4" fill="#57DAA6"/><circle cx="567.4" cy="445.9" r="3.5" fill="#0DD1F7"/><circle cx="576.7" cy="401.9" r="3.9" fill="#FB9600"/><circle cx="580.5" cy="401.2" r="3.6" fill="#FA9800"/><circle cx="728.5" cy="417.8" r="3.9" fill="#ABC249"/><circle cx="670.6" cy="426" r="4.1" fill="#4BDDB3"/><circle cx="615.6" cy="433.9" r="3.4" fill="#27E5D2"/><circle cx="756.7" cy="429.8" r="3.8" fill="#0FC9F8"/><circle cx="689.7" cy="407.3" r="3.5" fill="#DEAF14"/><circle cx="605.5" cy="447.4" r="4.1" fill="#0FCEF8"/><circle cx="727.6" cy="447.2" r="4" fill="#0F9CF4"/><circle cx="640.6" cy="432.1" r="4.2" fill="#39E2C5"/><circle cx="656.5" cy="411.2" r="3.9" fill="#DDB016"/><circle cx="729.4" cy="429.9" r="4" fill="#47DEB7"/><circle cx="615.2" cy="412.4" r="4.1" fill="#D9B219"/><circle cx="769.5" cy="445.1" r="3.6" fill="#146EEB"/><circle cx="599.1" cy="420.7" r="3.8" fill="#AFC144"/><circle cx="541.4" cy="437.4" r="3.8" fill="#0FC3F7"/><circle cx="708" cy="398.6" r="3.8" fill="#FF8200"/><circle cx="551.8" cy="429.1" r="4.2" fill="#1DE8DA"/><circle cx="611.7" cy="397.2" r="3.8" fill="#FF8100"/><circle cx="547.5" cy="418" r="4.2" fill="#BBBD37"/><circle cx="584.7" cy="420" r="4.1" fill="#84CE75"/><circle cx="596.9" cy="428.1" r="3.9" fill="#2EE4CD"/><circle cx="561" cy="419.2" r="4" fill="#9BC75B"/><circle cx="663" cy="428.9" r="3.5" fill="#31E3CB"/><circle cx="753.5" cy="434.8" r="3.9" fill="#0FA5F5"/><circle cx="549.4" cy="434.3" r="4.1" fill="#02EDEE"/><circle cx="750.9" cy="394.7" r="4" fill="#FF7F00"/><circle cx="715.3" cy="424.3" r="3.7" fill="#66D796"/><circle cx="591.6" cy="413.7" r="3.5" fill="#D3B41E"/><circle cx="629.1" cy="420.6" r="3.4" fill="#68D694"/><circle cx="593.1" cy="447.6" r="3.5" fill="#0FC7F8"/><circle cx="567.9" cy="426.5" r="4.2" fill="#63D799"/><circle cx="665.2" cy="423.7" r="3.9" fill="#6BD590"/><circle cx="562.5" cy="398.6" r="4" fill="#FE8E00"/><circle cx="526" cy="402.8" r="3.9" fill="#87CD71"/><circle cx="579.4" cy="445" r="4" fill="#0CD3F7"/><circle cx="715.9" cy="438.1" r="4.2" fill="#01EEF0"/><circle cx="525" cy="412.2" r="4" fill="#3DE1C2"/><circle cx="577" cy="438.9" r="3.7" fill="#03E7F2"/><circle cx="573.8" cy="430.7" r="4.2" fill="#45DFB9"/><circle cx="659.7" cy="415.5" r="3.6" fill="#AAC24A"/><circle cx="678.3" cy="389.8" r="3.8" fill="#FF7300"/><circle cx="544" cy="414.1" r="3.4" fill="#BCBD35"/><circle cx="679.8" cy="390.5" r="4.1" fill="#FF7300"/><circle cx="544.1" cy="447.3" r="3.8" fill="#1379ED"/><circle cx="658.2" cy="429.5" r="3.7" fill="#52DBAB"/><circle cx="541.9" cy="440" r="3.8" fill="#0DD2F7"/><circle cx="671.4" cy="428.9" r="3.9" fill="#29E5D1"/><circle cx="576.9" cy="424" r="3.7" fill="#52DBAB"/><circle cx="643.6" cy="418.5" r="3.5" fill="#A7C34E"/><circle cx="660.4" cy="427.9" r="4" fill="#57DAA6"/><circle cx="739.3" cy="427.5" r="3.9" fill="#07DFF4"/><circle cx="727.8" cy="407.2" r="3.6" fill="#F6A300"/><circle cx="682.3" cy="395.4" r="4.1" fill="#FF8B00"/><circle cx="682.5" cy="438.2" r="4" fill="#0AECE8"/><circle cx="698.8" cy="431.2" r="3.8" fill="#2DE4CE"/><circle cx="534" cy="406.7" r="4" fill="#C4BA2D"/><circle cx="643.1" cy="404.9" r="3.8" fill="#EFA806"/><circle cx="625.3" cy="397.1" r="4.1" fill="#FF8000"/><circle cx="677.6" cy="410.1" r="4" fill="#EBAA09"/><circle cx="638.2" cy="437.1" r="3.6" fill="#06E1F3"/><circle cx="611.3" cy="424.6" r="3.5" fill="#65D796"/><circle cx="586.4" cy="436.3" r="4.2" fill="#01EBF1"/><circle cx="764.3" cy="419.7" r="4.2" fill="#00EDF0"/><circle cx="776" cy="397.1" r="3.5" fill="#FF7300"/><circle cx="659" cy="434.6" r="3.6" fill="#13EAE2"/><circle cx="674.2" cy="390.5" r="3.7" fill="#FF7300"/><circle cx="758.2" cy="393.5" r="3.8" fill="#FF7300"/><circle cx="762.8" cy="403" r="3.6" fill="#F7A100"/><circle cx="590.9" cy="431.1" r="4.1" fill="#33E3CA"/><circle cx="582.6" cy="427.3" r="3.5" fill="#68D693"/><circle cx="768" cy="404.2" r="4.2" fill="#F5A500"/><circle cx="529.9" cy="395.7" r="4.1" fill="#E9AA0A"/><circle cx="542.6" cy="440.8" r="4.1" fill="#0AD9F5"/><circle cx="615.3" cy="442.4" r="4.1" fill="#09DBF5"/><circle cx="680.3" cy="433.1" r="3.8" fill="#12EAE3"/><circle cx="533.5" cy="395" r="3.4" fill="#EDA907"/><circle cx="532.6" cy="426" r="3.7" fill="#06EDEB"/><circle cx="718.3" cy="428.8" r="3.6" fill="#3FE0C0"/><circle cx="776" cy="416.9" r="3.6" fill="#CAB826"/><circle cx="601.3" cy="440.6" r="3.6" fill="#09DBF5"/><circle cx="773.2" cy="394" r="3.6" fill="#FF7300"/><circle cx="749.9" cy="429.7" r="3.4" fill="#0CD3F7"/><circle cx="719.4" cy="416.5" r="4" fill="#CEB622"/><circle cx="730.9" cy="397" r="3.7" fill="#FF7D00"/><circle cx="661.6" cy="402.4" r="3.6" fill="#FB9500"/><circle cx="716.9" cy="403" r="4.1" fill="#FD9200"/><circle cx="594.3" cy="444.3" r="4.1" fill="#0DD1F7"/><circle cx="563.1" cy="393.2" r="3.7" fill="#FF7700"/><circle cx="725.4" cy="432.2" r="3.4" fill="#05EDEC"/><circle cx="537" cy="433.5" r="4" fill="#0DD1F7"/><circle cx="663" cy="396.4" r="4" fill="#FF8D00"/><circle cx="532.5" cy="433.1" r="3.5" fill="#0BD6F6"/><circle cx="534.1" cy="411.4" r="4.3" fill="#A9C34B"/><circle cx="660.6" cy="448.4" r="3.7" fill="#1094F3"/><circle cx="648.2" cy="418.5" r="3.9" fill="#BBBD36"/><circle cx="759.6" cy="441.7" r="3.9" fill="#146EEB"/><circle cx="627.6" cy="436.6" r="4.1" fill="#04E6F2"/><circle cx="551.2" cy="411.6" r="4" fill="#E1AE12"/><circle cx="725.1" cy="404.4" r="3.6" fill="#EFA806"/><circle cx="648.9" cy="423.9" r="4.2" fill="#8ECB69"/><circle cx="536.1" cy="402.3" r="3.9" fill="#F1A704"/><circle cx="728.6" cy="413" r="4" fill="#E4AD0F"/><circle cx="686.7" cy="401.7" r="3.7" fill="#F89D00"/><circle cx="712.4" cy="410.6" r="3.6" fill="#F2A602"/><circle cx="651.2" cy="429.1" r="3.9" fill="#49DEB5"/><circle cx="584.4" cy="421.1" r="4" fill="#85CE73"/><circle cx="674.9" cy="396.5" r="3.9" fill="#FF8D00"/><circle cx="774.4" cy="418" r="4.3" fill="#A0C655"/><circle cx="716.1" cy="390.6" r="4.3" fill="#FF7D00"/><circle cx="747.7" cy="395.5" r="4.1" fill="#FF8B00"/><circle cx="770.1" cy="395.2" r="4.1" fill="#FF7300"/><circle cx="564.2" cy="434" r="3.6" fill="#27E6D3"/><circle cx="618.7" cy="410.4" r="4" fill="#CDB724"/><circle cx="701.3" cy="414.7" r="3.7" fill="#C7B929"/><circle cx="707.4" cy="431.3" r="3.6" fill="#37E2C6"/><circle cx="545.9" cy="423.8" r="4.2" fill="#70D48B"/><circle cx="550.6" cy="417.8" r="3.6" fill="#A3C552"/><circle cx="634.3" cy="400.8" r="3.7" fill="#F89D00"/><circle cx="594.7" cy="439.3" r="3.8" fill="#0CD3F7"/><circle cx="527" cy="418.5" r="3.6" fill="#0BECE7"/><circle cx="546.8" cy="401.2" r="4.1" fill="#FB9700"/><circle cx="529.3" cy="424.7" r="3.5" fill="#02EEEF"/><circle cx="525.3" cy="401.1" r="4.2" fill="#C8B928"/><circle cx="688.7" cy="399.3" r="3.9" fill="#FF8400"/><circle cx="613.5" cy="408.9" r="3.5" fill="#E2AD10"/><circle cx="625.2" cy="413.3" r="4" fill="#D4B41E"/><circle cx="771.9" cy="420.9" r="3.7" fill="#8CCC6C"/><circle cx="659" cy="437.6" r="3.6" fill="#02EAF1"/><circle cx="615.9" cy="425.7" r="3.6" fill="#53DBAB"/><circle cx="655.9" cy="445.1" r="3.9" fill="#0FCEF8"/><circle cx="742.6" cy="395.4" r="4.2" fill="#FF7D00"/><circle cx="659.5" cy="405.4" r="4.1" fill="#F0A705"/><circle cx="695.2" cy="414.4" r="4.2" fill="#B5BF3D"/><circle cx="707.1" cy="405.6" r="3.6" fill="#E8AB0B"/><circle cx="536" cy="402.9" r="3.9" fill="#D0B621"/><circle cx="741.1" cy="436.8" r="3.5" fill="#0FA5F5"/><circle cx="740.5" cy="400.9" r="3.7" fill="#FD9100"/><circle cx="682.8" cy="447.2" r="3.8" fill="#0FA6F5"/><circle cx="626.3" cy="438.2" r="3.5" fill="#06E1F3"/><circle cx="629" cy="420.1" r="3.9" fill="#6ED58D"/><circle cx="695.8" cy="427.9" r="4.1" fill="#34E3C9"/><circle cx="665.2" cy="411.2" r="3.5" fill="#DBB117"/><circle cx="546.6" cy="443.9" r="4.1" fill="#0DD1F7"/><circle cx="745.4" cy="418.4" r="4.1" fill="#26E6D4"/><circle cx="580.7" cy="427.2" r="4.2" fill="#50DCAD"/><circle cx="577.7" cy="397.4" r="3.5" fill="#FF8700"/><circle cx="615.5" cy="446.8" r="3.6" fill="#0FC6F8"/><circle cx="624.1" cy="413.7" r="4.1" fill="#C1BB30"/><circle cx="743.1" cy="413.6" r="3.7" fill="#31E3CB"/><circle cx="602.5" cy="392.6" r="3.8" fill="#FF7A00"/><circle cx="651.1" cy="391" r="3.4" fill="#FF7D00"/><circle cx="556.6" cy="430.9" r="3.8" fill="#2DE4CE"/><circle cx="772.8" cy="427.8" r="3.8" fill="#2DE4CE"/><circle cx="634.9" cy="397" r="4.1" fill="#FF7C00"/><circle cx="663.8" cy="431.9" r="3.6" fill="#2EE4CE"/><circle cx="589.5" cy="396" r="3.9" fill="#FF8700"/><circle cx="622.6" cy="414.2" r="4.1" fill="#CFB622"/><circle cx="778.4" cy="409.2" r="4" fill="#FF7C00"/><circle cx="662.4" cy="400.2" r="3.8" fill="#FD9000"/><circle cx="672.9" cy="435.9" r="3.5" fill="#1EE7D9"/><circle cx="657.1" cy="431.3" r="4" fill="#20E7D8"/><circle cx="675.1" cy="424.2" r="3.6" fill="#81CF78"/><circle cx="537" cy="434" r="3.8" fill="#04E5F2"/><circle cx="746.1" cy="409.1" r="4.2" fill="#EBA909"/><circle cx="525.1" cy="417.3" r="3.7" fill="#27E6D3"/><circle cx="630.1" cy="428.5" r="3.8" fill="#44DFBB"/><circle cx="679.9" cy="446.3" r="4" fill="#0FB0F6"/><circle cx="759" cy="406.1" r="4.1" fill="#F6A300"/><circle cx="572.5" cy="434.9" r="3.4" fill="#23E6D6"/><circle cx="556.5" cy="413.3" r="4.1" fill="#E4AC0F"/><circle cx="608.2" cy="447.4" r="3.5" fill="#0FA8F6"/><circle cx="772.5" cy="422.7" r="3.5" fill="#60D89C"/><circle cx="678.8" cy="400" r="3.5" fill="#FF8C00"/><circle cx="594.8" cy="401.7" r="3.8" fill="#FD9100"/><circle cx="760.5" cy="431.2" r="4" fill="#0ECFF8"/><circle cx="716.4" cy="437.6" r="3.7" fill="#12EAE2"/><circle cx="689.2" cy="439.6" r="4" fill="#04E5F2"/><circle cx="618" cy="436.7" r="3.9" fill="#00EDF0"/><circle cx="529.3" cy="409.6" r="3.8" fill="#96C960"/><circle cx="696.4" cy="433.7" r="4.2" fill="#01EDF0"/><circle cx="557.8" cy="399.2" r="3.5" fill="#FB9700"/><circle cx="631.4" cy="418.6" r="3.5" fill="#B9BE39"/><circle cx="659.4" cy="420.7" r="4.3" fill="#AFC144"/><circle cx="597.9" cy="435.6" r="3.5" fill="#13EAE2"/><circle cx="677.9" cy="393.9" r="3.5" fill="#FF7800"/><circle cx="658.9" cy="433.1" r="4.1" fill="#0BECE7"/><circle cx="574.6" cy="417.1" r="4.1" fill="#AAC24A"/><circle cx="732.2" cy="406.8" r="3.5" fill="#EBAA09"/><circle cx="758.5" cy="404.4" r="3.4" fill="#EEA806"/><circle cx="733.6" cy="430.8" r="4.2" fill="#2BE5D0"/><circle cx="688.8" cy="391.1" r="4.1" fill="#FF7300"/><circle cx="632.7" cy="443.8" r="3.9" fill="#0CD4F6"/><circle cx="532.2" cy="425" r="3.6" fill="#04E5F2"/><circle cx="576.2" cy="392.6" r="3.6" fill="#FF8000"/><circle cx="535.7" cy="439.9" r="4.2" fill="#1190F2"/><circle cx="552.6" cy="404.8" r="3.7" fill="#F6A200"/><circle cx="635.6" cy="412.7" r="4.2" fill="#DCB016"/><circle cx="557.5" cy="417.1" r="4.3" fill="#8FCB68"/><circle cx="573.3" cy="391.5" r="3.9" fill="#FF7300"/><circle cx="716.5" cy="447.6" r="3.4" fill="#1098F3"/><circle cx="720.7" cy="428.9" r="3.6" fill="#50DCAD"/><circle cx="622.4" cy="426.4" r="4" fill="#41E0BD"/><circle cx="722.5" cy="405.9" r="4" fill="#E9AB0B"/><circle cx="627.2" cy="415.6" r="4.1" fill="#D9B119"/><circle cx="643.4" cy="405" r="4.3" fill="#F5A400"/><circle cx="668.7" cy="439.5" r="3.8" fill="#04EDED"/><circle cx="587.8" cy="444.6" r="3.7" fill="#0FAFF6"/><circle cx="653.8" cy="393.7" r="4.1" fill="#FF7300"/><circle cx="705.8" cy="400" r="4" fill="#FF8800"/><circle cx="733.1" cy="433.7" r="4" fill="#05EDEC"/><circle cx="552.6" cy="444.2" r="3.7" fill="#0FB4F6"/><circle cx="740.9" cy="394.1" r="3.4" fill="#FF7F00"/><circle cx="783.2" cy="403.9" r="4.1" fill="#FF7300"/><circle cx="689.3" cy="425" r="3.8" fill="#64D797"/><circle cx="588.3" cy="421.9" r="3.6" fill="#6CD58F"/><circle cx="658.7" cy="428.2" r="3.8" fill="#3FE0C0"/><circle cx="584.9" cy="431.2" r="4.3" fill="#2AE5D1"/><circle cx="738.2" cy="441.7" r="3.4" fill="#146EEB"/><circle cx="635.6" cy="403.6" r="3.7" fill="#FB9600"/><circle cx="701.3" cy="443.3" r="3.6" fill="#0FCDF8"/><circle cx="784" cy="396.4" r="4.1" fill="#FF7300"/><circle cx="673.8" cy="444.1" r="3.9" fill="#0CD4F6"/><circle cx="546.2" cy="436.2" r="3.6" fill="#0AD9F5"/><circle cx="706.2" cy="447.6" r="3.5" fill="#1099F4"/><circle cx="684.1" cy="429" r="3.6" fill="#4EDCAF"/><circle cx="733.4" cy="429.9" r="4.1" fill="#24E6D5"/><circle cx="698.2" cy="393.7" r="3.7" fill="#FF8400"/><circle cx="627.9" cy="406.4" r="4.1" fill="#F3A602"/><circle cx="586.3" cy="417" r="4" fill="#ACC248"/><circle cx="729.7" cy="418" r="3.9" fill="#ABC249"/><circle cx="777" cy="428.7" r="3.9" fill="#29E5D1"/><circle cx="587.4" cy="396.6" r="3.9" fill="#FF8300"/><circle cx="574.1" cy="419.4" r="3.5" fill="#72D489"/><circle cx="552.7" cy="398.6" r="4" fill="#FB9700"/><circle cx="688.9" cy="389.9" r="3.7" fill="#FF7300"/><circle cx="737.8" cy="394.7" r="3.8" fill="#FF8700"/><circle cx="777.5" cy="400.6" r="3.6" fill="#FF7300"/><circle cx="757.2" cy="417.3" r="4" fill="#16E9DF"/><circle cx="693.5" cy="446.5" r="3.4" fill="#0FCEF8"/><circle cx="563.7" cy="396.2" r="3.7" fill="#FF8500"/><circle cx="725.9" cy="402.4" r="3.9" fill="#F7A000"/><circle cx="648.5" cy="416.9" r="3.8" fill="#CDB723"/><circle cx="785.4" cy="401.3" r="3.5" fill="#FF7300"/><circle cx="530.8" cy="403.6" r="4" fill="#C3BB2D"/><circle cx="607" cy="392.2" r="4.3" fill="#FF7900"/><circle cx="625.2" cy="399.9" r="4" fill="#FA9800"/><circle cx="678.9" cy="432.4" r="4.2" fill="#38E2C6"/><circle cx="655.3" cy="438.5" r="4.2" fill="#07DFF4"/><circle cx="719.5" cy="393.5" r="3.9" fill="#FF7900"/><circle cx="582" cy="411.4" r="3.5" fill="#CFB622"/><circle cx="544.2" cy="422.6" r="3.4" fill="#64D797"/><circle cx="564.5" cy="403.9" r="4.1" fill="#F89E00"/><circle cx="757.2" cy="423.3" r="3.7" fill="#01ECF1"/><circle cx="612.6" cy="426" r="3.9" fill="#7AD17F"/><circle cx="628.5" cy="394.4" r="4" fill="#FF8000"/><circle cx="600.4" cy="415" r="3.5" fill="#CEB723"/><circle cx="556.1" cy="442.4" r="4.2" fill="#0FC8F8"/><circle cx="662.1" cy="430.8" r="3.8" fill="#3AE1C4"/><circle cx="617.3" cy="435.5" r="3.7" fill="#05E4F3"/><circle cx="572" cy="395.8" r="3.7" fill="#FF8C00"/><circle cx="711.7" cy="436.6" r="3.7" fill="#05EDEC"/><circle cx="556.8" cy="436.7" r="3.4" fill="#04E5F2"/><circle cx="750.2" cy="405.3" r="4.1" fill="#F89F00"/><circle cx="761.9" cy="400.4" r="4" fill="#FC9400"/><circle cx="716.8" cy="406.1" r="3.7" fill="#F99A00"/><circle cx="722.7" cy="432.6" r="4" fill="#0BECE8"/><circle cx="761.3" cy="445.3" r="4.1" fill="#146EEB"/><circle cx="718.5" cy="438.9" r="3.5" fill="#06E0F3"/><circle cx="768.1" cy="444.2" r="3.5" fill="#146EEB"/><circle cx="714.9" cy="403.8" r="4" fill="#F89D00"/><circle cx="644.5" cy="395.3" r="3.7" fill="#FF8B00"/><circle cx="574.5" cy="408.9" r="3.6" fill="#E5AC0E"/><circle cx="640.5" cy="402.5" r="4" fill="#FB9500"/><circle cx="543.6" cy="410.3" r="4" fill="#E4AD0F"/><circle cx="674" cy="442.3" r="3.7" fill="#0FBFF7"/><circle cx="674.6" cy="418.6" r="4.1" fill="#7ED07B"/><circle cx="579.8" cy="407.3" r="3.6" fill="#E0AE13"/><circle cx="756.8" cy="400.1" r="4" fill="#FF8900"/><circle cx="563.8" cy="445.3" r="3.8" fill="#0BD5F6"/><circle cx="651" cy="409.7" r="3.4" fill="#ECA908"/><circle cx="544.3" cy="418.8" r="3.9" fill="#86CE72"/><circle cx="683.4" cy="419.3" r="4.1" fill="#B1C042"/><circle cx="772.1" cy="409.1" r="3.7" fill="#FF7300"/><circle cx="586.7" cy="421.2" r="3.6" fill="#60D89C"/><circle cx="598.8" cy="403.9" r="3.6" fill="#F6A200"/><circle cx="536" cy="410.1" r="4.2" fill="#C7B929"/><circle cx="552.5" cy="434" r="4.2" fill="#18E9DE"/><circle cx="552.9" cy="433.7" r="3.8" fill="#05EDEC"/><circle cx="675.5" cy="399.1" r="3.7" fill="#FF8800"/><circle cx="675.6" cy="408.2" r="3.9" fill="#F4A601"/><circle cx="705.1" cy="401.7" r="3.7" fill="#FA9900"/><circle cx="580.1" cy="404" r="3.9" fill="#FC9400"/><circle cx="769.5" cy="392.8" r="4" fill="#FF8000"/><circle cx="691.3" cy="397.6" r="4.2" fill="#FF8500"/><circle cx="756.6" cy="420.4" r="4.1" fill="#06EDEC"/><circle cx="573.5" cy="421.3" r="3.6" fill="#79D281"/><circle cx="730" cy="393.2" r="3.7" fill="#FF7300"/><circle cx="744.6" cy="445.4" r="4.3" fill="#146EEB"/><circle cx="758.8" cy="423.6" r="3.8" fill="#04E4F2"/><circle cx="564.3" cy="446.1" r="3.8" fill="#0FA1F5"/><circle cx="690.6" cy="392.6" r="3.9" fill="#FF8500"/><circle cx="744.5" cy="430" r="3.5" fill="#0FB0F6"/><circle cx="743.6" cy="401" r="3.6" fill="#FF8C00"/><circle cx="663.2" cy="399" r="3.4" fill="#FF8800"/><circle cx="758" cy="395.9" r="4" fill="#FF8900"/><circle cx="564.1" cy="446.2" r="4" fill="#0FCDF8"/><circle cx="766.8" cy="408.9" r="3.8" fill="#E8AB0C"/><circle cx="635.1" cy="410.8" r="3.6" fill="#E2AD11"/><circle cx="627.9" cy="408.2" r="3.6" fill="#E1AE12"/><circle cx="533.2" cy="402.9" r="4.2" fill="#C9B827"/><circle cx="754.1" cy="426.6" r="3.5" fill="#0CD4F6"/><circle cx="725.2" cy="434.3" r="3.5" fill="#15E9E0"/><circle cx="614.8" cy="398.9" r="3.9" fill="#FE8F00"/><circle cx="591.4" cy="421.1" r="4.1" fill="#63D798"/><circle cx="682" cy="400.5" r="4" fill="#FD9100"/><circle cx="667.7" cy="420.4" r="4.2" fill="#A1C554"/><circle cx="590.6" cy="403" r="4.1" fill="#F6A200"/><circle cx="769.1" cy="421" r="3.9" fill="#17E9DF"/><circle cx="546" cy="396.1" r="3.7" fill="#FF7E00"/><circle cx="696.6" cy="426.1" r="4.2" fill="#72D489"/><circle cx="554.7" cy="400.9" r="3.5" fill="#FB9600"/><circle cx="625" cy="397.5" r="4" fill="#FE8E00"/><circle cx="685" cy="392.6" r="3.7" fill="#FF7300"/><circle cx="693.9" cy="401.5" r="4.2" fill="#FE8F00"/><circle cx="620.9" cy="425.8" r="3.4" fill="#72D388"/><circle cx="759.9" cy="437" r="3.8" fill="#146EEB"/><circle cx="689.3" cy="398" r="4.1" fill="#FE8D00"/><circle cx="730" cy="405.6" r="4.2" fill="#F89C00"/><circle cx="553.7" cy="415.8" r="3.8" fill="#D0B521"/><circle cx="571.4" cy="423.2" r="3.6" fill="#65D796"/><circle cx="601.2" cy="425" r="3.6" fill="#6FD48C"/><circle cx="743.5" cy="426.9" r="4.3" fill="#06E1F3"/><circle cx="575.3" cy="417.4" r="4.3" fill="#BCBD35"/><circle cx="564.9" cy="427.9" r="4.1" fill="#4ADEB4"/><circle cx="595.4" cy="397.7" r="3.4" fill="#FF8800"/><circle cx="555.3" cy="411" r="3.6" fill="#E0AE13"/><circle cx="746.2" cy="436" r="4" fill="#127DEE"/><circle cx="559.2" cy="443.1" r="4.2" fill="#0BD5F6"/><circle cx="746.1" cy="425.6" r="4.3" fill="#05E4F2"/><circle cx="617.9" cy="440.1" r="3.8" fill="#0AD7F5"/><circle cx="617.3" cy="425.1" r="3.8" fill="#7CD17E"/><circle cx="613.2" cy="444.4" r="3.6" fill="#0FCEF8"/><circle cx="535.7" cy="406.1" r="3.6" fill="#C7B929"/><circle cx="589.3" cy="433.8" r="3.4" fill="#13EAE2"/><circle cx="557.8" cy="426.9" r="4" fill="#2EE4CD"/><circle cx="749.3" cy="429" r="3.4" fill="#0ECFF8"/><circle cx="676" cy="447.4" r="4.1" fill="#0FB4F6"/><circle cx="749.3" cy="416.4" r="4" fill="#28E5D2"/><circle cx="659.1" cy="416.4" r="3.8" fill="#D1B520"/><circle cx="716.4" cy="418.2" r="3.9" fill="#8BCC6D"/><circle cx="674.1" cy="404.5" r="4.3" fill="#FA9700"/><circle cx="694.1" cy="389.6" r="4.3" fill="#FF7300"/><circle cx="782.6" cy="404.5" r="3.6" fill="#FF7300"/><circle cx="689.6" cy="395.5" r="4.1" fill="#FF8800"/><circle cx="625.3" cy="391.9" r="3.4" fill="#FF7300"/><circle cx="532.6" cy="412.5" r="4" fill="#82CF77"/><circle cx="653.2" cy="434.9" r="3.6" fill="#01EEF0"/><circle cx="550.2" cy="429" r="3.5" fill="#43DFBC"/><circle cx="621.3" cy="401.8" r="4.1" fill="#FA9800"/><circle cx="677.2" cy="412.3" r="4" fill="#DFAF13"/><circle cx="761.6" cy="393.7" r="3.8" fill="#FF8600"/><circle cx="755.1" cy="441.9" r="3.6" fill="#146EEB"/><circle cx="590.9" cy="427.7" r="3.6" fill="#55DBA8"/><circle cx="564.1" cy="394.3" r="3.7" fill="#FF8100"/><circle cx="547.2" cy="402.3" r="4.3" fill="#FC9200"/><circle cx="627.3" cy="434.9" r="3.6" fill="#09ECE9"/><circle cx="762.7" cy="415.8" r="3.4" fill="#38E2C6"/><circle cx="689.2" cy="396.8" r="4" fill="#FD9200"/><circle cx="676.4" cy="441.5" r="3.6" fill="#0FC5F7"/><circle cx="550.3" cy="404" r="4.2" fill="#FC9400"/><circle cx="693.7" cy="446.5" r="3.7" fill="#0ECFF7"/><circle cx="757.8" cy="433.9" r="3.7" fill="#0FB4F6"/><circle cx="729.6" cy="406.1" r="4.1" fill="#E8AB0B"/><circle cx="709.6" cy="392.8" r="3.5" fill="#FF7500"/><circle cx="693" cy="436.1" r="3.8" fill="#04EDED"/><circle cx="595" cy="438.6" r="4" fill="#03EDEE"/><circle cx="693.1" cy="421.4" r="4.1" fill="#60D89C"/><circle cx="750.2" cy="410.7" r="3.4" fill="#38E2C6"/><circle cx="667.9" cy="433.1" r="3.7" fill="#15E9E0"/><circle cx="680.5" cy="441.5" r="3.7" fill="#08DCF4"/><circle cx="687" cy="428" r="4" fill="#59DAA3"/><circle cx="597.1" cy="407.3" r="3.7" fill="#F6A300"/><circle cx="568.4" cy="441.7" r="3.6" fill="#0CD3F6"/><circle cx="623.5" cy="436.7" r="3.8" fill="#1AE8DC"/><circle cx="636.2" cy="443.8" r="3.6" fill="#0FBDF7"/><circle cx="560.5" cy="398.6" r="4.1" fill="#FD9000"/><circle cx="615.4" cy="420.4" r="4.2" fill="#79D281"/><circle cx="703.7" cy="445.3" r="3.6" fill="#0FC4F7"/><circle cx="685.5" cy="396.4" r="3.5" fill="#FF8600"/><circle cx="658.1" cy="400.6" r="3.7" fill="#FE8E00"/><circle cx="529.2" cy="419.3" r="4.2" fill="#1FE7D9"/><circle cx="595.5" cy="438.3" r="3.5" fill="#04E4F2"/><circle cx="564.9" cy="443.2" r="4.2" fill="#0FC3F7"/><circle cx="733" cy="443.1" r="3.9" fill="#0FC5F7"/><circle cx="700.8" cy="396.6" r="4.3" fill="#FF8C00"/><circle cx="609.1" cy="420.8" r="4.3" fill="#91CA66"/><circle cx="611.9" cy="446.1" r="3.5" fill="#0DD2F7"/><circle cx="572.3" cy="407.4" r="4" fill="#E9AA0B"/><circle cx="569.9" cy="406.3" r="3.5" fill="#F2A602"/><circle cx="573.6" cy="434" r="4.2" fill="#02E9F1"/><circle cx="735.8" cy="402" r="3.5" fill="#FE8F00"/><circle cx="774.3" cy="413.4" r="4" fill="#CEB723"/><circle cx="616.5" cy="414.1" r="4" fill="#CAB826"/><circle cx="752.1" cy="394.1" r="3.6" fill="#FF8800"/><circle cx="668" cy="445.5" r="3.9" fill="#0DD2F7"/><circle cx="729.4" cy="434.3" r="4.3" fill="#2BE5D0"/><circle cx="549.1" cy="429.9" r="4.2" fill="#42E0BD"/><circle cx="710.6" cy="401.1" r="4.2" fill="#FF8A00"/><circle cx="595.6" cy="447.7" r="4.1" fill="#0FA1F5"/><circle cx="556.3" cy="398.5" r="3.6" fill="#FF8400"/><circle cx="743.2" cy="406.9" r="4" fill="#F6A200"/><circle cx="622.3" cy="429" r="4" fill="#23E6D6"/><circle cx="548.8" cy="419.4" r="4" fill="#94C963"/><circle cx="698.9" cy="392.3" r="3.7" fill="#FF7500"/><circle cx="757.5" cy="423.7" r="4.3" fill="#0ED0F7"/><circle cx="547.5" cy="436.9" r="4.1" fill="#14EAE1"/><circle cx="526" cy="405.5" r="3.4" fill="#70D48B"/><circle cx="708.4" cy="404.1" r="3.6" fill="#F79F00"/><circle cx="641.4" cy="414.5" r="3.7" fill="#ADC146"/><circle cx="730.8" cy="397.9" r="3.5" fill="#FF8800"/><circle cx="775.9" cy="430.3" r="4.1" fill="#0FA6F5"/><circle cx="623.3" cy="401.6" r="3.8" fill="#FA9900"/><circle cx="608.4" cy="436.6" r="3.8" fill="#03E8F2"/><circle cx="749.3" cy="402.8" r="4" fill="#FE9000"/><circle cx="751.1" cy="406.2" r="3.7" fill="#F0A704"/><circle cx="574.4" cy="439.6" r="4.1" fill="#07DFF4"/><circle cx="705.4" cy="397.9" r="4.1" fill="#FD9000"/><circle cx="725.2" cy="409.4" r="4" fill="#EBA909"/><circle cx="591.8" cy="442.9" r="4.2" fill="#06E0F3"/><circle cx="627.1" cy="407.6" r="4.3" fill="#F89E00"/><circle cx="572.5" cy="409.5" r="4.1" fill="#E1AE12"/><circle cx="548.4" cy="424.2" r="3.6" fill="#75D386"/><circle cx="567.2" cy="430.7" r="4.1" fill="#1EE7D9"/><circle cx="561.7" cy="392.1" r="3.9" fill="#FF7300"/><circle cx="622.4" cy="437.1" r="4.3" fill="#08DDF4"/><circle cx="607" cy="429.9" r="3.8" fill="#23E6D6"/><circle cx="536.5" cy="417.8" r="4.2" fill="#39E2C5"/><circle cx="552.2" cy="400.9" r="4.1" fill="#FF8800"/><circle cx="692.4" cy="440.9" r="3.7" fill="#0CD4F6"/><circle cx="640.1" cy="440.2" r="4" fill="#01ECF1"/><circle cx="630.8" cy="444" r="4" fill="#0CD5F6"/><circle cx="611.3" cy="407.5" r="3.7" fill="#F6A200"/><circle cx="738.2" cy="438.8" r="3.7" fill="#1470EB"/><circle cx="763" cy="406.2" r="4" fill="#F79F00"/><circle cx="607.1" cy="436.4" r="3.8" fill="#02EAF1"/><circle cx="538.7" cy="426.4" r="3.9" fill="#27E6D3"/><circle cx="581.3" cy="405.5" r="4" fill="#F5A500"/><circle cx="656.1" cy="407.7" r="4.3" fill="#F89D00"/><circle cx="533.5" cy="397.3" r="3.5" fill="#E8AB0C"/><circle cx="698.8" cy="444.9" r="4" fill="#0FB2F6"/><circle cx="609" cy="415.9" r="3.9" fill="#96C960"/><circle cx="661.7" cy="420.4" r="4" fill="#9CC759"/><circle cx="764.8" cy="399.8" r="4" fill="#FA9800"/><circle cx="575.4" cy="423.1" r="3.4" fill="#57DAA6"/><circle cx="700.4" cy="398.2" r="3.8" fill="#FD9100"/><circle cx="629.7" cy="427.8" r="4.3" fill="#44DFBB"/><circle cx="642.9" cy="401.9" r="4.1" fill="#F89E00"/><circle cx="615.7" cy="420.6" r="3.7" fill="#6DD58E"/><circle cx="714.2" cy="430.6" r="3.6" fill="#3FE0C0"/><circle cx="756.6" cy="435.1" r="3.7" fill="#0FA3F5"/><circle cx="627.6" cy="410.6" r="4.2" fill="#CCB724"/><circle cx="598.7" cy="403.7" r="3.5" fill="#F7A100"/><circle cx="684.9" cy="442.2" r="3.7" fill="#0BD6F6"/><circle cx="681.2" cy="394.1" r="4.3" fill="#FF8700"/><circle cx="537.3" cy="397.2" r="4.2" fill="#EEA806"/><circle cx="563.8" cy="427.1" r="4.1" fill="#5FD89D"/><circle cx="619.8" cy="404.4" r="3.9" fill="#F5A500"/><circle cx="761.5" cy="436.7" r="4.1" fill="#0FA4F5"/><circle cx="638.3" cy="405.1" r="4" fill="#EAAA0A"/><circle cx="531.1" cy="407.3" r="3.9" fill="#B8BE39"/><circle cx="728.6" cy="421.3" r="3.8" fill="#71D489"/><circle cx="748.9" cy="445.5" r="4.1" fill="#146EEB"/><circle cx="689.3" cy="421.1" r="3.4" fill="#77D283"/><circle cx="618.5" cy="439.3" r="4.1" fill="#07DEF4"/><circle cx="688" cy="393.8" r="3.5" fill="#FF7800"/><circle cx="657.7" cy="436.9" r="3.8" fill="#08ECEA"/><circle cx="755" cy="436.7" r="4.3" fill="#1379ED"/><circle cx="704.2" cy="400.5" r="3.6" fill="#FE8F00"/><circle cx="770.5" cy="427" r="3.5" fill="#5CD9A0"/><circle cx="714.2" cy="441" r="3.5" fill="#0FC8F8"/><circle cx="548.7" cy="398.9" r="4" fill="#FD9100"/><circle cx="616.7" cy="430.5" r="3.9" fill="#35E2C8"/><circle cx="670.8" cy="402.8" r="4" fill="#FA9900"/><circle cx="638.3" cy="398" r="3.8" fill="#FB9500"/><circle cx="734.5" cy="406.8" r="3.9" fill="#F4A601"/><circle cx="625.6" cy="446.8" r="3.7" fill="#0ECFF8"/><circle cx="643.5" cy="426.2" r="3.6" fill="#40E0BE"/><circle cx="566.9" cy="391.9" r="3.7" fill="#FF7300"/><circle cx="675.4" cy="432.6" r="3.7" fill="#31E3CB"/><circle cx="751.4" cy="433.2" r="4.2" fill="#1093F2"/><circle cx="739.3" cy="436.2" r="3.4" fill="#0FA6F5"/><circle cx="568.8" cy="401.4" r="4" fill="#FE8E00"/><circle cx="729" cy="423.6" r="3.4" fill="#65D796"/><circle cx="727.3" cy="445.4" r="3.5" fill="#0FB1F6"/><circle cx="548.6" cy="417.3" r="4.1" fill="#B0C143"/><circle cx="726.7" cy="428.4" r="3.9" fill="#57DAA6"/><circle cx="653.6" cy="394.3" r="3.7" fill="#FF8700"/><circle cx="570.6" cy="403.3" r="3.6" fill="#F89F00"/><circle cx="736.3" cy="412.8" r="3.7" fill="#44DFBA"/><circle cx="673.8" cy="394.4" r="3.6" fill="#FF7800"/><circle cx="731.9" cy="405.9" r="3.4" fill="#F4A501"/><circle cx="523.4" cy="410.4" r="3.9" fill="#30E4CC"/><circle cx="650.9" cy="418.2" r="3.7" fill="#98C85E"/><circle cx="607.6" cy="403.4" r="3.6" fill="#F89F00"/><circle cx="743.5" cy="425.4" r="3.7" fill="#05E3F3"/><circle cx="527.3" cy="406.8" r="4.2" fill="#5FD89D"/><circle cx="755.1" cy="418.9" r="4.1" fill="#27E5D3"/><circle cx="578.8" cy="406.4" r="4.1" fill="#F89E00"/><circle cx="546" cy="446" r="3.5" fill="#0FA2F5"/><circle cx="693.6" cy="393.9" r="3.9" fill="#FF7A00"/><circle cx="583" cy="424.7" r="4.2" fill="#75D385"/><circle cx="696.8" cy="406.7" r="3.5" fill="#E3AD10"/><circle cx="662.4" cy="441.4" r="3.4" fill="#08DDF4"/><circle cx="608.6" cy="447.5" r="3.6" fill="#0FABF6"/><circle cx="754.7" cy="395" r="3.7" fill="#FF7A00"/><circle cx="606.4" cy="393.5" r="3.4" fill="#FF7A00"/><circle cx="776.7" cy="425.3" r="4.1" fill="#71D48A"/><circle cx="640.6" cy="426.8" r="3.9" fill="#31E3CB"/><circle cx="661.6" cy="412.9" r="3.8" fill="#E1AE12"/><circle cx="550.9" cy="442.3" r="3.6" fill="#0FC3F7"/><circle cx="593.9" cy="428" r="4.1" fill="#2AE5D1"/><circle cx="554.4" cy="396" r="4.3" fill="#FF8800"/><circle cx="772.5" cy="410.3" r="4.3" fill="#E5AC0E"/><circle cx="582" cy="429.4" r="3.8" fill="#35E3C8"/><circle cx="553.3" cy="401.7" r="3.6" fill="#FB9600"/><circle cx="663.2" cy="400.4" r="3.8" fill="#FF8900"/><circle cx="576.6" cy="425" r="3.6" fill="#60D89C"/><circle cx="655.4" cy="435.1" r="3.9" fill="#01EEEF"/><circle cx="585.2" cy="440.7" r="3.5" fill="#0BD5F6"/><circle cx="745.8" cy="441.9" r="4" fill="#146EEB"/><circle cx="778.2" cy="400.9" r="4.2" fill="#FF7300"/><circle cx="603.5" cy="433.4" r="4" fill="#2AE5D1"/><circle cx="757.9" cy="435.2" r="3.9" fill="#0F9DF4"/><circle cx="703" cy="422.3" r="3.6" fill="#75D385"/><circle cx="714.7" cy="414.3" r="3.8" fill="#B1C041"/><circle cx="724.7" cy="417" r="4.2" fill="#CBB825"/><circle cx="676.8" cy="397.5" r="4.1" fill="#FF8200"/><circle cx="742.4" cy="424" r="3.6" fill="#0ECFF7"/><circle cx="553.7" cy="398.3" r="4.2" fill="#FD9000"/><circle cx="710.8" cy="422.8" r="3.6" fill="#81CF78"/><circle cx="583.5" cy="447.9" r="3.9" fill="#109AF4"/><circle cx="662.4" cy="428.4" r="3.7" fill="#39E2C6"/><circle cx="602.4" cy="408" r="3.7" fill="#E5AC0E"/><circle cx="767.7" cy="409.4" r="3.6" fill="#D6B31C"/><circle cx="680.7" cy="427.1" r="4.2" fill="#36E2C7"/><circle cx="601.4" cy="406.3" r="3.7" fill="#EAAA0A"/><circle cx="586.1" cy="401.4" r="4" fill="#FF8D00"/><circle cx="542.7" cy="397.9" r="4.2" fill="#F99A00"/><circle cx="705.2" cy="442.4" r="3.6" fill="#0FC2F7"/><circle cx="708.9" cy="418.4" r="4.2" fill="#AEC145"/><circle cx="631.5" cy="409.1" r="4.2" fill="#E5AC0E"/><circle cx="556.7" cy="407.6" r="3.8" fill="#E1AE12"/><circle cx="653.7" cy="423.9" r="3.9" fill="#4CDDB2"/><circle cx="651.1" cy="394.7" r="4.1" fill="#FF8800"/><circle cx="756.2" cy="391.9" r="4" fill="#FF7600"/><circle cx="589.6" cy="438" r="4" fill="#00EEF0"/><circle cx="589" cy="421.5" r="4" fill="#92CA65"/><circle cx="573.9" cy="434.9" r="3.8" fill="#17E9DE"/><circle cx="712.3" cy="402.9" r="4.2" fill="#FE8F00"/><circle cx="738" cy="422.6" r="4.2" fill="#01EEEF"/><circle cx="759.2" cy="435.9" r="3.4" fill="#0F9DF4"/><circle cx="738.3" cy="397.3" r="3.4" fill="#FF8D00"/><circle cx="674.6" cy="437.9" r="3.8" fill="#05EDEC"/><circle cx="731.4" cy="420.3" r="3.8" fill="#91CA66"/><circle cx="563.5" cy="428.2" r="3.7" fill="#5DD99F"/><circle cx="653.6" cy="393.6" r="3.9" fill="#FF7B00"/><circle cx="576.8" cy="436.2" r="4.2" fill="#01EEEF"/><circle cx="595.5" cy="399.4" r="4.1" fill="#FC9300"/><circle cx="759.2" cy="433.4" r="3.6" fill="#0FC1F7"/><circle cx="649" cy="407.6" r="3.8" fill="#EAAA0A"/><circle cx="581.7" cy="422.5" r="3.8" fill="#92CA65"/><circle cx="633.2" cy="442.7" r="4.2" fill="#0CD4F6"/><circle cx="750" cy="397.5" r="3.7" fill="#FE8E00"/><circle cx="639.1" cy="417.8" r="3.6" fill="#85CE74"/><circle cx="603.5" cy="394.5" r="3.5" fill="#FF7900"/><circle cx="566.6" cy="443.8" r="3.4" fill="#0AD9F5"/><circle cx="709.9" cy="441.3" r="3.9" fill="#06E1F3"/><circle cx="593.7" cy="439.4" r="3.7" fill="#0BD5F6"/><circle cx="533.9" cy="404.5" r="3.6" fill="#D2B51F"/><circle cx="636.6" cy="427.9" r="3.6" fill="#2BE5D0"/><circle cx="665.2" cy="425.8" r="4.1" fill="#7BD17F"/><circle cx="756.8" cy="413.7" r="3.5" fill="#2EE4CE"/><circle cx="705.9" cy="437.2" r="3.5" fill="#02E9F1"/><circle cx="777" cy="418.2" r="4.2" fill="#CBB826"/><circle cx="599.1" cy="433.6" r="3.6" fill="#06EDEB"/><circle cx="719.3" cy="433.2" r="4" fill="#23E6D6"/><circle cx="563.9" cy="397.1" r="3.4" fill="#FF7B00"/><circle cx="575.1" cy="445.7" r="4.1" fill="#0FA2F5"/><circle cx="697.4" cy="438.3" r="3.7" fill="#03E8F1"/><circle cx="539.9" cy="411.5" r="4" fill="#AAC24A"/><circle cx="580.1" cy="410.1" r="4.2" fill="#E3AD10"/><circle cx="604.8" cy="419.2" r="3.7" fill="#BBBD37"/><circle cx="579.3" cy="417.3" r="4.2" fill="#B6BF3C"/><circle cx="598.2" cy="417.4" r="4.1" fill="#C0BC31"/><circle cx="576.7" cy="419.9" r="4" fill="#AAC249"/><circle cx="728.4" cy="421.3" r="3.9" fill="#78D282"/><circle cx="547.9" cy="433.6" r="3.5" fill="#27E6D3"/><circle cx="532.3" cy="392.9" r="3.5" fill="#F79F00"/><circle cx="703.3" cy="440" r="3.9" fill="#02EAF1"/><circle cx="716.6" cy="425.2" r="3.5" fill="#3FE0C0"/><circle cx="757.3" cy="414.3" r="3.6" fill="#27E5D2"/><circle cx="659.5" cy="425.1" r="4" fill="#82CF77"/><circle cx="628.8" cy="423.8" r="3.9" fill="#55DBA8"/><circle cx="588.4" cy="419.6" r="4.1" fill="#9EC657"/><circle cx="557.4" cy="407.5" r="4.1" fill="#E6AC0D"/><circle cx="728.2" cy="447.2" r="3.9" fill="#0FABF6"/><circle cx="678" cy="417.7" r="3.6" fill="#CDB724"/><circle cx="698.9" cy="405.7" r="3.7" fill="#F6A200"/><circle cx="682.3" cy="418.8" r="3.7" fill="#85CE73"/><circle cx="741.1" cy="399.7" r="3.8" fill="#FF8500"/><circle cx="589.7" cy="413.2" r="3.6" fill="#CCB724"/><circle cx="637" cy="442.4" r="3.7" fill="#0FBFF7"/><circle cx="561.9" cy="428.7" r="3.8" fill="#2FE4CD"/><circle cx="604" cy="434.5" r="3.7" fill="#00EEF0"/><circle cx="616.9" cy="441.4" r="4" fill="#0DD1F7"/><circle cx="689" cy="444.2" r="4" fill="#0FB8F7"/><circle cx="772.1" cy="423.3" r="3.7" fill="#52DCAB"/><circle cx="644.5" cy="442.9" r="3.7" fill="#0DD1F7"/><circle cx="558.1" cy="423.3" r="4" fill="#81CF78"/><circle cx="673.1" cy="404.8" r="3.7" fill="#F5A500"/><circle cx="731.9" cy="427.2" r="4" fill="#3AE1C5"/><circle cx="573.8" cy="408.2" r="3.7" fill="#F89E00"/><circle cx="754.5" cy="401.9" r="3.7" fill="#FD9000"/><circle cx="622.7" cy="430.2" r="3.5" fill="#31E3CB"/><circle cx="646.3" cy="407.9" r="4.1" fill="#F89F00"/><circle cx="617.5" cy="425.2" r="3.5" fill="#5FD89D"/><circle cx="583.2" cy="445.4" r="3.9" fill="#0ECEF8"/><circle cx="757.7" cy="439.7" r="4" fill="#1377ED"/><circle cx="694.4" cy="389.2" r="3.4" fill="#FF7600"/><circle cx="726.5" cy="433.9" r="4" fill="#10EBE4"/><circle cx="731.1" cy="390.7" r="3.4" fill="#FF7600"/><circle cx="662.4" cy="448.2" r="3.4" fill="#0FB5F6"/><circle cx="574.9" cy="425.3" r="4" fill="#48DEB5"/><circle cx="587" cy="437.7" r="3.5" fill="#05E3F3"/><circle cx="533.2" cy="423.6" r="4" fill="#0DEBE6"/><circle cx="683.9" cy="406.3" r="3.7" fill="#EAAA0A"/><circle cx="773" cy="402" r="3.7" fill="#FF7300"/><circle cx="761" cy="417.2" r="3.5" fill="#29E5D1"/><circle cx="573.8" cy="395.5" r="4" fill="#FF8700"/><circle cx="634.5" cy="415.1" r="4.2" fill="#C7B929"/><circle cx="762.1" cy="417.7" r="3.4" fill="#13EAE2"/><circle cx="593.8" cy="394" r="3.8" fill="#FF7C00"/><circle cx="657.9" cy="424.4" r="3.9" fill="#58DAA5"/><circle cx="737.6" cy="443.9" r="3.5" fill="#146EEB"/><circle cx="756.7" cy="424.4" r="3.9" fill="#0BD7F6"/><circle cx="586.3" cy="441.4" r="3.7" fill="#0DD2F7"/><circle cx="587.7" cy="429.9" r="3.7" fill="#25E6D4"/><circle cx="631.7" cy="396.3" r="3.6" fill="#FE8E00"/><circle cx="539.5" cy="405" r="3.5" fill="#CEB623"/><circle cx="654.2" cy="405.5" r="3.6" fill="#F7A100"/><circle cx="705.9" cy="448.4" r="3.9" fill="#0FB2F6"/><circle cx="638.4" cy="434.1" r="3.6" fill="#18E9DE"/><circle cx="587" cy="432.6" r="3.9" fill="#09ECE9"/><circle cx="728.5" cy="436.2" r="3.5" fill="#13EAE2"/><circle cx="602.6" cy="438" r="3.7" fill="#07DEF4"/><circle cx="758.9" cy="430.6" r="4.1" fill="#0FBEF7"/><circle cx="698.5" cy="444.2" r="3.5" fill="#0DD0F7"/><circle cx="574" cy="410.7" r="3.5" fill="#CDB723"/><circle cx="622.2" cy="435.6" r="3.9" fill="#03EDED"/><circle cx="552.3" cy="392.7" r="3.9" fill="#FF8100"/><circle cx="538.3" cy="419.9" r="3.5" fill="#5CD9A1"/><circle cx="651.5" cy="408.4" r="4.1" fill="#D9B119"/><circle cx="649.1" cy="435.2" r="4.3" fill="#01ECF1"/><circle cx="736.9" cy="417.6" r="4.3" fill="#2AE5D1"/><circle cx="524" cy="411.1" r="4.1" fill="#5CD9A0"/><circle cx="551.6" cy="397.4" r="3.7" fill="#FF8300"/><circle cx="606" cy="407.5" r="4.3" fill="#EAAA0A"/><circle cx="587.9" cy="406.8" r="3.5" fill="#ECA908"/><circle cx="630.3" cy="438.3" r="3.7" fill="#01EBF1"/><circle cx="571.4" cy="441.2" r="3.9" fill="#04E6F2"/><circle cx="573.7" cy="391.5" r="3.6" fill="#FF8100"/><circle cx="623.3" cy="421.1" r="3.5" fill="#71D48A"/><circle cx="650.8" cy="439.1" r="4.1" fill="#03E8F1"/><circle cx="761.7" cy="417.9" r="3.4" fill="#04EDED"/><circle cx="580.7" cy="428.6" r="4.1" fill="#52DCAB"/><circle cx="562.8" cy="438" r="4.1" fill="#03E8F1"/><circle cx="667.6" cy="422.1" r="3.8" fill="#65D797"/><circle cx="753.4" cy="437.9" r="3.5" fill="#0F9DF4"/><circle cx="777.7" cy="416.7" r="3.8" fill="#95C962"/><circle cx="532.9" cy="402.3" r="3.9" fill="#C4BA2D"/><circle cx="732.5" cy="416.3" r="3.6" fill="#ADC146"/><circle cx="718.9" cy="417.8" r="3.4" fill="#BFBC32"/><circle cx="710.9" cy="441.9" r="3.8" fill="#05E4F3"/><circle cx="556.3" cy="405.6" r="3.6" fill="#F99A00"/><circle cx="634.9" cy="390.9" r="3.4" fill="#FF7E00"/><circle cx="770.4" cy="414.4" r="4.2" fill="#CAB826"/><circle cx="629" cy="401.3" r="3.8" fill="#FD9200"/><circle cx="577.5" cy="404.8" r="4.2" fill="#F2A603"/><circle cx="634" cy="403.7" r="3.7" fill="#F4A601"/><circle cx="590" cy="394.8" r="3.9" fill="#FF8000"/><circle cx="749.8" cy="429.2" r="4" fill="#0FA8F6"/><circle cx="637.8" cy="406.6" r="4.2" fill="#E7AB0C"/><circle cx="712.6" cy="430.9" r="3.5" fill="#10EAE4"/><circle cx="743" cy="422.6" r="3.9" fill="#08DCF4"/><circle cx="765.8" cy="412" r="4.2" fill="#3AE1C4"/><circle cx="569.2" cy="443.7" r="3.8" fill="#0FBAF7"/><circle cx="664.1" cy="426.9" r="4" fill="#70D48B"/><circle cx="619.5" cy="413.9" r="3.5" fill="#CAB826"/><circle cx="590.2" cy="411.8" r="3.4" fill="#CEB622"/><circle cx="750.2" cy="409.2" r="3.9" fill="#E7AB0C"/><circle cx="768.2" cy="430.1" r="3.5" fill="#0FA3F5"/><circle cx="702.3" cy="400.9" r="4" fill="#FC9300"/><circle cx="774.9" cy="409.9" r="3.8" fill="#FF8900"/><circle cx="698" cy="416.8" r="3.9" fill="#B3BF3F"/><circle cx="717.9" cy="392.7" r="3.6" fill="#FF7300"/><circle cx="547.2" cy="391.6" r="4.2" fill="#FF7300"/><circle cx="696.5" cy="391.9" r="3.5" fill="#FF7300"/><circle cx="542.6" cy="405.3" r="4.1" fill="#E1AE12"/><circle cx="767.5" cy="403.2" r="4.1" fill="#F89E00"/><circle cx="631.3" cy="436.7" r="4.3" fill="#19E9DD"/><circle cx="684.5" cy="420.3" r="4.1" fill="#ABC249"/><circle cx="740.5" cy="430.9" r="3.5" fill="#0F9DF4"/><circle cx="619.1" cy="439.1" r="3.6" fill="#0BD7F6"/><circle cx="700.4" cy="418.8" r="3.9" fill="#B4BF3E"/><circle cx="770.2" cy="434.1" r="4.1" fill="#1187F0"/><circle cx="689.7" cy="402.1" r="4.1" fill="#FE8E00"/><circle cx="624.5" cy="391.9" r="3.6" fill="#FF7300"/><circle cx="769.5" cy="437.4" r="3.9" fill="#146EEB"/><circle cx="619.4" cy="434.9" r="4" fill="#03E8F1"/><circle cx="525" cy="397.1" r="4" fill="#D5B31C"/><circle cx="700.2" cy="392.2" r="4.2" fill="#FF7F00"/><circle cx="760.7" cy="441.4" r="3.7" fill="#1375EC"/><circle cx="637.8" cy="400.7" r="4.1" fill="#FB9700"/><circle cx="745.7" cy="431.5" r="4.1" fill="#0FADF6"/><circle cx="570.4" cy="425.6" r="4.2" fill="#4CDDB2"/><circle cx="692.4" cy="400.3" r="3.5" fill="#F99B00"/><circle cx="627.7" cy="446" r="3.4" fill="#0FC8F8"/><circle cx="698.2" cy="389.9" r="3.6" fill="#FF7600"/><circle cx="627" cy="447.7" r="3.9" fill="#0FACF6"/><circle cx="666.3" cy="426.6" r="4" fill="#6FD48C"/><circle cx="685.2" cy="431.6" r="4.2" fill="#14EAE1"/><circle cx="584.5" cy="431.8" r="4.2" fill="#0EEBE6"/><circle cx="628.6" cy="389.7" r="4.1" fill="#FF7800"/><circle cx="683.7" cy="445.7" r="3.4" fill="#0FBFF7"/><circle cx="566.6" cy="446.4" r="4.1" fill="#0F9CF4"/><circle cx="745.9" cy="415.2" r="4.1" fill="#21E7D7"/><circle cx="578.7" cy="402.7" r="3.6" fill="#FE8F00"/><circle cx="548.2" cy="437.4" r="3.8" fill="#09D9F5"/><circle cx="722.4" cy="447.8" r="3.4" fill="#0F9DF4"/><circle cx="596" cy="414.8" r="4" fill="#C2BB2F"/><circle cx="610" cy="407.9" r="3.8" fill="#DFAF13"/><circle cx="578.1" cy="441.2" r="3.7" fill="#04E6F2"/><circle cx="743.4" cy="441.4" r="4.2" fill="#146EEB"/><circle cx="763.4" cy="427" r="4.3" fill="#0FC9F8"/><circle cx="730.7" cy="413.3" r="4.3" fill="#CEB623"/><circle cx="752.9" cy="424.1" r="4.2" fill="#0DD1F7"/><circle cx="707" cy="406.4" r="4.1" fill="#F89F00"/><circle cx="657.2" cy="436.3" r="4.1" fill="#1DE8DA"/><circle cx="780.9" cy="407.7" r="4.3" fill="#FF8100"/><circle cx="621.3" cy="399.6" r="4.2" fill="#FF8C00"/><circle cx="676.1" cy="418.2" r="3.9" fill="#89CD6E"/><circle cx="720.4" cy="403.5" r="3.5" fill="#FC9400"/><circle cx="556.6" cy="423.7" r="3.6" fill="#61D89B"/><circle cx="714.3" cy="403.3" r="4.2" fill="#F7A100"/><circle cx="680.3" cy="404.3" r="3.8" fill="#F7A100"/><circle cx="658.7" cy="392.4" r="3.7" fill="#FF8400"/><circle cx="746.6" cy="424.8" r="4.2" fill="#08DBF5"/><circle cx="772.8" cy="399.6" r="3.5" fill="#FF7300"/><circle cx="591.2" cy="412.3" r="3.7" fill="#E0AE12"/><circle cx="764.1" cy="431.4" r="3.5" fill="#0FA0F5"/><circle cx="740.6" cy="433.5" r="3.4" fill="#0FB1F6"/><circle cx="545.5" cy="408.5" r="4.3" fill="#D0B621"/><circle cx="527" cy="407" r="4.1" fill="#59DAA4"/><circle cx="562.9" cy="447" r="3.6" fill="#0FB4F6"/><circle cx="554" cy="391.2" r="4" fill="#FF7300"/><circle cx="732.7" cy="448" r="3.6" fill="#0FB8F7"/><circle cx="736.4" cy="416.9" r="4.3" fill="#30E4CC"/><circle cx="713.6" cy="412.1" r="4.1" fill="#EBAA09"/><circle cx="663.2" cy="403.1" r="3.5" fill="#FB9500"/><circle cx="597.8" cy="407" r="4.2" fill="#F79F00"/><circle cx="583.3" cy="431.3" r="3.9" fill="#14EAE1"/><circle cx="767.3" cy="423.8" r="4.2" fill="#02E9F1"/><circle cx="703.7" cy="392.4" r="3.4" fill="#FF7900"/><circle cx="671.8" cy="425.4" r="3.5" fill="#51DCAC"/><circle cx="626.6" cy="441.6" r="3.6" fill="#08DDF4"/><circle cx="602.5" cy="429.8" r="3.7" fill="#1CE8DB"/><circle cx="768.7" cy="417.8" r="4.2" fill="#1FE7D9"/><circle cx="666" cy="435.2" r="4.1" fill="#0CEBE7"/><circle cx="610.5" cy="435.6" r="3.7" fill="#01EEEF"/><circle cx="724" cy="444" r="3.8" fill="#0BD5F6"/><circle cx="724.1" cy="393.8" r="3.4" fill="#FF7B00"/><circle cx="541.6" cy="397.6" r="3.6" fill="#FF8D00"/><circle cx="664.1" cy="405.3" r="3.9" fill="#FA9900"/><circle cx="673.7" cy="434.1" r="3.7" fill="#05EDEC"/><circle cx="641.5" cy="422.8" r="3.5" fill="#8ECB6A"/><circle cx="653.8" cy="434.7" r="3.8" fill="#04EDED"/><circle cx="545.3" cy="408.2" r="3.9" fill="#DBB117"/><circle cx="733.8" cy="405.1" r="3.7" fill="#F2A603"/><circle cx="523.9" cy="411.5" r="3.4" fill="#23E7D6"/><circle cx="631.4" cy="440.3" r="3.7" fill="#05E2F3"/><circle cx="525.1" cy="415.3" r="3.7" fill="#1DE8DB"/><circle cx="650" cy="434.4" r="4.2" fill="#10EBE4"/><circle cx="568.7" cy="394.6" r="3.5" fill="#FF7B00"/><circle cx="713.6" cy="416.3" r="3.8" fill="#B6BE3C"/><circle cx="574.1" cy="421.9" r="4.2" fill="#8ECB69"/><circle cx="578" cy="439.8" r="4" fill="#04E4F2"/><circle cx="617.8" cy="393.7" r="4.1" fill="#FF8700"/><circle cx="618.8" cy="390.7" r="3.7" fill="#FF7D00"/><circle cx="576.9" cy="434.1" r="4" fill="#1BE8DC"/><circle cx="533.2" cy="432" r="3.9" fill="#0FC9F8"/><circle cx="691.3" cy="432.3" r="3.8" fill="#2EE4CE"/><circle cx="623.8" cy="417.1" r="3.8" fill="#C3BA2D"/><circle cx="639.9" cy="425.1" r="3.9" fill="#76D284"/><circle cx="594" cy="441.8" r="3.5" fill="#0FC1F7"/><circle cx="557.1" cy="437.9" r="4.2" fill="#01ECF0"/><circle cx="551.7" cy="437.1" r="3.4" fill="#05E2F3"/><circle cx="568.7" cy="423" r="3.5" fill="#85CE74"/><circle cx="714" cy="446.9" r="4" fill="#0FB3F6"/><circle cx="580.8" cy="422.2" r="3.8" fill="#8BCC6D"/><circle cx="742.1" cy="432.4" r="3.7" fill="#0F9CF4"/><circle cx="651.3" cy="429.2" r="4.1" fill="#58DAA5"/><circle cx="719.9" cy="429.9" r="4" fill="#39E2C5"/><circle cx="692.4" cy="391.1" r="4" fill="#FF7300"/><circle cx="596.5" cy="411.9" r="4.1" fill="#E9AA0B"/><circle cx="641.7" cy="392.9" r="4.2" fill="#FF7300"/><circle cx="643.2" cy="434.2" r="4" fill="#02E9F1"/><circle cx="568.4" cy="444.2" r="4.3" fill="#0BD6F6"/><circle cx="740.2" cy="421.7" r="4.2" fill="#03E8F2"/><circle cx="777.4" cy="397.1" r="3.6" fill="#FF7300"/><circle cx="666.1" cy="430.5" r="3.8" fill="#1FE7D9"/><circle cx="593.8" cy="430.5" r="3.7" fill="#4BDDB3"/><circle cx="642.5" cy="417.8" r="3.9" fill="#A0C555"/><circle cx="589.6" cy="445.1" r="3.9" fill="#0CD3F6"/><circle cx="670" cy="394.5" r="3.5" fill="#FF7700"/><circle cx="617.1" cy="408" r="3.5" fill="#F6A300"/><circle cx="771.8" cy="442.8" r="3.8" fill="#146EEB"/><circle cx="539" cy="410.1" r="4.1" fill="#B8BE3A"/><circle cx="740.8" cy="411.7" r="3.6" fill="#3CE1C3"/><circle cx="742.7" cy="445.1" r="4.1" fill="#146EEB"/><circle cx="704" cy="427.7" r="3.9" fill="#5ED99F"/><circle cx="768.8" cy="420.9" r="4.3" fill="#06EDEB"/><circle cx="575.6" cy="434.8" r="4.1" fill="#00EDF0"/><circle cx="576.7" cy="435.9" r="3.4" fill="#02EBF1"/><circle cx="730" cy="441.6" r="3.4" fill="#05E2F3"/><circle cx="595.3" cy="429.1" r="4.2" fill="#42DFBC"/><circle cx="681.8" cy="446.1" r="4" fill="#0FB6F6"/><circle cx="572.9" cy="405.7" r="3.8" fill="#FA9900"/><circle cx="650.4" cy="404" r="3.9" fill="#F6A200"/><circle cx="638.6" cy="409.3" r="3.7" fill="#EFA705"/><circle cx="720.3" cy="412.6" r="4.3" fill="#DFAF13"/><circle cx="768" cy="396.8" r="3.9" fill="#FF7F00"/><circle cx="634.2" cy="433.1" r="4" fill="#1AE8DD"/><circle cx="605.1" cy="399.3" r="4.1" fill="#FD9000"/><circle cx="538.6" cy="417.5" r="3.4" fill="#46DFB8"/><circle cx="610.9" cy="439.4" r="3.9" fill="#02EAF1"/><circle cx="555.3" cy="440.6" r="4" fill="#05E3F3"/><circle cx="712.8" cy="445.6" r="4.1" fill="#0FB3F6"/><circle cx="530.6" cy="406.4" r="3.9" fill="#8DCB6A"/><circle cx="608" cy="442" r="3.9" fill="#0CD4F6"/><circle cx="621.7" cy="439.2" r="3.7" fill="#0BD5F6"/><circle cx="686" cy="415.7" r="3.7" fill="#B5BF3E"/><circle cx="590.6" cy="421.2" r="3.6" fill="#A1C553"/><circle cx="666.8" cy="399.4" r="3.8" fill="#FB9600"/><circle cx="653.1" cy="414.9" r="3.9" fill="#D9B119"/><circle cx="679.3" cy="406.8" r="3.5" fill="#F7A100"/><circle cx="650.7" cy="414.4" r="3.8" fill="#DEAF14"/><circle cx="736.6" cy="418.6" r="3.8" fill="#25E6D4"/><circle cx="624.7" cy="417.7" r="3.6" fill="#AFC144"/><circle cx="561.8" cy="393.7" r="3.8" fill="#FF8600"/><circle cx="571.7" cy="447.7" r="3.9" fill="#118EF1"/><circle cx="708.5" cy="414.5" r="4.1" fill="#B7BE3B"/><circle cx="551.7" cy="393.4" r="4.2" fill="#FF7600"/><circle cx="701.8" cy="394.9" r="4.1" fill="#FF7D00"/><circle cx="601.9" cy="406.9" r="3.8" fill="#F5A400"/><circle cx="561.3" cy="411" r="3.9" fill="#DEAF14"/><circle cx="687.7" cy="443.4" r="3.8" fill="#0CD4F6"/><circle cx="656.1" cy="391" r="3.4" fill="#FF7800"/><circle cx="694.9" cy="400.1" r="3.8" fill="#F99B00"/><circle cx="645.8" cy="430.2" r="3.8" fill="#32E3CA"/><circle cx="571" cy="414.7" r="3.5" fill="#B4BF3F"/><circle cx="675.7" cy="420" r="3.9" fill="#99C85C"/><circle cx="575.4" cy="427.2" r="4" fill="#62D89A"/><circle cx="739" cy="435.4" r="3.8" fill="#0FB0F6"/><circle cx="746.4" cy="402.5" r="3.5" fill="#FE8E00"/><circle cx="673.1" cy="398.3" r="4" fill="#FF7F00"/><circle cx="726.5" cy="438.7" r="4" fill="#05E2F3"/><circle cx="773.5" cy="416.9" r="3.4" fill="#A2C553"/><circle cx="696.1" cy="399" r="3.8" fill="#FA9800"/><circle cx="614.5" cy="445.6" r="4.2" fill="#0BD5F6"/><circle cx="534" cy="429.7" r="3.5" fill="#02E9F1"/><circle cx="687.1" cy="444.3" r="3.6" fill="#0FCBF8"/><circle cx="631.9" cy="422.5" r="4" fill="#56DAA7"/><circle cx="737.2" cy="411.7" r="3.6" fill="#2AE5D0"/><circle cx="706.6" cy="437.8" r="3.6" fill="#05E3F3"/><circle cx="745.7" cy="428.6" r="4" fill="#0FACF6"/><circle cx="659.2" cy="448.5" r="4" fill="#0FA6F5"/><circle cx="554" cy="410.9" r="3.6" fill="#DAB118"/><circle cx="570.5" cy="398.1" r="3.9" fill="#FC9200"/><circle cx="548.7" cy="447.5" r="3.8" fill="#1096F3"/><circle cx="734.2" cy="445.1" r="3.8" fill="#0FCEF8"/><circle cx="657.6" cy="396.6" r="4.1" fill="#FF7E00"/><circle cx="629.8" cy="419.5" r="4" fill="#93C963"/><circle cx="747.5" cy="401.7" r="3.9" fill="#F99B00"/><circle cx="651.5" cy="417.9" r="3.9" fill="#C7B929"/><circle cx="652.6" cy="434" r="3.9" fill="#04EDED"/><circle cx="772.3" cy="440.5" r="4" fill="#146EEB"/><circle cx="673.8" cy="431" r="3.6" fill="#12EAE3"/><circle cx="589.7" cy="414.4" r="3.6" fill="#D0B521"/><circle cx="654.1" cy="436.8" r="3.9" fill="#03E7F2"/><circle cx="656.7" cy="425.1" r="3.6" fill="#4DDDB0"/><circle cx="577" cy="397.1" r="3.7" fill="#FF8600"/><circle cx="723.3" cy="443.2" r="4" fill="#0FC1F7"/><circle cx="607.4" cy="394.3" r="4.1" fill="#FF8A00"/><circle cx="574.3" cy="416" r="4.1" fill="#96C960"/><circle cx="655.1" cy="394.4" r="3.8" fill="#FF8A00"/><circle cx="588.7" cy="428.7" r="3.5" fill="#37E2C7"/><circle cx="536.2" cy="429.8" r="4.2" fill="#01ECF0"/><circle cx="665" cy="414.1" r="3.9" fill="#D9B219"/><circle cx="543.2" cy="429.6" r="3.5" fill="#17E9DF"/><circle cx="696.9" cy="445.4" r="4.1" fill="#0FCBF8"/></g>
<line x1="780" y1="380" x2="812.4" y2="380" stroke="#FF0000" stroke-width="2"/>
<path d="M790,373.3 L779,380 L790,386.8" fill="none" stroke="#FF0000" stroke-width="2"/>
<line x1="778.2" y1="453.9" x2="810" y2="453.9" stroke="#0000FF" stroke-width="2"/>
<path d="M800.2,447.3 L811.5,453.9 L800.2,460.6" fill="none" stroke="#0000FF" stroke-width="2"/>
<text x="816" y="388.6" font-size="19.5" fill="#000" text-anchor="start" font-weight="bold" >Heat source</text>
<text x="815" y="461.6" font-size="19.5" fill="#000" text-anchor="start" font-weight="bold" >Heat sink</text>
<text x="516" y="355.5" font-size="28" fill="#000" text-anchor="start" font-weight="bold" >f</text>
<defs><linearGradient id="hf" x1="0" y1="0" x2="0" y2="1"><stop offset="0" stop-color="#F27A8A"/><stop offset="1" stop-color="#8A7AF2"/></linearGradient></defs>
<rect x="949.7" y="325.7" width="297.8" height="180.3" fill="none" stroke="#000" stroke-width="2.4" stroke-dasharray="9 6"/>
<rect x="1013.5" y="338.3" width="1.5" height="137" fill="url(#hf)"/>
<path d="M1006.7,474 L1021.5,474 L1014.2,488.8 Z" fill="#8A7AF2"/>
<text transform="translate(998.5,414.2) rotate(-90)" font-size="20" font-weight="bold" text-anchor="middle" fill="#000">Heat Flow</text>
<line x1="1038.6" y1="348" x2="1038.6" y2="481.5" stroke="#000" stroke-width="2"/>
<rect x="1034.8" y="356.4" width="7.5" height="26.5" fill="#fff" stroke="#000" stroke-width="2"/>
<rect x="1034.8" y="398.6" width="7.5" height="26.5" fill="#fff" stroke="#000" stroke-width="2"/>
<rect x="1034.8" y="440.8" width="7.5" height="27.6" fill="#fff" stroke="#000" stroke-width="2"/>
<circle cx="1038.6" cy="341.7" r="5.6" fill="#fff" stroke="#FF0000" stroke-width="2"/>
<circle cx="1038.6" cy="487.7" r="5.6" fill="#fff" stroke="#0000FF" stroke-width="2"/>
<text x="1054" y="347.4" font-size="16.8" fill="#000" text-anchor="start" font-weight="bold" letter-spacing="0.3">Top Graphene</text>
<text x="1054" y="374.7" font-size="16.8" fill="#000" text-anchor="start" font-weight="bold" letter-spacing="0.3">Interface</text>
<text x="1054" y="404.8" font-size="16.8" fill="#000" text-anchor="start" font-weight="bold" letter-spacing="0.3">Sericin</text>
<text x="1054" y="425.3" font-size="16.8" fill="#000" text-anchor="start" font-weight="bold" letter-spacing="0.3">Or Sericin/Water</text>
<text x="1054" y="459.1" font-size="16.8" fill="#000" text-anchor="start" font-weight="bold" letter-spacing="0.3">Interface</text>
<text x="1054" y="491.5" font-size="16.8" fill="#000" text-anchor="start" font-weight="bold" letter-spacing="0.3">Bottom Graphene</text>
<text x="928" y="355" font-size="28" fill="#000" text-anchor="start" font-weight="bold" >g</text>
<rect x="572.4" y="525.9" width="298.7" height="256.4" fill="none" stroke="#000" stroke-width="2.6"/>
<line x1="568.4" y1="781.9" x2="572.4" y2="781.9" stroke="#000" stroke-width="2"/>
<text x="565.9" y="787.4" font-size="16.3" fill="#000" text-anchor="end" font-weight="bold" >240</text>
<line x1="569.9" y1="749.9" x2="572.4" y2="749.9" stroke="#000" stroke-width="2"/>
<line x1="568.4" y1="717.9" x2="572.4" y2="717.9" stroke="#000" stroke-width="2"/>
<text x="565.9" y="723.4" font-size="16.3" fill="#000" text-anchor="end" font-weight="bold" >270</text>
<line x1="569.9" y1="685.9" x2="572.4" y2="685.9" stroke="#000" stroke-width="2"/>
<line x1="568.4" y1="653.9" x2="572.4" y2="653.9" stroke="#000" stroke-width="2"/>
<text x="565.9" y="659.4" font-size="16.3" fill="#000" text-anchor="end" font-weight="bold" >300</text>
<line x1="569.9" y1="621.9" x2="572.4" y2="621.9" stroke="#000" stroke-width="2"/>
<line x1="568.4" y1="589.9" x2="572.4" y2="589.9" stroke="#000" stroke-width="2"/>
<text x="565.9" y="595.4" font-size="16.3" fill="#000" text-anchor="end" font-weight="bold" >330</text>
<line x1="569.9" y1="557.9" x2="572.4" y2="557.9" stroke="#000" stroke-width="2"/>
<line x1="568.4" y1="525.9" x2="572.4" y2="525.9" stroke="#000" stroke-width="2"/>
<text x="565.9" y="531.4" font-size="16.3" fill="#000" text-anchor="end" font-weight="bold" >360</text>
<line x1="589.6" y1="782.3" x2="589.6" y2="786.3" stroke="#000" stroke-width="2"/>
<text x="589.6" y="801" font-size="16" fill="#000" text-anchor="middle" font-weight="bold" >0</text>
<line x1="615.9" y1="782.3" x2="615.9" y2="784.8" stroke="#000" stroke-width="2"/>
<line x1="642.1" y1="782.3" x2="642.1" y2="786.3" stroke="#000" stroke-width="2"/>
<text x="642.1" y="801" font-size="16" fill="#000" text-anchor="middle" font-weight="bold" >3</text>
<line x1="668.4" y1="782.3" x2="668.4" y2="784.8" stroke="#000" stroke-width="2"/>
<line x1="694.6" y1="782.3" x2="694.6" y2="786.3" stroke="#000" stroke-width="2"/>
<text x="694.6" y="801" font-size="16" fill="#000" text-anchor="middle" font-weight="bold" >6</text>
<line x1="720.9" y1="782.3" x2="720.9" y2="784.8" stroke="#000" stroke-width="2"/>
<line x1="747.1" y1="782.3" x2="747.1" y2="786.3" stroke="#000" stroke-width="2"/>
<text x="747.1" y="801" font-size="16" fill="#000" text-anchor="middle" font-weight="bold" >9</text>
<line x1="773.4" y1="782.3" x2="773.4" y2="784.8" stroke="#000" stroke-width="2"/>
<line x1="799.6" y1="782.3" x2="799.6" y2="786.3" stroke="#000" stroke-width="2"/>
<text x="799.6" y="801" font-size="16" fill="#000" text-anchor="middle" font-weight="bold" >12</text>
<line x1="825.9" y1="782.3" x2="825.9" y2="784.8" stroke="#000" stroke-width="2"/>
<line x1="852.1" y1="782.3" x2="852.1" y2="786.3" stroke="#000" stroke-width="2"/>
<text x="852.1" y="801" font-size="16" fill="#000" text-anchor="middle" font-weight="bold" >15</text>
<text x="720" y="817.5" font-size="21.4" fill="#000" text-anchor="middle" font-weight="bold" >Z position (Å)</text>
<text transform="translate(533,654) rotate(-90)" font-size="21.65" font-weight="bold" text-anchor="middle" fill="#000">Temperature (K)</text>
<rect x="630.8" y="658.1" width="8.2" height="8.2" fill="none" stroke="#FF6A10" stroke-width="2.4"/>
<rect x="637.1" y="653.4" width="8.2" height="8.2" fill="none" stroke="#FF6A10" stroke-width="2.4"/>
<rect x="644.3" y="652" width="8.2" height="8.2" fill="none" stroke="#FF6A10" stroke-width="2.4"/>
<rect x="651.5" y="652" width="8.2" height="8.2" fill="none" stroke="#FF6A10" stroke-width="2.4"/>
<rect x="657.8" y="649.6" width="8.2" height="8.2" fill="none" stroke="#FF6A10" stroke-width="2.4"/>
<rect x="666.4" y="651.1" width="8.2" height="8.2" fill="none" stroke="#FF6A10" stroke-width="2.4"/>
<rect x="673.5" y="652" width="8.2" height="8.2" fill="none" stroke="#FF6A10" stroke-width="2.4"/>
<rect x="680.5" y="652" width="8.2" height="8.2" fill="none" stroke="#FF6A10" stroke-width="2.4"/>
<rect x="687.7" y="652.8" width="8.2" height="8.2" fill="none" stroke="#FF6A10" stroke-width="2.4"/>
<rect x="694" y="653.4" width="8.2" height="8.2" fill="none" stroke="#FF6A10" stroke-width="2.4"/>
<rect x="701.9" y="647.9" width="8.2" height="8.2" fill="none" stroke="#FF6A10" stroke-width="2.4"/>
<rect x="708.9" y="646.4" width="8.2" height="8.2" fill="none" stroke="#FF6A10" stroke-width="2.4"/>
<rect x="715.4" y="648.8" width="8.2" height="8.2" fill="none" stroke="#FF6A10" stroke-width="2.4"/>
<rect x="722.4" y="647.9" width="8.2" height="8.2" fill="none" stroke="#FF6A10" stroke-width="2.4"/>
<rect x="728.6" y="646.4" width="8.2" height="8.2" fill="none" stroke="#FF6A10" stroke-width="2.4"/>
<rect x="735.8" y="645.6" width="8.2" height="8.2" fill="none" stroke="#FF6A10" stroke-width="2.4"/>
<rect x="742.1" y="646.4" width="8.2" height="8.2" fill="none" stroke="#FF6A10" stroke-width="2.4"/>
<rect x="750" y="644.1" width="8.2" height="8.2" fill="none" stroke="#FF6A10" stroke-width="2.4"/>
<rect x="757" y="643.2" width="8.2" height="8.2" fill="none" stroke="#FF6A10" stroke-width="2.4"/>
<rect x="763.3" y="642.6" width="8.2" height="8.2" fill="none" stroke="#FF6A10" stroke-width="2.4"/>
<rect x="770.5" y="642.6" width="8.2" height="8.2" fill="none" stroke="#FF6A10" stroke-width="2.4"/>
<rect x="777.6" y="642.6" width="8.2" height="8.2" fill="none" stroke="#FF6A10" stroke-width="2.4"/>
<rect x="784.6" y="639.4" width="8.2" height="8.2" fill="none" stroke="#FF6A10" stroke-width="2.4"/>
<rect x="791" y="643.2" width="8.2" height="8.2" fill="none" stroke="#FF6A10" stroke-width="2.4"/>
<rect x="798.8" y="641.7" width="8.2" height="8.2" fill="none" stroke="#FF6A10" stroke-width="2.4"/>
<line x1="598.4" y1="663.1" x2="839.9" y2="641.5" stroke="#F8BF90" stroke-width="2.2" stroke-dasharray="5 4.5"/>
<rect x="594.1" y="756.3" width="8.5" height="8.5" fill="none" stroke="#555" stroke-width="2.2"/>
<rect x="835.6" y="543" width="8.5" height="8.5" fill="none" stroke="#555" stroke-width="2.2"/>
<line x1="597.6" y1="667.2" x2="597.6" y2="753.5" stroke="#000" stroke-width="2"/>
<path d="M590.1,679.7 L597.6,667.2 L605.1,679.7" fill="none" stroke="#000" stroke-width="2"/>
<path d="M590.1,741 L597.6,753.5 L605.1,741" fill="none" stroke="#000" stroke-width="2"/>
<line x1="840.6" y1="557.5" x2="840.6" y2="633.9" stroke="#000" stroke-width="2"/>
<path d="M833.1,570 L840.6,557.5 L848.1,570" fill="none" stroke="#000" stroke-width="2"/>
<path d="M833.1,621.4 L840.6,633.9 L848.1,621.4" fill="none" stroke="#000" stroke-width="2"/>
<text x="605" y="727.5" font-size="19" font-weight="bold" fill="#000">Δ<tspan font-style="italic">T</tspan><tspan font-size="13" dy="4">c</tspan></text>
<text x="799" y="596.7" font-size="19" font-weight="bold" fill="#000">Δ<tspan font-style="italic">T</tspan><tspan font-size="13" dy="4">h</tspan></text>
<text x="616.3" y="773.4" font-size="20.3" font-weight="bold" fill="#000">ITC = 90.6±6.5 MW·K<tspan font-size="12" dy="-7">-1</tspan><tspan dy="7">·m</tspan><tspan font-size="12" dy="-7">-2</tspan></text>
<text x="589.8" y="555.3" font-size="19.5" fill="#FF6A10" text-anchor="start" font-weight="bold" >Dry</text>
<rect x="952.4" y="525.9" width="296.7" height="256.4" fill="none" stroke="#000" stroke-width="2.6"/>
<line x1="948.4" y1="781.9" x2="952.4" y2="781.9" stroke="#000" stroke-width="2"/>
<text x="945.9" y="787.4" font-size="16.3" fill="#000" text-anchor="end" font-weight="bold" >240</text>
<line x1="949.9" y1="749.9" x2="952.4" y2="749.9" stroke="#000" stroke-width="2"/>
<line x1="948.4" y1="717.9" x2="952.4" y2="717.9" stroke="#000" stroke-width="2"/>
<text x="945.9" y="723.4" font-size="16.3" fill="#000" text-anchor="end" font-weight="bold" >270</text>
<line x1="949.9" y1="685.9" x2="952.4" y2="685.9" stroke="#000" stroke-width="2"/>
<line x1="948.4" y1="653.9" x2="952.4" y2="653.9" stroke="#000" stroke-width="2"/>
<text x="945.9" y="659.4" font-size="16.3" fill="#000" text-anchor="end" font-weight="bold" >300</text>
<line x1="949.9" y1="621.9" x2="952.4" y2="621.9" stroke="#000" stroke-width="2"/>
<line x1="948.4" y1="589.9" x2="952.4" y2="589.9" stroke="#000" stroke-width="2"/>
<text x="945.9" y="595.4" font-size="16.3" fill="#000" text-anchor="end" font-weight="bold" >330</text>
<line x1="949.9" y1="557.9" x2="952.4" y2="557.9" stroke="#000" stroke-width="2"/>
<line x1="948.4" y1="525.9" x2="952.4" y2="525.9" stroke="#000" stroke-width="2"/>
<text x="945.9" y="531.4" font-size="16.3" fill="#000" text-anchor="end" font-weight="bold" >360</text>
<line x1="969.6" y1="782.3" x2="969.6" y2="786.3" stroke="#000" stroke-width="2"/>
<text x="969.6" y="801" font-size="16" fill="#000" text-anchor="middle" font-weight="bold" >0</text>
<line x1="994.8" y1="782.3" x2="994.8" y2="784.8" stroke="#000" stroke-width="2"/>
<line x1="1020" y1="782.3" x2="1020" y2="786.3" stroke="#000" stroke-width="2"/>
<text x="1020" y="801" font-size="16" fill="#000" text-anchor="middle" font-weight="bold" >3</text>
<line x1="1045.2" y1="782.3" x2="1045.2" y2="784.8" stroke="#000" stroke-width="2"/>
<line x1="1070.4" y1="782.3" x2="1070.4" y2="786.3" stroke="#000" stroke-width="2"/>
<text x="1070.4" y="801" font-size="16" fill="#000" text-anchor="middle" font-weight="bold" >6</text>
<line x1="1095.6" y1="782.3" x2="1095.6" y2="784.8" stroke="#000" stroke-width="2"/>
<line x1="1120.8" y1="782.3" x2="1120.8" y2="786.3" stroke="#000" stroke-width="2"/>
<text x="1120.8" y="801" font-size="16" fill="#000" text-anchor="middle" font-weight="bold" >9</text>
<line x1="1146" y1="782.3" x2="1146" y2="784.8" stroke="#000" stroke-width="2"/>
<line x1="1171.2" y1="782.3" x2="1171.2" y2="786.3" stroke="#000" stroke-width="2"/>
<text x="1171.2" y="801" font-size="16" fill="#000" text-anchor="middle" font-weight="bold" >12</text>
<line x1="1196.4" y1="782.3" x2="1196.4" y2="784.8" stroke="#000" stroke-width="2"/>
<line x1="1221.6" y1="782.3" x2="1221.6" y2="786.3" stroke="#000" stroke-width="2"/>
<text x="1221.6" y="801" font-size="16" fill="#000" text-anchor="middle" font-weight="bold" >15</text>
<text x="1100" y="817.5" font-size="21.4" fill="#000" text-anchor="middle" font-weight="bold" >Z position (Å)</text>
<text transform="translate(913,654) rotate(-90)" font-size="21.65" font-weight="bold" text-anchor="middle" fill="#000">Temperature (K)</text>
<rect x="1006.8" y="650" width="8.2" height="8.2" fill="none" stroke="#1E6FE0" stroke-width="2.4"/>
<rect x="1013.9" y="654.7" width="8.2" height="8.2" fill="none" stroke="#1E6FE0" stroke-width="2.4"/>
<rect x="1021.1" y="650.9" width="8.2" height="8.2" fill="none" stroke="#1E6FE0" stroke-width="2.4"/>
<rect x="1027.3" y="651.7" width="8.2" height="8.2" fill="none" stroke="#1E6FE0" stroke-width="2.4"/>
<rect x="1033.7" y="652.4" width="8.2" height="8.2" fill="none" stroke="#1E6FE0" stroke-width="2.4"/>
<rect x="1041.6" y="650" width="8.2" height="8.2" fill="none" stroke="#1E6FE0" stroke-width="2.4"/>
<rect x="1047.8" y="649.4" width="8.2" height="8.2" fill="none" stroke="#1E6FE0" stroke-width="2.4"/>
<rect x="1054.9" y="650" width="8.2" height="8.2" fill="none" stroke="#1E6FE0" stroke-width="2.4"/>
<rect x="1060.4" y="648.5" width="8.2" height="8.2" fill="none" stroke="#1E6FE0" stroke-width="2.4"/>
<rect x="1068.3" y="644.5" width="8.2" height="8.2" fill="none" stroke="#1E6FE0" stroke-width="2.4"/>
<rect x="1075.4" y="644.5" width="8.2" height="8.2" fill="none" stroke="#1E6FE0" stroke-width="2.4"/>
<rect x="1081.8" y="646.2" width="8.2" height="8.2" fill="none" stroke="#1E6FE0" stroke-width="2.4"/>
<rect x="1088.1" y="646.2" width="8.2" height="8.2" fill="none" stroke="#1E6FE0" stroke-width="2.4"/>
<rect x="1094.4" y="643" width="8.2" height="8.2" fill="none" stroke="#1E6FE0" stroke-width="2.4"/>
<rect x="1100.7" y="644.5" width="8.2" height="8.2" fill="none" stroke="#1E6FE0" stroke-width="2.4"/>
<rect x="1108.6" y="639.8" width="8.2" height="8.2" fill="none" stroke="#1E6FE0" stroke-width="2.4"/>
<rect x="1114.9" y="640.6" width="8.2" height="8.2" fill="none" stroke="#1E6FE0" stroke-width="2.4"/>
<rect x="1121.9" y="643" width="8.2" height="8.2" fill="none" stroke="#1E6FE0" stroke-width="2.4"/>
<rect x="1127.5" y="640.6" width="8.2" height="8.2" fill="none" stroke="#1E6FE0" stroke-width="2.4"/>
<rect x="1134.7" y="641.5" width="8.2" height="8.2" fill="none" stroke="#1E6FE0" stroke-width="2.4"/>
<rect x="1141.7" y="640.6" width="8.2" height="8.2" fill="none" stroke="#1E6FE0" stroke-width="2.4"/>
<rect x="1147.9" y="642.1" width="8.2" height="8.2" fill="none" stroke="#1E6FE0" stroke-width="2.4"/>
<rect x="1154.3" y="641.5" width="8.2" height="8.2" fill="none" stroke="#1E6FE0" stroke-width="2.4"/>
<rect x="1161.4" y="638.3" width="8.2" height="8.2" fill="none" stroke="#1E6FE0" stroke-width="2.4"/>
<rect x="1168.4" y="638.3" width="8.2" height="8.2" fill="none" stroke="#1E6FE0" stroke-width="2.4"/>
<rect x="1174.8" y="639.8" width="8.2" height="8.2" fill="none" stroke="#1E6FE0" stroke-width="2.4"/>
<rect x="1182.7" y="636" width="8.2" height="8.2" fill="none" stroke="#1E6FE0" stroke-width="2.4"/>
<line x1="978" y1="659.7" x2="1221.6" y2="637.9" stroke="#9EC2F2" stroke-width="2.2" stroke-dasharray="5 4.5"/>
<rect x="973.2" y="756.3" width="8.5" height="8.5" fill="none" stroke="#555" stroke-width="2.2"/>
<rect x="1215.7" y="543" width="8.5" height="8.5" fill="none" stroke="#555" stroke-width="2.2"/>
<line x1="977.6" y1="664.1" x2="977.6" y2="752.5" stroke="#000" stroke-width="2"/>
<path d="M970.1,676.6 L977.6,664.1 L985.1,676.6" fill="none" stroke="#000" stroke-width="2"/>
<path d="M970.1,740 L977.6,752.5 L985.1,740" fill="none" stroke="#000" stroke-width="2"/>
<line x1="1221.2" y1="557.5" x2="1221.2" y2="633.9" stroke="#000" stroke-width="2"/>
<path d="M1213.7,570 L1221.2,557.5 L1228.7,570" fill="none" stroke="#000" stroke-width="2"/>
<path d="M1213.7,621.4 L1221.2,633.9 L1228.7,621.4" fill="none" stroke="#000" stroke-width="2"/>
<text x="981" y="716.1" font-size="19" font-weight="bold" fill="#000">Δ<tspan font-style="italic">T</tspan><tspan font-size="13" dy="4">c</tspan></text>
<text x="1178" y="597.2" font-size="19" font-weight="bold" fill="#000">Δ<tspan font-style="italic">T</tspan><tspan font-size="13" dy="4">h</tspan></text>
<text x="996.3" y="773.4" font-size="20.3" font-weight="bold" fill="#000">ITC = 79.5±0.1 MW·K<tspan font-size="12" dy="-7">-1</tspan><tspan dy="7">·m</tspan><tspan font-size="12" dy="-7">-2</tspan></text>
<text x="967.3" y="555.3" font-size="19.5" fill="#4472C4" text-anchor="start" font-weight="bold" >Wet</text>
<text x="515" y="542.7" font-size="28" fill="#000" text-anchor="start" font-weight="bold" >h</text>
<text x="896" y="543.7" font-size="28" fill="#000" text-anchor="start" font-weight="bold" >i</text>
</svg></body></html>
